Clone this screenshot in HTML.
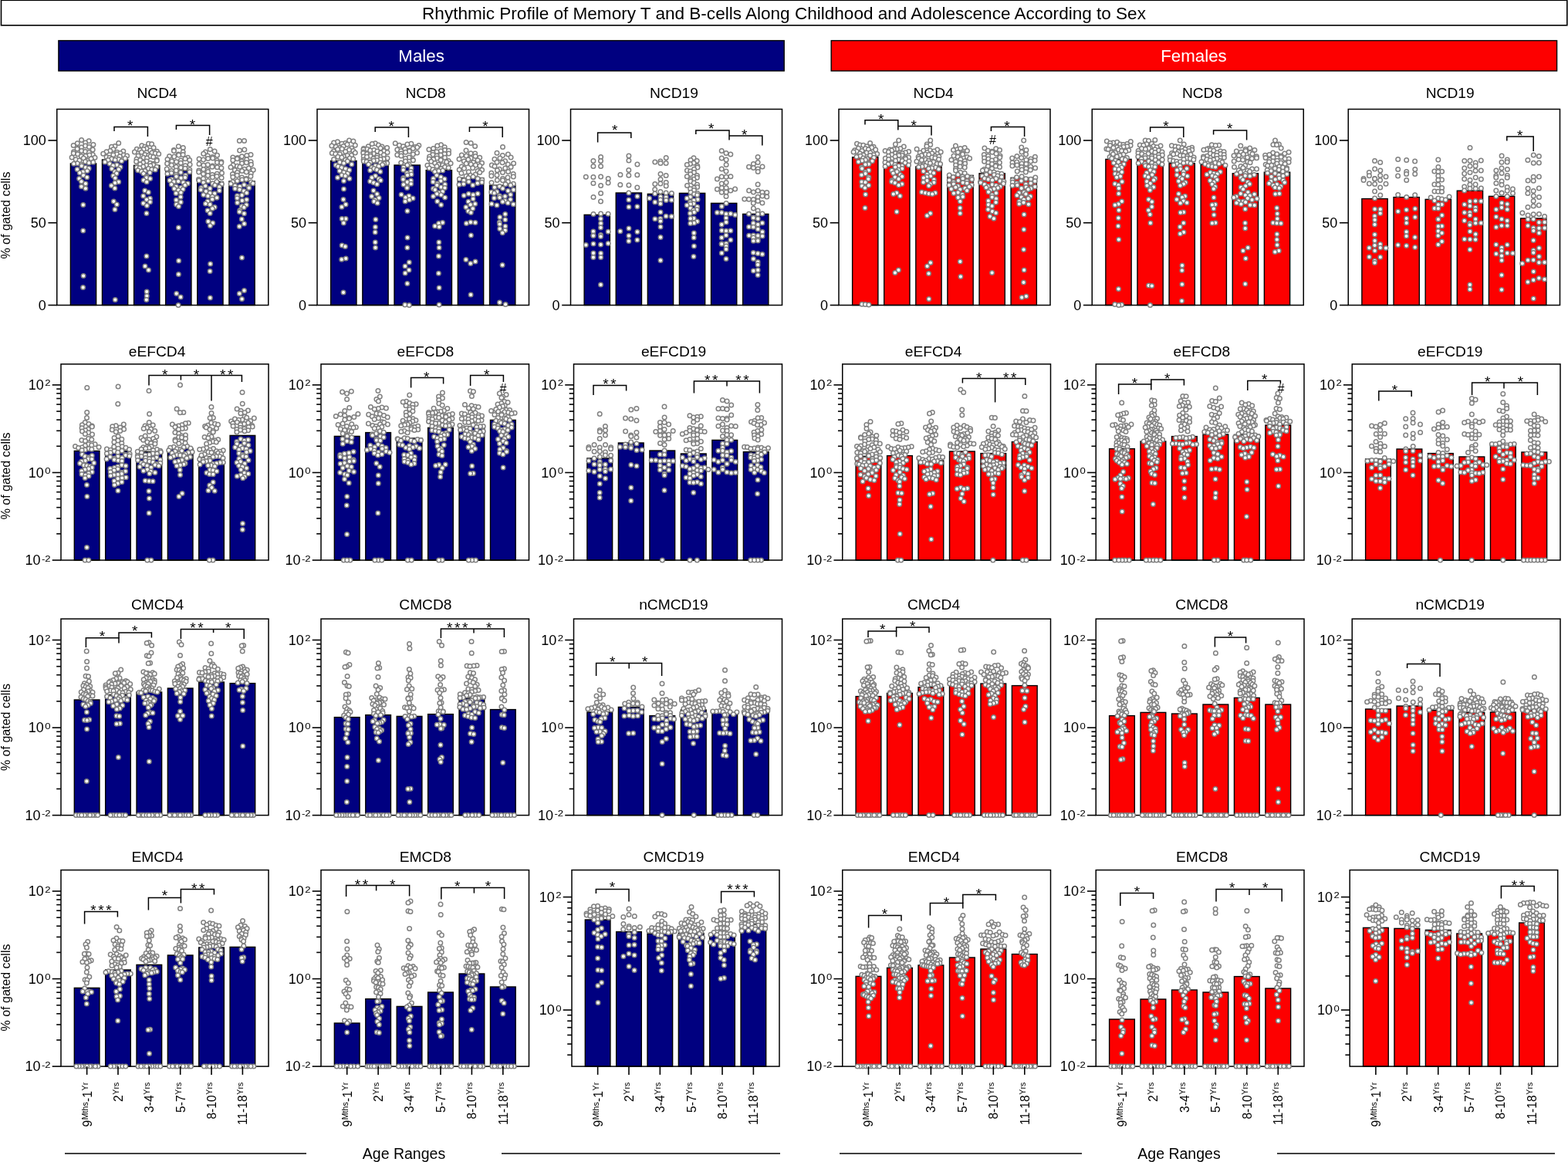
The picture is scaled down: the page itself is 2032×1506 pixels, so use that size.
<!DOCTYPE html>
<html lang="en"><head><meta charset="utf-8"><title>Rhythmic Profile of Memory T and B-cells Along Childhood and Adolescence According to Sex</title>
<style>
html,body{margin:0;padding:0;background:#fff}
body{width:2032px;height:1506px;overflow:hidden}
svg{display:block;font-family:"Liberation Sans",Arial,sans-serif;fill:#000}
.d circle{fill:#fff;stroke:#808080;stroke-width:1.5px}
</style></head><body>
<svg width="2032" height="1506" viewBox="0 0 2032 1506">
<rect x="0" y="0" width="2032" height="1506" fill="#fff"/>
<rect x="1.5" y="0.3" width="2029.3" height="32.5" fill="#fff" stroke="#000" stroke-width="1.6"/>
<text x="1016" y="25.2" font-size="22.55" text-anchor="middle">Rhythmic Profile of Memory T and B-cells Along Childhood and Adolescence According to Sex</text>
<rect x="75.9" y="52.6" width="940.3" height="39.3" fill="#000080" stroke="#000" stroke-width="1.4"/>
<text x="546.1" y="80" font-size="22.3" text-anchor="middle" fill="#fff">Males</text>
<rect x="1077.2" y="52.6" width="940.4" height="39.3" fill="#fd0000" stroke="#000" stroke-width="1.4"/>
<text x="1547" y="80" font-size="22.3" text-anchor="middle" fill="#fff">Females</text>
<g class="p">
<text x="203.6" y="127" font-size="19.2" text-anchor="middle">NCD4</text>
<rect x="91.38" y="212" width="33.25" height="183.5" fill="#000080" stroke="#000" stroke-width="1.4"/>
<rect x="132.47" y="207" width="33.25" height="188.5" fill="#000080" stroke="#000" stroke-width="1.4"/>
<rect x="173.57" y="214.4" width="33.25" height="181.1" fill="#000080" stroke="#000" stroke-width="1.4"/>
<rect x="214.68" y="221.2" width="33.25" height="174.3" fill="#000080" stroke="#000" stroke-width="1.4"/>
<rect x="255.77" y="235.6" width="33.25" height="159.9" fill="#000080" stroke="#000" stroke-width="1.4"/>
<rect x="296.88" y="235" width="33.25" height="160.5" fill="#000080" stroke="#000" stroke-width="1.4"/>
<rect x="73.75" y="141.5" width="274" height="254" fill="none" stroke="#000" stroke-width="1.5"/>
<line x1="62.45" y1="182" x2="73.75" y2="182" stroke="#000" stroke-width="1.6"/>
<text x="59.75" y="188.4" font-size="18" text-anchor="end">100</text>
<line x1="62.45" y1="288.75" x2="73.75" y2="288.75" stroke="#000" stroke-width="1.6"/>
<text x="59.75" y="295.15" font-size="18" text-anchor="end">50</text>
<line x1="62.45" y1="395.5" x2="73.75" y2="395.5" stroke="#000" stroke-width="1.6"/>
<text x="59.75" y="401.9" font-size="18" text-anchor="end">0</text>
<text transform="translate(13.2 279.1) rotate(-90)" font-size="16" text-anchor="middle">% of gated cells</text>
<polyline points="148,170 148,164.4 191.4,164.4 191.4,177" fill="none" stroke="#000" stroke-width="1.5"/>
<polyline points="228.4,168 228.4,162.4 271.6,162.4 271.6,175" fill="none" stroke="#000" stroke-width="1.5"/>
<text x="168.6" y="169.4" font-size="19" text-anchor="middle">*</text>
<text x="249.4" y="168.2" font-size="19" text-anchor="middle">*</text>
<text x="271.2" y="188.6" font-size="16" text-anchor="middle">#</text>
<g class="d"><circle cx="105.6" cy="181.5" r="2.75"/><circle cx="115.2" cy="182.8" r="2.75"/><circle cx="110.6" cy="185" r="2.75"/><circle cx="100.3" cy="185.7" r="2.75"/><circle cx="120.9" cy="187.5" r="2.75"/><circle cx="95.2" cy="188.4" r="2.75"/><circle cx="110.6" cy="189.1" r="2.75"/><circle cx="115.5" cy="190.5" r="2.75"/><circle cx="105.5" cy="191.1" r="2.75"/><circle cx="100.6" cy="192.4" r="2.75"/><circle cx="100.1" cy="193.1" r="2.75"/><circle cx="120.2" cy="194.1" r="2.75"/><circle cx="105.7" cy="195.4" r="2.75"/><circle cx="110.6" cy="196.5" r="2.75"/><circle cx="95.5" cy="196.8" r="2.75"/><circle cx="115.4" cy="197.7" r="2.75"/><circle cx="95.3" cy="198.8" r="2.75"/><circle cx="100.7" cy="199.8" r="2.75"/><circle cx="120.3" cy="200.4" r="2.75"/><circle cx="115.9" cy="201.1" r="2.75"/><circle cx="110.9" cy="202.3" r="2.75"/><circle cx="105.4" cy="202.4" r="2.75"/><circle cx="93.1" cy="203.9" r="2.75"/><circle cx="123" cy="204.3" r="2.75"/><circle cx="108.3" cy="205" r="2.75"/><circle cx="118.1" cy="205.8" r="2.75"/><circle cx="98.2" cy="206.7" r="2.75"/><circle cx="102.9" cy="207.9" r="2.75"/><circle cx="113.1" cy="208.3" r="2.75"/><circle cx="110.6" cy="209.4" r="2.75"/><circle cx="120.7" cy="210.2" r="2.75"/><circle cx="115.2" cy="210.9" r="2.75"/><circle cx="100.3" cy="211.8" r="2.75"/><circle cx="95.6" cy="212.3" r="2.75"/><circle cx="105.5" cy="213.2" r="2.75"/><circle cx="105.8" cy="214.9" r="2.75"/><circle cx="110.9" cy="217" r="2.75"/><circle cx="115.2" cy="218.2" r="2.75"/><circle cx="100.1" cy="219.5" r="2.75"/><circle cx="113" cy="221.4" r="2.75"/><circle cx="107.6" cy="222.7" r="2.75"/><circle cx="103.3" cy="224" r="2.75"/><circle cx="108.1" cy="227.2" r="2.75"/><circle cx="112.7" cy="229.8" r="2.75"/><circle cx="102.6" cy="231.5" r="2.75"/><circle cx="105.5" cy="235.2" r="2.75"/><circle cx="110.9" cy="237.9" r="2.75"/><circle cx="105.5" cy="241.7" r="2.75"/><circle cx="110.9" cy="244.2" r="2.75"/><circle cx="107.8" cy="265.6" r="2.75"/><circle cx="107.7" cy="299" r="2.75"/><circle cx="108.1" cy="357.4" r="2.75"/><circle cx="107.6" cy="372.6" r="2.75"/><circle cx="153.7" cy="185.4" r="2.75"/><circle cx="148.9" cy="189.6" r="2.75"/><circle cx="144.5" cy="190.2" r="2.75"/><circle cx="146.8" cy="193.5" r="2.75"/><circle cx="142.8" cy="195.5" r="2.75"/><circle cx="159.8" cy="195.9" r="2.75"/><circle cx="138" cy="196.8" r="2.75"/><circle cx="151.6" cy="197.3" r="2.75"/><circle cx="155.9" cy="198.4" r="2.75"/><circle cx="133.7" cy="199.2" r="2.75"/><circle cx="151.4" cy="199.8" r="2.75"/><circle cx="146.8" cy="200.8" r="2.75"/><circle cx="160.2" cy="201.1" r="2.75"/><circle cx="164.6" cy="202.1" r="2.75"/><circle cx="155.3" cy="202.8" r="2.75"/><circle cx="138.1" cy="203.5" r="2.75"/><circle cx="142.1" cy="204.2" r="2.75"/><circle cx="162.2" cy="205.2" r="2.75"/><circle cx="144.7" cy="206" r="2.75"/><circle cx="153.9" cy="206.4" r="2.75"/><circle cx="149.2" cy="207.3" r="2.75"/><circle cx="140.1" cy="207.6" r="2.75"/><circle cx="157.5" cy="208.8" r="2.75"/><circle cx="136" cy="210.1" r="2.75"/><circle cx="142.2" cy="212.3" r="2.75"/><circle cx="151.5" cy="213.8" r="2.75"/><circle cx="146.6" cy="214.7" r="2.75"/><circle cx="156" cy="216.5" r="2.75"/><circle cx="144.9" cy="218.7" r="2.75"/><circle cx="153.8" cy="219.4" r="2.75"/><circle cx="148.8" cy="222.5" r="2.75"/><circle cx="151.1" cy="224.8" r="2.75"/><circle cx="146.7" cy="227.7" r="2.75"/><circle cx="149.3" cy="230.7" r="2.75"/><circle cx="153.7" cy="235.8" r="2.75"/><circle cx="149" cy="237.1" r="2.75"/><circle cx="144.4" cy="240.6" r="2.75"/><circle cx="148.8" cy="244.1" r="2.75"/><circle cx="147.3" cy="261" r="2.75"/><circle cx="151.4" cy="265" r="2.75"/><circle cx="148.9" cy="271.6" r="2.75"/><circle cx="149.3" cy="388.6" r="2.75"/><circle cx="192.5" cy="186.3" r="2.75"/><circle cx="196.6" cy="186.7" r="2.75"/><circle cx="183.8" cy="188.7" r="2.75"/><circle cx="187.8" cy="190.3" r="2.75"/><circle cx="199.1" cy="191.6" r="2.75"/><circle cx="189.9" cy="192.4" r="2.75"/><circle cx="177.3" cy="193.2" r="2.75"/><circle cx="186.1" cy="193.5" r="2.75"/><circle cx="181.3" cy="194.4" r="2.75"/><circle cx="194.7" cy="195.1" r="2.75"/><circle cx="203.4" cy="196.2" r="2.75"/><circle cx="174.4" cy="197" r="2.75"/><circle cx="183.4" cy="197.2" r="2.75"/><circle cx="196.9" cy="198" r="2.75"/><circle cx="201.2" cy="198.8" r="2.75"/><circle cx="205.7" cy="199.6" r="2.75"/><circle cx="188" cy="200.5" r="2.75"/><circle cx="192.7" cy="201.3" r="2.75"/><circle cx="179.1" cy="201.9" r="2.75"/><circle cx="195" cy="202.5" r="2.75"/><circle cx="198.7" cy="203.5" r="2.75"/><circle cx="186.1" cy="204.2" r="2.75"/><circle cx="190.5" cy="205.1" r="2.75"/><circle cx="177" cy="206.2" r="2.75"/><circle cx="203.2" cy="206.7" r="2.75"/><circle cx="181.7" cy="207.4" r="2.75"/><circle cx="203.3" cy="208.2" r="2.75"/><circle cx="190" cy="209" r="2.75"/><circle cx="176.6" cy="209.4" r="2.75"/><circle cx="185.5" cy="210.7" r="2.75"/><circle cx="194.7" cy="211.4" r="2.75"/><circle cx="199" cy="212.2" r="2.75"/><circle cx="181.6" cy="212.9" r="2.75"/><circle cx="198.7" cy="213.4" r="2.75"/><circle cx="189.9" cy="214.2" r="2.75"/><circle cx="194.9" cy="214.7" r="2.75"/><circle cx="185.6" cy="215.9" r="2.75"/><circle cx="203.2" cy="216.2" r="2.75"/><circle cx="177.2" cy="217" r="2.75"/><circle cx="181" cy="217.8" r="2.75"/><circle cx="192.4" cy="218.6" r="2.75"/><circle cx="196.7" cy="219.5" r="2.75"/><circle cx="201.2" cy="220" r="2.75"/><circle cx="178.8" cy="220.8" r="2.75"/><circle cx="187.8" cy="221.6" r="2.75"/><circle cx="183.4" cy="222.3" r="2.75"/><circle cx="194.2" cy="223.8" r="2.75"/><circle cx="186" cy="225.1" r="2.75"/><circle cx="189.8" cy="228.7" r="2.75"/><circle cx="189.9" cy="230.2" r="2.75"/><circle cx="194.6" cy="231.4" r="2.75"/><circle cx="186.1" cy="233.6" r="2.75"/><circle cx="190.1" cy="235.7" r="2.75"/><circle cx="187.7" cy="247.1" r="2.75"/><circle cx="192.3" cy="249.3" r="2.75"/><circle cx="185.7" cy="254.1" r="2.75"/><circle cx="194.5" cy="257.3" r="2.75"/><circle cx="190" cy="258.8" r="2.75"/><circle cx="194.5" cy="261.8" r="2.75"/><circle cx="185.8" cy="263.6" r="2.75"/><circle cx="190.4" cy="266.5" r="2.75"/><circle cx="189.9" cy="276.6" r="2.75"/><circle cx="189.9" cy="332" r="2.75"/><circle cx="188" cy="345" r="2.75"/><circle cx="192.5" cy="350" r="2.75"/><circle cx="190.2" cy="378" r="2.75"/><circle cx="190.3" cy="383.4" r="2.75"/><circle cx="189.8" cy="388.6" r="2.75"/><circle cx="231.3" cy="189.7" r="2.75"/><circle cx="237.3" cy="191.6" r="2.75"/><circle cx="225.3" cy="194.6" r="2.75"/><circle cx="225.4" cy="195.4" r="2.75"/><circle cx="237.2" cy="197.1" r="2.75"/><circle cx="231.1" cy="199.9" r="2.75"/><circle cx="237.1" cy="200.5" r="2.75"/><circle cx="231.6" cy="201.1" r="2.75"/><circle cx="219.5" cy="202.4" r="2.75"/><circle cx="225.7" cy="202.9" r="2.75"/><circle cx="243.4" cy="204.3" r="2.75"/><circle cx="240" cy="205.7" r="2.75"/><circle cx="217" cy="206.6" r="2.75"/><circle cx="245.7" cy="207.4" r="2.75"/><circle cx="234.3" cy="208" r="2.75"/><circle cx="222.7" cy="209" r="2.75"/><circle cx="228.6" cy="209.8" r="2.75"/><circle cx="234.3" cy="211.3" r="2.75"/><circle cx="216.6" cy="212.1" r="2.75"/><circle cx="246.1" cy="213.3" r="2.75"/><circle cx="222.3" cy="213.9" r="2.75"/><circle cx="240.2" cy="214.7" r="2.75"/><circle cx="228.3" cy="216.2" r="2.75"/><circle cx="234.4" cy="217.3" r="2.75"/><circle cx="239.9" cy="218.2" r="2.75"/><circle cx="216.2" cy="219.1" r="2.75"/><circle cx="245.8" cy="220.1" r="2.75"/><circle cx="228.3" cy="221" r="2.75"/><circle cx="222.2" cy="221.5" r="2.75"/><circle cx="245.8" cy="222.7" r="2.75"/><circle cx="234.3" cy="223.6" r="2.75"/><circle cx="222.1" cy="224.2" r="2.75"/><circle cx="217" cy="225.2" r="2.75"/><circle cx="228.2" cy="226.4" r="2.75"/><circle cx="240.4" cy="227.3" r="2.75"/><circle cx="228.5" cy="228.7" r="2.75"/><circle cx="239.9" cy="230.1" r="2.75"/><circle cx="234.6" cy="230.7" r="2.75"/><circle cx="222.5" cy="232.5" r="2.75"/><circle cx="219.9" cy="233.7" r="2.75"/><circle cx="231.1" cy="234.9" r="2.75"/><circle cx="225.3" cy="235.5" r="2.75"/><circle cx="237.5" cy="236.5" r="2.75"/><circle cx="243.3" cy="237.7" r="2.75"/><circle cx="222.2" cy="238.9" r="2.75"/><circle cx="239.8" cy="240.1" r="2.75"/><circle cx="228.3" cy="241.7" r="2.75"/><circle cx="234.5" cy="243.2" r="2.75"/><circle cx="225.8" cy="244.4" r="2.75"/><circle cx="237.1" cy="245.2" r="2.75"/><circle cx="231.3" cy="246.6" r="2.75"/><circle cx="234.4" cy="249.4" r="2.75"/><circle cx="228.1" cy="250.5" r="2.75"/><circle cx="234.1" cy="255.3" r="2.75"/><circle cx="228.4" cy="259.2" r="2.75"/><circle cx="234.3" cy="261.9" r="2.75"/><circle cx="228.6" cy="265" r="2.75"/><circle cx="231.5" cy="267.4" r="2.75"/><circle cx="231.4" cy="295" r="2.75"/><circle cx="231.6" cy="338" r="2.75"/><circle cx="231.4" cy="355.6" r="2.75"/><circle cx="228.7" cy="380.4" r="2.75"/><circle cx="234.1" cy="385" r="2.75"/><circle cx="231.1" cy="395.4" r="2.75"/><circle cx="272.3" cy="193.4" r="2.75"/><circle cx="278.1" cy="195.9" r="2.75"/><circle cx="266.3" cy="196.9" r="2.75"/><circle cx="263.7" cy="199.3" r="2.75"/><circle cx="281.5" cy="201.2" r="2.75"/><circle cx="269.2" cy="202" r="2.75"/><circle cx="275.4" cy="203.4" r="2.75"/><circle cx="275.7" cy="204.9" r="2.75"/><circle cx="269.6" cy="205.6" r="2.75"/><circle cx="258" cy="206.1" r="2.75"/><circle cx="263.5" cy="207.1" r="2.75"/><circle cx="281.2" cy="208" r="2.75"/><circle cx="286.9" cy="209.7" r="2.75"/><circle cx="281.4" cy="210.6" r="2.75"/><circle cx="286.7" cy="211" r="2.75"/><circle cx="258" cy="212.5" r="2.75"/><circle cx="269.2" cy="213.6" r="2.75"/><circle cx="263.8" cy="214.3" r="2.75"/><circle cx="275.4" cy="215" r="2.75"/><circle cx="275" cy="216.2" r="2.75"/><circle cx="281.5" cy="216.8" r="2.75"/><circle cx="286.9" cy="217.7" r="2.75"/><circle cx="263.8" cy="219.5" r="2.75"/><circle cx="269.1" cy="220.2" r="2.75"/><circle cx="257.7" cy="221" r="2.75"/><circle cx="269.5" cy="222.4" r="2.75"/><circle cx="257.6" cy="222.9" r="2.75"/><circle cx="287.5" cy="224.2" r="2.75"/><circle cx="281.3" cy="225.2" r="2.75"/><circle cx="263.5" cy="225.6" r="2.75"/><circle cx="275.1" cy="226.6" r="2.75"/><circle cx="269.4" cy="227.6" r="2.75"/><circle cx="281" cy="228.6" r="2.75"/><circle cx="275.4" cy="229.8" r="2.75"/><circle cx="287.1" cy="230.5" r="2.75"/><circle cx="263.5" cy="231.6" r="2.75"/><circle cx="257.4" cy="232.4" r="2.75"/><circle cx="257.8" cy="234" r="2.75"/><circle cx="269.8" cy="234.5" r="2.75"/><circle cx="280.9" cy="235.6" r="2.75"/><circle cx="263.7" cy="236.6" r="2.75"/><circle cx="275.6" cy="237.9" r="2.75"/><circle cx="287.4" cy="238.4" r="2.75"/><circle cx="278.5" cy="240.1" r="2.75"/><circle cx="266.2" cy="240.9" r="2.75"/><circle cx="284.3" cy="242.3" r="2.75"/><circle cx="260.7" cy="243.5" r="2.75"/><circle cx="272.2" cy="244.2" r="2.75"/><circle cx="260.3" cy="246" r="2.75"/><circle cx="284.3" cy="247" r="2.75"/><circle cx="266.9" cy="248.1" r="2.75"/><circle cx="272.1" cy="250.3" r="2.75"/><circle cx="278.1" cy="250.8" r="2.75"/><circle cx="263.7" cy="252.5" r="2.75"/><circle cx="269.4" cy="254" r="2.75"/><circle cx="275.2" cy="255.1" r="2.75"/><circle cx="281" cy="256.2" r="2.75"/><circle cx="275.1" cy="258.3" r="2.75"/><circle cx="269.1" cy="260.9" r="2.75"/><circle cx="266.4" cy="263.9" r="2.75"/><circle cx="272.2" cy="264.9" r="2.75"/><circle cx="278.2" cy="268.4" r="2.75"/><circle cx="275.3" cy="270.2" r="2.75"/><circle cx="269.1" cy="272.7" r="2.75"/><circle cx="272.2" cy="276.4" r="2.75"/><circle cx="269.8" cy="287" r="2.75"/><circle cx="275.7" cy="289" r="2.75"/><circle cx="272.4" cy="292.4" r="2.75"/><circle cx="272.6" cy="342" r="2.75"/><circle cx="272.1" cy="351.6" r="2.75"/><circle cx="272.4" cy="386" r="2.75"/><circle cx="316.5" cy="182.4" r="2.75"/><circle cx="310.3" cy="182.6" r="2.75"/><circle cx="316.8" cy="194" r="2.75"/><circle cx="310.6" cy="195" r="2.75"/><circle cx="325" cy="200.5" r="2.75"/><circle cx="319.8" cy="201.6" r="2.75"/><circle cx="313.4" cy="202.8" r="2.75"/><circle cx="301.8" cy="204" r="2.75"/><circle cx="307.8" cy="204.6" r="2.75"/><circle cx="307.4" cy="205.7" r="2.75"/><circle cx="319.7" cy="206.7" r="2.75"/><circle cx="301.8" cy="207.7" r="2.75"/><circle cx="313.2" cy="208.9" r="2.75"/><circle cx="325.1" cy="209.7" r="2.75"/><circle cx="319.4" cy="210.8" r="2.75"/><circle cx="313.5" cy="211.7" r="2.75"/><circle cx="325.4" cy="213.2" r="2.75"/><circle cx="302.1" cy="214" r="2.75"/><circle cx="307.5" cy="215.2" r="2.75"/><circle cx="310.8" cy="216.3" r="2.75"/><circle cx="299" cy="216.7" r="2.75"/><circle cx="322.3" cy="218" r="2.75"/><circle cx="316.6" cy="219.3" r="2.75"/><circle cx="328.2" cy="220.3" r="2.75"/><circle cx="304.3" cy="220.6" r="2.75"/><circle cx="313.6" cy="221.6" r="2.75"/><circle cx="319.3" cy="223" r="2.75"/><circle cx="307.6" cy="223.6" r="2.75"/><circle cx="325.3" cy="224.8" r="2.75"/><circle cx="301.4" cy="225.7" r="2.75"/><circle cx="307.3" cy="227.3" r="2.75"/><circle cx="324.9" cy="228.4" r="2.75"/><circle cx="301.8" cy="229.5" r="2.75"/><circle cx="313.4" cy="229.9" r="2.75"/><circle cx="319.2" cy="231.4" r="2.75"/><circle cx="319" cy="232.4" r="2.75"/><circle cx="313.7" cy="232.9" r="2.75"/><circle cx="307.5" cy="234.6" r="2.75"/><circle cx="301.6" cy="235.7" r="2.75"/><circle cx="325.5" cy="236" r="2.75"/><circle cx="327.8" cy="237.7" r="2.75"/><circle cx="299.1" cy="238.3" r="2.75"/><circle cx="316.4" cy="239.4" r="2.75"/><circle cx="304.6" cy="240.8" r="2.75"/><circle cx="310.8" cy="241.7" r="2.75"/><circle cx="322" cy="242.1" r="2.75"/><circle cx="322.6" cy="243.4" r="2.75"/><circle cx="304.6" cy="244.5" r="2.75"/><circle cx="310.5" cy="245.8" r="2.75"/><circle cx="316.1" cy="247.6" r="2.75"/><circle cx="319.6" cy="250" r="2.75"/><circle cx="313.5" cy="252.9" r="2.75"/><circle cx="307.5" cy="253.7" r="2.75"/><circle cx="307.4" cy="256.8" r="2.75"/><circle cx="319.6" cy="258.8" r="2.75"/><circle cx="313.8" cy="260.1" r="2.75"/><circle cx="307.6" cy="262.8" r="2.75"/><circle cx="319.3" cy="265.5" r="2.75"/><circle cx="313.4" cy="267.4" r="2.75"/><circle cx="316.2" cy="268.7" r="2.75"/><circle cx="310.8" cy="272.6" r="2.75"/><circle cx="310.3" cy="274.4" r="2.75"/><circle cx="316.4" cy="276.8" r="2.75"/><circle cx="313.3" cy="284" r="2.75"/><circle cx="316.5" cy="290" r="2.75"/><circle cx="310.2" cy="293.4" r="2.75"/><circle cx="313.5" cy="334" r="2.75"/><circle cx="316.5" cy="376.6" r="2.75"/><circle cx="310.3" cy="380.4" r="2.75"/><circle cx="313.5" cy="387.4" r="2.75"/></g>
</g>
<g class="p">
<text x="551.6" y="127" font-size="19.2" text-anchor="middle">NCD8</text>
<rect x="428.66" y="208.4" width="33.31" height="187.1" fill="#000080" stroke="#000" stroke-width="1.4"/>
<rect x="469.83" y="207.6" width="33.31" height="187.9" fill="#000080" stroke="#000" stroke-width="1.4"/>
<rect x="511.01" y="214" width="33.31" height="181.5" fill="#000080" stroke="#000" stroke-width="1.4"/>
<rect x="552.18" y="220.6" width="33.31" height="174.9" fill="#000080" stroke="#000" stroke-width="1.4"/>
<rect x="593.36" y="230.6" width="33.31" height="164.9" fill="#000080" stroke="#000" stroke-width="1.4"/>
<rect x="634.53" y="240.2" width="33.31" height="155.3" fill="#000080" stroke="#000" stroke-width="1.4"/>
<rect x="411" y="141.5" width="274.5" height="254" fill="none" stroke="#000" stroke-width="1.5"/>
<line x1="399.7" y1="182" x2="411" y2="182" stroke="#000" stroke-width="1.6"/>
<text x="397" y="188.4" font-size="18" text-anchor="end">100</text>
<line x1="399.7" y1="288.75" x2="411" y2="288.75" stroke="#000" stroke-width="1.6"/>
<text x="397" y="295.15" font-size="18" text-anchor="end">50</text>
<line x1="399.7" y1="395.5" x2="411" y2="395.5" stroke="#000" stroke-width="1.6"/>
<text x="397" y="401.9" font-size="18" text-anchor="end">0</text>
<polyline points="486.2,171 486.2,165 529.4,165 529.4,178" fill="none" stroke="#000" stroke-width="1.5"/>
<polyline points="608.4,171 608.4,165 651.2,165 651.2,178" fill="none" stroke="#000" stroke-width="1.5"/>
<text x="507.2" y="169.8" font-size="19" text-anchor="middle">*</text>
<text x="629" y="170.4" font-size="19" text-anchor="middle">*</text>
<g class="d"><circle cx="452.5" cy="182.1" r="2.75"/><circle cx="457.9" cy="183" r="2.75"/><circle cx="437.4" cy="183.7" r="2.75"/><circle cx="432.6" cy="185" r="2.75"/><circle cx="447.6" cy="185.5" r="2.75"/><circle cx="443" cy="186.2" r="2.75"/><circle cx="450" cy="187.2" r="2.75"/><circle cx="460.3" cy="188.3" r="2.75"/><circle cx="429.9" cy="189.1" r="2.75"/><circle cx="445" cy="189.5" r="2.75"/><circle cx="435.3" cy="190.2" r="2.75"/><circle cx="440.1" cy="191.6" r="2.75"/><circle cx="455.6" cy="192.1" r="2.75"/><circle cx="443.2" cy="193" r="2.75"/><circle cx="437.6" cy="193.4" r="2.75"/><circle cx="452.5" cy="194.2" r="2.75"/><circle cx="457.9" cy="195.4" r="2.75"/><circle cx="432.3" cy="196.1" r="2.75"/><circle cx="447.7" cy="196.6" r="2.75"/><circle cx="460.3" cy="198" r="2.75"/><circle cx="430.3" cy="198.6" r="2.75"/><circle cx="434.8" cy="199.6" r="2.75"/><circle cx="440.3" cy="199.8" r="2.75"/><circle cx="455.4" cy="201.2" r="2.75"/><circle cx="450.1" cy="201.4" r="2.75"/><circle cx="445.3" cy="202.8" r="2.75"/><circle cx="437.9" cy="203.3" r="2.75"/><circle cx="442.9" cy="204.1" r="2.75"/><circle cx="453.2" cy="205" r="2.75"/><circle cx="457.7" cy="206.1" r="2.75"/><circle cx="432.6" cy="206.4" r="2.75"/><circle cx="447.8" cy="207.2" r="2.75"/><circle cx="450.3" cy="209.1" r="2.75"/><circle cx="440.3" cy="210.2" r="2.75"/><circle cx="445.5" cy="211.4" r="2.75"/><circle cx="455.7" cy="212.9" r="2.75"/><circle cx="435.3" cy="214.1" r="2.75"/><circle cx="438.1" cy="215.7" r="2.75"/><circle cx="442.7" cy="217.3" r="2.75"/><circle cx="447.8" cy="218.7" r="2.75"/><circle cx="452.7" cy="220.6" r="2.75"/><circle cx="440.1" cy="221.5" r="2.75"/><circle cx="445.6" cy="223.6" r="2.75"/><circle cx="450.4" cy="224.9" r="2.75"/><circle cx="443" cy="226.9" r="2.75"/><circle cx="447.5" cy="228.1" r="2.75"/><circle cx="437.5" cy="230.2" r="2.75"/><circle cx="452.9" cy="231.6" r="2.75"/><circle cx="445.5" cy="234.5" r="2.75"/><circle cx="445.5" cy="245" r="2.75"/><circle cx="445" cy="258.4" r="2.75"/><circle cx="448.1" cy="265" r="2.75"/><circle cx="442.9" cy="268.2" r="2.75"/><circle cx="448.1" cy="283.4" r="2.75"/><circle cx="443.1" cy="283.6" r="2.75"/><circle cx="445.3" cy="289" r="2.75"/><circle cx="443.2" cy="318" r="2.75"/><circle cx="447.4" cy="319.6" r="2.75"/><circle cx="448.2" cy="335" r="2.75"/><circle cx="442.7" cy="336.2" r="2.75"/><circle cx="445" cy="379" r="2.75"/><circle cx="486.3" cy="185.7" r="2.75"/><circle cx="482.2" cy="186.5" r="2.75"/><circle cx="490.5" cy="188" r="2.75"/><circle cx="477.3" cy="189.7" r="2.75"/><circle cx="495" cy="190" r="2.75"/><circle cx="501.6" cy="191.5" r="2.75"/><circle cx="493.1" cy="191.9" r="2.75"/><circle cx="471.3" cy="192.5" r="2.75"/><circle cx="475.8" cy="193.3" r="2.75"/><circle cx="471" cy="193.7" r="2.75"/><circle cx="484.6" cy="194.4" r="2.75"/><circle cx="479.7" cy="195.1" r="2.75"/><circle cx="497.6" cy="195.8" r="2.75"/><circle cx="488.9" cy="196.1" r="2.75"/><circle cx="471" cy="197" r="2.75"/><circle cx="502" cy="197.5" r="2.75"/><circle cx="493.4" cy="198.1" r="2.75"/><circle cx="470.8" cy="198.6" r="2.75"/><circle cx="484.4" cy="199.2" r="2.75"/><circle cx="475.7" cy="199.6" r="2.75"/><circle cx="480" cy="200.3" r="2.75"/><circle cx="497.4" cy="200.8" r="2.75"/><circle cx="488.9" cy="201.8" r="2.75"/><circle cx="480" cy="202.2" r="2.75"/><circle cx="471.2" cy="202.7" r="2.75"/><circle cx="475.4" cy="203.3" r="2.75"/><circle cx="488.6" cy="204.3" r="2.75"/><circle cx="502" cy="205" r="2.75"/><circle cx="483.9" cy="205.5" r="2.75"/><circle cx="497.2" cy="205.9" r="2.75"/><circle cx="493.1" cy="206.4" r="2.75"/><circle cx="471.1" cy="207.1" r="2.75"/><circle cx="488.5" cy="207.8" r="2.75"/><circle cx="484.2" cy="208.2" r="2.75"/><circle cx="471.3" cy="209" r="2.75"/><circle cx="475.1" cy="209.5" r="2.75"/><circle cx="479.7" cy="210.5" r="2.75"/><circle cx="493" cy="211.1" r="2.75"/><circle cx="501.7" cy="211.5" r="2.75"/><circle cx="497.7" cy="211.9" r="2.75"/><circle cx="477.6" cy="213" r="2.75"/><circle cx="495.6" cy="213.4" r="2.75"/><circle cx="486.6" cy="214.7" r="2.75"/><circle cx="490.8" cy="215.6" r="2.75"/><circle cx="481.8" cy="217.2" r="2.75"/><circle cx="484.6" cy="218.6" r="2.75"/><circle cx="488.4" cy="219.9" r="2.75"/><circle cx="479.7" cy="220.8" r="2.75"/><circle cx="492.8" cy="222.4" r="2.75"/><circle cx="486.5" cy="228.1" r="2.75"/><circle cx="481.9" cy="230.2" r="2.75"/><circle cx="491" cy="231.7" r="2.75"/><circle cx="493.3" cy="233.8" r="2.75"/><circle cx="479.7" cy="235" r="2.75"/><circle cx="484.2" cy="236.7" r="2.75"/><circle cx="488.6" cy="238.8" r="2.75"/><circle cx="484" cy="247" r="2.75"/><circle cx="488.6" cy="251.6" r="2.75"/><circle cx="481.7" cy="254.4" r="2.75"/><circle cx="491.1" cy="256.5" r="2.75"/><circle cx="486.2" cy="259.1" r="2.75"/><circle cx="484.7" cy="261.1" r="2.75"/><circle cx="489.1" cy="263.3" r="2.75"/><circle cx="486.8" cy="284.4" r="2.75"/><circle cx="486.4" cy="294.2" r="2.75"/><circle cx="486.2" cy="301" r="2.75"/><circle cx="486.3" cy="314" r="2.75"/><circle cx="486.5" cy="321" r="2.75"/><circle cx="512.2" cy="185.7" r="2.75"/><circle cx="532.9" cy="186.2" r="2.75"/><circle cx="527.9" cy="187" r="2.75"/><circle cx="517.5" cy="188.3" r="2.75"/><circle cx="542.8" cy="188.5" r="2.75"/><circle cx="522.5" cy="189.8" r="2.75"/><circle cx="538.1" cy="190.6" r="2.75"/><circle cx="540.7" cy="191" r="2.75"/><circle cx="535.2" cy="192.4" r="2.75"/><circle cx="524.9" cy="193.3" r="2.75"/><circle cx="514.8" cy="193.9" r="2.75"/><circle cx="530.4" cy="194.9" r="2.75"/><circle cx="519.7" cy="195.8" r="2.75"/><circle cx="530.5" cy="196.1" r="2.75"/><circle cx="525.5" cy="197.2" r="2.75"/><circle cx="540.5" cy="198.1" r="2.75"/><circle cx="519.9" cy="199.1" r="2.75"/><circle cx="535.3" cy="200" r="2.75"/><circle cx="514.8" cy="200.8" r="2.75"/><circle cx="519.9" cy="201.9" r="2.75"/><circle cx="530.1" cy="204" r="2.75"/><circle cx="525.4" cy="205.3" r="2.75"/><circle cx="535" cy="206.9" r="2.75"/><circle cx="535.4" cy="207.8" r="2.75"/><circle cx="525.5" cy="209.1" r="2.75"/><circle cx="519.7" cy="210.9" r="2.75"/><circle cx="529.9" cy="212.8" r="2.75"/><circle cx="527.9" cy="214" r="2.75"/><circle cx="523" cy="216.7" r="2.75"/><circle cx="533" cy="218.1" r="2.75"/><circle cx="522.7" cy="220.2" r="2.75"/><circle cx="532.4" cy="222.2" r="2.75"/><circle cx="527.5" cy="224.3" r="2.75"/><circle cx="533" cy="226" r="2.75"/><circle cx="528" cy="227.1" r="2.75"/><circle cx="522.7" cy="230.5" r="2.75"/><circle cx="522.5" cy="232.4" r="2.75"/><circle cx="532.5" cy="234" r="2.75"/><circle cx="527.8" cy="236.1" r="2.75"/><circle cx="532.6" cy="238.3" r="2.75"/><circle cx="523" cy="239.2" r="2.75"/><circle cx="527.7" cy="242.4" r="2.75"/><circle cx="527.5" cy="243.6" r="2.75"/><circle cx="520.1" cy="252.2" r="2.75"/><circle cx="529.9" cy="253.9" r="2.75"/><circle cx="525.5" cy="256.1" r="2.75"/><circle cx="535.1" cy="256.9" r="2.75"/><circle cx="530.5" cy="259.1" r="2.75"/><circle cx="525.1" cy="260.9" r="2.75"/><circle cx="527.9" cy="273.6" r="2.75"/><circle cx="528" cy="308" r="2.75"/><circle cx="527.8" cy="321" r="2.75"/><circle cx="530.3" cy="340" r="2.75"/><circle cx="525" cy="345" r="2.75"/><circle cx="530" cy="350" r="2.75"/><circle cx="525.1" cy="354" r="2.75"/><circle cx="527.8" cy="367.4" r="2.75"/><circle cx="524.8" cy="395" r="2.75"/><circle cx="530.3" cy="395.4" r="2.75"/><circle cx="571.5" cy="187.7" r="2.75"/><circle cx="566.7" cy="189.1" r="2.75"/><circle cx="576.2" cy="190.7" r="2.75"/><circle cx="561.6" cy="192.5" r="2.75"/><circle cx="555.9" cy="193.7" r="2.75"/><circle cx="576.5" cy="194.4" r="2.75"/><circle cx="581.5" cy="195.3" r="2.75"/><circle cx="571.2" cy="195.8" r="2.75"/><circle cx="565.9" cy="196.7" r="2.75"/><circle cx="561" cy="197.7" r="2.75"/><circle cx="581.5" cy="198.9" r="2.75"/><circle cx="576.1" cy="199.5" r="2.75"/><circle cx="560.9" cy="200.6" r="2.75"/><circle cx="571.1" cy="201" r="2.75"/><circle cx="566.1" cy="201.9" r="2.75"/><circle cx="556.6" cy="203" r="2.75"/><circle cx="576.5" cy="204.2" r="2.75"/><circle cx="566.3" cy="205.1" r="2.75"/><circle cx="556.2" cy="205.9" r="2.75"/><circle cx="561.7" cy="206.5" r="2.75"/><circle cx="571.2" cy="207.6" r="2.75"/><circle cx="581.2" cy="208.4" r="2.75"/><circle cx="558.7" cy="209.3" r="2.75"/><circle cx="578.7" cy="209.9" r="2.75"/><circle cx="563.7" cy="211.4" r="2.75"/><circle cx="584.1" cy="211.7" r="2.75"/><circle cx="568.4" cy="213.2" r="2.75"/><circle cx="573.8" cy="214.1" r="2.75"/><circle cx="553.9" cy="214.2" r="2.75"/><circle cx="566.1" cy="215.5" r="2.75"/><circle cx="576.4" cy="216.6" r="2.75"/><circle cx="581.2" cy="217.6" r="2.75"/><circle cx="556.2" cy="218.1" r="2.75"/><circle cx="571.6" cy="218.8" r="2.75"/><circle cx="561" cy="219.7" r="2.75"/><circle cx="573.7" cy="221.1" r="2.75"/><circle cx="568.5" cy="221.4" r="2.75"/><circle cx="563.5" cy="222.6" r="2.75"/><circle cx="565.9" cy="227.3" r="2.75"/><circle cx="571.3" cy="229.4" r="2.75"/><circle cx="561.6" cy="231.6" r="2.75"/><circle cx="576.1" cy="232" r="2.75"/><circle cx="571.3" cy="234.6" r="2.75"/><circle cx="561.2" cy="235.7" r="2.75"/><circle cx="566.7" cy="237.8" r="2.75"/><circle cx="576.6" cy="239.1" r="2.75"/><circle cx="566.3" cy="240" r="2.75"/><circle cx="571.6" cy="242.6" r="2.75"/><circle cx="576.4" cy="243.6" r="2.75"/><circle cx="561.5" cy="244.5" r="2.75"/><circle cx="563.8" cy="246" r="2.75"/><circle cx="573.6" cy="248.3" r="2.75"/><circle cx="568.7" cy="249.8" r="2.75"/><circle cx="566.2" cy="251.2" r="2.75"/><circle cx="571.6" cy="252.5" r="2.75"/><circle cx="561.5" cy="254.4" r="2.75"/><circle cx="576.6" cy="255.9" r="2.75"/><circle cx="566.7" cy="261" r="2.75"/><circle cx="571.6" cy="265.6" r="2.75"/><circle cx="573.5" cy="288.6" r="2.75"/><circle cx="568.6" cy="289.4" r="2.75"/><circle cx="563.6" cy="293" r="2.75"/><circle cx="569.2" cy="294" r="2.75"/><circle cx="568.8" cy="314" r="2.75"/><circle cx="569.1" cy="321" r="2.75"/><circle cx="568.5" cy="332" r="2.75"/><circle cx="568.4" cy="354.2" r="2.75"/><circle cx="569.1" cy="373" r="2.75"/><circle cx="569.1" cy="395" r="2.75"/><circle cx="604.1" cy="184.6" r="2.75"/><circle cx="610.2" cy="185.4" r="2.75"/><circle cx="615.6" cy="189.4" r="2.75"/><circle cx="604" cy="195" r="2.75"/><circle cx="610.1" cy="198.8" r="2.75"/><circle cx="615.7" cy="199.1" r="2.75"/><circle cx="598.3" cy="200.9" r="2.75"/><circle cx="604.3" cy="202" r="2.75"/><circle cx="616.1" cy="202.4" r="2.75"/><circle cx="621.7" cy="204.2" r="2.75"/><circle cx="610.2" cy="205" r="2.75"/><circle cx="595" cy="206.2" r="2.75"/><circle cx="606.8" cy="206.7" r="2.75"/><circle cx="619" cy="207.8" r="2.75"/><circle cx="601.3" cy="208.9" r="2.75"/><circle cx="613.4" cy="210.5" r="2.75"/><circle cx="624.5" cy="211.2" r="2.75"/><circle cx="604.2" cy="212" r="2.75"/><circle cx="610.3" cy="213.1" r="2.75"/><circle cx="616.3" cy="214" r="2.75"/><circle cx="621.8" cy="214.9" r="2.75"/><circle cx="598.2" cy="216" r="2.75"/><circle cx="612.6" cy="217.7" r="2.75"/><circle cx="601.5" cy="218.2" r="2.75"/><circle cx="595.2" cy="219.9" r="2.75"/><circle cx="624.6" cy="220.3" r="2.75"/><circle cx="619.1" cy="221.4" r="2.75"/><circle cx="607.3" cy="222.7" r="2.75"/><circle cx="621.7" cy="223.4" r="2.75"/><circle cx="597.9" cy="224.6" r="2.75"/><circle cx="616.1" cy="226.2" r="2.75"/><circle cx="609.7" cy="227.2" r="2.75"/><circle cx="604.1" cy="228.2" r="2.75"/><circle cx="613.1" cy="229.1" r="2.75"/><circle cx="607" cy="230.4" r="2.75"/><circle cx="619.1" cy="231.5" r="2.75"/><circle cx="595.3" cy="232.1" r="2.75"/><circle cx="624.8" cy="233.3" r="2.75"/><circle cx="601.1" cy="233.8" r="2.75"/><circle cx="607.4" cy="235.5" r="2.75"/><circle cx="624.5" cy="236.2" r="2.75"/><circle cx="618.8" cy="237.6" r="2.75"/><circle cx="600.8" cy="238.5" r="2.75"/><circle cx="595" cy="239.2" r="2.75"/><circle cx="612.7" cy="240" r="2.75"/><circle cx="619.1" cy="250.9" r="2.75"/><circle cx="607.3" cy="251.2" r="2.75"/><circle cx="613.2" cy="252.5" r="2.75"/><circle cx="601.2" cy="253.4" r="2.75"/><circle cx="613.1" cy="257.8" r="2.75"/><circle cx="607" cy="261.3" r="2.75"/><circle cx="615.7" cy="264.3" r="2.75"/><circle cx="609.7" cy="265.2" r="2.75"/><circle cx="603.9" cy="268.6" r="2.75"/><circle cx="612.7" cy="270.3" r="2.75"/><circle cx="606.8" cy="273.4" r="2.75"/><circle cx="610.3" cy="275.5" r="2.75"/><circle cx="609.9" cy="288" r="2.75"/><circle cx="615.9" cy="288.6" r="2.75"/><circle cx="604.4" cy="289.4" r="2.75"/><circle cx="610.4" cy="305" r="2.75"/><circle cx="603.8" cy="336.6" r="2.75"/><circle cx="616" cy="339" r="2.75"/><circle cx="609.8" cy="341.6" r="2.75"/><circle cx="610.1" cy="382" r="2.75"/><circle cx="651.5" cy="190.4" r="2.75"/><circle cx="644" cy="198.3" r="2.75"/><circle cx="658.4" cy="199.9" r="2.75"/><circle cx="651.3" cy="201.5" r="2.75"/><circle cx="662.1" cy="204.1" r="2.75"/><circle cx="647.9" cy="205.1" r="2.75"/><circle cx="640.9" cy="206.2" r="2.75"/><circle cx="654.6" cy="208.8" r="2.75"/><circle cx="644" cy="210.2" r="2.75"/><circle cx="651.1" cy="210.8" r="2.75"/><circle cx="665.6" cy="211.7" r="2.75"/><circle cx="658.3" cy="213" r="2.75"/><circle cx="637.3" cy="214.1" r="2.75"/><circle cx="641" cy="215.6" r="2.75"/><circle cx="662.1" cy="216.5" r="2.75"/><circle cx="654.7" cy="217.9" r="2.75"/><circle cx="647.3" cy="219.2" r="2.75"/><circle cx="644.4" cy="220.8" r="2.75"/><circle cx="658.6" cy="222.4" r="2.75"/><circle cx="651.4" cy="223.4" r="2.75"/><circle cx="636.8" cy="224.3" r="2.75"/><circle cx="665.2" cy="225.5" r="2.75"/><circle cx="644" cy="226.9" r="2.75"/><circle cx="636.8" cy="227.9" r="2.75"/><circle cx="665.3" cy="229.1" r="2.75"/><circle cx="658" cy="230.1" r="2.75"/><circle cx="651.5" cy="231.5" r="2.75"/><circle cx="644.3" cy="233.5" r="2.75"/><circle cx="651.5" cy="233.8" r="2.75"/><circle cx="658.4" cy="235.5" r="2.75"/><circle cx="637" cy="236.8" r="2.75"/><circle cx="665.3" cy="238.3" r="2.75"/><circle cx="655" cy="238.8" r="2.75"/><circle cx="661.7" cy="240.1" r="2.75"/><circle cx="647.4" cy="241.4" r="2.75"/><circle cx="640.9" cy="242.8" r="2.75"/><circle cx="651.5" cy="244.2" r="2.75"/><circle cx="665.5" cy="246.1" r="2.75"/><circle cx="658.4" cy="247.3" r="2.75"/><circle cx="643.9" cy="248.6" r="2.75"/><circle cx="636.9" cy="248.9" r="2.75"/><circle cx="640.5" cy="250.2" r="2.75"/><circle cx="661.6" cy="252.3" r="2.75"/><circle cx="647.4" cy="253.8" r="2.75"/><circle cx="654.5" cy="254.6" r="2.75"/><circle cx="647.5" cy="256.1" r="2.75"/><circle cx="640.4" cy="256.7" r="2.75"/><circle cx="661.5" cy="258.4" r="2.75"/><circle cx="654.5" cy="260.3" r="2.75"/><circle cx="651.4" cy="261.5" r="2.75"/><circle cx="658.2" cy="262.9" r="2.75"/><circle cx="637.1" cy="264.3" r="2.75"/><circle cx="665.3" cy="264.8" r="2.75"/><circle cx="643.9" cy="265.9" r="2.75"/><circle cx="654.7" cy="277.5" r="2.75"/><circle cx="647.8" cy="281.4" r="2.75"/><circle cx="654.7" cy="284.7" r="2.75"/><circle cx="647.3" cy="288.3" r="2.75"/><circle cx="647.6" cy="290.6" r="2.75"/><circle cx="654.8" cy="293.3" r="2.75"/><circle cx="647.7" cy="296.5" r="2.75"/><circle cx="654.7" cy="298.6" r="2.75"/><circle cx="651.2" cy="301.7" r="2.75"/><circle cx="651.1" cy="343.4" r="2.75"/><circle cx="647.5" cy="392" r="2.75"/><circle cx="655.1" cy="394.6" r="2.75"/></g>
</g>
<g class="p">
<text x="873.4" y="127" font-size="19.2" text-anchor="middle">NCD19</text>
<rect x="757.12" y="278.4" width="33.25" height="117.1" fill="#000080" stroke="#000" stroke-width="1.4"/>
<rect x="798.23" y="250" width="33.25" height="145.5" fill="#000080" stroke="#000" stroke-width="1.4"/>
<rect x="839.33" y="251.4" width="33.25" height="144.1" fill="#000080" stroke="#000" stroke-width="1.4"/>
<rect x="880.42" y="250.4" width="33.25" height="145.1" fill="#000080" stroke="#000" stroke-width="1.4"/>
<rect x="921.52" y="263.4" width="33.25" height="132.1" fill="#000080" stroke="#000" stroke-width="1.4"/>
<rect x="962.62" y="277.4" width="33.25" height="118.1" fill="#000080" stroke="#000" stroke-width="1.4"/>
<rect x="739.5" y="141.5" width="274" height="254" fill="none" stroke="#000" stroke-width="1.5"/>
<line x1="728.2" y1="182" x2="739.5" y2="182" stroke="#000" stroke-width="1.6"/>
<text x="725.5" y="188.4" font-size="18" text-anchor="end">100</text>
<line x1="728.2" y1="288.75" x2="739.5" y2="288.75" stroke="#000" stroke-width="1.6"/>
<text x="725.5" y="295.15" font-size="18" text-anchor="end">50</text>
<line x1="728.2" y1="395.5" x2="739.5" y2="395.5" stroke="#000" stroke-width="1.6"/>
<text x="725.5" y="401.9" font-size="18" text-anchor="end">0</text>
<polyline points="774.6,184.6 774.6,172 817.8,172 817.8,179" fill="none" stroke="#000" stroke-width="1.5"/>
<polyline points="901.8,174 901.8,169 945,169 945,181.6" fill="none" stroke="#000" stroke-width="1.5"/>
<polyline points="945,176 987.8,176 987.8,188.4" fill="none" stroke="#000" stroke-width="1.5"/>
<text x="796.6" y="175.2" font-size="19" text-anchor="middle">*</text>
<text x="921.8" y="173.2" font-size="19" text-anchor="middle">*</text>
<text x="964.6" y="181" font-size="19" text-anchor="middle">*</text>
<g class="d"><circle cx="778.6" cy="203.4" r="2.75"/><circle cx="768.9" cy="208.4" r="2.75"/><circle cx="778.5" cy="208.6" r="2.75"/><circle cx="768.9" cy="215.4" r="2.75"/><circle cx="778.6" cy="215.6" r="2.75"/><circle cx="778.6" cy="229" r="2.75"/><circle cx="759.3" cy="229.2" r="2.75"/><circle cx="768.9" cy="229.4" r="2.75"/><circle cx="788.2" cy="231.4" r="2.75"/><circle cx="788.1" cy="237" r="2.75"/><circle cx="768.9" cy="237.4" r="2.75"/><circle cx="778.6" cy="240.4" r="2.75"/><circle cx="778.6" cy="250.6" r="2.75"/><circle cx="769" cy="255.4" r="2.75"/><circle cx="778.5" cy="261" r="2.75"/><circle cx="778.6" cy="277" r="2.75"/><circle cx="788.1" cy="277.2" r="2.75"/><circle cx="769" cy="277.4" r="2.75"/><circle cx="778.5" cy="283.4" r="2.75"/><circle cx="778.6" cy="289.6" r="2.75"/><circle cx="778.5" cy="295" r="2.75"/><circle cx="768.9" cy="300" r="2.75"/><circle cx="788.2" cy="300.2" r="2.75"/><circle cx="778.5" cy="304.6" r="2.75"/><circle cx="768.9" cy="305" r="2.75"/><circle cx="768.9" cy="305.4" r="2.75"/><circle cx="778.5" cy="306.6" r="2.75"/><circle cx="788.2" cy="315.6" r="2.75"/><circle cx="769" cy="316" r="2.75"/><circle cx="778.5" cy="317" r="2.75"/><circle cx="759.3" cy="317.4" r="2.75"/><circle cx="769" cy="328" r="2.75"/><circle cx="778.6" cy="328.2" r="2.75"/><circle cx="768.9" cy="333.4" r="2.75"/><circle cx="778.6" cy="333.6" r="2.75"/><circle cx="778.5" cy="369" r="2.75"/><circle cx="814.9" cy="202" r="2.75"/><circle cx="814.9" cy="208" r="2.75"/><circle cx="825.9" cy="213" r="2.75"/><circle cx="814.8" cy="220.6" r="2.75"/><circle cx="803.9" cy="226.4" r="2.75"/><circle cx="825.8" cy="226.8" r="2.75"/><circle cx="814.8" cy="227.2" r="2.75"/><circle cx="803.8" cy="239.4" r="2.75"/><circle cx="814.9" cy="240" r="2.75"/><circle cx="825.8" cy="243" r="2.75"/><circle cx="814.8" cy="250" r="2.75"/><circle cx="825.9" cy="254.6" r="2.75"/><circle cx="814.8" cy="259" r="2.75"/><circle cx="825.8" cy="267.8" r="2.75"/><circle cx="814.9" cy="268.2" r="2.75"/><circle cx="814.9" cy="296" r="2.75"/><circle cx="803.8" cy="299.8" r="2.75"/><circle cx="825.9" cy="300.4" r="2.75"/><circle cx="814.9" cy="305.4" r="2.75"/><circle cx="825.8" cy="311" r="2.75"/><circle cx="814.8" cy="312.6" r="2.75"/><circle cx="863.2" cy="204.6" r="2.75"/><circle cx="855.9" cy="209" r="2.75"/><circle cx="848.8" cy="210" r="2.75"/><circle cx="856" cy="211.4" r="2.75"/><circle cx="863.1" cy="211.6" r="2.75"/><circle cx="856" cy="225.4" r="2.75"/><circle cx="863.1" cy="227.6" r="2.75"/><circle cx="856" cy="232.4" r="2.75"/><circle cx="863.2" cy="236.4" r="2.75"/><circle cx="855.9" cy="238" r="2.75"/><circle cx="848.8" cy="238.6" r="2.75"/><circle cx="863.2" cy="241" r="2.75"/><circle cx="848.7" cy="245.4" r="2.75"/><circle cx="855.9" cy="248.6" r="2.75"/><circle cx="863.1" cy="250" r="2.75"/><circle cx="870.4" cy="250.4" r="2.75"/><circle cx="848.7" cy="251" r="2.75"/><circle cx="856" cy="255" r="2.75"/><circle cx="863.2" cy="255.4" r="2.75"/><circle cx="841.6" cy="257" r="2.75"/><circle cx="855.9" cy="259" r="2.75"/><circle cx="870.3" cy="259.2" r="2.75"/><circle cx="863.2" cy="259.4" r="2.75"/><circle cx="848.8" cy="262" r="2.75"/><circle cx="855.9" cy="264" r="2.75"/><circle cx="856" cy="275" r="2.75"/><circle cx="863.1" cy="280.2" r="2.75"/><circle cx="870.3" cy="280.6" r="2.75"/><circle cx="855.9" cy="283.4" r="2.75"/><circle cx="848.8" cy="283.8" r="2.75"/><circle cx="856" cy="286.6" r="2.75"/><circle cx="856" cy="294" r="2.75"/><circle cx="856" cy="307.4" r="2.75"/><circle cx="856" cy="337.4" r="2.75"/><circle cx="899" cy="204.7" r="2.75"/><circle cx="895" cy="207.6" r="2.75"/><circle cx="903.2" cy="208.4" r="2.75"/><circle cx="899" cy="211.2" r="2.75"/><circle cx="894.4" cy="212.5" r="2.75"/><circle cx="890.3" cy="213.6" r="2.75"/><circle cx="903.7" cy="215.1" r="2.75"/><circle cx="903.9" cy="217" r="2.75"/><circle cx="899.5" cy="219.3" r="2.75"/><circle cx="890.4" cy="221.1" r="2.75"/><circle cx="894.7" cy="221.9" r="2.75"/><circle cx="899.4" cy="223.5" r="2.75"/><circle cx="894.8" cy="225.8" r="2.75"/><circle cx="903.4" cy="227.5" r="2.75"/><circle cx="890.3" cy="228.8" r="2.75"/><circle cx="903.3" cy="230.2" r="2.75"/><circle cx="899" cy="232.3" r="2.75"/><circle cx="894.8" cy="233.1" r="2.75"/><circle cx="894.9" cy="235.1" r="2.75"/><circle cx="899.3" cy="236.9" r="2.75"/><circle cx="903.5" cy="239.3" r="2.75"/><circle cx="890.5" cy="240.4" r="2.75"/><circle cx="903.6" cy="242.4" r="2.75"/><circle cx="899.3" cy="243.5" r="2.75"/><circle cx="894.6" cy="244.8" r="2.75"/><circle cx="899.4" cy="246.5" r="2.75"/><circle cx="895.1" cy="249.2" r="2.75"/><circle cx="903.7" cy="250.5" r="2.75"/><circle cx="899.5" cy="251.5" r="2.75"/><circle cx="903.6" cy="252.8" r="2.75"/><circle cx="894.6" cy="255.2" r="2.75"/><circle cx="890.2" cy="257.1" r="2.75"/><circle cx="904.1" cy="258.4" r="2.75"/><circle cx="899.2" cy="259.8" r="2.75"/><circle cx="894.5" cy="262" r="2.75"/><circle cx="898.9" cy="264" r="2.75"/><circle cx="894.8" cy="264.6" r="2.75"/><circle cx="890.2" cy="265.9" r="2.75"/><circle cx="903.6" cy="268" r="2.75"/><circle cx="894.8" cy="269.7" r="2.75"/><circle cx="903.2" cy="271.7" r="2.75"/><circle cx="898.8" cy="272.6" r="2.75"/><circle cx="899.6" cy="275" r="2.75"/><circle cx="894.4" cy="276.5" r="2.75"/><circle cx="899.1" cy="283" r="2.75"/><circle cx="894.8" cy="283.2" r="2.75"/><circle cx="903.5" cy="287" r="2.75"/><circle cx="899.5" cy="289" r="2.75"/><circle cx="894.7" cy="289.4" r="2.75"/><circle cx="899.3" cy="302" r="2.75"/><circle cx="899.2" cy="308" r="2.75"/><circle cx="899.4" cy="319" r="2.75"/><circle cx="898.9" cy="332.4" r="2.75"/><circle cx="935.2" cy="195.4" r="2.75"/><circle cx="941" cy="198.4" r="2.75"/><circle cx="946.8" cy="200" r="2.75"/><circle cx="935.2" cy="205" r="2.75"/><circle cx="941.1" cy="207" r="2.75"/><circle cx="941.1" cy="213.4" r="2.75"/><circle cx="935.2" cy="219" r="2.75"/><circle cx="941" cy="222" r="2.75"/><circle cx="946.9" cy="228.8" r="2.75"/><circle cx="935.2" cy="229" r="2.75"/><circle cx="941.1" cy="229.2" r="2.75"/><circle cx="929.4" cy="232" r="2.75"/><circle cx="941.1" cy="236.4" r="2.75"/><circle cx="935.2" cy="238" r="2.75"/><circle cx="941.1" cy="243.4" r="2.75"/><circle cx="935.3" cy="243.6" r="2.75"/><circle cx="952.6" cy="245" r="2.75"/><circle cx="929.4" cy="245.2" r="2.75"/><circle cx="946.8" cy="247" r="2.75"/><circle cx="941.1" cy="249" r="2.75"/><circle cx="935.2" cy="249.2" r="2.75"/><circle cx="941" cy="254.4" r="2.75"/><circle cx="941.1" cy="263.4" r="2.75"/><circle cx="935.3" cy="267.6" r="2.75"/><circle cx="929.4" cy="275.4" r="2.75"/><circle cx="935.2" cy="275.6" r="2.75"/><circle cx="946.8" cy="277" r="2.75"/><circle cx="941" cy="277.2" r="2.75"/><circle cx="952.7" cy="278.6" r="2.75"/><circle cx="941" cy="282.6" r="2.75"/><circle cx="941.1" cy="288" r="2.75"/><circle cx="935.2" cy="291" r="2.75"/><circle cx="935.3" cy="298.8" r="2.75"/><circle cx="946.8" cy="299" r="2.75"/><circle cx="941" cy="299.2" r="2.75"/><circle cx="941" cy="305" r="2.75"/><circle cx="935.2" cy="308" r="2.75"/><circle cx="946.8" cy="311" r="2.75"/><circle cx="941.1" cy="315.8" r="2.75"/><circle cx="935.2" cy="316" r="2.75"/><circle cx="935.2" cy="316.2" r="2.75"/><circle cx="941.1" cy="319" r="2.75"/><circle cx="941" cy="323" r="2.75"/><circle cx="935.3" cy="328" r="2.75"/><circle cx="941" cy="335.6" r="2.75"/><circle cx="982.1" cy="203.4" r="2.75"/><circle cx="982.1" cy="210.4" r="2.75"/><circle cx="976.4" cy="212.6" r="2.75"/><circle cx="988" cy="216" r="2.75"/><circle cx="970.5" cy="216.2" r="2.75"/><circle cx="976.4" cy="217.6" r="2.75"/><circle cx="982.2" cy="219" r="2.75"/><circle cx="982.2" cy="222.4" r="2.75"/><circle cx="982.1" cy="239" r="2.75"/><circle cx="970.6" cy="247" r="2.75"/><circle cx="982.2" cy="247.2" r="2.75"/><circle cx="976.4" cy="249" r="2.75"/><circle cx="987.9" cy="249.2" r="2.75"/><circle cx="993.8" cy="249.4" r="2.75"/><circle cx="988" cy="254" r="2.75"/><circle cx="993.8" cy="255" r="2.75"/><circle cx="982.1" cy="255.2" r="2.75"/><circle cx="964.8" cy="258" r="2.75"/><circle cx="970.5" cy="258.2" r="2.75"/><circle cx="976.4" cy="258.4" r="2.75"/><circle cx="982.2" cy="260.6" r="2.75"/><circle cx="987.9" cy="263" r="2.75"/><circle cx="976.3" cy="263.2" r="2.75"/><circle cx="976.4" cy="270" r="2.75"/><circle cx="982.1" cy="273" r="2.75"/><circle cx="987.9" cy="277" r="2.75"/><circle cx="970.5" cy="277.2" r="2.75"/><circle cx="982.1" cy="277.4" r="2.75"/><circle cx="976.4" cy="282" r="2.75"/><circle cx="976.3" cy="282.2" r="2.75"/><circle cx="982.2" cy="283.4" r="2.75"/><circle cx="987.9" cy="289" r="2.75"/><circle cx="976.3" cy="289.2" r="2.75"/><circle cx="982.2" cy="291" r="2.75"/><circle cx="970.5" cy="294" r="2.75"/><circle cx="976.3" cy="294.2" r="2.75"/><circle cx="982.2" cy="297" r="2.75"/><circle cx="988" cy="300.6" r="2.75"/><circle cx="976.4" cy="305" r="2.75"/><circle cx="970.6" cy="305.2" r="2.75"/><circle cx="982.2" cy="305.4" r="2.75"/><circle cx="988" cy="306" r="2.75"/><circle cx="976.3" cy="308" r="2.75"/><circle cx="982.1" cy="310.6" r="2.75"/><circle cx="982.2" cy="312" r="2.75"/><circle cx="976.4" cy="312.2" r="2.75"/><circle cx="976.3" cy="327.6" r="2.75"/><circle cx="982.1" cy="328.4" r="2.75"/><circle cx="987.9" cy="329.6" r="2.75"/><circle cx="976.4" cy="335.4" r="2.75"/><circle cx="982.1" cy="339.4" r="2.75"/><circle cx="982.1" cy="343" r="2.75"/><circle cx="982.2" cy="350" r="2.75"/><circle cx="976.4" cy="351" r="2.75"/><circle cx="982.1" cy="356.6" r="2.75"/></g>
</g>
<g class="p">
<text x="1209.6" y="127" font-size="19.2" text-anchor="middle">NCD4</text>
<rect x="1104.62" y="203.8" width="33.25" height="191.7" fill="#fd0000" stroke="#000" stroke-width="1.4"/>
<rect x="1145.72" y="210.6" width="33.25" height="184.9" fill="#fd0000" stroke="#000" stroke-width="1.4"/>
<rect x="1186.83" y="216" width="33.25" height="179.5" fill="#fd0000" stroke="#000" stroke-width="1.4"/>
<rect x="1227.92" y="227.4" width="33.25" height="168.1" fill="#fd0000" stroke="#000" stroke-width="1.4"/>
<rect x="1269.03" y="224.8" width="33.25" height="170.7" fill="#fd0000" stroke="#000" stroke-width="1.4"/>
<rect x="1310.12" y="230.4" width="33.25" height="165.1" fill="#fd0000" stroke="#000" stroke-width="1.4"/>
<rect x="1087" y="141.5" width="274" height="254" fill="none" stroke="#000" stroke-width="1.5"/>
<line x1="1075.7" y1="182" x2="1087" y2="182" stroke="#000" stroke-width="1.6"/>
<text x="1073" y="188.4" font-size="18" text-anchor="end">100</text>
<line x1="1075.7" y1="288.75" x2="1087" y2="288.75" stroke="#000" stroke-width="1.6"/>
<text x="1073" y="295.15" font-size="18" text-anchor="end">50</text>
<line x1="1075.7" y1="395.5" x2="1087" y2="395.5" stroke="#000" stroke-width="1.6"/>
<text x="1073" y="401.9" font-size="18" text-anchor="end">0</text>
<polyline points="1121,161.4 1121,155.8 1163.8,155.8 1163.8,168.6" fill="none" stroke="#000" stroke-width="1.5"/>
<polyline points="1163.8,163.4 1207,163.4 1207,175.4" fill="none" stroke="#000" stroke-width="1.5"/>
<polyline points="1284.4,170 1284.4,164.6 1327.6,164.6 1327.6,177" fill="none" stroke="#000" stroke-width="1.5"/>
<text x="1141.6" y="161.2" font-size="19" text-anchor="middle">*</text>
<text x="1184.2" y="168.6" font-size="19" text-anchor="middle">*</text>
<text x="1305" y="170.2" font-size="19" text-anchor="middle">*</text>
<text x="1286.4" y="186.6" font-size="16" text-anchor="middle">#</text>
<g class="d"><circle cx="1127.6" cy="185.5" r="2.75"/><circle cx="1110.5" cy="186.2" r="2.75"/><circle cx="1114.5" cy="187.9" r="2.75"/><circle cx="1118.8" cy="188.3" r="2.75"/><circle cx="1123.3" cy="189.8" r="2.75"/><circle cx="1132.1" cy="190.3" r="2.75"/><circle cx="1129.7" cy="191.2" r="2.75"/><circle cx="1112.4" cy="192.2" r="2.75"/><circle cx="1121.6" cy="192.6" r="2.75"/><circle cx="1125.4" cy="193.7" r="2.75"/><circle cx="1134.7" cy="194.1" r="2.75"/><circle cx="1107.6" cy="194.7" r="2.75"/><circle cx="1117" cy="195.4" r="2.75"/><circle cx="1110.1" cy="196.2" r="2.75"/><circle cx="1106.1" cy="197.1" r="2.75"/><circle cx="1123.1" cy="197.9" r="2.75"/><circle cx="1127.9" cy="198.1" r="2.75"/><circle cx="1114.5" cy="199" r="2.75"/><circle cx="1136.7" cy="199.6" r="2.75"/><circle cx="1132.2" cy="200.7" r="2.75"/><circle cx="1118.9" cy="200.9" r="2.75"/><circle cx="1127.6" cy="201.6" r="2.75"/><circle cx="1115" cy="202.3" r="2.75"/><circle cx="1110" cy="203.2" r="2.75"/><circle cx="1132.5" cy="204.2" r="2.75"/><circle cx="1118.7" cy="204.9" r="2.75"/><circle cx="1123.7" cy="205.8" r="2.75"/><circle cx="1121.5" cy="207.2" r="2.75"/><circle cx="1117.1" cy="208.3" r="2.75"/><circle cx="1130.4" cy="208.8" r="2.75"/><circle cx="1112.5" cy="209.8" r="2.75"/><circle cx="1126" cy="211.7" r="2.75"/><circle cx="1125.7" cy="212.7" r="2.75"/><circle cx="1121.4" cy="213.2" r="2.75"/><circle cx="1116.6" cy="216.8" r="2.75"/><circle cx="1117.1" cy="218.5" r="2.75"/><circle cx="1125.8" cy="220.7" r="2.75"/><circle cx="1121.6" cy="222.9" r="2.75"/><circle cx="1121.5" cy="224.9" r="2.75"/><circle cx="1116.5" cy="226.8" r="2.75"/><circle cx="1125.8" cy="229.7" r="2.75"/><circle cx="1125.3" cy="232.1" r="2.75"/><circle cx="1116.7" cy="235.7" r="2.75"/><circle cx="1121.4" cy="236.2" r="2.75"/><circle cx="1125.7" cy="240.2" r="2.75"/><circle cx="1117" cy="241" r="2.75"/><circle cx="1120.9" cy="243.6" r="2.75"/><circle cx="1121.6" cy="252" r="2.75"/><circle cx="1121" cy="269.6" r="2.75"/><circle cx="1117" cy="394.2" r="2.75"/><circle cx="1121.3" cy="394.6" r="2.75"/><circle cx="1125.9" cy="395" r="2.75"/><circle cx="1164.7" cy="182" r="2.75"/><circle cx="1160.4" cy="187" r="2.75"/><circle cx="1171.3" cy="190" r="2.75"/><circle cx="1166.8" cy="192.5" r="2.75"/><circle cx="1162.3" cy="193.2" r="2.75"/><circle cx="1158.2" cy="193.6" r="2.75"/><circle cx="1153.2" cy="194.1" r="2.75"/><circle cx="1155.6" cy="195" r="2.75"/><circle cx="1147.1" cy="195.6" r="2.75"/><circle cx="1177.6" cy="196.6" r="2.75"/><circle cx="1151.4" cy="196.9" r="2.75"/><circle cx="1173.4" cy="197.7" r="2.75"/><circle cx="1169.3" cy="198.7" r="2.75"/><circle cx="1160.4" cy="198.8" r="2.75"/><circle cx="1164.3" cy="199.7" r="2.75"/><circle cx="1155.8" cy="200.6" r="2.75"/><circle cx="1168.9" cy="201.3" r="2.75"/><circle cx="1164.9" cy="201.5" r="2.75"/><circle cx="1151.5" cy="202.2" r="2.75"/><circle cx="1160.1" cy="202.9" r="2.75"/><circle cx="1177.5" cy="204.1" r="2.75"/><circle cx="1173.1" cy="204.4" r="2.75"/><circle cx="1147.3" cy="205.3" r="2.75"/><circle cx="1173.6" cy="206.1" r="2.75"/><circle cx="1151.6" cy="206.4" r="2.75"/><circle cx="1164.6" cy="207.1" r="2.75"/><circle cx="1160.5" cy="208.2" r="2.75"/><circle cx="1169.2" cy="208.6" r="2.75"/><circle cx="1178" cy="209.1" r="2.75"/><circle cx="1155.5" cy="210" r="2.75"/><circle cx="1147" cy="210.5" r="2.75"/><circle cx="1173" cy="211.1" r="2.75"/><circle cx="1155.6" cy="211.6" r="2.75"/><circle cx="1151.1" cy="212.8" r="2.75"/><circle cx="1159.9" cy="213.5" r="2.75"/><circle cx="1177.5" cy="214" r="2.75"/><circle cx="1169" cy="214.9" r="2.75"/><circle cx="1164.6" cy="215" r="2.75"/><circle cx="1147.1" cy="215.8" r="2.75"/><circle cx="1160.2" cy="216.6" r="2.75"/><circle cx="1169.1" cy="218.6" r="2.75"/><circle cx="1164.4" cy="220.3" r="2.75"/><circle cx="1155.7" cy="221.1" r="2.75"/><circle cx="1162.3" cy="222.6" r="2.75"/><circle cx="1157.5" cy="224.6" r="2.75"/><circle cx="1166.7" cy="226.4" r="2.75"/><circle cx="1169" cy="228.8" r="2.75"/><circle cx="1159.9" cy="229.4" r="2.75"/><circle cx="1164.5" cy="232" r="2.75"/><circle cx="1156" cy="233.7" r="2.75"/><circle cx="1155.6" cy="235.5" r="2.75"/><circle cx="1159.8" cy="237.1" r="2.75"/><circle cx="1168.9" cy="238.6" r="2.75"/><circle cx="1164.6" cy="239.9" r="2.75"/><circle cx="1162" cy="250" r="2.75"/><circle cx="1157.8" cy="251.4" r="2.75"/><circle cx="1166.4" cy="254" r="2.75"/><circle cx="1162.1" cy="274.6" r="2.75"/><circle cx="1164.4" cy="350" r="2.75"/><circle cx="1159.9" cy="353.4" r="2.75"/><circle cx="1205.7" cy="182" r="2.75"/><circle cx="1201.2" cy="187" r="2.75"/><circle cx="1205.7" cy="187.4" r="2.75"/><circle cx="1200.9" cy="189.4" r="2.75"/><circle cx="1188.1" cy="193.2" r="2.75"/><circle cx="1214.7" cy="194" r="2.75"/><circle cx="1205.3" cy="195" r="2.75"/><circle cx="1196.8" cy="195.3" r="2.75"/><circle cx="1210.4" cy="196.1" r="2.75"/><circle cx="1219.2" cy="197.1" r="2.75"/><circle cx="1201.4" cy="197.5" r="2.75"/><circle cx="1192.2" cy="198.1" r="2.75"/><circle cx="1207.8" cy="198.8" r="2.75"/><circle cx="1199.4" cy="199.9" r="2.75"/><circle cx="1203.7" cy="200.5" r="2.75"/><circle cx="1194.2" cy="201.6" r="2.75"/><circle cx="1211.9" cy="202.3" r="2.75"/><circle cx="1216.8" cy="203.1" r="2.75"/><circle cx="1190.1" cy="203.3" r="2.75"/><circle cx="1207.8" cy="203.9" r="2.75"/><circle cx="1211.9" cy="204.7" r="2.75"/><circle cx="1190.6" cy="205.6" r="2.75"/><circle cx="1216.5" cy="206.5" r="2.75"/><circle cx="1199.4" cy="207" r="2.75"/><circle cx="1194.4" cy="207.6" r="2.75"/><circle cx="1203.3" cy="208.5" r="2.75"/><circle cx="1187.9" cy="209.3" r="2.75"/><circle cx="1209.8" cy="210.1" r="2.75"/><circle cx="1201.4" cy="210.9" r="2.75"/><circle cx="1205.4" cy="211.6" r="2.75"/><circle cx="1214.3" cy="212.2" r="2.75"/><circle cx="1218.6" cy="212.6" r="2.75"/><circle cx="1196.7" cy="213.8" r="2.75"/><circle cx="1192.2" cy="214.2" r="2.75"/><circle cx="1199.3" cy="215.1" r="2.75"/><circle cx="1195" cy="215.7" r="2.75"/><circle cx="1190.5" cy="216.6" r="2.75"/><circle cx="1212.4" cy="217" r="2.75"/><circle cx="1207.6" cy="217.8" r="2.75"/><circle cx="1203.4" cy="218.5" r="2.75"/><circle cx="1216.4" cy="219.3" r="2.75"/><circle cx="1196.7" cy="221.9" r="2.75"/><circle cx="1205.8" cy="223" r="2.75"/><circle cx="1210" cy="224.3" r="2.75"/><circle cx="1201.6" cy="225.9" r="2.75"/><circle cx="1206" cy="228.3" r="2.75"/><circle cx="1201.1" cy="229.2" r="2.75"/><circle cx="1196.9" cy="230.4" r="2.75"/><circle cx="1210.4" cy="232.8" r="2.75"/><circle cx="1201.4" cy="234.1" r="2.75"/><circle cx="1196.6" cy="236.2" r="2.75"/><circle cx="1210.3" cy="236.5" r="2.75"/><circle cx="1205.6" cy="238.6" r="2.75"/><circle cx="1203.6" cy="240.7" r="2.75"/><circle cx="1194.6" cy="249.1" r="2.75"/><circle cx="1212" cy="249.9" r="2.75"/><circle cx="1199.2" cy="250" r="2.75"/><circle cx="1203.7" cy="250.9" r="2.75"/><circle cx="1208.2" cy="251.4" r="2.75"/><circle cx="1205.7" cy="276.6" r="2.75"/><circle cx="1201.4" cy="279.4" r="2.75"/><circle cx="1205.9" cy="340.4" r="2.75"/><circle cx="1201.6" cy="345" r="2.75"/><circle cx="1203.5" cy="354.4" r="2.75"/><circle cx="1203.8" cy="387.6" r="2.75"/><circle cx="1238.4" cy="188.9" r="2.75"/><circle cx="1250.2" cy="191.6" r="2.75"/><circle cx="1244.6" cy="192.6" r="2.75"/><circle cx="1235.5" cy="194.6" r="2.75"/><circle cx="1253.4" cy="195.4" r="2.75"/><circle cx="1241.4" cy="197.6" r="2.75"/><circle cx="1247.6" cy="198.6" r="2.75"/><circle cx="1247.5" cy="199.9" r="2.75"/><circle cx="1236" cy="201.9" r="2.75"/><circle cx="1241.2" cy="203.3" r="2.75"/><circle cx="1253.4" cy="203.6" r="2.75"/><circle cx="1256.6" cy="205.3" r="2.75"/><circle cx="1244.8" cy="206.5" r="2.75"/><circle cx="1232.9" cy="207.3" r="2.75"/><circle cx="1250.3" cy="208.7" r="2.75"/><circle cx="1238.5" cy="209.6" r="2.75"/><circle cx="1244.3" cy="210.9" r="2.75"/><circle cx="1250.6" cy="212.1" r="2.75"/><circle cx="1238.6" cy="214.1" r="2.75"/><circle cx="1244.2" cy="216" r="2.75"/><circle cx="1250.2" cy="217.1" r="2.75"/><circle cx="1238.5" cy="218.7" r="2.75"/><circle cx="1238.5" cy="221.1" r="2.75"/><circle cx="1244.7" cy="223.5" r="2.75"/><circle cx="1250.2" cy="224.5" r="2.75"/><circle cx="1241.4" cy="226.3" r="2.75"/><circle cx="1230.2" cy="227.1" r="2.75"/><circle cx="1253.6" cy="228.4" r="2.75"/><circle cx="1247.3" cy="229.1" r="2.75"/><circle cx="1235.3" cy="229.5" r="2.75"/><circle cx="1259" cy="230.4" r="2.75"/><circle cx="1247.7" cy="231.5" r="2.75"/><circle cx="1259.5" cy="232.5" r="2.75"/><circle cx="1230.2" cy="233.4" r="2.75"/><circle cx="1241.9" cy="233.9" r="2.75"/><circle cx="1253.1" cy="234.8" r="2.75"/><circle cx="1235.7" cy="236.1" r="2.75"/><circle cx="1247.8" cy="236.7" r="2.75"/><circle cx="1253.1" cy="237.5" r="2.75"/><circle cx="1235.8" cy="238.4" r="2.75"/><circle cx="1259.2" cy="239.7" r="2.75"/><circle cx="1230" cy="240.1" r="2.75"/><circle cx="1241.5" cy="241.2" r="2.75"/><circle cx="1256.1" cy="241.9" r="2.75"/><circle cx="1238.4" cy="242.8" r="2.75"/><circle cx="1250.5" cy="244" r="2.75"/><circle cx="1232.8" cy="245" r="2.75"/><circle cx="1244.3" cy="245.6" r="2.75"/><circle cx="1253.1" cy="247.1" r="2.75"/><circle cx="1241.5" cy="249.6" r="2.75"/><circle cx="1236" cy="250.5" r="2.75"/><circle cx="1247.1" cy="252" r="2.75"/><circle cx="1247.7" cy="255" r="2.75"/><circle cx="1241.6" cy="256" r="2.75"/><circle cx="1244.3" cy="261" r="2.75"/><circle cx="1244.2" cy="269.6" r="2.75"/><circle cx="1244.3" cy="276.4" r="2.75"/><circle cx="1244.3" cy="339" r="2.75"/><circle cx="1244.9" cy="358.4" r="2.75"/><circle cx="1275.9" cy="192" r="2.75"/><circle cx="1290.7" cy="192.8" r="2.75"/><circle cx="1295.5" cy="194.6" r="2.75"/><circle cx="1280.4" cy="195.3" r="2.75"/><circle cx="1285.6" cy="196.2" r="2.75"/><circle cx="1285.9" cy="197.3" r="2.75"/><circle cx="1291" cy="199.2" r="2.75"/><circle cx="1275.3" cy="200.5" r="2.75"/><circle cx="1296.1" cy="202" r="2.75"/><circle cx="1280.6" cy="202.2" r="2.75"/><circle cx="1295.7" cy="203.9" r="2.75"/><circle cx="1275.6" cy="204.7" r="2.75"/><circle cx="1280.9" cy="206" r="2.75"/><circle cx="1290.3" cy="206.7" r="2.75"/><circle cx="1285.4" cy="207.9" r="2.75"/><circle cx="1275.6" cy="209.3" r="2.75"/><circle cx="1295.4" cy="210.8" r="2.75"/><circle cx="1280.8" cy="211.1" r="2.75"/><circle cx="1285.5" cy="212.5" r="2.75"/><circle cx="1291" cy="214" r="2.75"/><circle cx="1290.3" cy="215.2" r="2.75"/><circle cx="1280.3" cy="215.6" r="2.75"/><circle cx="1295.5" cy="216.6" r="2.75"/><circle cx="1285.5" cy="218.5" r="2.75"/><circle cx="1275.4" cy="219.6" r="2.75"/><circle cx="1278.4" cy="220.2" r="2.75"/><circle cx="1273.3" cy="220.9" r="2.75"/><circle cx="1283.3" cy="222.9" r="2.75"/><circle cx="1288.1" cy="223.3" r="2.75"/><circle cx="1293" cy="224.6" r="2.75"/><circle cx="1298" cy="225.2" r="2.75"/><circle cx="1278.2" cy="226.2" r="2.75"/><circle cx="1288.3" cy="226.5" r="2.75"/><circle cx="1292.9" cy="227.9" r="2.75"/><circle cx="1272.9" cy="228.3" r="2.75"/><circle cx="1298" cy="229.3" r="2.75"/><circle cx="1283.2" cy="230.5" r="2.75"/><circle cx="1275.9" cy="231.3" r="2.75"/><circle cx="1290.7" cy="231.6" r="2.75"/><circle cx="1280.7" cy="232.5" r="2.75"/><circle cx="1286" cy="233.5" r="2.75"/><circle cx="1295.9" cy="234.4" r="2.75"/><circle cx="1300.9" cy="235.2" r="2.75"/><circle cx="1270.5" cy="235.8" r="2.75"/><circle cx="1270.8" cy="236.8" r="2.75"/><circle cx="1300.4" cy="238" r="2.75"/><circle cx="1275.8" cy="239" r="2.75"/><circle cx="1285.8" cy="239.2" r="2.75"/><circle cx="1290.8" cy="240.4" r="2.75"/><circle cx="1280.3" cy="241.4" r="2.75"/><circle cx="1296.1" cy="241.7" r="2.75"/><circle cx="1278" cy="243.1" r="2.75"/><circle cx="1293.1" cy="243.4" r="2.75"/><circle cx="1288.2" cy="244.7" r="2.75"/><circle cx="1283.3" cy="246.2" r="2.75"/><circle cx="1281" cy="248.7" r="2.75"/><circle cx="1290.9" cy="250.3" r="2.75"/><circle cx="1285.7" cy="252.8" r="2.75"/><circle cx="1285.7" cy="255.5" r="2.75"/><circle cx="1290.9" cy="257.4" r="2.75"/><circle cx="1280.8" cy="260.2" r="2.75"/><circle cx="1290.6" cy="262.3" r="2.75"/><circle cx="1280.9" cy="265.2" r="2.75"/><circle cx="1285.6" cy="267" r="2.75"/><circle cx="1280.5" cy="271.4" r="2.75"/><circle cx="1286" cy="273.9" r="2.75"/><circle cx="1290.6" cy="276.1" r="2.75"/><circle cx="1282.9" cy="280.4" r="2.75"/><circle cx="1287.9" cy="283.3" r="2.75"/><circle cx="1285.6" cy="353.6" r="2.75"/><circle cx="1326.7" cy="182" r="2.75"/><circle cx="1323.7" cy="191" r="2.75"/><circle cx="1329.9" cy="194.6" r="2.75"/><circle cx="1324" cy="197" r="2.75"/><circle cx="1329.5" cy="200" r="2.75"/><circle cx="1317.9" cy="202.4" r="2.75"/><circle cx="1341.4" cy="203.2" r="2.75"/><circle cx="1323.7" cy="204.4" r="2.75"/><circle cx="1311.7" cy="205" r="2.75"/><circle cx="1335.9" cy="206" r="2.75"/><circle cx="1329.9" cy="207.2" r="2.75"/><circle cx="1341.1" cy="207.9" r="2.75"/><circle cx="1335.7" cy="209.1" r="2.75"/><circle cx="1317.7" cy="210.1" r="2.75"/><circle cx="1312" cy="210.7" r="2.75"/><circle cx="1324.1" cy="212.1" r="2.75"/><circle cx="1329.8" cy="212.6" r="2.75"/><circle cx="1318" cy="214.1" r="2.75"/><circle cx="1311.9" cy="215.1" r="2.75"/><circle cx="1335.6" cy="215.9" r="2.75"/><circle cx="1323.9" cy="216.4" r="2.75"/><circle cx="1341.6" cy="217.8" r="2.75"/><circle cx="1329.8" cy="218.6" r="2.75"/><circle cx="1324.2" cy="220" r="2.75"/><circle cx="1335.4" cy="220.3" r="2.75"/><circle cx="1318.2" cy="221.9" r="2.75"/><circle cx="1329.3" cy="222.9" r="2.75"/><circle cx="1324.1" cy="228.7" r="2.75"/><circle cx="1317.5" cy="229.7" r="2.75"/><circle cx="1341.8" cy="230.1" r="2.75"/><circle cx="1329.5" cy="231.7" r="2.75"/><circle cx="1335.9" cy="232.3" r="2.75"/><circle cx="1312.2" cy="233.6" r="2.75"/><circle cx="1323.5" cy="234.5" r="2.75"/><circle cx="1341.2" cy="234.8" r="2.75"/><circle cx="1312.3" cy="236.3" r="2.75"/><circle cx="1335.8" cy="237.4" r="2.75"/><circle cx="1317.6" cy="237.6" r="2.75"/><circle cx="1329.4" cy="238.8" r="2.75"/><circle cx="1318.3" cy="240.1" r="2.75"/><circle cx="1312" cy="240.5" r="2.75"/><circle cx="1341.2" cy="242.1" r="2.75"/><circle cx="1329.7" cy="242.5" r="2.75"/><circle cx="1323.7" cy="243.9" r="2.75"/><circle cx="1335.9" cy="244.3" r="2.75"/><circle cx="1332.5" cy="245.5" r="2.75"/><circle cx="1327.1" cy="249.3" r="2.75"/><circle cx="1320.6" cy="249.9" r="2.75"/><circle cx="1329.4" cy="251.4" r="2.75"/><circle cx="1317.9" cy="253.3" r="2.75"/><circle cx="1335.3" cy="254.5" r="2.75"/><circle cx="1323.7" cy="255.6" r="2.75"/><circle cx="1332.6" cy="257.3" r="2.75"/><circle cx="1326.8" cy="258.8" r="2.75"/><circle cx="1320.9" cy="261.3" r="2.75"/><circle cx="1326.5" cy="262.5" r="2.75"/><circle cx="1320.8" cy="264.3" r="2.75"/><circle cx="1332.9" cy="264.8" r="2.75"/><circle cx="1327.1" cy="278" r="2.75"/><circle cx="1326.8" cy="297.6" r="2.75"/><circle cx="1326.6" cy="323.6" r="2.75"/><circle cx="1327.1" cy="350" r="2.75"/><circle cx="1326.5" cy="366" r="2.75"/><circle cx="1329.9" cy="384" r="2.75"/><circle cx="1324.2" cy="385.6" r="2.75"/></g>
</g>
<g class="p">
<text x="1558" y="127" font-size="19.2" text-anchor="middle">NCD8</text>
<rect x="1432.88" y="206.4" width="33.25" height="189.1" fill="#fd0000" stroke="#000" stroke-width="1.4"/>
<rect x="1473.97" y="206.2" width="33.25" height="189.3" fill="#fd0000" stroke="#000" stroke-width="1.4"/>
<rect x="1515.08" y="211.8" width="33.25" height="183.7" fill="#fd0000" stroke="#000" stroke-width="1.4"/>
<rect x="1556.17" y="213.4" width="33.25" height="182.1" fill="#fd0000" stroke="#000" stroke-width="1.4"/>
<rect x="1597.28" y="224.8" width="33.25" height="170.7" fill="#fd0000" stroke="#000" stroke-width="1.4"/>
<rect x="1638.38" y="223.2" width="33.25" height="172.3" fill="#fd0000" stroke="#000" stroke-width="1.4"/>
<rect x="1415.25" y="141.5" width="274" height="254" fill="none" stroke="#000" stroke-width="1.5"/>
<line x1="1403.95" y1="182" x2="1415.25" y2="182" stroke="#000" stroke-width="1.6"/>
<text x="1401.25" y="188.4" font-size="18" text-anchor="end">100</text>
<line x1="1403.95" y1="288.75" x2="1415.25" y2="288.75" stroke="#000" stroke-width="1.6"/>
<text x="1401.25" y="295.15" font-size="18" text-anchor="end">50</text>
<line x1="1403.95" y1="395.5" x2="1415.25" y2="395.5" stroke="#000" stroke-width="1.6"/>
<text x="1401.25" y="401.9" font-size="18" text-anchor="end">0</text>
<polyline points="1490.6,171 1490.6,165 1533.8,165 1533.8,178" fill="none" stroke="#000" stroke-width="1.5"/>
<polyline points="1572.6,174.6 1572.6,169 1615.6,169 1615.6,181.4" fill="none" stroke="#000" stroke-width="1.5"/>
<text x="1511" y="169.8" font-size="19" text-anchor="middle">*</text>
<text x="1593.8" y="172.6" font-size="19" text-anchor="middle">*</text>
<g class="d"><circle cx="1434.3" cy="183.1" r="2.75"/><circle cx="1465.3" cy="183.4" r="2.75"/><circle cx="1447.6" cy="184.2" r="2.75"/><circle cx="1442.6" cy="185" r="2.75"/><circle cx="1438.7" cy="185.5" r="2.75"/><circle cx="1460.7" cy="186.4" r="2.75"/><circle cx="1451.6" cy="186.9" r="2.75"/><circle cx="1455.7" cy="187.5" r="2.75"/><circle cx="1465.1" cy="188.4" r="2.75"/><circle cx="1438.5" cy="188.6" r="2.75"/><circle cx="1460.7" cy="189.7" r="2.75"/><circle cx="1456" cy="190.2" r="2.75"/><circle cx="1447.6" cy="190.7" r="2.75"/><circle cx="1442.9" cy="191.6" r="2.75"/><circle cx="1451.4" cy="191.9" r="2.75"/><circle cx="1433.9" cy="193" r="2.75"/><circle cx="1436.1" cy="193.4" r="2.75"/><circle cx="1449.4" cy="193.9" r="2.75"/><circle cx="1462.7" cy="194.8" r="2.75"/><circle cx="1453.6" cy="195.4" r="2.75"/><circle cx="1458.7" cy="196.2" r="2.75"/><circle cx="1440.4" cy="197.7" r="2.75"/><circle cx="1445.4" cy="198.1" r="2.75"/><circle cx="1442.5" cy="199.8" r="2.75"/><circle cx="1455.9" cy="200.3" r="2.75"/><circle cx="1451.3" cy="201.6" r="2.75"/><circle cx="1447.4" cy="202.9" r="2.75"/><circle cx="1438.1" cy="203.6" r="2.75"/><circle cx="1460.4" cy="204.6" r="2.75"/><circle cx="1440.8" cy="205.3" r="2.75"/><circle cx="1454.3" cy="206.1" r="2.75"/><circle cx="1458.4" cy="207.1" r="2.75"/><circle cx="1445.5" cy="208.2" r="2.75"/><circle cx="1449.4" cy="209.9" r="2.75"/><circle cx="1443.2" cy="211.2" r="2.75"/><circle cx="1456.3" cy="212.8" r="2.75"/><circle cx="1451.9" cy="214.8" r="2.75"/><circle cx="1447.2" cy="215.3" r="2.75"/><circle cx="1453.6" cy="216.9" r="2.75"/><circle cx="1444.9" cy="219" r="2.75"/><circle cx="1449.9" cy="219.6" r="2.75"/><circle cx="1453.8" cy="223.1" r="2.75"/><circle cx="1445.1" cy="225.2" r="2.75"/><circle cx="1449.3" cy="226.4" r="2.75"/><circle cx="1451.9" cy="228.4" r="2.75"/><circle cx="1447.1" cy="229.8" r="2.75"/><circle cx="1454.1" cy="235.6" r="2.75"/><circle cx="1444.8" cy="238.3" r="2.75"/><circle cx="1449.4" cy="240.1" r="2.75"/><circle cx="1449.9" cy="243.9" r="2.75"/><circle cx="1449.7" cy="251" r="2.75"/><circle cx="1453.8" cy="261" r="2.75"/><circle cx="1449.4" cy="264.6" r="2.75"/><circle cx="1444.9" cy="265.8" r="2.75"/><circle cx="1449.9" cy="272.4" r="2.75"/><circle cx="1449.4" cy="282.6" r="2.75"/><circle cx="1449.1" cy="293" r="2.75"/><circle cx="1449.8" cy="310.4" r="2.75"/><circle cx="1449.5" cy="374.6" r="2.75"/><circle cx="1444.8" cy="394.6" r="2.75"/><circle cx="1453.5" cy="395" r="2.75"/><circle cx="1449.8" cy="395.4" r="2.75"/><circle cx="1496.8" cy="181.6" r="2.75"/><circle cx="1484.2" cy="182" r="2.75"/><circle cx="1488.5" cy="182.4" r="2.75"/><circle cx="1492.5" cy="186.3" r="2.75"/><circle cx="1486" cy="186.8" r="2.75"/><circle cx="1477.2" cy="188" r="2.75"/><circle cx="1481.8" cy="188.3" r="2.75"/><circle cx="1504" cy="188.9" r="2.75"/><circle cx="1494.8" cy="189.6" r="2.75"/><circle cx="1499.2" cy="190.7" r="2.75"/><circle cx="1490.5" cy="191.5" r="2.75"/><circle cx="1488.6" cy="192.2" r="2.75"/><circle cx="1479.5" cy="192.6" r="2.75"/><circle cx="1484.4" cy="193.2" r="2.75"/><circle cx="1496.8" cy="193.8" r="2.75"/><circle cx="1501.6" cy="194.9" r="2.75"/><circle cx="1475.1" cy="195.6" r="2.75"/><circle cx="1492.7" cy="196.1" r="2.75"/><circle cx="1506" cy="197" r="2.75"/><circle cx="1496.9" cy="197.6" r="2.75"/><circle cx="1475" cy="198.6" r="2.75"/><circle cx="1488.1" cy="199.2" r="2.75"/><circle cx="1479.8" cy="199.6" r="2.75"/><circle cx="1501.6" cy="200.7" r="2.75"/><circle cx="1506.3" cy="200.9" r="2.75"/><circle cx="1483.9" cy="201.9" r="2.75"/><circle cx="1492.6" cy="202.5" r="2.75"/><circle cx="1474.8" cy="203.1" r="2.75"/><circle cx="1501.8" cy="203.7" r="2.75"/><circle cx="1484" cy="204.8" r="2.75"/><circle cx="1492.6" cy="205.1" r="2.75"/><circle cx="1479.2" cy="206.1" r="2.75"/><circle cx="1506.2" cy="207.1" r="2.75"/><circle cx="1497.3" cy="207.3" r="2.75"/><circle cx="1488.5" cy="208" r="2.75"/><circle cx="1488.7" cy="209" r="2.75"/><circle cx="1479.3" cy="209.6" r="2.75"/><circle cx="1501.4" cy="210.4" r="2.75"/><circle cx="1492.7" cy="211.2" r="2.75"/><circle cx="1475.2" cy="211.5" r="2.75"/><circle cx="1483.8" cy="212.3" r="2.75"/><circle cx="1506" cy="213" r="2.75"/><circle cx="1497" cy="213.5" r="2.75"/><circle cx="1484.4" cy="214.8" r="2.75"/><circle cx="1492.4" cy="215.4" r="2.75"/><circle cx="1488.6" cy="216.1" r="2.75"/><circle cx="1496.8" cy="216.3" r="2.75"/><circle cx="1490.7" cy="220.6" r="2.75"/><circle cx="1495.3" cy="222.4" r="2.75"/><circle cx="1486" cy="223.9" r="2.75"/><circle cx="1493.1" cy="226.4" r="2.75"/><circle cx="1484.1" cy="227.9" r="2.75"/><circle cx="1488.1" cy="229.5" r="2.75"/><circle cx="1496.9" cy="231.3" r="2.75"/><circle cx="1495.1" cy="233.5" r="2.75"/><circle cx="1486.2" cy="235.2" r="2.75"/><circle cx="1490.7" cy="237.7" r="2.75"/><circle cx="1486.5" cy="240.4" r="2.75"/><circle cx="1494.9" cy="242.4" r="2.75"/><circle cx="1490.7" cy="244.6" r="2.75"/><circle cx="1490.4" cy="246.4" r="2.75"/><circle cx="1488.5" cy="258.6" r="2.75"/><circle cx="1492.8" cy="261.4" r="2.75"/><circle cx="1492.7" cy="268" r="2.75"/><circle cx="1488.3" cy="272.4" r="2.75"/><circle cx="1490.4" cy="278" r="2.75"/><circle cx="1490.9" cy="289" r="2.75"/><circle cx="1488.6" cy="370" r="2.75"/><circle cx="1492.7" cy="370.4" r="2.75"/><circle cx="1490.5" cy="395.4" r="2.75"/><circle cx="1529.2" cy="182" r="2.75"/><circle cx="1534.2" cy="187" r="2.75"/><circle cx="1518.4" cy="188.8" r="2.75"/><circle cx="1523.2" cy="189.7" r="2.75"/><circle cx="1527.2" cy="190.4" r="2.75"/><circle cx="1544.6" cy="191.3" r="2.75"/><circle cx="1531.9" cy="191.8" r="2.75"/><circle cx="1540.8" cy="192.4" r="2.75"/><circle cx="1535.8" cy="193.4" r="2.75"/><circle cx="1544.8" cy="194.3" r="2.75"/><circle cx="1523.1" cy="194.5" r="2.75"/><circle cx="1540.8" cy="195.7" r="2.75"/><circle cx="1531.9" cy="195.8" r="2.75"/><circle cx="1527.1" cy="196.7" r="2.75"/><circle cx="1535.7" cy="197.4" r="2.75"/><circle cx="1518.6" cy="198.4" r="2.75"/><circle cx="1525.3" cy="199.3" r="2.75"/><circle cx="1520.6" cy="199.9" r="2.75"/><circle cx="1543" cy="200.3" r="2.75"/><circle cx="1529.6" cy="201.4" r="2.75"/><circle cx="1533.9" cy="201.8" r="2.75"/><circle cx="1538.5" cy="202.4" r="2.75"/><circle cx="1516.2" cy="203.6" r="2.75"/><circle cx="1547.1" cy="204.1" r="2.75"/><circle cx="1538.1" cy="204.9" r="2.75"/><circle cx="1542.4" cy="205.6" r="2.75"/><circle cx="1534.1" cy="206.5" r="2.75"/><circle cx="1546.8" cy="206.9" r="2.75"/><circle cx="1516.3" cy="207.8" r="2.75"/><circle cx="1520.7" cy="208.5" r="2.75"/><circle cx="1524.8" cy="209.3" r="2.75"/><circle cx="1529.6" cy="209.7" r="2.75"/><circle cx="1538.7" cy="210.6" r="2.75"/><circle cx="1533.8" cy="211.3" r="2.75"/><circle cx="1543" cy="211.8" r="2.75"/><circle cx="1525.3" cy="212.5" r="2.75"/><circle cx="1521" cy="214.1" r="2.75"/><circle cx="1529.2" cy="215.1" r="2.75"/><circle cx="1537.9" cy="218.4" r="2.75"/><circle cx="1529.8" cy="218.9" r="2.75"/><circle cx="1525.3" cy="220.6" r="2.75"/><circle cx="1533.8" cy="222.6" r="2.75"/><circle cx="1533.8" cy="225.9" r="2.75"/><circle cx="1525.2" cy="226.7" r="2.75"/><circle cx="1538.7" cy="228.3" r="2.75"/><circle cx="1529.6" cy="229.9" r="2.75"/><circle cx="1532" cy="231.8" r="2.75"/><circle cx="1527.3" cy="234.8" r="2.75"/><circle cx="1536.3" cy="236.6" r="2.75"/><circle cx="1533.9" cy="238.5" r="2.75"/><circle cx="1529.5" cy="240.5" r="2.75"/><circle cx="1527.4" cy="251.2" r="2.75"/><circle cx="1535.7" cy="254.2" r="2.75"/><circle cx="1532" cy="255.8" r="2.75"/><circle cx="1525" cy="258.6" r="2.75"/><circle cx="1533.7" cy="260.6" r="2.75"/><circle cx="1538.1" cy="262.7" r="2.75"/><circle cx="1529.7" cy="263.2" r="2.75"/><circle cx="1533.9" cy="275" r="2.75"/><circle cx="1529.8" cy="275.4" r="2.75"/><circle cx="1533.8" cy="289" r="2.75"/><circle cx="1529.2" cy="294" r="2.75"/><circle cx="1534" cy="301" r="2.75"/><circle cx="1529.4" cy="303" r="2.75"/><circle cx="1532" cy="344" r="2.75"/><circle cx="1531.8" cy="350.4" r="2.75"/><circle cx="1531.9" cy="368.6" r="2.75"/><circle cx="1531.5" cy="390" r="2.75"/><circle cx="1570.3" cy="187.8" r="2.75"/><circle cx="1579.7" cy="188.2" r="2.75"/><circle cx="1575.2" cy="188.6" r="2.75"/><circle cx="1565.8" cy="192.6" r="2.75"/><circle cx="1563.6" cy="193.5" r="2.75"/><circle cx="1559.9" cy="194.3" r="2.75"/><circle cx="1568.5" cy="194.5" r="2.75"/><circle cx="1572.8" cy="195.3" r="2.75"/><circle cx="1581.5" cy="196" r="2.75"/><circle cx="1586.1" cy="196.8" r="2.75"/><circle cx="1577.2" cy="198.1" r="2.75"/><circle cx="1568.3" cy="198.9" r="2.75"/><circle cx="1581.8" cy="199.5" r="2.75"/><circle cx="1586.2" cy="200.4" r="2.75"/><circle cx="1572.6" cy="201.1" r="2.75"/><circle cx="1576.8" cy="201.6" r="2.75"/><circle cx="1564.2" cy="202.3" r="2.75"/><circle cx="1559.5" cy="203" r="2.75"/><circle cx="1586.4" cy="204.3" r="2.75"/><circle cx="1559.6" cy="204.7" r="2.75"/><circle cx="1577.1" cy="205.5" r="2.75"/><circle cx="1564" cy="206.4" r="2.75"/><circle cx="1572.7" cy="206.9" r="2.75"/><circle cx="1568.2" cy="207.8" r="2.75"/><circle cx="1581.6" cy="208.6" r="2.75"/><circle cx="1557" cy="209.7" r="2.75"/><circle cx="1583.8" cy="210.3" r="2.75"/><circle cx="1574.7" cy="211" r="2.75"/><circle cx="1579.7" cy="212.2" r="2.75"/><circle cx="1561.7" cy="212.7" r="2.75"/><circle cx="1570.3" cy="213.7" r="2.75"/><circle cx="1588" cy="214.3" r="2.75"/><circle cx="1566.2" cy="214.7" r="2.75"/><circle cx="1570.8" cy="215.8" r="2.75"/><circle cx="1575.1" cy="216.6" r="2.75"/><circle cx="1581.4" cy="222.7" r="2.75"/><circle cx="1568.6" cy="223.4" r="2.75"/><circle cx="1573.1" cy="224.7" r="2.75"/><circle cx="1577.5" cy="225.5" r="2.75"/><circle cx="1564" cy="226.2" r="2.75"/><circle cx="1571" cy="227.8" r="2.75"/><circle cx="1575.1" cy="229.3" r="2.75"/><circle cx="1577.1" cy="233.1" r="2.75"/><circle cx="1568.2" cy="234" r="2.75"/><circle cx="1573.2" cy="236" r="2.75"/><circle cx="1570.8" cy="238.7" r="2.75"/><circle cx="1574.7" cy="242.1" r="2.75"/><circle cx="1572.8" cy="244.8" r="2.75"/><circle cx="1573" cy="256" r="2.75"/><circle cx="1574.8" cy="265" r="2.75"/><circle cx="1570.9" cy="265.4" r="2.75"/><circle cx="1572.8" cy="270.6" r="2.75"/><circle cx="1573.2" cy="278.4" r="2.75"/><circle cx="1575.1" cy="288.8" r="2.75"/><circle cx="1570.9" cy="289.2" r="2.75"/><circle cx="1607.8" cy="189" r="2.75"/><circle cx="1619.7" cy="192.1" r="2.75"/><circle cx="1614.1" cy="193.4" r="2.75"/><circle cx="1625.9" cy="194.4" r="2.75"/><circle cx="1614.2" cy="195.6" r="2.75"/><circle cx="1602.3" cy="196" r="2.75"/><circle cx="1608.3" cy="197.2" r="2.75"/><circle cx="1619.9" cy="198" r="2.75"/><circle cx="1623" cy="199.4" r="2.75"/><circle cx="1611.3" cy="199.9" r="2.75"/><circle cx="1605.5" cy="201.4" r="2.75"/><circle cx="1599" cy="201.8" r="2.75"/><circle cx="1628.4" cy="202.7" r="2.75"/><circle cx="1616.5" cy="204" r="2.75"/><circle cx="1628.5" cy="204.8" r="2.75"/><circle cx="1622.4" cy="205.4" r="2.75"/><circle cx="1605.1" cy="206.8" r="2.75"/><circle cx="1610.6" cy="207.3" r="2.75"/><circle cx="1599.2" cy="208.9" r="2.75"/><circle cx="1616.9" cy="209.7" r="2.75"/><circle cx="1620.1" cy="210.8" r="2.75"/><circle cx="1613.6" cy="214.6" r="2.75"/><circle cx="1608" cy="215.4" r="2.75"/><circle cx="1599.5" cy="216.4" r="2.75"/><circle cx="1610.9" cy="217.4" r="2.75"/><circle cx="1628.5" cy="218.9" r="2.75"/><circle cx="1622.6" cy="219.1" r="2.75"/><circle cx="1605.4" cy="220.8" r="2.75"/><circle cx="1616.8" cy="221.1" r="2.75"/><circle cx="1619.5" cy="222.2" r="2.75"/><circle cx="1607.6" cy="223.3" r="2.75"/><circle cx="1614.2" cy="224.9" r="2.75"/><circle cx="1602.5" cy="225.5" r="2.75"/><circle cx="1625.3" cy="226.4" r="2.75"/><circle cx="1613.7" cy="227.8" r="2.75"/><circle cx="1619.8" cy="228.3" r="2.75"/><circle cx="1608.2" cy="230.2" r="2.75"/><circle cx="1610.7" cy="232.9" r="2.75"/><circle cx="1617" cy="236" r="2.75"/><circle cx="1619.4" cy="238.6" r="2.75"/><circle cx="1614.2" cy="240.9" r="2.75"/><circle cx="1608.1" cy="242.8" r="2.75"/><circle cx="1611" cy="245.3" r="2.75"/><circle cx="1617.2" cy="249.2" r="2.75"/><circle cx="1607.8" cy="250.9" r="2.75"/><circle cx="1625.6" cy="251.8" r="2.75"/><circle cx="1613.9" cy="252.9" r="2.75"/><circle cx="1619.7" cy="253.4" r="2.75"/><circle cx="1602.1" cy="254.8" r="2.75"/><circle cx="1598.9" cy="256.1" r="2.75"/><circle cx="1616.8" cy="257" r="2.75"/><circle cx="1628.9" cy="257.6" r="2.75"/><circle cx="1622.5" cy="259" r="2.75"/><circle cx="1604.9" cy="260.5" r="2.75"/><circle cx="1611.1" cy="260.9" r="2.75"/><circle cx="1614.1" cy="261.9" r="2.75"/><circle cx="1602.5" cy="263.1" r="2.75"/><circle cx="1608.4" cy="264.5" r="2.75"/><circle cx="1620.1" cy="265.7" r="2.75"/><circle cx="1625.7" cy="266.1" r="2.75"/><circle cx="1613.7" cy="271" r="2.75"/><circle cx="1613.6" cy="289" r="2.75"/><circle cx="1613.7" cy="296" r="2.75"/><circle cx="1617.2" cy="321" r="2.75"/><circle cx="1610.9" cy="325" r="2.75"/><circle cx="1614.3" cy="335" r="2.75"/><circle cx="1613.7" cy="368" r="2.75"/><circle cx="1652.5" cy="182" r="2.75"/><circle cx="1657.4" cy="187" r="2.75"/><circle cx="1649.9" cy="187.4" r="2.75"/><circle cx="1654.6" cy="187.8" r="2.75"/><circle cx="1660.2" cy="192" r="2.75"/><circle cx="1670.1" cy="197.2" r="2.75"/><circle cx="1649.7" cy="198" r="2.75"/><circle cx="1664.8" cy="198.9" r="2.75"/><circle cx="1654.8" cy="199.8" r="2.75"/><circle cx="1645" cy="200.4" r="2.75"/><circle cx="1639.6" cy="201.3" r="2.75"/><circle cx="1660.1" cy="202" r="2.75"/><circle cx="1660.1" cy="203.4" r="2.75"/><circle cx="1650" cy="204" r="2.75"/><circle cx="1640.1" cy="204.4" r="2.75"/><circle cx="1665.3" cy="205.8" r="2.75"/><circle cx="1670.3" cy="206" r="2.75"/><circle cx="1645.1" cy="207" r="2.75"/><circle cx="1655.1" cy="208.2" r="2.75"/><circle cx="1649.7" cy="208.9" r="2.75"/><circle cx="1644.7" cy="209.7" r="2.75"/><circle cx="1670.1" cy="210.2" r="2.75"/><circle cx="1660" cy="210.9" r="2.75"/><circle cx="1654.9" cy="212" r="2.75"/><circle cx="1665.2" cy="212.4" r="2.75"/><circle cx="1640.2" cy="213.3" r="2.75"/><circle cx="1647.8" cy="214.2" r="2.75"/><circle cx="1642.7" cy="214.8" r="2.75"/><circle cx="1657.8" cy="215.9" r="2.75"/><circle cx="1662.5" cy="216.9" r="2.75"/><circle cx="1667.6" cy="217.7" r="2.75"/><circle cx="1652.3" cy="218.3" r="2.75"/><circle cx="1667.6" cy="219.2" r="2.75"/><circle cx="1657.3" cy="219.9" r="2.75"/><circle cx="1642.2" cy="220.5" r="2.75"/><circle cx="1647.3" cy="221.6" r="2.75"/><circle cx="1662.4" cy="222.3" r="2.75"/><circle cx="1652.3" cy="223.4" r="2.75"/><circle cx="1642.6" cy="224.3" r="2.75"/><circle cx="1652.4" cy="224.7" r="2.75"/><circle cx="1667.7" cy="225.7" r="2.75"/><circle cx="1657.3" cy="227" r="2.75"/><circle cx="1662.8" cy="227.9" r="2.75"/><circle cx="1647.6" cy="229.1" r="2.75"/><circle cx="1657.8" cy="231" r="2.75"/><circle cx="1652.7" cy="232.6" r="2.75"/><circle cx="1662.9" cy="233.8" r="2.75"/><circle cx="1647.1" cy="235.1" r="2.75"/><circle cx="1664.7" cy="236.6" r="2.75"/><circle cx="1644.6" cy="237.8" r="2.75"/><circle cx="1654.8" cy="239.1" r="2.75"/><circle cx="1650.1" cy="240.2" r="2.75"/><circle cx="1659.8" cy="241.4" r="2.75"/><circle cx="1652.3" cy="243.1" r="2.75"/><circle cx="1657.8" cy="243.8" r="2.75"/><circle cx="1657.9" cy="251" r="2.75"/><circle cx="1652.7" cy="251.4" r="2.75"/><circle cx="1654.7" cy="269.6" r="2.75"/><circle cx="1655.3" cy="277" r="2.75"/><circle cx="1655.3" cy="283.4" r="2.75"/><circle cx="1649.8" cy="288.8" r="2.75"/><circle cx="1654.7" cy="289.2" r="2.75"/><circle cx="1660" cy="289.6" r="2.75"/><circle cx="1654.9" cy="303.6" r="2.75"/><circle cx="1654.8" cy="310.4" r="2.75"/><circle cx="1655.1" cy="317.6" r="2.75"/><circle cx="1657.3" cy="325" r="2.75"/><circle cx="1652.3" cy="326.6" r="2.75"/></g>
</g>
<g class="p">
<text x="1879.2" y="127" font-size="19.2" text-anchor="middle">NCD19</text>
<rect x="1764.89" y="257.6" width="33.28" height="137.9" fill="#fd0000" stroke="#000" stroke-width="1.4"/>
<rect x="1806.03" y="255.6" width="33.28" height="139.9" fill="#fd0000" stroke="#000" stroke-width="1.4"/>
<rect x="1847.17" y="258.4" width="33.28" height="137.1" fill="#fd0000" stroke="#000" stroke-width="1.4"/>
<rect x="1888.3" y="247.2" width="33.28" height="148.3" fill="#fd0000" stroke="#000" stroke-width="1.4"/>
<rect x="1929.44" y="254.4" width="33.28" height="141.1" fill="#fd0000" stroke="#000" stroke-width="1.4"/>
<rect x="1970.58" y="283" width="33.28" height="112.5" fill="#fd0000" stroke="#000" stroke-width="1.4"/>
<rect x="1747.25" y="141.5" width="274.25" height="254" fill="none" stroke="#000" stroke-width="1.5"/>
<line x1="1735.95" y1="182" x2="1747.25" y2="182" stroke="#000" stroke-width="1.6"/>
<text x="1733.25" y="188.4" font-size="18" text-anchor="end">100</text>
<line x1="1735.95" y1="288.75" x2="1747.25" y2="288.75" stroke="#000" stroke-width="1.6"/>
<text x="1733.25" y="295.15" font-size="18" text-anchor="end">50</text>
<line x1="1735.95" y1="395.5" x2="1747.25" y2="395.5" stroke="#000" stroke-width="1.6"/>
<text x="1733.25" y="401.9" font-size="18" text-anchor="end">0</text>
<polyline points="1952.8,182.6 1952.8,177 1987.2,177 1987.2,196" fill="none" stroke="#000" stroke-width="1.5"/>
<text x="1969.8" y="182" font-size="19" text-anchor="middle">*</text>
<g class="d"><circle cx="1781.5" cy="208.6" r="2.75"/><circle cx="1788.7" cy="210.6" r="2.75"/><circle cx="1781.6" cy="219" r="2.75"/><circle cx="1788.8" cy="221" r="2.75"/><circle cx="1774.3" cy="223.4" r="2.75"/><circle cx="1788.7" cy="227.6" r="2.75"/><circle cx="1774.4" cy="227.8" r="2.75"/><circle cx="1796" cy="229" r="2.75"/><circle cx="1767.1" cy="231.4" r="2.75"/><circle cx="1781.4" cy="231.6" r="2.75"/><circle cx="1781.6" cy="231.8" r="2.75"/><circle cx="1788.6" cy="233.4" r="2.75"/><circle cx="1767.1" cy="233.6" r="2.75"/><circle cx="1774.4" cy="238" r="2.75"/><circle cx="1796" cy="238.2" r="2.75"/><circle cx="1781.6" cy="238.4" r="2.75"/><circle cx="1788.7" cy="243" r="2.75"/><circle cx="1781.5" cy="248" r="2.75"/><circle cx="1788.8" cy="253" r="2.75"/><circle cx="1781.6" cy="257" r="2.75"/><circle cx="1781.6" cy="271" r="2.75"/><circle cx="1788.8" cy="271.2" r="2.75"/><circle cx="1788.7" cy="276.6" r="2.75"/><circle cx="1781.5" cy="280" r="2.75"/><circle cx="1781.6" cy="285" r="2.75"/><circle cx="1781.5" cy="291" r="2.75"/><circle cx="1781.5" cy="304" r="2.75"/><circle cx="1781.6" cy="312" r="2.75"/><circle cx="1788.7" cy="316.6" r="2.75"/><circle cx="1781.5" cy="318" r="2.75"/><circle cx="1788.8" cy="321" r="2.75"/><circle cx="1774.4" cy="321.2" r="2.75"/><circle cx="1796" cy="321.4" r="2.75"/><circle cx="1781.6" cy="325" r="2.75"/><circle cx="1774.4" cy="333" r="2.75"/><circle cx="1788.8" cy="333.2" r="2.75"/><circle cx="1781.6" cy="338" r="2.75"/><circle cx="1781.5" cy="340.4" r="2.75"/><circle cx="1811.7" cy="206.4" r="2.75"/><circle cx="1822.7" cy="207.6" r="2.75"/><circle cx="1833.6" cy="209" r="2.75"/><circle cx="1811.7" cy="219.4" r="2.75"/><circle cx="1833.8" cy="219.6" r="2.75"/><circle cx="1822.7" cy="222.6" r="2.75"/><circle cx="1833.7" cy="225.4" r="2.75"/><circle cx="1822.6" cy="225.6" r="2.75"/><circle cx="1811.6" cy="228" r="2.75"/><circle cx="1822.7" cy="233.4" r="2.75"/><circle cx="1811.7" cy="252.6" r="2.75"/><circle cx="1833.7" cy="252.8" r="2.75"/><circle cx="1822.7" cy="255.4" r="2.75"/><circle cx="1833.8" cy="270.6" r="2.75"/><circle cx="1822.6" cy="272" r="2.75"/><circle cx="1811.7" cy="274" r="2.75"/><circle cx="1833.8" cy="281.6" r="2.75"/><circle cx="1822.7" cy="283" r="2.75"/><circle cx="1822.7" cy="289" r="2.75"/><circle cx="1822.6" cy="300.6" r="2.75"/><circle cx="1822.6" cy="306" r="2.75"/><circle cx="1833.6" cy="307.4" r="2.75"/><circle cx="1811.7" cy="317.6" r="2.75"/><circle cx="1822.6" cy="318.6" r="2.75"/><circle cx="1833.7" cy="320.6" r="2.75"/><circle cx="1863.8" cy="207" r="2.75"/><circle cx="1863.9" cy="216.6" r="2.75"/><circle cx="1858.9" cy="222" r="2.75"/><circle cx="1868.6" cy="222.2" r="2.75"/><circle cx="1863.8" cy="222.4" r="2.75"/><circle cx="1863.8" cy="228" r="2.75"/><circle cx="1868.5" cy="233" r="2.75"/><circle cx="1863.8" cy="233.2" r="2.75"/><circle cx="1858.9" cy="239" r="2.75"/><circle cx="1863.8" cy="239.2" r="2.75"/><circle cx="1868.6" cy="243.4" r="2.75"/><circle cx="1859" cy="248" r="2.75"/><circle cx="1863.7" cy="248.2" r="2.75"/><circle cx="1868.5" cy="248.4" r="2.75"/><circle cx="1878.1" cy="255" r="2.75"/><circle cx="1854.2" cy="256" r="2.75"/><circle cx="1863.9" cy="257" r="2.75"/><circle cx="1868.6" cy="258" r="2.75"/><circle cx="1873.3" cy="259" r="2.75"/><circle cx="1859" cy="260" r="2.75"/><circle cx="1868.5" cy="265" r="2.75"/><circle cx="1863.9" cy="265.2" r="2.75"/><circle cx="1859" cy="270" r="2.75"/><circle cx="1863.8" cy="270.2" r="2.75"/><circle cx="1868.7" cy="279" r="2.75"/><circle cx="1863.8" cy="284" r="2.75"/><circle cx="1863.9" cy="284.2" r="2.75"/><circle cx="1868.6" cy="293" r="2.75"/><circle cx="1863.9" cy="293.2" r="2.75"/><circle cx="1863.8" cy="299.6" r="2.75"/><circle cx="1868.5" cy="302" r="2.75"/><circle cx="1863.7" cy="305.4" r="2.75"/><circle cx="1868.6" cy="313" r="2.75"/><circle cx="1863.8" cy="317" r="2.75"/><circle cx="1905" cy="191.4" r="2.75"/><circle cx="1919.3" cy="208" r="2.75"/><circle cx="1905" cy="208.2" r="2.75"/><circle cx="1897.8" cy="208.4" r="2.75"/><circle cx="1912.2" cy="211" r="2.75"/><circle cx="1912.1" cy="215" r="2.75"/><circle cx="1905" cy="215.2" r="2.75"/><circle cx="1897.8" cy="218" r="2.75"/><circle cx="1919.3" cy="221" r="2.75"/><circle cx="1912.1" cy="221.2" r="2.75"/><circle cx="1905" cy="223.4" r="2.75"/><circle cx="1897.7" cy="225" r="2.75"/><circle cx="1912.2" cy="230" r="2.75"/><circle cx="1897.7" cy="232" r="2.75"/><circle cx="1919.4" cy="232.2" r="2.75"/><circle cx="1905" cy="233.4" r="2.75"/><circle cx="1912.1" cy="239" r="2.75"/><circle cx="1904.9" cy="239.2" r="2.75"/><circle cx="1897.7" cy="242" r="2.75"/><circle cx="1919.4" cy="244" r="2.75"/><circle cx="1904.9" cy="244.2" r="2.75"/><circle cx="1912.2" cy="244.4" r="2.75"/><circle cx="1897.7" cy="247" r="2.75"/><circle cx="1912.1" cy="260.6" r="2.75"/><circle cx="1919.3" cy="260.8" r="2.75"/><circle cx="1904.9" cy="261" r="2.75"/><circle cx="1897.8" cy="265" r="2.75"/><circle cx="1904.9" cy="267" r="2.75"/><circle cx="1912.1" cy="269" r="2.75"/><circle cx="1912.1" cy="272.4" r="2.75"/><circle cx="1897.8" cy="275.4" r="2.75"/><circle cx="1904.8" cy="275.6" r="2.75"/><circle cx="1904.9" cy="279" r="2.75"/><circle cx="1912.2" cy="284" r="2.75"/><circle cx="1897.7" cy="286" r="2.75"/><circle cx="1919.3" cy="289" r="2.75"/><circle cx="1912.2" cy="289.2" r="2.75"/><circle cx="1904.9" cy="289.4" r="2.75"/><circle cx="1904.8" cy="291.4" r="2.75"/><circle cx="1905" cy="300" r="2.75"/><circle cx="1912.2" cy="303.4" r="2.75"/><circle cx="1897.8" cy="310" r="2.75"/><circle cx="1905" cy="310.2" r="2.75"/><circle cx="1912.1" cy="310.4" r="2.75"/><circle cx="1904.9" cy="323.6" r="2.75"/><circle cx="1904.9" cy="369" r="2.75"/><circle cx="1904.9" cy="375" r="2.75"/><circle cx="1946.1" cy="202" r="2.75"/><circle cx="1953.3" cy="207" r="2.75"/><circle cx="1953.2" cy="210" r="2.75"/><circle cx="1946" cy="210.2" r="2.75"/><circle cx="1946" cy="218" r="2.75"/><circle cx="1953.4" cy="219.4" r="2.75"/><circle cx="1938.9" cy="221" r="2.75"/><circle cx="1946.1" cy="224.6" r="2.75"/><circle cx="1953.3" cy="227.6" r="2.75"/><circle cx="1938.8" cy="227.8" r="2.75"/><circle cx="1938.8" cy="230" r="2.75"/><circle cx="1953.2" cy="230.2" r="2.75"/><circle cx="1946.1" cy="235" r="2.75"/><circle cx="1938.9" cy="237.6" r="2.75"/><circle cx="1946.1" cy="239.4" r="2.75"/><circle cx="1953.2" cy="242.6" r="2.75"/><circle cx="1960.4" cy="245" r="2.75"/><circle cx="1938.8" cy="247" r="2.75"/><circle cx="1953.2" cy="247.2" r="2.75"/><circle cx="1946" cy="250" r="2.75"/><circle cx="1946.1" cy="250.2" r="2.75"/><circle cx="1960.5" cy="250.4" r="2.75"/><circle cx="1953.2" cy="254.4" r="2.75"/><circle cx="1938.9" cy="254.6" r="2.75"/><circle cx="1946.1" cy="263" r="2.75"/><circle cx="1953.3" cy="264.4" r="2.75"/><circle cx="1946" cy="269" r="2.75"/><circle cx="1953.3" cy="271.4" r="2.75"/><circle cx="1938.9" cy="271.6" r="2.75"/><circle cx="1938.9" cy="281" r="2.75"/><circle cx="1946" cy="284" r="2.75"/><circle cx="1953.2" cy="286" r="2.75"/><circle cx="1946" cy="292.4" r="2.75"/><circle cx="1953.3" cy="292.6" r="2.75"/><circle cx="1938.9" cy="294.4" r="2.75"/><circle cx="1938.8" cy="317" r="2.75"/><circle cx="1953.3" cy="317.2" r="2.75"/><circle cx="1946.1" cy="321" r="2.75"/><circle cx="1946" cy="325" r="2.75"/><circle cx="1953.2" cy="328" r="2.75"/><circle cx="1960.4" cy="328.2" r="2.75"/><circle cx="1938.9" cy="329" r="2.75"/><circle cx="1946" cy="331.4" r="2.75"/><circle cx="1946.1" cy="337.6" r="2.75"/><circle cx="1946" cy="356.4" r="2.75"/><circle cx="1946" cy="375.4" r="2.75"/><circle cx="1987.3" cy="201" r="2.75"/><circle cx="1994.4" cy="202.4" r="2.75"/><circle cx="1979.9" cy="207.6" r="2.75"/><circle cx="1994.4" cy="211" r="2.75"/><circle cx="1987.3" cy="211.2" r="2.75"/><circle cx="1994.4" cy="229" r="2.75"/><circle cx="1987.2" cy="229.2" r="2.75"/><circle cx="1980.1" cy="234" r="2.75"/><circle cx="1987.2" cy="234.2" r="2.75"/><circle cx="1994.4" cy="244" r="2.75"/><circle cx="1980.1" cy="244.2" r="2.75"/><circle cx="1987.2" cy="247.4" r="2.75"/><circle cx="1979.9" cy="250.4" r="2.75"/><circle cx="1987.3" cy="254" r="2.75"/><circle cx="1994.5" cy="255.4" r="2.75"/><circle cx="1987.2" cy="260.4" r="2.75"/><circle cx="1994.3" cy="266" r="2.75"/><circle cx="1987.2" cy="267" r="2.75"/><circle cx="1980" cy="268.6" r="2.75"/><circle cx="1972.9" cy="276" r="2.75"/><circle cx="1994.5" cy="277.6" r="2.75"/><circle cx="1987.2" cy="277.8" r="2.75"/><circle cx="1980.1" cy="279" r="2.75"/><circle cx="2001.6" cy="280.6" r="2.75"/><circle cx="1987.2" cy="284" r="2.75"/><circle cx="1980.1" cy="284.2" r="2.75"/><circle cx="2001.7" cy="288" r="2.75"/><circle cx="1994.4" cy="288.2" r="2.75"/><circle cx="1980" cy="292.6" r="2.75"/><circle cx="2001.7" cy="295.4" r="2.75"/><circle cx="1987.2" cy="295.6" r="2.75"/><circle cx="1994.4" cy="295.8" r="2.75"/><circle cx="1987.3" cy="299" r="2.75"/><circle cx="1994.5" cy="302" r="2.75"/><circle cx="1987.2" cy="311.4" r="2.75"/><circle cx="1994.5" cy="321.6" r="2.75"/><circle cx="1987.3" cy="324.6" r="2.75"/><circle cx="1987.2" cy="327.6" r="2.75"/><circle cx="1994.5" cy="332.6" r="2.75"/><circle cx="1987.2" cy="337" r="2.75"/><circle cx="1980" cy="337.2" r="2.75"/><circle cx="2001.6" cy="340" r="2.75"/><circle cx="1994.4" cy="340.2" r="2.75"/><circle cx="1972.8" cy="341.6" r="2.75"/><circle cx="1987.3" cy="352" r="2.75"/><circle cx="1994.3" cy="360.4" r="2.75"/><circle cx="2001.6" cy="362" r="2.75"/><circle cx="1987.2" cy="363" r="2.75"/><circle cx="1979.9" cy="365.4" r="2.75"/><circle cx="1987.3" cy="387" r="2.75"/></g>
</g>
<g class="p">
<text x="203.6" y="461.7" font-size="19.2" text-anchor="middle">eEFCD4</text>
<rect x="96.31" y="584.4" width="32.62" height="141.6" fill="#000080" stroke="#000" stroke-width="1.4"/>
<rect x="136.66" y="584.6" width="32.62" height="141.4" fill="#000080" stroke="#000" stroke-width="1.4"/>
<rect x="177.01" y="585.6" width="32.62" height="140.4" fill="#000080" stroke="#000" stroke-width="1.4"/>
<rect x="217.36" y="581.4" width="32.62" height="144.6" fill="#000080" stroke="#000" stroke-width="1.4"/>
<rect x="257.71" y="592" width="32.62" height="134" fill="#000080" stroke="#000" stroke-width="1.4"/>
<rect x="298.06" y="564.4" width="32.62" height="161.6" fill="#000080" stroke="#000" stroke-width="1.4"/>
<rect x="79" y="471.9" width="269" height="254.1" fill="none" stroke="#000" stroke-width="1.5"/>
<line x1="67.7" y1="498.9" x2="79" y2="498.9" stroke="#000" stroke-width="1.6"/>
<text x="56.9" y="504.9" font-size="18" text-anchor="end">10</text>
<text transform="translate(65.6 500.4) scale(1.14 1)" font-size="11.5" text-anchor="end">2</text>
<line x1="67.7" y1="612.5" x2="79" y2="612.5" stroke="#000" stroke-width="1.6"/>
<text x="56.9" y="618.5" font-size="18" text-anchor="end">10</text>
<text transform="translate(65.6 614) scale(1.14 1)" font-size="11.5" text-anchor="end">0</text>
<line x1="67.7" y1="726" x2="79" y2="726" stroke="#000" stroke-width="1.6"/>
<text x="52.5" y="732" font-size="18" text-anchor="end">10</text>
<text transform="translate(65.6 727.5) scale(1.14 1)" font-size="11.5" text-anchor="end">-2</text>
<line x1="73.2" y1="578.3" x2="79" y2="578.3" stroke="#000" stroke-width="1.6"/>
<line x1="73.2" y1="558.3" x2="79" y2="558.3" stroke="#000" stroke-width="1.6"/>
<line x1="73.2" y1="544.11" x2="79" y2="544.11" stroke="#000" stroke-width="1.6"/>
<line x1="73.2" y1="533.1" x2="79" y2="533.1" stroke="#000" stroke-width="1.6"/>
<line x1="73.2" y1="524.1" x2="79" y2="524.1" stroke="#000" stroke-width="1.6"/>
<line x1="73.2" y1="516.5" x2="79" y2="516.5" stroke="#000" stroke-width="1.6"/>
<line x1="73.2" y1="509.91" x2="79" y2="509.91" stroke="#000" stroke-width="1.6"/>
<line x1="73.2" y1="504.1" x2="79" y2="504.1" stroke="#000" stroke-width="1.6"/>
<line x1="73.2" y1="691.83" x2="79" y2="691.83" stroke="#000" stroke-width="1.6"/>
<line x1="73.2" y1="671.85" x2="79" y2="671.85" stroke="#000" stroke-width="1.6"/>
<line x1="73.2" y1="657.67" x2="79" y2="657.67" stroke="#000" stroke-width="1.6"/>
<line x1="73.2" y1="646.67" x2="79" y2="646.67" stroke="#000" stroke-width="1.6"/>
<line x1="73.2" y1="637.68" x2="79" y2="637.68" stroke="#000" stroke-width="1.6"/>
<line x1="73.2" y1="630.08" x2="79" y2="630.08" stroke="#000" stroke-width="1.6"/>
<line x1="73.2" y1="623.5" x2="79" y2="623.5" stroke="#000" stroke-width="1.6"/>
<line x1="73.2" y1="617.69" x2="79" y2="617.69" stroke="#000" stroke-width="1.6"/>
<text transform="translate(13.2 616.9) rotate(-90)" font-size="16" text-anchor="middle">% of gated cells</text>
<polyline points="193,499.6 193,486.6 313.4,486.6 313.4,495" fill="none" stroke="#000" stroke-width="1.5"/>
<polyline points="234.4,486.6 234.4,492.6" fill="none" stroke="#000" stroke-width="1.5"/>
<polyline points="274,486.6 274,519.4" fill="none" stroke="#000" stroke-width="1.5"/>
<text x="213.6" y="491.8" font-size="19" text-anchor="middle">*</text>
<text x="254.4" y="491.8" font-size="19" text-anchor="middle">*</text>
<text x="294.9" y="491.8" font-size="19" text-anchor="middle" letter-spacing="2.6">**</text>
<g class="d"><circle cx="112.8" cy="502.4" r="2.75"/><circle cx="112.7" cy="534.6" r="2.75"/><circle cx="112.5" cy="541.4" r="2.75"/><circle cx="110.2" cy="547.6" r="2.75"/><circle cx="115" cy="549.5" r="2.75"/><circle cx="106.4" cy="550.8" r="2.75"/><circle cx="119.2" cy="552.1" r="2.75"/><circle cx="119.3" cy="553.1" r="2.75"/><circle cx="106.1" cy="554.7" r="2.75"/><circle cx="114.4" cy="556.2" r="2.75"/><circle cx="110.6" cy="557.8" r="2.75"/><circle cx="106.5" cy="558.9" r="2.75"/><circle cx="114.7" cy="560.7" r="2.75"/><circle cx="110.4" cy="562.4" r="2.75"/><circle cx="119.5" cy="562.9" r="2.75"/><circle cx="114.7" cy="568.6" r="2.75"/><circle cx="118.8" cy="569.8" r="2.75"/><circle cx="105.9" cy="570.4" r="2.75"/><circle cx="110.5" cy="571.5" r="2.75"/><circle cx="123.1" cy="575.7" r="2.75"/><circle cx="114.7" cy="575.8" r="2.75"/><circle cx="118.7" cy="576.9" r="2.75"/><circle cx="110.3" cy="577.4" r="2.75"/><circle cx="97.5" cy="578.6" r="2.75"/><circle cx="128.1" cy="579.4" r="2.75"/><circle cx="106.2" cy="579.9" r="2.75"/><circle cx="101.6" cy="580.4" r="2.75"/><circle cx="115.1" cy="581.4" r="2.75"/><circle cx="118.8" cy="582.2" r="2.75"/><circle cx="110.2" cy="583" r="2.75"/><circle cx="106.1" cy="583.6" r="2.75"/><circle cx="106.5" cy="588.9" r="2.75"/><circle cx="119.3" cy="590.4" r="2.75"/><circle cx="110.1" cy="591.4" r="2.75"/><circle cx="114.6" cy="592.7" r="2.75"/><circle cx="114.5" cy="594.7" r="2.75"/><circle cx="119" cy="595.1" r="2.75"/><circle cx="110.5" cy="597.1" r="2.75"/><circle cx="105.8" cy="598.1" r="2.75"/><circle cx="121.7" cy="599.9" r="2.75"/><circle cx="103.6" cy="600.5" r="2.75"/><circle cx="108.7" cy="602.9" r="2.75"/><circle cx="112.7" cy="603.5" r="2.75"/><circle cx="116.7" cy="604.5" r="2.75"/><circle cx="119.2" cy="606.1" r="2.75"/><circle cx="114.8" cy="607.6" r="2.75"/><circle cx="110.1" cy="608.5" r="2.75"/><circle cx="105.8" cy="610.4" r="2.75"/><circle cx="119.3" cy="611.8" r="2.75"/><circle cx="114.9" cy="613.5" r="2.75"/><circle cx="106" cy="614.4" r="2.75"/><circle cx="110.8" cy="615.7" r="2.75"/><circle cx="115" cy="617" r="2.75"/><circle cx="110.2" cy="619.4" r="2.75"/><circle cx="112.5" cy="628.4" r="2.75"/><circle cx="112.8" cy="643.4" r="2.75"/><circle cx="112.5" cy="709.4" r="2.75"/><circle cx="110.2" cy="726" r="2.75"/><circle cx="114.8" cy="726" r="2.75"/><circle cx="153.1" cy="501" r="2.75"/><circle cx="152.8" cy="523.6" r="2.75"/><circle cx="160.3" cy="550.1" r="2.75"/><circle cx="150.2" cy="551.8" r="2.75"/><circle cx="145.7" cy="552.8" r="2.75"/><circle cx="155.8" cy="553.9" r="2.75"/><circle cx="160.6" cy="556.2" r="2.75"/><circle cx="145.3" cy="557.1" r="2.75"/><circle cx="155.7" cy="558.4" r="2.75"/><circle cx="150.3" cy="559.7" r="2.75"/><circle cx="153.1" cy="565.5" r="2.75"/><circle cx="148.1" cy="567.6" r="2.75"/><circle cx="157.8" cy="569.2" r="2.75"/><circle cx="152.9" cy="570.9" r="2.75"/><circle cx="147.9" cy="573.1" r="2.75"/><circle cx="157.8" cy="574.5" r="2.75"/><circle cx="158.3" cy="578.8" r="2.75"/><circle cx="147.7" cy="579.1" r="2.75"/><circle cx="163" cy="580.2" r="2.75"/><circle cx="153.2" cy="581.2" r="2.75"/><circle cx="138.4" cy="582" r="2.75"/><circle cx="167.5" cy="582.6" r="2.75"/><circle cx="143.3" cy="583.3" r="2.75"/><circle cx="158" cy="584.3" r="2.75"/><circle cx="148.2" cy="584.8" r="2.75"/><circle cx="152.7" cy="586.2" r="2.75"/><circle cx="143.1" cy="586.6" r="2.75"/><circle cx="138.4" cy="587.8" r="2.75"/><circle cx="168.1" cy="588.2" r="2.75"/><circle cx="162.5" cy="589.2" r="2.75"/><circle cx="162.8" cy="589.9" r="2.75"/><circle cx="167.8" cy="590.9" r="2.75"/><circle cx="152.8" cy="591.5" r="2.75"/><circle cx="142.7" cy="592.2" r="2.75"/><circle cx="158.2" cy="593.6" r="2.75"/><circle cx="148.4" cy="594.1" r="2.75"/><circle cx="138.1" cy="594.9" r="2.75"/><circle cx="148.1" cy="595.8" r="2.75"/><circle cx="153.2" cy="596.7" r="2.75"/><circle cx="158" cy="597.5" r="2.75"/><circle cx="157.8" cy="602.7" r="2.75"/><circle cx="162.9" cy="603.8" r="2.75"/><circle cx="152.7" cy="604.7" r="2.75"/><circle cx="148.3" cy="606.3" r="2.75"/><circle cx="142.8" cy="607.4" r="2.75"/><circle cx="152.7" cy="607.7" r="2.75"/><circle cx="147.9" cy="609.6" r="2.75"/><circle cx="162.6" cy="610.8" r="2.75"/><circle cx="143.1" cy="611.8" r="2.75"/><circle cx="157.9" cy="612.3" r="2.75"/><circle cx="157.7" cy="614.1" r="2.75"/><circle cx="152.8" cy="615" r="2.75"/><circle cx="147.8" cy="615.5" r="2.75"/><circle cx="143.3" cy="616.6" r="2.75"/><circle cx="163.2" cy="618.7" r="2.75"/><circle cx="158.1" cy="619.5" r="2.75"/><circle cx="152.7" cy="620.2" r="2.75"/><circle cx="148" cy="623.2" r="2.75"/><circle cx="157.8" cy="624.8" r="2.75"/><circle cx="152.6" cy="626.4" r="2.75"/><circle cx="148.4" cy="628.6" r="2.75"/><circle cx="152.9" cy="636" r="2.75"/><circle cx="193" cy="506.4" r="2.75"/><circle cx="193.6" cy="536.6" r="2.75"/><circle cx="193.2" cy="547.4" r="2.75"/><circle cx="198.2" cy="550.9" r="2.75"/><circle cx="188" cy="552" r="2.75"/><circle cx="190.5" cy="554.3" r="2.75"/><circle cx="186.2" cy="555.6" r="2.75"/><circle cx="195.6" cy="556.2" r="2.75"/><circle cx="200.7" cy="558.4" r="2.75"/><circle cx="193.4" cy="559.4" r="2.75"/><circle cx="188.2" cy="564.9" r="2.75"/><circle cx="202.8" cy="566" r="2.75"/><circle cx="183.1" cy="567.4" r="2.75"/><circle cx="198.6" cy="568.5" r="2.75"/><circle cx="193" cy="569.8" r="2.75"/><circle cx="185.7" cy="570.3" r="2.75"/><circle cx="201.1" cy="572" r="2.75"/><circle cx="190.9" cy="573" r="2.75"/><circle cx="195.7" cy="574.5" r="2.75"/><circle cx="200.9" cy="575.3" r="2.75"/><circle cx="196" cy="578.6" r="2.75"/><circle cx="190.8" cy="579.2" r="2.75"/><circle cx="185.6" cy="579.7" r="2.75"/><circle cx="193" cy="580.5" r="2.75"/><circle cx="188.7" cy="581.2" r="2.75"/><circle cx="183.1" cy="582.2" r="2.75"/><circle cx="203.4" cy="582.6" r="2.75"/><circle cx="198.5" cy="583.7" r="2.75"/><circle cx="207.8" cy="584.2" r="2.75"/><circle cx="178.3" cy="585.2" r="2.75"/><circle cx="208.4" cy="585.9" r="2.75"/><circle cx="183.4" cy="586.7" r="2.75"/><circle cx="198.1" cy="587.7" r="2.75"/><circle cx="203.5" cy="587.9" r="2.75"/><circle cx="193.4" cy="589.2" r="2.75"/><circle cx="188.4" cy="589.7" r="2.75"/><circle cx="178.3" cy="590.5" r="2.75"/><circle cx="183.1" cy="591.4" r="2.75"/><circle cx="178.3" cy="592.2" r="2.75"/><circle cx="202.9" cy="592.7" r="2.75"/><circle cx="188.7" cy="593.5" r="2.75"/><circle cx="198.3" cy="594.6" r="2.75"/><circle cx="193.6" cy="594.7" r="2.75"/><circle cx="207.8" cy="595.9" r="2.75"/><circle cx="178.6" cy="596.6" r="2.75"/><circle cx="188.5" cy="597" r="2.75"/><circle cx="193.6" cy="598.1" r="2.75"/><circle cx="198.2" cy="598.9" r="2.75"/><circle cx="183.4" cy="599.9" r="2.75"/><circle cx="207.8" cy="600.2" r="2.75"/><circle cx="203.1" cy="601.4" r="2.75"/><circle cx="185.9" cy="601.8" r="2.75"/><circle cx="201" cy="602.6" r="2.75"/><circle cx="190.6" cy="603.6" r="2.75"/><circle cx="205.7" cy="603.8" r="2.75"/><circle cx="181.2" cy="605" r="2.75"/><circle cx="195.8" cy="605.7" r="2.75"/><circle cx="191" cy="608.5" r="2.75"/><circle cx="185.9" cy="610.3" r="2.75"/><circle cx="195.6" cy="611" r="2.75"/><circle cx="200.9" cy="612.5" r="2.75"/><circle cx="193.7" cy="613.8" r="2.75"/><circle cx="188.2" cy="623" r="2.75"/><circle cx="193.2" cy="623.4" r="2.75"/><circle cx="198.1" cy="623.8" r="2.75"/><circle cx="192.9" cy="636.6" r="2.75"/><circle cx="193.4" cy="646" r="2.75"/><circle cx="193.1" cy="665" r="2.75"/><circle cx="195.9" cy="726" r="2.75"/><circle cx="190.9" cy="726" r="2.75"/><circle cx="233.5" cy="499" r="2.75"/><circle cx="229.1" cy="530" r="2.75"/><circle cx="237.8" cy="534.4" r="2.75"/><circle cx="233.4" cy="534.8" r="2.75"/><circle cx="244.2" cy="548.3" r="2.75"/><circle cx="240.3" cy="548.8" r="2.75"/><circle cx="223.3" cy="549.9" r="2.75"/><circle cx="235.8" cy="550.8" r="2.75"/><circle cx="231.4" cy="551.9" r="2.75"/><circle cx="227.4" cy="553" r="2.75"/><circle cx="227" cy="553.5" r="2.75"/><circle cx="240.3" cy="554.9" r="2.75"/><circle cx="236.1" cy="555.5" r="2.75"/><circle cx="231.4" cy="556.5" r="2.75"/><circle cx="226.9" cy="560.4" r="2.75"/><circle cx="231.8" cy="562" r="2.75"/><circle cx="240.4" cy="563.9" r="2.75"/><circle cx="235.4" cy="564.9" r="2.75"/><circle cx="231.7" cy="566.4" r="2.75"/><circle cx="235.5" cy="567.1" r="2.75"/><circle cx="240.5" cy="568.4" r="2.75"/><circle cx="227" cy="569.8" r="2.75"/><circle cx="227.1" cy="571.4" r="2.75"/><circle cx="235.5" cy="572.8" r="2.75"/><circle cx="240.1" cy="574.3" r="2.75"/><circle cx="231.8" cy="574.8" r="2.75"/><circle cx="242.6" cy="578.5" r="2.75"/><circle cx="225.2" cy="579.3" r="2.75"/><circle cx="238.1" cy="579.8" r="2.75"/><circle cx="220.6" cy="580.3" r="2.75"/><circle cx="247" cy="581.1" r="2.75"/><circle cx="229.4" cy="581.7" r="2.75"/><circle cx="233.9" cy="582.5" r="2.75"/><circle cx="218.7" cy="583.7" r="2.75"/><circle cx="235.6" cy="584.3" r="2.75"/><circle cx="227" cy="585" r="2.75"/><circle cx="249.1" cy="585.8" r="2.75"/><circle cx="244.1" cy="586.6" r="2.75"/><circle cx="223" cy="587.2" r="2.75"/><circle cx="231.7" cy="587.9" r="2.75"/><circle cx="240.2" cy="588.6" r="2.75"/><circle cx="229.3" cy="589.4" r="2.75"/><circle cx="233.5" cy="590.1" r="2.75"/><circle cx="238.4" cy="590.8" r="2.75"/><circle cx="224.9" cy="591.3" r="2.75"/><circle cx="246.4" cy="592.3" r="2.75"/><circle cx="221" cy="592.9" r="2.75"/><circle cx="242" cy="593.8" r="2.75"/><circle cx="235.8" cy="596.2" r="2.75"/><circle cx="231.4" cy="597.5" r="2.75"/><circle cx="226.8" cy="598.5" r="2.75"/><circle cx="240.1" cy="600.5" r="2.75"/><circle cx="238.1" cy="601.8" r="2.75"/><circle cx="233.7" cy="602.8" r="2.75"/><circle cx="229" cy="603.7" r="2.75"/><circle cx="233.3" cy="609" r="2.75"/><circle cx="233.5" cy="615.6" r="2.75"/><circle cx="236.1" cy="639.4" r="2.75"/><circle cx="231.9" cy="643.4" r="2.75"/><circle cx="273.9" cy="527.6" r="2.75"/><circle cx="274" cy="535.6" r="2.75"/><circle cx="276.3" cy="541.4" r="2.75"/><circle cx="272.1" cy="541.8" r="2.75"/><circle cx="273.7" cy="548" r="2.75"/><circle cx="278.6" cy="549.3" r="2.75"/><circle cx="282.5" cy="550.3" r="2.75"/><circle cx="269.3" cy="551.3" r="2.75"/><circle cx="265.6" cy="552.6" r="2.75"/><circle cx="267.2" cy="554.1" r="2.75"/><circle cx="280.4" cy="555.2" r="2.75"/><circle cx="272" cy="556.7" r="2.75"/><circle cx="276.2" cy="558.2" r="2.75"/><circle cx="276.2" cy="559.9" r="2.75"/><circle cx="271.6" cy="564.1" r="2.75"/><circle cx="274" cy="565.9" r="2.75"/><circle cx="265.1" cy="566.5" r="2.75"/><circle cx="269.8" cy="567.8" r="2.75"/><circle cx="282.7" cy="569.7" r="2.75"/><circle cx="278.3" cy="570.7" r="2.75"/><circle cx="276" cy="572.3" r="2.75"/><circle cx="280.2" cy="572.9" r="2.75"/><circle cx="271.6" cy="573.7" r="2.75"/><circle cx="267.6" cy="575.3" r="2.75"/><circle cx="267.8" cy="580.4" r="2.75"/><circle cx="276.5" cy="581.4" r="2.75"/><circle cx="263.3" cy="582.1" r="2.75"/><circle cx="258.7" cy="582.5" r="2.75"/><circle cx="272.1" cy="583.2" r="2.75"/><circle cx="289.2" cy="583.7" r="2.75"/><circle cx="280.6" cy="584.8" r="2.75"/><circle cx="284.8" cy="585.2" r="2.75"/><circle cx="270" cy="585.9" r="2.75"/><circle cx="274" cy="586.5" r="2.75"/><circle cx="282.6" cy="587.2" r="2.75"/><circle cx="286.7" cy="588.4" r="2.75"/><circle cx="265.1" cy="588.7" r="2.75"/><circle cx="278.6" cy="590" r="2.75"/><circle cx="261" cy="590.1" r="2.75"/><circle cx="284.7" cy="591.4" r="2.75"/><circle cx="280.2" cy="591.6" r="2.75"/><circle cx="276.1" cy="592.2" r="2.75"/><circle cx="267.7" cy="593.4" r="2.75"/><circle cx="289" cy="593.8" r="2.75"/><circle cx="271.6" cy="594.9" r="2.75"/><circle cx="258.7" cy="595.2" r="2.75"/><circle cx="263.2" cy="595.9" r="2.75"/><circle cx="272.1" cy="597" r="2.75"/><circle cx="267.3" cy="597.7" r="2.75"/><circle cx="263.4" cy="598.5" r="2.75"/><circle cx="289.3" cy="599.2" r="2.75"/><circle cx="285.2" cy="599.5" r="2.75"/><circle cx="280.7" cy="600.5" r="2.75"/><circle cx="275.8" cy="601.3" r="2.75"/><circle cx="259.1" cy="601.9" r="2.75"/><circle cx="273.7" cy="602.9" r="2.75"/><circle cx="269.6" cy="603.2" r="2.75"/><circle cx="278.3" cy="604.3" r="2.75"/><circle cx="272.2" cy="608.9" r="2.75"/><circle cx="276.1" cy="609.4" r="2.75"/><circle cx="280.8" cy="610.8" r="2.75"/><circle cx="267.8" cy="612.8" r="2.75"/><circle cx="271.5" cy="614.4" r="2.75"/><circle cx="276.2" cy="614.8" r="2.75"/><circle cx="276.2" cy="625" r="2.75"/><circle cx="271.7" cy="629" r="2.75"/><circle cx="274.4" cy="632" r="2.75"/><circle cx="270" cy="635.8" r="2.75"/><circle cx="278.2" cy="636.2" r="2.75"/><circle cx="275.9" cy="726" r="2.75"/><circle cx="271.4" cy="726" r="2.75"/><circle cx="314" cy="508.4" r="2.75"/><circle cx="314.2" cy="523.2" r="2.75"/><circle cx="307.1" cy="530" r="2.75"/><circle cx="321.4" cy="531.9" r="2.75"/><circle cx="312.2" cy="532.6" r="2.75"/><circle cx="317.1" cy="534.8" r="2.75"/><circle cx="311.9" cy="535.7" r="2.75"/><circle cx="317.1" cy="540.1" r="2.75"/><circle cx="319.7" cy="541.2" r="2.75"/><circle cx="329.3" cy="542.1" r="2.75"/><circle cx="304.4" cy="542.9" r="2.75"/><circle cx="314" cy="543.9" r="2.75"/><circle cx="309.4" cy="544.3" r="2.75"/><circle cx="324.6" cy="545.6" r="2.75"/><circle cx="299.6" cy="546.1" r="2.75"/><circle cx="307.3" cy="547.2" r="2.75"/><circle cx="321.6" cy="548" r="2.75"/><circle cx="301.7" cy="548.7" r="2.75"/><circle cx="316.5" cy="549.5" r="2.75"/><circle cx="311.6" cy="550.6" r="2.75"/><circle cx="326.6" cy="551.6" r="2.75"/><circle cx="302.1" cy="552.3" r="2.75"/><circle cx="327.1" cy="553" r="2.75"/><circle cx="322.2" cy="553.6" r="2.75"/><circle cx="311.6" cy="554.3" r="2.75"/><circle cx="316.7" cy="555.8" r="2.75"/><circle cx="306.9" cy="556.4" r="2.75"/><circle cx="311.6" cy="557.3" r="2.75"/><circle cx="321.6" cy="557.8" r="2.75"/><circle cx="317" cy="558.8" r="2.75"/><circle cx="306.9" cy="559.9" r="2.75"/><circle cx="311.9" cy="569.1" r="2.75"/><circle cx="321.6" cy="570.1" r="2.75"/><circle cx="316.5" cy="571.1" r="2.75"/><circle cx="306.8" cy="572.6" r="2.75"/><circle cx="316.6" cy="574.5" r="2.75"/><circle cx="307" cy="575.2" r="2.75"/><circle cx="321.9" cy="576.9" r="2.75"/><circle cx="311.8" cy="578.1" r="2.75"/><circle cx="304.7" cy="579.8" r="2.75"/><circle cx="314.1" cy="581" r="2.75"/><circle cx="319.1" cy="581.7" r="2.75"/><circle cx="309.6" cy="582.7" r="2.75"/><circle cx="324.1" cy="584.4" r="2.75"/><circle cx="319.5" cy="585.9" r="2.75"/><circle cx="309.7" cy="587.4" r="2.75"/><circle cx="314.1" cy="589.4" r="2.75"/><circle cx="314.8" cy="591.2" r="2.75"/><circle cx="319.1" cy="591.7" r="2.75"/><circle cx="309.8" cy="594.6" r="2.75"/><circle cx="322" cy="596.4" r="2.75"/><circle cx="311.7" cy="598.2" r="2.75"/><circle cx="306.9" cy="599.5" r="2.75"/><circle cx="317.1" cy="600.8" r="2.75"/><circle cx="309.5" cy="603.4" r="2.75"/><circle cx="314.2" cy="605.1" r="2.75"/><circle cx="319.5" cy="606.7" r="2.75"/><circle cx="312.2" cy="608.8" r="2.75"/><circle cx="316.7" cy="613" r="2.75"/><circle cx="321.7" cy="614" r="2.75"/><circle cx="312.1" cy="615.7" r="2.75"/><circle cx="307.2" cy="617.2" r="2.75"/><circle cx="317.1" cy="617.8" r="2.75"/><circle cx="314.7" cy="619.7" r="2.75"/><circle cx="314.5" cy="678.4" r="2.75"/><circle cx="314.3" cy="686.6" r="2.75"/></g>
</g>
<g class="p">
<text x="551.4" y="461.7" font-size="19.2" text-anchor="middle">eEFCD8</text>
<rect x="433.34" y="565.4" width="32.69" height="160.6" fill="#000080" stroke="#000" stroke-width="1.4"/>
<rect x="473.77" y="560.6" width="32.69" height="165.4" fill="#000080" stroke="#000" stroke-width="1.4"/>
<rect x="514.19" y="568" width="32.69" height="158" fill="#000080" stroke="#000" stroke-width="1.4"/>
<rect x="554.62" y="554.4" width="32.69" height="171.6" fill="#000080" stroke="#000" stroke-width="1.4"/>
<rect x="595.04" y="552.6" width="32.69" height="173.4" fill="#000080" stroke="#000" stroke-width="1.4"/>
<rect x="635.47" y="544.4" width="32.69" height="181.6" fill="#000080" stroke="#000" stroke-width="1.4"/>
<rect x="416" y="471.9" width="269.5" height="254.1" fill="none" stroke="#000" stroke-width="1.5"/>
<line x1="404.7" y1="498.9" x2="416" y2="498.9" stroke="#000" stroke-width="1.6"/>
<text x="393.9" y="504.9" font-size="18" text-anchor="end">10</text>
<text transform="translate(402.6 500.4) scale(1.14 1)" font-size="11.5" text-anchor="end">2</text>
<line x1="404.7" y1="612.5" x2="416" y2="612.5" stroke="#000" stroke-width="1.6"/>
<text x="393.9" y="618.5" font-size="18" text-anchor="end">10</text>
<text transform="translate(402.6 614) scale(1.14 1)" font-size="11.5" text-anchor="end">0</text>
<line x1="404.7" y1="726" x2="416" y2="726" stroke="#000" stroke-width="1.6"/>
<text x="389.5" y="732" font-size="18" text-anchor="end">10</text>
<text transform="translate(402.6 727.5) scale(1.14 1)" font-size="11.5" text-anchor="end">-2</text>
<line x1="410.2" y1="578.3" x2="416" y2="578.3" stroke="#000" stroke-width="1.6"/>
<line x1="410.2" y1="558.3" x2="416" y2="558.3" stroke="#000" stroke-width="1.6"/>
<line x1="410.2" y1="544.11" x2="416" y2="544.11" stroke="#000" stroke-width="1.6"/>
<line x1="410.2" y1="533.1" x2="416" y2="533.1" stroke="#000" stroke-width="1.6"/>
<line x1="410.2" y1="524.1" x2="416" y2="524.1" stroke="#000" stroke-width="1.6"/>
<line x1="410.2" y1="516.5" x2="416" y2="516.5" stroke="#000" stroke-width="1.6"/>
<line x1="410.2" y1="509.91" x2="416" y2="509.91" stroke="#000" stroke-width="1.6"/>
<line x1="410.2" y1="504.1" x2="416" y2="504.1" stroke="#000" stroke-width="1.6"/>
<line x1="410.2" y1="691.83" x2="416" y2="691.83" stroke="#000" stroke-width="1.6"/>
<line x1="410.2" y1="671.85" x2="416" y2="671.85" stroke="#000" stroke-width="1.6"/>
<line x1="410.2" y1="657.67" x2="416" y2="657.67" stroke="#000" stroke-width="1.6"/>
<line x1="410.2" y1="646.67" x2="416" y2="646.67" stroke="#000" stroke-width="1.6"/>
<line x1="410.2" y1="637.68" x2="416" y2="637.68" stroke="#000" stroke-width="1.6"/>
<line x1="410.2" y1="630.08" x2="416" y2="630.08" stroke="#000" stroke-width="1.6"/>
<line x1="410.2" y1="623.5" x2="416" y2="623.5" stroke="#000" stroke-width="1.6"/>
<line x1="410.2" y1="617.69" x2="416" y2="617.69" stroke="#000" stroke-width="1.6"/>
<polyline points="532.6,502.4 532.6,489.6 574.6,489.6 574.6,497.6" fill="none" stroke="#000" stroke-width="1.5"/>
<polyline points="609.6,500 609.6,486.6 652.4,486.6 652.4,495" fill="none" stroke="#000" stroke-width="1.5"/>
<text x="552.6" y="495" font-size="19" text-anchor="middle">*</text>
<text x="630.6" y="491.8" font-size="19" text-anchor="middle">*</text>
<text x="652" y="508.6" font-size="16" text-anchor="middle">#</text>
<g class="d"><circle cx="455.3" cy="507.2" r="2.75"/><circle cx="443.6" cy="508" r="2.75"/><circle cx="449.5" cy="510" r="2.75"/><circle cx="449.6" cy="517.4" r="2.75"/><circle cx="452.7" cy="528.6" r="2.75"/><circle cx="446.8" cy="532.4" r="2.75"/><circle cx="463.9" cy="536.6" r="2.75"/><circle cx="441.2" cy="537" r="2.75"/><circle cx="446.7" cy="538.5" r="2.75"/><circle cx="435.3" cy="539.6" r="2.75"/><circle cx="458.8" cy="540.5" r="2.75"/><circle cx="452.3" cy="541.4" r="2.75"/><circle cx="452.6" cy="542.5" r="2.75"/><circle cx="446.8" cy="544.1" r="2.75"/><circle cx="444.1" cy="548.9" r="2.75"/><circle cx="455.8" cy="549.8" r="2.75"/><circle cx="438.1" cy="550.6" r="2.75"/><circle cx="449.4" cy="552.5" r="2.75"/><circle cx="461.3" cy="553.7" r="2.75"/><circle cx="458" cy="554.3" r="2.75"/><circle cx="441.3" cy="555.9" r="2.75"/><circle cx="446.7" cy="557.4" r="2.75"/><circle cx="452.7" cy="558.6" r="2.75"/><circle cx="455.5" cy="559.4" r="2.75"/><circle cx="444.2" cy="561.9" r="2.75"/><circle cx="449.4" cy="564" r="2.75"/><circle cx="449.9" cy="565.2" r="2.75"/><circle cx="455.8" cy="567" r="2.75"/><circle cx="443.9" cy="568.9" r="2.75"/><circle cx="449.6" cy="571.7" r="2.75"/><circle cx="455.3" cy="573" r="2.75"/><circle cx="444.2" cy="575.2" r="2.75"/><circle cx="458.1" cy="585.6" r="2.75"/><circle cx="452.2" cy="587.1" r="2.75"/><circle cx="446.4" cy="588.1" r="2.75"/><circle cx="440.8" cy="589.4" r="2.75"/><circle cx="440.8" cy="592" r="2.75"/><circle cx="452.8" cy="592.6" r="2.75"/><circle cx="446.6" cy="593.7" r="2.75"/><circle cx="458" cy="595.8" r="2.75"/><circle cx="458.4" cy="597.4" r="2.75"/><circle cx="452.9" cy="598" r="2.75"/><circle cx="446.5" cy="600" r="2.75"/><circle cx="441.1" cy="601.1" r="2.75"/><circle cx="450" cy="603.9" r="2.75"/><circle cx="455.4" cy="604.9" r="2.75"/><circle cx="444.2" cy="606.6" r="2.75"/><circle cx="452.3" cy="609.9" r="2.75"/><circle cx="458.5" cy="611.5" r="2.75"/><circle cx="440.7" cy="612.6" r="2.75"/><circle cx="446.7" cy="614.5" r="2.75"/><circle cx="450.1" cy="615.7" r="2.75"/><circle cx="446.5" cy="621" r="2.75"/><circle cx="452.2" cy="626" r="2.75"/><circle cx="449.7" cy="643.4" r="2.75"/><circle cx="449.3" cy="655" r="2.75"/><circle cx="449.6" cy="692.4" r="2.75"/><circle cx="453.8" cy="726" r="2.75"/><circle cx="445.4" cy="726" r="2.75"/><circle cx="449.7" cy="726" r="2.75"/><circle cx="489.9" cy="506.6" r="2.75"/><circle cx="492.3" cy="514" r="2.75"/><circle cx="487.9" cy="517.6" r="2.75"/><circle cx="490.4" cy="520" r="2.75"/><circle cx="480.4" cy="527.5" r="2.75"/><circle cx="494.9" cy="528" r="2.75"/><circle cx="500.4" cy="529" r="2.75"/><circle cx="490.3" cy="529.5" r="2.75"/><circle cx="485.3" cy="530.3" r="2.75"/><circle cx="487.9" cy="536" r="2.75"/><circle cx="492.4" cy="536.4" r="2.75"/><circle cx="477.7" cy="537.3" r="2.75"/><circle cx="497.5" cy="538.6" r="2.75"/><circle cx="482.3" cy="539.7" r="2.75"/><circle cx="502.2" cy="540.8" r="2.75"/><circle cx="490.4" cy="541.9" r="2.75"/><circle cx="485.2" cy="543.5" r="2.75"/><circle cx="495.4" cy="546.8" r="2.75"/><circle cx="497.7" cy="547.5" r="2.75"/><circle cx="477.4" cy="548.9" r="2.75"/><circle cx="502.4" cy="549.9" r="2.75"/><circle cx="492.5" cy="550.1" r="2.75"/><circle cx="483" cy="551.6" r="2.75"/><circle cx="487.3" cy="552.4" r="2.75"/><circle cx="494.8" cy="553.2" r="2.75"/><circle cx="490.2" cy="554.9" r="2.75"/><circle cx="485.3" cy="555.3" r="2.75"/><circle cx="492.4" cy="558.8" r="2.75"/><circle cx="497.2" cy="560.3" r="2.75"/><circle cx="487.4" cy="562.1" r="2.75"/><circle cx="482.3" cy="563.1" r="2.75"/><circle cx="482.7" cy="564.2" r="2.75"/><circle cx="493" cy="565.6" r="2.75"/><circle cx="497.2" cy="566.7" r="2.75"/><circle cx="488" cy="569.1" r="2.75"/><circle cx="487.9" cy="570.5" r="2.75"/><circle cx="492.9" cy="570.9" r="2.75"/><circle cx="490" cy="576.1" r="2.75"/><circle cx="479.8" cy="577.2" r="2.75"/><circle cx="495" cy="578.2" r="2.75"/><circle cx="485.5" cy="579.6" r="2.75"/><circle cx="500.1" cy="580.5" r="2.75"/><circle cx="495.2" cy="581.4" r="2.75"/><circle cx="480.2" cy="581.7" r="2.75"/><circle cx="475.5" cy="583.2" r="2.75"/><circle cx="485.1" cy="584.1" r="2.75"/><circle cx="500.4" cy="585" r="2.75"/><circle cx="490.4" cy="586.2" r="2.75"/><circle cx="505" cy="586.4" r="2.75"/><circle cx="485.1" cy="587.4" r="2.75"/><circle cx="494.8" cy="588.8" r="2.75"/><circle cx="489.7" cy="589.9" r="2.75"/><circle cx="487.8" cy="600.6" r="2.75"/><circle cx="492.2" cy="605" r="2.75"/><circle cx="490.3" cy="616" r="2.75"/><circle cx="490.3" cy="626.6" r="2.75"/><circle cx="489.8" cy="665" r="2.75"/><circle cx="490.5" cy="726" r="2.75"/><circle cx="494.7" cy="726" r="2.75"/><circle cx="485.8" cy="726" r="2.75"/><circle cx="530.7" cy="512" r="2.75"/><circle cx="526.6" cy="520.3" r="2.75"/><circle cx="522.2" cy="521.1" r="2.75"/><circle cx="530.8" cy="522.5" r="2.75"/><circle cx="539.1" cy="523.8" r="2.75"/><circle cx="534.9" cy="524.3" r="2.75"/><circle cx="526" cy="525.7" r="2.75"/><circle cx="534.8" cy="528.6" r="2.75"/><circle cx="530.8" cy="530.3" r="2.75"/><circle cx="534.9" cy="533" r="2.75"/><circle cx="526.2" cy="534.4" r="2.75"/><circle cx="530.9" cy="536.5" r="2.75"/><circle cx="526.4" cy="538.4" r="2.75"/><circle cx="535.2" cy="542.7" r="2.75"/><circle cx="530.4" cy="543.1" r="2.75"/><circle cx="538.9" cy="544.7" r="2.75"/><circle cx="522.1" cy="545.2" r="2.75"/><circle cx="534.7" cy="546.1" r="2.75"/><circle cx="530.9" cy="547.9" r="2.75"/><circle cx="526.5" cy="548.2" r="2.75"/><circle cx="528.2" cy="549.9" r="2.75"/><circle cx="524.4" cy="550.8" r="2.75"/><circle cx="519.7" cy="551.8" r="2.75"/><circle cx="541.6" cy="552.2" r="2.75"/><circle cx="536.9" cy="553.5" r="2.75"/><circle cx="533" cy="554.1" r="2.75"/><circle cx="533.1" cy="555.9" r="2.75"/><circle cx="541.7" cy="556.8" r="2.75"/><circle cx="537" cy="557.6" r="2.75"/><circle cx="524.1" cy="558.5" r="2.75"/><circle cx="519.8" cy="559.4" r="2.75"/><circle cx="528.1" cy="560.8" r="2.75"/><circle cx="524.2" cy="567.8" r="2.75"/><circle cx="528.2" cy="568.4" r="2.75"/><circle cx="515.1" cy="568.7" r="2.75"/><circle cx="515.7" cy="569.2" r="2.75"/><circle cx="541.1" cy="569.6" r="2.75"/><circle cx="545.5" cy="570.4" r="2.75"/><circle cx="532.7" cy="570.8" r="2.75"/><circle cx="519.5" cy="571.1" r="2.75"/><circle cx="536.9" cy="571.9" r="2.75"/><circle cx="517.9" cy="576.2" r="2.75"/><circle cx="521.6" cy="577.1" r="2.75"/><circle cx="530.5" cy="577.8" r="2.75"/><circle cx="539.2" cy="578.6" r="2.75"/><circle cx="535.1" cy="579.8" r="2.75"/><circle cx="525.9" cy="580.3" r="2.75"/><circle cx="543.5" cy="581" r="2.75"/><circle cx="530.5" cy="582" r="2.75"/><circle cx="532.5" cy="587.4" r="2.75"/><circle cx="523.7" cy="589.5" r="2.75"/><circle cx="528.6" cy="589.9" r="2.75"/><circle cx="537.3" cy="592.2" r="2.75"/><circle cx="532.7" cy="592.5" r="2.75"/><circle cx="524" cy="594.8" r="2.75"/><circle cx="537.1" cy="595.9" r="2.75"/><circle cx="528.7" cy="596.7" r="2.75"/><circle cx="524.1" cy="598.3" r="2.75"/><circle cx="528.7" cy="599.4" r="2.75"/><circle cx="536.9" cy="600.7" r="2.75"/><circle cx="532.8" cy="602" r="2.75"/><circle cx="528.4" cy="726" r="2.75"/><circle cx="533.2" cy="726" r="2.75"/><circle cx="573.4" cy="509" r="2.75"/><circle cx="568.5" cy="514" r="2.75"/><circle cx="573.4" cy="516" r="2.75"/><circle cx="568.7" cy="518.4" r="2.75"/><circle cx="568.9" cy="523" r="2.75"/><circle cx="573.2" cy="525.2" r="2.75"/><circle cx="562.1" cy="529.2" r="2.75"/><circle cx="579.8" cy="529.6" r="2.75"/><circle cx="575.4" cy="532.2" r="2.75"/><circle cx="571.1" cy="533.2" r="2.75"/><circle cx="566.6" cy="533.8" r="2.75"/><circle cx="564.1" cy="534.4" r="2.75"/><circle cx="555.6" cy="534.6" r="2.75"/><circle cx="560.4" cy="535.3" r="2.75"/><circle cx="555.4" cy="536.2" r="2.75"/><circle cx="586.3" cy="536.4" r="2.75"/><circle cx="569" cy="537.4" r="2.75"/><circle cx="581.6" cy="537.8" r="2.75"/><circle cx="573.2" cy="538.8" r="2.75"/><circle cx="577.6" cy="538.8" r="2.75"/><circle cx="556.1" cy="539.9" r="2.75"/><circle cx="577.8" cy="540.2" r="2.75"/><circle cx="564.6" cy="540.8" r="2.75"/><circle cx="568.7" cy="541.3" r="2.75"/><circle cx="585.9" cy="542.4" r="2.75"/><circle cx="556" cy="542.8" r="2.75"/><circle cx="560.2" cy="543.3" r="2.75"/><circle cx="582" cy="544" r="2.75"/><circle cx="573.4" cy="544.9" r="2.75"/><circle cx="573.2" cy="545.1" r="2.75"/><circle cx="556" cy="545.9" r="2.75"/><circle cx="555.6" cy="546.3" r="2.75"/><circle cx="577.5" cy="547" r="2.75"/><circle cx="560" cy="547.9" r="2.75"/><circle cx="568.6" cy="548.5" r="2.75"/><circle cx="564.5" cy="548.8" r="2.75"/><circle cx="581.4" cy="549.4" r="2.75"/><circle cx="586" cy="550" r="2.75"/><circle cx="573.5" cy="550.9" r="2.75"/><circle cx="581.9" cy="551.5" r="2.75"/><circle cx="577.5" cy="551.9" r="2.75"/><circle cx="560" cy="552.5" r="2.75"/><circle cx="564.8" cy="554.6" r="2.75"/><circle cx="568.7" cy="555.8" r="2.75"/><circle cx="582.2" cy="557" r="2.75"/><circle cx="559.9" cy="557.8" r="2.75"/><circle cx="564.2" cy="558.5" r="2.75"/><circle cx="568.8" cy="559.4" r="2.75"/><circle cx="577.9" cy="561.2" r="2.75"/><circle cx="573.1" cy="561.9" r="2.75"/><circle cx="579.6" cy="563.3" r="2.75"/><circle cx="575.6" cy="563.7" r="2.75"/><circle cx="571.3" cy="565.5" r="2.75"/><circle cx="562.6" cy="566.1" r="2.75"/><circle cx="566.8" cy="567.7" r="2.75"/><circle cx="575.6" cy="568.7" r="2.75"/><circle cx="571.1" cy="569.5" r="2.75"/><circle cx="566.6" cy="572.2" r="2.75"/><circle cx="575.3" cy="576.7" r="2.75"/><circle cx="567" cy="578.2" r="2.75"/><circle cx="571.4" cy="581.6" r="2.75"/><circle cx="569.2" cy="582.7" r="2.75"/><circle cx="572.8" cy="585" r="2.75"/><circle cx="569" cy="589" r="2.75"/><circle cx="572.9" cy="590.5" r="2.75"/><circle cx="577.2" cy="602" r="2.75"/><circle cx="568.8" cy="602.6" r="2.75"/><circle cx="564.6" cy="603.4" r="2.75"/><circle cx="573.3" cy="606.4" r="2.75"/><circle cx="571.1" cy="612" r="2.75"/><circle cx="570.6" cy="618" r="2.75"/><circle cx="573" cy="726" r="2.75"/><circle cx="568.7" cy="726" r="2.75"/><circle cx="609.4" cy="506.8" r="2.75"/><circle cx="613.4" cy="507.4" r="2.75"/><circle cx="611.4" cy="513.4" r="2.75"/><circle cx="602.4" cy="524.6" r="2.75"/><circle cx="611.1" cy="525.8" r="2.75"/><circle cx="616" cy="527" r="2.75"/><circle cx="620" cy="527.5" r="2.75"/><circle cx="607.4" cy="528.9" r="2.75"/><circle cx="613.4" cy="529.9" r="2.75"/><circle cx="609.6" cy="534.4" r="2.75"/><circle cx="616" cy="534.9" r="2.75"/><circle cx="598.3" cy="536" r="2.75"/><circle cx="602.3" cy="536.8" r="2.75"/><circle cx="611.7" cy="537.6" r="2.75"/><circle cx="620.4" cy="537.9" r="2.75"/><circle cx="624.5" cy="538.9" r="2.75"/><circle cx="607" cy="539.4" r="2.75"/><circle cx="620" cy="540.4" r="2.75"/><circle cx="611.7" cy="540.7" r="2.75"/><circle cx="603" cy="542" r="2.75"/><circle cx="598.3" cy="542.8" r="2.75"/><circle cx="607" cy="543.2" r="2.75"/><circle cx="615.6" cy="544" r="2.75"/><circle cx="624" cy="544.7" r="2.75"/><circle cx="619.9" cy="545.4" r="2.75"/><circle cx="611.4" cy="545.8" r="2.75"/><circle cx="602.7" cy="547.2" r="2.75"/><circle cx="607.2" cy="547.4" r="2.75"/><circle cx="615.4" cy="550.1" r="2.75"/><circle cx="613.2" cy="550.8" r="2.75"/><circle cx="595.9" cy="551.6" r="2.75"/><circle cx="626.2" cy="552.6" r="2.75"/><circle cx="622.4" cy="552.8" r="2.75"/><circle cx="617.6" cy="553.5" r="2.75"/><circle cx="600.2" cy="554.6" r="2.75"/><circle cx="605" cy="555" r="2.75"/><circle cx="609.1" cy="555.6" r="2.75"/><circle cx="600.3" cy="556.6" r="2.75"/><circle cx="596.6" cy="557.3" r="2.75"/><circle cx="617.9" cy="557.9" r="2.75"/><circle cx="604.8" cy="558.7" r="2.75"/><circle cx="626.2" cy="559.1" r="2.75"/><circle cx="622.1" cy="560.2" r="2.75"/><circle cx="613.6" cy="560.8" r="2.75"/><circle cx="609.3" cy="561.1" r="2.75"/><circle cx="615.7" cy="561.8" r="2.75"/><circle cx="602.8" cy="562.8" r="2.75"/><circle cx="607.3" cy="563.4" r="2.75"/><circle cx="624.6" cy="564" r="2.75"/><circle cx="619.7" cy="564.6" r="2.75"/><circle cx="611.1" cy="565.5" r="2.75"/><circle cx="598.5" cy="566" r="2.75"/><circle cx="611.6" cy="567" r="2.75"/><circle cx="615.6" cy="567.8" r="2.75"/><circle cx="602.5" cy="568.1" r="2.75"/><circle cx="606.9" cy="569" r="2.75"/><circle cx="620" cy="569.8" r="2.75"/><circle cx="609.5" cy="572.4" r="2.75"/><circle cx="613.3" cy="575.9" r="2.75"/><circle cx="611.7" cy="578.3" r="2.75"/><circle cx="607" cy="579.4" r="2.75"/><circle cx="615.6" cy="581.6" r="2.75"/><circle cx="611.3" cy="584.6" r="2.75"/><circle cx="611.7" cy="604" r="2.75"/><circle cx="613.3" cy="613.4" r="2.75"/><circle cx="609.6" cy="613.8" r="2.75"/><circle cx="616.4" cy="726" r="2.75"/><circle cx="611.7" cy="726" r="2.75"/><circle cx="607.3" cy="726" r="2.75"/><circle cx="647.3" cy="509.9" r="2.75"/><circle cx="656" cy="511.5" r="2.75"/><circle cx="651.6" cy="514.1" r="2.75"/><circle cx="649.9" cy="515.6" r="2.75"/><circle cx="653.7" cy="520.4" r="2.75"/><circle cx="658.1" cy="521.4" r="2.75"/><circle cx="649.8" cy="522.7" r="2.75"/><circle cx="645" cy="523.9" r="2.75"/><circle cx="654.2" cy="525.6" r="2.75"/><circle cx="651.5" cy="526.6" r="2.75"/><circle cx="647.3" cy="527.9" r="2.75"/><circle cx="642.8" cy="530.5" r="2.75"/><circle cx="656.1" cy="531.3" r="2.75"/><circle cx="660.6" cy="531.5" r="2.75"/><circle cx="636.6" cy="532.5" r="2.75"/><circle cx="645.7" cy="533.4" r="2.75"/><circle cx="653.9" cy="534.1" r="2.75"/><circle cx="658.7" cy="534.4" r="2.75"/><circle cx="667.1" cy="535.2" r="2.75"/><circle cx="663" cy="536" r="2.75"/><circle cx="649.8" cy="536.6" r="2.75"/><circle cx="640.9" cy="537.4" r="2.75"/><circle cx="650" cy="537.8" r="2.75"/><circle cx="658.2" cy="540.4" r="2.75"/><circle cx="645.4" cy="541.4" r="2.75"/><circle cx="653.8" cy="541.9" r="2.75"/><circle cx="655.8" cy="542.9" r="2.75"/><circle cx="660.5" cy="544.5" r="2.75"/><circle cx="642.8" cy="545.2" r="2.75"/><circle cx="647.7" cy="546.3" r="2.75"/><circle cx="651.8" cy="546.9" r="2.75"/><circle cx="649.5" cy="548" r="2.75"/><circle cx="653.9" cy="549" r="2.75"/><circle cx="640.8" cy="549.9" r="2.75"/><circle cx="662.9" cy="550.1" r="2.75"/><circle cx="658.6" cy="551.5" r="2.75"/><circle cx="645.1" cy="552.1" r="2.75"/><circle cx="640.8" cy="553.3" r="2.75"/><circle cx="662.9" cy="553.9" r="2.75"/><circle cx="645.2" cy="555" r="2.75"/><circle cx="654" cy="556.3" r="2.75"/><circle cx="649.3" cy="556.9" r="2.75"/><circle cx="658.1" cy="557.5" r="2.75"/><circle cx="647.7" cy="558.7" r="2.75"/><circle cx="651.8" cy="559.5" r="2.75"/><circle cx="656.3" cy="563.6" r="2.75"/><circle cx="649.7" cy="564.3" r="2.75"/><circle cx="658.6" cy="566.1" r="2.75"/><circle cx="653.9" cy="568.4" r="2.75"/><circle cx="645.5" cy="569.3" r="2.75"/><circle cx="652.2" cy="571.8" r="2.75"/><circle cx="656" cy="574.1" r="2.75"/><circle cx="647.5" cy="575.1" r="2.75"/><circle cx="652.1" cy="580.5" r="2.75"/><circle cx="647.8" cy="582.5" r="2.75"/><circle cx="656.5" cy="584.4" r="2.75"/><circle cx="656.5" cy="585.5" r="2.75"/><circle cx="647.5" cy="587.2" r="2.75"/><circle cx="651.9" cy="589" r="2.75"/><circle cx="652.1" cy="606" r="2.75"/></g>
</g>
<g class="p">
<text x="873" y="461.7" font-size="19.2" text-anchor="middle">eEFCD19</text>
<rect x="760.88" y="594" width="32.75" height="132" fill="#000080" stroke="#000" stroke-width="1.4"/>
<rect x="801.38" y="574" width="32.75" height="152" fill="#000080" stroke="#000" stroke-width="1.4"/>
<rect x="841.88" y="584" width="32.75" height="142" fill="#000080" stroke="#000" stroke-width="1.4"/>
<rect x="882.38" y="588" width="32.75" height="138" fill="#000080" stroke="#000" stroke-width="1.4"/>
<rect x="922.88" y="570.4" width="32.75" height="155.6" fill="#000080" stroke="#000" stroke-width="1.4"/>
<rect x="963.38" y="585.6" width="32.75" height="140.4" fill="#000080" stroke="#000" stroke-width="1.4"/>
<rect x="743.5" y="471.9" width="270" height="254.1" fill="none" stroke="#000" stroke-width="1.5"/>
<line x1="732.2" y1="498.9" x2="743.5" y2="498.9" stroke="#000" stroke-width="1.6"/>
<text x="721.4" y="504.9" font-size="18" text-anchor="end">10</text>
<text transform="translate(730.1 500.4) scale(1.14 1)" font-size="11.5" text-anchor="end">2</text>
<line x1="732.2" y1="612.5" x2="743.5" y2="612.5" stroke="#000" stroke-width="1.6"/>
<text x="721.4" y="618.5" font-size="18" text-anchor="end">10</text>
<text transform="translate(730.1 614) scale(1.14 1)" font-size="11.5" text-anchor="end">0</text>
<line x1="732.2" y1="726" x2="743.5" y2="726" stroke="#000" stroke-width="1.6"/>
<text x="717" y="732" font-size="18" text-anchor="end">10</text>
<text transform="translate(730.1 727.5) scale(1.14 1)" font-size="11.5" text-anchor="end">-2</text>
<line x1="737.7" y1="578.3" x2="743.5" y2="578.3" stroke="#000" stroke-width="1.6"/>
<line x1="737.7" y1="558.3" x2="743.5" y2="558.3" stroke="#000" stroke-width="1.6"/>
<line x1="737.7" y1="544.11" x2="743.5" y2="544.11" stroke="#000" stroke-width="1.6"/>
<line x1="737.7" y1="533.1" x2="743.5" y2="533.1" stroke="#000" stroke-width="1.6"/>
<line x1="737.7" y1="524.1" x2="743.5" y2="524.1" stroke="#000" stroke-width="1.6"/>
<line x1="737.7" y1="516.5" x2="743.5" y2="516.5" stroke="#000" stroke-width="1.6"/>
<line x1="737.7" y1="509.91" x2="743.5" y2="509.91" stroke="#000" stroke-width="1.6"/>
<line x1="737.7" y1="504.1" x2="743.5" y2="504.1" stroke="#000" stroke-width="1.6"/>
<line x1="737.7" y1="691.83" x2="743.5" y2="691.83" stroke="#000" stroke-width="1.6"/>
<line x1="737.7" y1="671.85" x2="743.5" y2="671.85" stroke="#000" stroke-width="1.6"/>
<line x1="737.7" y1="657.67" x2="743.5" y2="657.67" stroke="#000" stroke-width="1.6"/>
<line x1="737.7" y1="646.67" x2="743.5" y2="646.67" stroke="#000" stroke-width="1.6"/>
<line x1="737.7" y1="637.68" x2="743.5" y2="637.68" stroke="#000" stroke-width="1.6"/>
<line x1="737.7" y1="630.08" x2="743.5" y2="630.08" stroke="#000" stroke-width="1.6"/>
<line x1="737.7" y1="623.5" x2="743.5" y2="623.5" stroke="#000" stroke-width="1.6"/>
<line x1="737.7" y1="617.69" x2="743.5" y2="617.69" stroke="#000" stroke-width="1.6"/>
<polyline points="769,512 769,499.6 811.6,499.6 811.6,506.4" fill="none" stroke="#000" stroke-width="1.5"/>
<polyline points="899.4,509.6 899.4,494 984.4,494 984.4,509.6" fill="none" stroke="#000" stroke-width="1.5"/>
<polyline points="942,494 942,500.6" fill="none" stroke="#000" stroke-width="1.5"/>
<text x="791.3" y="503.8" font-size="19" text-anchor="middle" letter-spacing="2.6">**</text>
<text x="922.9" y="499" font-size="19" text-anchor="middle" letter-spacing="2.6">**</text>
<text x="963.3" y="499" font-size="19" text-anchor="middle" letter-spacing="2.6">**</text>
<g class="d"><circle cx="777.2" cy="536.6" r="2.75"/><circle cx="784.4" cy="552.6" r="2.75"/><circle cx="777.3" cy="557.6" r="2.75"/><circle cx="784.5" cy="557.8" r="2.75"/><circle cx="777.3" cy="559.6" r="2.75"/><circle cx="784.4" cy="564" r="2.75"/><circle cx="777.2" cy="568.6" r="2.75"/><circle cx="784.5" cy="576.4" r="2.75"/><circle cx="770.1" cy="576.6" r="2.75"/><circle cx="762.9" cy="579.6" r="2.75"/><circle cx="791.7" cy="579.8" r="2.75"/><circle cx="777.2" cy="580" r="2.75"/><circle cx="762.9" cy="581.6" r="2.75"/><circle cx="791.6" cy="581.8" r="2.75"/><circle cx="777.3" cy="585" r="2.75"/><circle cx="770.1" cy="585.2" r="2.75"/><circle cx="784.4" cy="586" r="2.75"/><circle cx="784.4" cy="590" r="2.75"/><circle cx="791.6" cy="590.2" r="2.75"/><circle cx="777.3" cy="592" r="2.75"/><circle cx="770" cy="594" r="2.75"/><circle cx="791.6" cy="597" r="2.75"/><circle cx="762.9" cy="597.2" r="2.75"/><circle cx="777.3" cy="598.4" r="2.75"/><circle cx="777.2" cy="601.6" r="2.75"/><circle cx="770.1" cy="601.8" r="2.75"/><circle cx="784.4" cy="602" r="2.75"/><circle cx="777.2" cy="603" r="2.75"/><circle cx="784.4" cy="608" r="2.75"/><circle cx="791.6" cy="608.2" r="2.75"/><circle cx="777.2" cy="608.4" r="2.75"/><circle cx="762.8" cy="610" r="2.75"/><circle cx="784.4" cy="611" r="2.75"/><circle cx="770.1" cy="611.6" r="2.75"/><circle cx="777.3" cy="617" r="2.75"/><circle cx="784.5" cy="620" r="2.75"/><circle cx="777.3" cy="627" r="2.75"/><circle cx="777.2" cy="638.6" r="2.75"/><circle cx="777.2" cy="645" r="2.75"/><circle cx="824.9" cy="529.4" r="2.75"/><circle cx="817.8" cy="531" r="2.75"/><circle cx="810.5" cy="542" r="2.75"/><circle cx="817.7" cy="543" r="2.75"/><circle cx="824.9" cy="545" r="2.75"/><circle cx="810.6" cy="559" r="2.75"/><circle cx="824.9" cy="560.4" r="2.75"/><circle cx="817.7" cy="564" r="2.75"/><circle cx="817.8" cy="565.6" r="2.75"/><circle cx="824.9" cy="567" r="2.75"/><circle cx="817.7" cy="573" r="2.75"/><circle cx="825" cy="575" r="2.75"/><circle cx="810.5" cy="576" r="2.75"/><circle cx="817.8" cy="579" r="2.75"/><circle cx="803.4" cy="579.2" r="2.75"/><circle cx="810.5" cy="579.4" r="2.75"/><circle cx="817.7" cy="580.4" r="2.75"/><circle cx="832.1" cy="583" r="2.75"/><circle cx="825" cy="583.4" r="2.75"/><circle cx="817.8" cy="602.6" r="2.75"/><circle cx="825" cy="604" r="2.75"/><circle cx="817.8" cy="632" r="2.75"/><circle cx="817.7" cy="649" r="2.75"/><circle cx="861" cy="527" r="2.75"/><circle cx="861.1" cy="541" r="2.75"/><circle cx="855.4" cy="547.4" r="2.75"/><circle cx="861" cy="547.6" r="2.75"/><circle cx="866.6" cy="550" r="2.75"/><circle cx="855.4" cy="553" r="2.75"/><circle cx="861" cy="556.4" r="2.75"/><circle cx="872.2" cy="558.4" r="2.75"/><circle cx="855.4" cy="558.6" r="2.75"/><circle cx="849.8" cy="559.6" r="2.75"/><circle cx="861" cy="563" r="2.75"/><circle cx="866.6" cy="563.2" r="2.75"/><circle cx="861.1" cy="564" r="2.75"/><circle cx="855.5" cy="564.2" r="2.75"/><circle cx="866.7" cy="568.6" r="2.75"/><circle cx="861.1" cy="569.6" r="2.75"/><circle cx="855.5" cy="574.4" r="2.75"/><circle cx="861.1" cy="576.4" r="2.75"/><circle cx="861.1" cy="584" r="2.75"/><circle cx="855.4" cy="589" r="2.75"/><circle cx="861" cy="589.2" r="2.75"/><circle cx="849.8" cy="596.4" r="2.75"/><circle cx="844.2" cy="596.6" r="2.75"/><circle cx="861" cy="597.2" r="2.75"/><circle cx="872.3" cy="597.4" r="2.75"/><circle cx="866.7" cy="597.6" r="2.75"/><circle cx="855.5" cy="597.8" r="2.75"/><circle cx="866.7" cy="602" r="2.75"/><circle cx="855.4" cy="603.6" r="2.75"/><circle cx="861" cy="606" r="2.75"/><circle cx="855.4" cy="609" r="2.75"/><circle cx="866.7" cy="609.2" r="2.75"/><circle cx="861.1" cy="614" r="2.75"/><circle cx="861.1" cy="616" r="2.75"/><circle cx="861" cy="635.6" r="2.75"/><circle cx="858.3" cy="726" r="2.75"/><circle cx="893.9" cy="538.8" r="2.75"/><circle cx="908.3" cy="539.7" r="2.75"/><circle cx="903.6" cy="540.3" r="2.75"/><circle cx="898.7" cy="541.1" r="2.75"/><circle cx="903.6" cy="544" r="2.75"/><circle cx="898.7" cy="547" r="2.75"/><circle cx="908.3" cy="552" r="2.75"/><circle cx="893.9" cy="554.5" r="2.75"/><circle cx="898.8" cy="555.7" r="2.75"/><circle cx="903.5" cy="556.7" r="2.75"/><circle cx="903.5" cy="557.4" r="2.75"/><circle cx="893.9" cy="558.2" r="2.75"/><circle cx="908.4" cy="559.1" r="2.75"/><circle cx="913.1" cy="559.6" r="2.75"/><circle cx="889.1" cy="560.8" r="2.75"/><circle cx="898.8" cy="561.5" r="2.75"/><circle cx="884.3" cy="562.4" r="2.75"/><circle cx="903.6" cy="563.2" r="2.75"/><circle cx="898.7" cy="564" r="2.75"/><circle cx="903.6" cy="568.4" r="2.75"/><circle cx="893.9" cy="569.5" r="2.75"/><circle cx="889.1" cy="570.7" r="2.75"/><circle cx="908.4" cy="572.2" r="2.75"/><circle cx="898.7" cy="573.3" r="2.75"/><circle cx="903.5" cy="574.7" r="2.75"/><circle cx="898.8" cy="575.3" r="2.75"/><circle cx="908.3" cy="581.4" r="2.75"/><circle cx="889.2" cy="583.1" r="2.75"/><circle cx="893.9" cy="583.5" r="2.75"/><circle cx="903.6" cy="585" r="2.75"/><circle cx="898.8" cy="586.1" r="2.75"/><circle cx="898.8" cy="587" r="2.75"/><circle cx="893.9" cy="588.8" r="2.75"/><circle cx="903.5" cy="589.2" r="2.75"/><circle cx="903.5" cy="592.6" r="2.75"/><circle cx="884.4" cy="593" r="2.75"/><circle cx="913.1" cy="593.7" r="2.75"/><circle cx="893.9" cy="595.1" r="2.75"/><circle cx="908.4" cy="595.6" r="2.75"/><circle cx="898.7" cy="596.1" r="2.75"/><circle cx="889.2" cy="597.1" r="2.75"/><circle cx="898.8" cy="598" r="2.75"/><circle cx="903.5" cy="603.5" r="2.75"/><circle cx="884.4" cy="603.8" r="2.75"/><circle cx="889.1" cy="604.7" r="2.75"/><circle cx="913.1" cy="605.9" r="2.75"/><circle cx="908.3" cy="606.5" r="2.75"/><circle cx="898.7" cy="606.8" r="2.75"/><circle cx="893.9" cy="607.7" r="2.75"/><circle cx="917.9" cy="608.5" r="2.75"/><circle cx="903.6" cy="609.4" r="2.75"/><circle cx="908.4" cy="610.1" r="2.75"/><circle cx="898.7" cy="613" r="2.75"/><circle cx="894" cy="614.1" r="2.75"/><circle cx="903.6" cy="615" r="2.75"/><circle cx="898.8" cy="616.5" r="2.75"/><circle cx="908.3" cy="617.7" r="2.75"/><circle cx="889.1" cy="618.9" r="2.75"/><circle cx="894" cy="619.8" r="2.75"/><circle cx="903.5" cy="624.8" r="2.75"/><circle cx="894" cy="625.2" r="2.75"/><circle cx="898.7" cy="625.6" r="2.75"/><circle cx="908.4" cy="627" r="2.75"/><circle cx="898.7" cy="638.6" r="2.75"/><circle cx="894.1" cy="726" r="2.75"/><circle cx="903.4" cy="726" r="2.75"/><circle cx="936.4" cy="518.4" r="2.75"/><circle cx="942.1" cy="520" r="2.75"/><circle cx="947.7" cy="525" r="2.75"/><circle cx="936.4" cy="529.6" r="2.75"/><circle cx="930.9" cy="529.8" r="2.75"/><circle cx="942.1" cy="530" r="2.75"/><circle cx="942" cy="530.6" r="2.75"/><circle cx="947.7" cy="538" r="2.75"/><circle cx="930.9" cy="542" r="2.75"/><circle cx="942.1" cy="542.2" r="2.75"/><circle cx="936.4" cy="542.4" r="2.75"/><circle cx="942.1" cy="544" r="2.75"/><circle cx="936.4" cy="550" r="2.75"/><circle cx="947.6" cy="552" r="2.75"/><circle cx="930.9" cy="552.2" r="2.75"/><circle cx="953.3" cy="552.4" r="2.75"/><circle cx="942" cy="554.4" r="2.75"/><circle cx="936.5" cy="558" r="2.75"/><circle cx="942.1" cy="558.2" r="2.75"/><circle cx="942" cy="563.6" r="2.75"/><circle cx="947.6" cy="563.8" r="2.75"/><circle cx="936.4" cy="565.6" r="2.75"/><circle cx="942" cy="570" r="2.75"/><circle cx="947.6" cy="570.2" r="2.75"/><circle cx="936.5" cy="575" r="2.75"/><circle cx="942" cy="575.2" r="2.75"/><circle cx="936.5" cy="580" r="2.75"/><circle cx="936.4" cy="584" r="2.75"/><circle cx="930.9" cy="584.2" r="2.75"/><circle cx="947.6" cy="584.4" r="2.75"/><circle cx="942" cy="586" r="2.75"/><circle cx="936.5" cy="590" r="2.75"/><circle cx="942" cy="590.2" r="2.75"/><circle cx="947.7" cy="593" r="2.75"/><circle cx="925.2" cy="596" r="2.75"/><circle cx="947.7" cy="596.2" r="2.75"/><circle cx="936.4" cy="596.4" r="2.75"/><circle cx="953.3" cy="598.4" r="2.75"/><circle cx="930.8" cy="598.6" r="2.75"/><circle cx="942" cy="601" r="2.75"/><circle cx="942.1" cy="601.2" r="2.75"/><circle cx="936.4" cy="606" r="2.75"/><circle cx="925.2" cy="608.4" r="2.75"/><circle cx="936.5" cy="608.6" r="2.75"/><circle cx="942" cy="612" r="2.75"/><circle cx="930.9" cy="612.2" r="2.75"/><circle cx="953.3" cy="612.4" r="2.75"/><circle cx="947.7" cy="613" r="2.75"/><circle cx="981.9" cy="524.4" r="2.75"/><circle cx="981.8" cy="531.4" r="2.75"/><circle cx="986.7" cy="541.4" r="2.75"/><circle cx="982.1" cy="541.8" r="2.75"/><circle cx="977.8" cy="545.5" r="2.75"/><circle cx="973.5" cy="546.7" r="2.75"/><circle cx="990.5" cy="548.1" r="2.75"/><circle cx="977.1" cy="548.5" r="2.75"/><circle cx="986.1" cy="550.6" r="2.75"/><circle cx="981.5" cy="550.8" r="2.75"/><circle cx="986.8" cy="557" r="2.75"/><circle cx="981.7" cy="558.5" r="2.75"/><circle cx="977.1" cy="560.2" r="2.75"/><circle cx="986.7" cy="562.8" r="2.75"/><circle cx="977.5" cy="564" r="2.75"/><circle cx="982.1" cy="565.6" r="2.75"/><circle cx="977.9" cy="568.1" r="2.75"/><circle cx="982.2" cy="570.1" r="2.75"/><circle cx="964.6" cy="579.2" r="2.75"/><circle cx="968.4" cy="579.5" r="2.75"/><circle cx="982.1" cy="579.9" r="2.75"/><circle cx="986.7" cy="580.3" r="2.75"/><circle cx="995.5" cy="580.8" r="2.75"/><circle cx="977.5" cy="581" r="2.75"/><circle cx="972.8" cy="581.4" r="2.75"/><circle cx="981.9" cy="581.9" r="2.75"/><circle cx="990.5" cy="582.2" r="2.75"/><circle cx="991" cy="586" r="2.75"/><circle cx="982.3" cy="587.6" r="2.75"/><circle cx="986.5" cy="588.9" r="2.75"/><circle cx="973.1" cy="589.7" r="2.75"/><circle cx="977.9" cy="590.8" r="2.75"/><circle cx="981.5" cy="591.7" r="2.75"/><circle cx="972.9" cy="593" r="2.75"/><circle cx="977.3" cy="594" r="2.75"/><circle cx="986.5" cy="595.6" r="2.75"/><circle cx="981.8" cy="596.7" r="2.75"/><circle cx="977.4" cy="597.4" r="2.75"/><circle cx="981.6" cy="602.8" r="2.75"/><circle cx="973.4" cy="603.4" r="2.75"/><circle cx="985.9" cy="605.5" r="2.75"/><circle cx="977.2" cy="606.8" r="2.75"/><circle cx="973.1" cy="608.4" r="2.75"/><circle cx="981.7" cy="608.8" r="2.75"/><circle cx="986.6" cy="610.5" r="2.75"/><circle cx="977.7" cy="612.4" r="2.75"/><circle cx="990.3" cy="612.7" r="2.75"/><circle cx="982" cy="622" r="2.75"/><circle cx="981.6" cy="640" r="2.75"/><circle cx="986.5" cy="726" r="2.75"/><circle cx="982" cy="726" r="2.75"/><circle cx="972.8" cy="726" r="2.75"/><circle cx="977.5" cy="726" r="2.75"/></g>
</g>
<g class="p">
<text x="1209.6" y="461.7" font-size="19.2" text-anchor="middle">eEFCD4</text>
<rect x="1109.11" y="591.4" width="32.72" height="134.6" fill="#fd0000" stroke="#000" stroke-width="1.4"/>
<rect x="1149.57" y="590.6" width="32.72" height="135.4" fill="#fd0000" stroke="#000" stroke-width="1.4"/>
<rect x="1190.03" y="597" width="32.72" height="129" fill="#fd0000" stroke="#000" stroke-width="1.4"/>
<rect x="1230.5" y="585" width="32.72" height="141" fill="#fd0000" stroke="#000" stroke-width="1.4"/>
<rect x="1270.96" y="587.6" width="32.72" height="138.4" fill="#fd0000" stroke="#000" stroke-width="1.4"/>
<rect x="1311.42" y="572.6" width="32.72" height="153.4" fill="#fd0000" stroke="#000" stroke-width="1.4"/>
<rect x="1091.75" y="471.9" width="269.75" height="254.1" fill="none" stroke="#000" stroke-width="1.5"/>
<line x1="1080.45" y1="498.9" x2="1091.75" y2="498.9" stroke="#000" stroke-width="1.6"/>
<text x="1069.65" y="504.9" font-size="18" text-anchor="end">10</text>
<text transform="translate(1078.35 500.4) scale(1.14 1)" font-size="11.5" text-anchor="end">2</text>
<line x1="1080.45" y1="612.5" x2="1091.75" y2="612.5" stroke="#000" stroke-width="1.6"/>
<text x="1069.65" y="618.5" font-size="18" text-anchor="end">10</text>
<text transform="translate(1078.35 614) scale(1.14 1)" font-size="11.5" text-anchor="end">0</text>
<line x1="1080.45" y1="726" x2="1091.75" y2="726" stroke="#000" stroke-width="1.6"/>
<text x="1065.25" y="732" font-size="18" text-anchor="end">10</text>
<text transform="translate(1078.35 727.5) scale(1.14 1)" font-size="11.5" text-anchor="end">-2</text>
<line x1="1085.95" y1="578.3" x2="1091.75" y2="578.3" stroke="#000" stroke-width="1.6"/>
<line x1="1085.95" y1="558.3" x2="1091.75" y2="558.3" stroke="#000" stroke-width="1.6"/>
<line x1="1085.95" y1="544.11" x2="1091.75" y2="544.11" stroke="#000" stroke-width="1.6"/>
<line x1="1085.95" y1="533.1" x2="1091.75" y2="533.1" stroke="#000" stroke-width="1.6"/>
<line x1="1085.95" y1="524.1" x2="1091.75" y2="524.1" stroke="#000" stroke-width="1.6"/>
<line x1="1085.95" y1="516.5" x2="1091.75" y2="516.5" stroke="#000" stroke-width="1.6"/>
<line x1="1085.95" y1="509.91" x2="1091.75" y2="509.91" stroke="#000" stroke-width="1.6"/>
<line x1="1085.95" y1="504.1" x2="1091.75" y2="504.1" stroke="#000" stroke-width="1.6"/>
<line x1="1085.95" y1="691.83" x2="1091.75" y2="691.83" stroke="#000" stroke-width="1.6"/>
<line x1="1085.95" y1="671.85" x2="1091.75" y2="671.85" stroke="#000" stroke-width="1.6"/>
<line x1="1085.95" y1="657.67" x2="1091.75" y2="657.67" stroke="#000" stroke-width="1.6"/>
<line x1="1085.95" y1="646.67" x2="1091.75" y2="646.67" stroke="#000" stroke-width="1.6"/>
<line x1="1085.95" y1="637.68" x2="1091.75" y2="637.68" stroke="#000" stroke-width="1.6"/>
<line x1="1085.95" y1="630.08" x2="1091.75" y2="630.08" stroke="#000" stroke-width="1.6"/>
<line x1="1085.95" y1="623.5" x2="1091.75" y2="623.5" stroke="#000" stroke-width="1.6"/>
<line x1="1085.95" y1="617.69" x2="1091.75" y2="617.69" stroke="#000" stroke-width="1.6"/>
<polyline points="1247.4,496.4 1247.4,490.6 1328.8,490.6 1328.8,499" fill="none" stroke="#000" stroke-width="1.5"/>
<polyline points="1289.6,490.6 1289.6,521.4" fill="none" stroke="#000" stroke-width="1.5"/>
<text x="1268.6" y="495.8" font-size="19" text-anchor="middle">*</text>
<text x="1309.9" y="495.8" font-size="19" text-anchor="middle" letter-spacing="2.6">**</text>
<g class="d"><circle cx="1128" cy="546.4" r="2.75"/><circle cx="1122.9" cy="550.4" r="2.75"/><circle cx="1123" cy="555.4" r="2.75"/><circle cx="1128.1" cy="560" r="2.75"/><circle cx="1125.9" cy="562.1" r="2.75"/><circle cx="1120.6" cy="563.6" r="2.75"/><circle cx="1135.8" cy="564.5" r="2.75"/><circle cx="1130.4" cy="565.9" r="2.75"/><circle cx="1115.4" cy="566.7" r="2.75"/><circle cx="1115.6" cy="567.5" r="2.75"/><circle cx="1130.3" cy="568.9" r="2.75"/><circle cx="1125.7" cy="569.5" r="2.75"/><circle cx="1135.4" cy="570.5" r="2.75"/><circle cx="1120.9" cy="571.7" r="2.75"/><circle cx="1135.2" cy="574.3" r="2.75"/><circle cx="1140.3" cy="575.1" r="2.75"/><circle cx="1120.4" cy="576.1" r="2.75"/><circle cx="1130.2" cy="576.7" r="2.75"/><circle cx="1115.5" cy="578" r="2.75"/><circle cx="1110.5" cy="578.6" r="2.75"/><circle cx="1125.3" cy="579.3" r="2.75"/><circle cx="1132.7" cy="579.8" r="2.75"/><circle cx="1113.3" cy="580.8" r="2.75"/><circle cx="1128" cy="581.6" r="2.75"/><circle cx="1138" cy="582.5" r="2.75"/><circle cx="1122.9" cy="583.4" r="2.75"/><circle cx="1118.3" cy="584.4" r="2.75"/><circle cx="1120.6" cy="585.3" r="2.75"/><circle cx="1140.4" cy="585.7" r="2.75"/><circle cx="1110.8" cy="586.5" r="2.75"/><circle cx="1115.4" cy="587.4" r="2.75"/><circle cx="1135.3" cy="588.5" r="2.75"/><circle cx="1130.1" cy="588.9" r="2.75"/><circle cx="1125.2" cy="589.8" r="2.75"/><circle cx="1125.8" cy="590.8" r="2.75"/><circle cx="1115.2" cy="591.2" r="2.75"/><circle cx="1135.5" cy="592.1" r="2.75"/><circle cx="1140.7" cy="593.4" r="2.75"/><circle cx="1110.4" cy="594.1" r="2.75"/><circle cx="1130.6" cy="594.7" r="2.75"/><circle cx="1120.7" cy="595.2" r="2.75"/><circle cx="1135.6" cy="596.5" r="2.75"/><circle cx="1130.5" cy="597.2" r="2.75"/><circle cx="1115.9" cy="598.1" r="2.75"/><circle cx="1125.7" cy="599" r="2.75"/><circle cx="1120.1" cy="599.8" r="2.75"/><circle cx="1140.3" cy="600.3" r="2.75"/><circle cx="1110.8" cy="600.9" r="2.75"/><circle cx="1113.2" cy="601.8" r="2.75"/><circle cx="1122.7" cy="602.7" r="2.75"/><circle cx="1117.7" cy="603.6" r="2.75"/><circle cx="1127.7" cy="604.1" r="2.75"/><circle cx="1137.7" cy="604.9" r="2.75"/><circle cx="1132.9" cy="606.1" r="2.75"/><circle cx="1115.6" cy="606.9" r="2.75"/><circle cx="1125.4" cy="607.5" r="2.75"/><circle cx="1135.4" cy="609.3" r="2.75"/><circle cx="1120.4" cy="610.2" r="2.75"/><circle cx="1130.5" cy="610.9" r="2.75"/><circle cx="1130.2" cy="612.7" r="2.75"/><circle cx="1125.2" cy="614.5" r="2.75"/><circle cx="1115.2" cy="615.3" r="2.75"/><circle cx="1135.1" cy="617.1" r="2.75"/><circle cx="1120.5" cy="617.6" r="2.75"/><circle cx="1122.8" cy="619.4" r="2.75"/><circle cx="1127.9" cy="621.4" r="2.75"/><circle cx="1132.9" cy="622.5" r="2.75"/><circle cx="1118" cy="623.9" r="2.75"/><circle cx="1125.1" cy="633" r="2.75"/><circle cx="1125.7" cy="642.4" r="2.75"/><circle cx="1167.9" cy="548.8" r="2.75"/><circle cx="1163.9" cy="549.6" r="2.75"/><circle cx="1170" cy="557.2" r="2.75"/><circle cx="1157.1" cy="558.2" r="2.75"/><circle cx="1161.6" cy="559" r="2.75"/><circle cx="1174.8" cy="559.6" r="2.75"/><circle cx="1165.8" cy="560.7" r="2.75"/><circle cx="1156.9" cy="564.2" r="2.75"/><circle cx="1170.5" cy="565.8" r="2.75"/><circle cx="1165.8" cy="566.5" r="2.75"/><circle cx="1174.6" cy="567.5" r="2.75"/><circle cx="1161.2" cy="568.3" r="2.75"/><circle cx="1166" cy="569.5" r="2.75"/><circle cx="1181.2" cy="578.7" r="2.75"/><circle cx="1150.9" cy="578.9" r="2.75"/><circle cx="1163.9" cy="579.4" r="2.75"/><circle cx="1177" cy="579.8" r="2.75"/><circle cx="1172.4" cy="580.4" r="2.75"/><circle cx="1168.3" cy="581" r="2.75"/><circle cx="1155" cy="581.4" r="2.75"/><circle cx="1159.4" cy="581.9" r="2.75"/><circle cx="1166" cy="584.1" r="2.75"/><circle cx="1174.7" cy="585.1" r="2.75"/><circle cx="1161.3" cy="586.7" r="2.75"/><circle cx="1157.4" cy="587.3" r="2.75"/><circle cx="1170.6" cy="588.7" r="2.75"/><circle cx="1172.8" cy="589.4" r="2.75"/><circle cx="1164.1" cy="590.2" r="2.75"/><circle cx="1168.2" cy="591.3" r="2.75"/><circle cx="1159" cy="592.2" r="2.75"/><circle cx="1170" cy="594.5" r="2.75"/><circle cx="1157" cy="595.4" r="2.75"/><circle cx="1174.7" cy="596.5" r="2.75"/><circle cx="1165.6" cy="597.9" r="2.75"/><circle cx="1161.5" cy="599.2" r="2.75"/><circle cx="1170.4" cy="600.1" r="2.75"/><circle cx="1166.1" cy="602.5" r="2.75"/><circle cx="1161.8" cy="603.4" r="2.75"/><circle cx="1161.7" cy="605.2" r="2.75"/><circle cx="1166.2" cy="605.9" r="2.75"/><circle cx="1170.2" cy="607.5" r="2.75"/><circle cx="1175" cy="608.4" r="2.75"/><circle cx="1157.5" cy="609.5" r="2.75"/><circle cx="1166.1" cy="611.9" r="2.75"/><circle cx="1161.3" cy="615.6" r="2.75"/><circle cx="1170.4" cy="616.3" r="2.75"/><circle cx="1168.4" cy="618.5" r="2.75"/><circle cx="1159.7" cy="619.8" r="2.75"/><circle cx="1172.4" cy="620.6" r="2.75"/><circle cx="1163.9" cy="622.4" r="2.75"/><circle cx="1165.8" cy="624.3" r="2.75"/><circle cx="1165.8" cy="630" r="2.75"/><circle cx="1163.9" cy="638.8" r="2.75"/><circle cx="1168.4" cy="639.2" r="2.75"/><circle cx="1166" cy="648" r="2.75"/><circle cx="1165.7" cy="653.6" r="2.75"/><circle cx="1166.3" cy="692" r="2.75"/><circle cx="1163.5" cy="726" r="2.75"/><circle cx="1167.7" cy="726" r="2.75"/><circle cx="1208.3" cy="534.6" r="2.75"/><circle cx="1204.5" cy="536" r="2.75"/><circle cx="1206.7" cy="546" r="2.75"/><circle cx="1204.4" cy="552.2" r="2.75"/><circle cx="1199.5" cy="553.9" r="2.75"/><circle cx="1212.6" cy="554.3" r="2.75"/><circle cx="1208.5" cy="555.7" r="2.75"/><circle cx="1202.4" cy="557.2" r="2.75"/><circle cx="1210.7" cy="557.9" r="2.75"/><circle cx="1206.3" cy="559.2" r="2.75"/><circle cx="1212.6" cy="563.5" r="2.75"/><circle cx="1208.2" cy="564.7" r="2.75"/><circle cx="1204" cy="567" r="2.75"/><circle cx="1200.2" cy="567.9" r="2.75"/><circle cx="1206.7" cy="569.6" r="2.75"/><circle cx="1210.8" cy="571.7" r="2.75"/><circle cx="1202.2" cy="573.2" r="2.75"/><circle cx="1206.5" cy="576.3" r="2.75"/><circle cx="1208.5" cy="581.3" r="2.75"/><circle cx="1204.5" cy="582.4" r="2.75"/><circle cx="1213.1" cy="582.9" r="2.75"/><circle cx="1217" cy="584.1" r="2.75"/><circle cx="1200.1" cy="584.8" r="2.75"/><circle cx="1195.7" cy="585.7" r="2.75"/><circle cx="1208.4" cy="586.3" r="2.75"/><circle cx="1204.1" cy="587.3" r="2.75"/><circle cx="1217" cy="592.1" r="2.75"/><circle cx="1221.6" cy="592.5" r="2.75"/><circle cx="1212.6" cy="593.2" r="2.75"/><circle cx="1190.8" cy="593.8" r="2.75"/><circle cx="1203.9" cy="594.6" r="2.75"/><circle cx="1208.4" cy="595.2" r="2.75"/><circle cx="1195.9" cy="595.8" r="2.75"/><circle cx="1199.7" cy="596.9" r="2.75"/><circle cx="1214.7" cy="597.4" r="2.75"/><circle cx="1210.5" cy="598" r="2.75"/><circle cx="1197.5" cy="599" r="2.75"/><circle cx="1193.1" cy="599.3" r="2.75"/><circle cx="1219.5" cy="600.1" r="2.75"/><circle cx="1201.7" cy="601.2" r="2.75"/><circle cx="1206.7" cy="601.4" r="2.75"/><circle cx="1206.1" cy="608.1" r="2.75"/><circle cx="1201.8" cy="609.6" r="2.75"/><circle cx="1214.9" cy="610.7" r="2.75"/><circle cx="1197.7" cy="611.1" r="2.75"/><circle cx="1210.7" cy="612.4" r="2.75"/><circle cx="1206.2" cy="613.9" r="2.75"/><circle cx="1202.1" cy="614.6" r="2.75"/><circle cx="1214.9" cy="616.3" r="2.75"/><circle cx="1210.7" cy="616.7" r="2.75"/><circle cx="1197.8" cy="618.5" r="2.75"/><circle cx="1204.1" cy="619.2" r="2.75"/><circle cx="1208.8" cy="620" r="2.75"/><circle cx="1200.1" cy="621.3" r="2.75"/><circle cx="1213.3" cy="622.1" r="2.75"/><circle cx="1208.7" cy="639.6" r="2.75"/><circle cx="1204.6" cy="640.4" r="2.75"/><circle cx="1206.1" cy="656.6" r="2.75"/><circle cx="1206.8" cy="699" r="2.75"/><circle cx="1244.9" cy="505" r="2.75"/><circle cx="1248.7" cy="508.4" r="2.75"/><circle cx="1246.7" cy="531" r="2.75"/><circle cx="1246.8" cy="538" r="2.75"/><circle cx="1240.1" cy="551.3" r="2.75"/><circle cx="1249.4" cy="551.8" r="2.75"/><circle cx="1253.1" cy="553.4" r="2.75"/><circle cx="1235.8" cy="554.1" r="2.75"/><circle cx="1244.4" cy="554.8" r="2.75"/><circle cx="1257.4" cy="555.7" r="2.75"/><circle cx="1257.6" cy="558.6" r="2.75"/><circle cx="1236" cy="559.2" r="2.75"/><circle cx="1240.4" cy="560.8" r="2.75"/><circle cx="1253.7" cy="561.2" r="2.75"/><circle cx="1248.7" cy="562.5" r="2.75"/><circle cx="1244.6" cy="563.5" r="2.75"/><circle cx="1246.6" cy="564.3" r="2.75"/><circle cx="1238.2" cy="565.7" r="2.75"/><circle cx="1255.4" cy="566.4" r="2.75"/><circle cx="1242.9" cy="567.6" r="2.75"/><circle cx="1251.2" cy="568.6" r="2.75"/><circle cx="1244.7" cy="569.3" r="2.75"/><circle cx="1253.3" cy="570.4" r="2.75"/><circle cx="1249" cy="571.1" r="2.75"/><circle cx="1240.5" cy="573.7" r="2.75"/><circle cx="1257.7" cy="574.8" r="2.75"/><circle cx="1261.9" cy="575.2" r="2.75"/><circle cx="1231.5" cy="576.1" r="2.75"/><circle cx="1244.9" cy="576.4" r="2.75"/><circle cx="1253.2" cy="577.4" r="2.75"/><circle cx="1231.5" cy="577.9" r="2.75"/><circle cx="1248.7" cy="578.7" r="2.75"/><circle cx="1235.7" cy="579.3" r="2.75"/><circle cx="1240.5" cy="579.8" r="2.75"/><circle cx="1251.1" cy="586" r="2.75"/><circle cx="1238.5" cy="586.9" r="2.75"/><circle cx="1242.3" cy="587.9" r="2.75"/><circle cx="1246.5" cy="589.5" r="2.75"/><circle cx="1255.5" cy="590.2" r="2.75"/><circle cx="1247.2" cy="591.4" r="2.75"/><circle cx="1238.5" cy="592.9" r="2.75"/><circle cx="1255.7" cy="593.9" r="2.75"/><circle cx="1251.4" cy="595" r="2.75"/><circle cx="1242.5" cy="596.1" r="2.75"/><circle cx="1244.9" cy="596.4" r="2.75"/><circle cx="1248.8" cy="597.7" r="2.75"/><circle cx="1248.9" cy="601.7" r="2.75"/><circle cx="1244.6" cy="603.6" r="2.75"/><circle cx="1240.6" cy="604.9" r="2.75"/><circle cx="1253.8" cy="605.8" r="2.75"/><circle cx="1253.5" cy="607.1" r="2.75"/><circle cx="1240.4" cy="608.6" r="2.75"/><circle cx="1244.6" cy="609.8" r="2.75"/><circle cx="1248.9" cy="610.6" r="2.75"/><circle cx="1253" cy="612.5" r="2.75"/><circle cx="1249" cy="613.2" r="2.75"/><circle cx="1240.4" cy="614.7" r="2.75"/><circle cx="1244.7" cy="615.4" r="2.75"/><circle cx="1245" cy="632.1" r="2.75"/><circle cx="1253.6" cy="632.9" r="2.75"/><circle cx="1240.2" cy="633.4" r="2.75"/><circle cx="1249" cy="633.8" r="2.75"/><circle cx="1246.9" cy="640" r="2.75"/><circle cx="1245.1" cy="646" r="2.75"/><circle cx="1249.2" cy="650" r="2.75"/><circle cx="1285.2" cy="541.2" r="2.75"/><circle cx="1289.4" cy="541.6" r="2.75"/><circle cx="1287.1" cy="552.6" r="2.75"/><circle cx="1293.8" cy="557.7" r="2.75"/><circle cx="1280.9" cy="559" r="2.75"/><circle cx="1289.6" cy="560.4" r="2.75"/><circle cx="1285.4" cy="561.7" r="2.75"/><circle cx="1289.5" cy="563.1" r="2.75"/><circle cx="1293.4" cy="564.5" r="2.75"/><circle cx="1284.8" cy="565.4" r="2.75"/><circle cx="1280.7" cy="567" r="2.75"/><circle cx="1285.2" cy="568.6" r="2.75"/><circle cx="1289.8" cy="569.4" r="2.75"/><circle cx="1280.8" cy="572.6" r="2.75"/><circle cx="1293.5" cy="573.1" r="2.75"/><circle cx="1278.4" cy="574" r="2.75"/><circle cx="1291.5" cy="574.4" r="2.75"/><circle cx="1274.4" cy="575.2" r="2.75"/><circle cx="1282.8" cy="576.1" r="2.75"/><circle cx="1295.9" cy="576.6" r="2.75"/><circle cx="1287" cy="577.1" r="2.75"/><circle cx="1300.4" cy="578.4" r="2.75"/><circle cx="1298.5" cy="579.1" r="2.75"/><circle cx="1272.3" cy="579.5" r="2.75"/><circle cx="1285.3" cy="580.1" r="2.75"/><circle cx="1281" cy="581.4" r="2.75"/><circle cx="1302.3" cy="581.9" r="2.75"/><circle cx="1276.8" cy="582.3" r="2.75"/><circle cx="1289.6" cy="583.1" r="2.75"/><circle cx="1293.7" cy="583.8" r="2.75"/><circle cx="1289.4" cy="586.8" r="2.75"/><circle cx="1293.7" cy="587.2" r="2.75"/><circle cx="1298.4" cy="588.9" r="2.75"/><circle cx="1280.4" cy="589.7" r="2.75"/><circle cx="1276.6" cy="590.1" r="2.75"/><circle cx="1284.9" cy="591.7" r="2.75"/><circle cx="1278.7" cy="595.9" r="2.75"/><circle cx="1282.8" cy="596.9" r="2.75"/><circle cx="1274.3" cy="597.7" r="2.75"/><circle cx="1291.6" cy="598" r="2.75"/><circle cx="1287.5" cy="598.7" r="2.75"/><circle cx="1300.3" cy="600" r="2.75"/><circle cx="1296" cy="600.4" r="2.75"/><circle cx="1291.4" cy="601.4" r="2.75"/><circle cx="1278.5" cy="602" r="2.75"/><circle cx="1287.5" cy="602.8" r="2.75"/><circle cx="1283" cy="603.6" r="2.75"/><circle cx="1274.5" cy="604.2" r="2.75"/><circle cx="1296" cy="604.8" r="2.75"/><circle cx="1300" cy="605.3" r="2.75"/><circle cx="1289.4" cy="606.5" r="2.75"/><circle cx="1298.3" cy="607" r="2.75"/><circle cx="1281" cy="607.8" r="2.75"/><circle cx="1276.4" cy="608.8" r="2.75"/><circle cx="1293.6" cy="609" r="2.75"/><circle cx="1285.3" cy="610.2" r="2.75"/><circle cx="1289.7" cy="613" r="2.75"/><circle cx="1293.9" cy="613.8" r="2.75"/><circle cx="1285" cy="614.4" r="2.75"/><circle cx="1281.2" cy="614.6" r="2.75"/><circle cx="1289.1" cy="620.8" r="2.75"/><circle cx="1285.4" cy="621.2" r="2.75"/><circle cx="1287.1" cy="626" r="2.75"/><circle cx="1287" cy="632" r="2.75"/><circle cx="1287.2" cy="641" r="2.75"/><circle cx="1286.8" cy="726" r="2.75"/><circle cx="1327.9" cy="513.6" r="2.75"/><circle cx="1325.5" cy="532.4" r="2.75"/><circle cx="1330" cy="532.8" r="2.75"/><circle cx="1325.5" cy="543.1" r="2.75"/><circle cx="1334.5" cy="544.5" r="2.75"/><circle cx="1339" cy="545.1" r="2.75"/><circle cx="1316.7" cy="546" r="2.75"/><circle cx="1321.5" cy="546.7" r="2.75"/><circle cx="1329.9" cy="547.5" r="2.75"/><circle cx="1314.6" cy="551.9" r="2.75"/><circle cx="1319.5" cy="552.7" r="2.75"/><circle cx="1323.5" cy="553.4" r="2.75"/><circle cx="1341.1" cy="554.2" r="2.75"/><circle cx="1327.7" cy="554.9" r="2.75"/><circle cx="1332.3" cy="556.1" r="2.75"/><circle cx="1336.7" cy="556.8" r="2.75"/><circle cx="1323.2" cy="557.3" r="2.75"/><circle cx="1319.2" cy="558.1" r="2.75"/><circle cx="1327.8" cy="559.1" r="2.75"/><circle cx="1332.1" cy="559.8" r="2.75"/><circle cx="1314.8" cy="560.9" r="2.75"/><circle cx="1340.8" cy="561.3" r="2.75"/><circle cx="1336.1" cy="562.1" r="2.75"/><circle cx="1312.4" cy="563.2" r="2.75"/><circle cx="1316.9" cy="563.5" r="2.75"/><circle cx="1329.9" cy="564.6" r="2.75"/><circle cx="1338.7" cy="565.2" r="2.75"/><circle cx="1326" cy="566.3" r="2.75"/><circle cx="1342.6" cy="566.9" r="2.75"/><circle cx="1334.5" cy="567.9" r="2.75"/><circle cx="1321.6" cy="568.2" r="2.75"/><circle cx="1330.2" cy="569.4" r="2.75"/><circle cx="1333.9" cy="570.1" r="2.75"/><circle cx="1321.5" cy="570.8" r="2.75"/><circle cx="1338.8" cy="571.8" r="2.75"/><circle cx="1317" cy="573" r="2.75"/><circle cx="1325.9" cy="573.4" r="2.75"/><circle cx="1328.1" cy="574.9" r="2.75"/><circle cx="1332.2" cy="576.2" r="2.75"/><circle cx="1336.7" cy="577.3" r="2.75"/><circle cx="1319.1" cy="578.3" r="2.75"/><circle cx="1323.7" cy="579.8" r="2.75"/><circle cx="1327.6" cy="581" r="2.75"/><circle cx="1332" cy="582.8" r="2.75"/><circle cx="1323.2" cy="583.7" r="2.75"/><circle cx="1334.2" cy="586.2" r="2.75"/><circle cx="1325.4" cy="587.7" r="2.75"/><circle cx="1330.3" cy="589.2" r="2.75"/><circle cx="1321.6" cy="590.4" r="2.75"/><circle cx="1330.2" cy="591.5" r="2.75"/><circle cx="1325.4" cy="592.6" r="2.75"/><circle cx="1321.2" cy="593.9" r="2.75"/><circle cx="1334.3" cy="596.3" r="2.75"/><circle cx="1319.5" cy="602.4" r="2.75"/><circle cx="1327.5" cy="602.9" r="2.75"/><circle cx="1332" cy="604.7" r="2.75"/><circle cx="1323.3" cy="606.1" r="2.75"/><circle cx="1336.8" cy="606.8" r="2.75"/><circle cx="1327.9" cy="607.4" r="2.75"/><circle cx="1327.4" cy="612.5" r="2.75"/><circle cx="1332.2" cy="614.2" r="2.75"/><circle cx="1323.7" cy="615.6" r="2.75"/><circle cx="1323.8" cy="618" r="2.75"/><circle cx="1332.3" cy="618.9" r="2.75"/><circle cx="1327.7" cy="622.2" r="2.75"/><circle cx="1327.7" cy="636.4" r="2.75"/><circle cx="1325.3" cy="726" r="2.75"/><circle cx="1330" cy="726" r="2.75"/></g>
</g>
<g class="p">
<text x="1557.4" y="461.7" font-size="19.2" text-anchor="middle">eEFCD8</text>
<rect x="1437.61" y="581.6" width="32.72" height="144.4" fill="#fd0000" stroke="#000" stroke-width="1.4"/>
<rect x="1478.07" y="572" width="32.72" height="154" fill="#fd0000" stroke="#000" stroke-width="1.4"/>
<rect x="1518.53" y="565.6" width="32.72" height="160.4" fill="#fd0000" stroke="#000" stroke-width="1.4"/>
<rect x="1559" y="563" width="32.72" height="163" fill="#fd0000" stroke="#000" stroke-width="1.4"/>
<rect x="1599.46" y="563.4" width="32.72" height="162.6" fill="#fd0000" stroke="#000" stroke-width="1.4"/>
<rect x="1639.92" y="551" width="32.72" height="175" fill="#fd0000" stroke="#000" stroke-width="1.4"/>
<rect x="1420.25" y="471.9" width="269.75" height="254.1" fill="none" stroke="#000" stroke-width="1.5"/>
<line x1="1408.95" y1="498.9" x2="1420.25" y2="498.9" stroke="#000" stroke-width="1.6"/>
<text x="1398.15" y="504.9" font-size="18" text-anchor="end">10</text>
<text transform="translate(1406.85 500.4) scale(1.14 1)" font-size="11.5" text-anchor="end">2</text>
<line x1="1408.95" y1="612.5" x2="1420.25" y2="612.5" stroke="#000" stroke-width="1.6"/>
<text x="1398.15" y="618.5" font-size="18" text-anchor="end">10</text>
<text transform="translate(1406.85 614) scale(1.14 1)" font-size="11.5" text-anchor="end">0</text>
<line x1="1408.95" y1="726" x2="1420.25" y2="726" stroke="#000" stroke-width="1.6"/>
<text x="1393.75" y="732" font-size="18" text-anchor="end">10</text>
<text transform="translate(1406.85 727.5) scale(1.14 1)" font-size="11.5" text-anchor="end">-2</text>
<line x1="1414.45" y1="578.3" x2="1420.25" y2="578.3" stroke="#000" stroke-width="1.6"/>
<line x1="1414.45" y1="558.3" x2="1420.25" y2="558.3" stroke="#000" stroke-width="1.6"/>
<line x1="1414.45" y1="544.11" x2="1420.25" y2="544.11" stroke="#000" stroke-width="1.6"/>
<line x1="1414.45" y1="533.1" x2="1420.25" y2="533.1" stroke="#000" stroke-width="1.6"/>
<line x1="1414.45" y1="524.1" x2="1420.25" y2="524.1" stroke="#000" stroke-width="1.6"/>
<line x1="1414.45" y1="516.5" x2="1420.25" y2="516.5" stroke="#000" stroke-width="1.6"/>
<line x1="1414.45" y1="509.91" x2="1420.25" y2="509.91" stroke="#000" stroke-width="1.6"/>
<line x1="1414.45" y1="504.1" x2="1420.25" y2="504.1" stroke="#000" stroke-width="1.6"/>
<line x1="1414.45" y1="691.83" x2="1420.25" y2="691.83" stroke="#000" stroke-width="1.6"/>
<line x1="1414.45" y1="671.85" x2="1420.25" y2="671.85" stroke="#000" stroke-width="1.6"/>
<line x1="1414.45" y1="657.67" x2="1420.25" y2="657.67" stroke="#000" stroke-width="1.6"/>
<line x1="1414.45" y1="646.67" x2="1420.25" y2="646.67" stroke="#000" stroke-width="1.6"/>
<line x1="1414.45" y1="637.68" x2="1420.25" y2="637.68" stroke="#000" stroke-width="1.6"/>
<line x1="1414.45" y1="630.08" x2="1420.25" y2="630.08" stroke="#000" stroke-width="1.6"/>
<line x1="1414.45" y1="623.5" x2="1420.25" y2="623.5" stroke="#000" stroke-width="1.6"/>
<line x1="1414.45" y1="617.69" x2="1420.25" y2="617.69" stroke="#000" stroke-width="1.6"/>
<polyline points="1449.6,511 1449.6,498 1491.8,498 1491.8,505.6" fill="none" stroke="#000" stroke-width="1.5"/>
<polyline points="1491.8,498.4 1491.8,492 1534.4,492 1534.4,499.4" fill="none" stroke="#000" stroke-width="1.5"/>
<polyline points="1616.8,506 1616.8,493.4 1659.4,493.4 1659.4,497" fill="none" stroke="#000" stroke-width="1.5"/>
<text x="1470.4" y="503.4" font-size="19" text-anchor="middle">*</text>
<text x="1512.6" y="496.6" font-size="19" text-anchor="middle">*</text>
<text x="1638.6" y="497.8" font-size="19" text-anchor="middle">*</text>
<text x="1660" y="508.6" font-size="16" text-anchor="middle">#</text>
<g class="d"><circle cx="1453.7" cy="522" r="2.75"/><circle cx="1459.4" cy="535.2" r="2.75"/><circle cx="1455.8" cy="536.1" r="2.75"/><circle cx="1452" cy="537.3" r="2.75"/><circle cx="1448.7" cy="538.1" r="2.75"/><circle cx="1452.4" cy="543.6" r="2.75"/><circle cx="1455.5" cy="544.4" r="2.75"/><circle cx="1466" cy="550.1" r="2.75"/><circle cx="1445.1" cy="550.5" r="2.75"/><circle cx="1441.7" cy="550.9" r="2.75"/><circle cx="1459.3" cy="551.2" r="2.75"/><circle cx="1455.6" cy="551.9" r="2.75"/><circle cx="1452.4" cy="552.3" r="2.75"/><circle cx="1462.3" cy="553.4" r="2.75"/><circle cx="1448.5" cy="554.5" r="2.75"/><circle cx="1452.3" cy="556.2" r="2.75"/><circle cx="1455.8" cy="557.7" r="2.75"/><circle cx="1449.3" cy="559" r="2.75"/><circle cx="1459" cy="559.4" r="2.75"/><circle cx="1450.4" cy="565.4" r="2.75"/><circle cx="1447.2" cy="566.5" r="2.75"/><circle cx="1453.9" cy="567.5" r="2.75"/><circle cx="1457.6" cy="568.1" r="2.75"/><circle cx="1460.4" cy="569.1" r="2.75"/><circle cx="1453.8" cy="570.7" r="2.75"/><circle cx="1460.7" cy="571.3" r="2.75"/><circle cx="1457.3" cy="572.4" r="2.75"/><circle cx="1447.1" cy="573.6" r="2.75"/><circle cx="1450.3" cy="574.5" r="2.75"/><circle cx="1454.1" cy="576.1" r="2.75"/><circle cx="1457" cy="576.5" r="2.75"/><circle cx="1446.8" cy="577.4" r="2.75"/><circle cx="1461" cy="579" r="2.75"/><circle cx="1450.8" cy="580.1" r="2.75"/><circle cx="1447" cy="581.4" r="2.75"/><circle cx="1450.7" cy="582.3" r="2.75"/><circle cx="1461.1" cy="583.6" r="2.75"/><circle cx="1457.7" cy="584.7" r="2.75"/><circle cx="1453.6" cy="585.3" r="2.75"/><circle cx="1454.2" cy="586.4" r="2.75"/><circle cx="1457.2" cy="587.1" r="2.75"/><circle cx="1447.4" cy="588.3" r="2.75"/><circle cx="1460.4" cy="589.5" r="2.75"/><circle cx="1450.5" cy="590" r="2.75"/><circle cx="1452.6" cy="591.5" r="2.75"/><circle cx="1462.1" cy="592" r="2.75"/><circle cx="1459.2" cy="593.2" r="2.75"/><circle cx="1445.5" cy="594.6" r="2.75"/><circle cx="1449.1" cy="594.8" r="2.75"/><circle cx="1455.3" cy="595.8" r="2.75"/><circle cx="1447.3" cy="597.1" r="2.75"/><circle cx="1453.9" cy="597.8" r="2.75"/><circle cx="1457.3" cy="599.2" r="2.75"/><circle cx="1450.6" cy="599.6" r="2.75"/><circle cx="1460.4" cy="601.3" r="2.75"/><circle cx="1454.1" cy="602.2" r="2.75"/><circle cx="1455.6" cy="611.4" r="2.75"/><circle cx="1452.1" cy="616" r="2.75"/><circle cx="1449" cy="619.3" r="2.75"/><circle cx="1462.3" cy="619.6" r="2.75"/><circle cx="1455.6" cy="619.9" r="2.75"/><circle cx="1452" cy="620.5" r="2.75"/><circle cx="1459.3" cy="620.8" r="2.75"/><circle cx="1445.1" cy="621.2" r="2.75"/><circle cx="1452" cy="627" r="2.75"/><circle cx="1455.3" cy="630" r="2.75"/><circle cx="1453.6" cy="633" r="2.75"/><circle cx="1453.9" cy="644" r="2.75"/><circle cx="1454.2" cy="663" r="2.75"/><circle cx="1463.3" cy="726" r="2.75"/><circle cx="1458.3" cy="726" r="2.75"/><circle cx="1454.3" cy="726" r="2.75"/><circle cx="1444.7" cy="726" r="2.75"/><circle cx="1449.8" cy="726" r="2.75"/><circle cx="1492.7" cy="518.8" r="2.75"/><circle cx="1496.1" cy="519.4" r="2.75"/><circle cx="1496.2" cy="524.6" r="2.75"/><circle cx="1492.3" cy="525.6" r="2.75"/><circle cx="1495.9" cy="532" r="2.75"/><circle cx="1492.7" cy="536.1" r="2.75"/><circle cx="1495.7" cy="537.6" r="2.75"/><circle cx="1492.8" cy="539.3" r="2.75"/><circle cx="1489" cy="540.9" r="2.75"/><circle cx="1499.5" cy="542.4" r="2.75"/><circle cx="1491.1" cy="542.9" r="2.75"/><circle cx="1497.4" cy="546.3" r="2.75"/><circle cx="1494.5" cy="547.2" r="2.75"/><circle cx="1486.2" cy="548.1" r="2.75"/><circle cx="1496.3" cy="548.8" r="2.75"/><circle cx="1489.2" cy="549.5" r="2.75"/><circle cx="1499.7" cy="550.2" r="2.75"/><circle cx="1502.7" cy="551.2" r="2.75"/><circle cx="1492.7" cy="552.1" r="2.75"/><circle cx="1487.4" cy="553.3" r="2.75"/><circle cx="1484.2" cy="554.1" r="2.75"/><circle cx="1501.4" cy="554.9" r="2.75"/><circle cx="1504.7" cy="555.8" r="2.75"/><circle cx="1494.2" cy="556.6" r="2.75"/><circle cx="1491.4" cy="557.1" r="2.75"/><circle cx="1498.1" cy="558.1" r="2.75"/><circle cx="1489.3" cy="558.4" r="2.75"/><circle cx="1485.9" cy="559.6" r="2.75"/><circle cx="1499.4" cy="560.4" r="2.75"/><circle cx="1492.7" cy="561" r="2.75"/><circle cx="1495.7" cy="562" r="2.75"/><circle cx="1502.6" cy="563.1" r="2.75"/><circle cx="1496.1" cy="563.6" r="2.75"/><circle cx="1486.2" cy="566" r="2.75"/><circle cx="1499.4" cy="566.5" r="2.75"/><circle cx="1502.8" cy="567.2" r="2.75"/><circle cx="1492.9" cy="568.2" r="2.75"/><circle cx="1489.4" cy="568.3" r="2.75"/><circle cx="1496" cy="569.1" r="2.75"/><circle cx="1506.6" cy="570.1" r="2.75"/><circle cx="1499.2" cy="570.6" r="2.75"/><circle cx="1486.3" cy="571.1" r="2.75"/><circle cx="1482.2" cy="572.1" r="2.75"/><circle cx="1503.1" cy="572.6" r="2.75"/><circle cx="1489" cy="573.4" r="2.75"/><circle cx="1492.7" cy="574" r="2.75"/><circle cx="1489.2" cy="574.7" r="2.75"/><circle cx="1496.1" cy="575.4" r="2.75"/><circle cx="1502.6" cy="576" r="2.75"/><circle cx="1492.6" cy="576.5" r="2.75"/><circle cx="1499.6" cy="577.2" r="2.75"/><circle cx="1486.2" cy="578.3" r="2.75"/><circle cx="1499.3" cy="580.8" r="2.75"/><circle cx="1492.6" cy="581.7" r="2.75"/><circle cx="1496.2" cy="584.2" r="2.75"/><circle cx="1489.4" cy="584.9" r="2.75"/><circle cx="1494.2" cy="586.2" r="2.75"/><circle cx="1497.5" cy="588.3" r="2.75"/><circle cx="1490.9" cy="589.4" r="2.75"/><circle cx="1489.6" cy="591.2" r="2.75"/><circle cx="1496.1" cy="592.8" r="2.75"/><circle cx="1492.9" cy="593.8" r="2.75"/><circle cx="1499.9" cy="595.8" r="2.75"/><circle cx="1496" cy="596.7" r="2.75"/><circle cx="1499.4" cy="598.7" r="2.75"/><circle cx="1489.6" cy="600.3" r="2.75"/><circle cx="1492.4" cy="601.1" r="2.75"/><circle cx="1498.1" cy="606.5" r="2.75"/><circle cx="1494.8" cy="608" r="2.75"/><circle cx="1491.1" cy="610.9" r="2.75"/><circle cx="1492.6" cy="613.9" r="2.75"/><circle cx="1496.5" cy="615.4" r="2.75"/><circle cx="1492.9" cy="625.8" r="2.75"/><circle cx="1496.5" cy="626.2" r="2.75"/><circle cx="1494.4" cy="653.6" r="2.75"/><circle cx="1503.9" cy="726" r="2.75"/><circle cx="1494.7" cy="726" r="2.75"/><circle cx="1489.6" cy="726" r="2.75"/><circle cx="1485.3" cy="726" r="2.75"/><circle cx="1498.7" cy="726" r="2.75"/><circle cx="1532.9" cy="513.4" r="2.75"/><circle cx="1537.1" cy="513.8" r="2.75"/><circle cx="1530.2" cy="519.8" r="2.75"/><circle cx="1539.6" cy="521.5" r="2.75"/><circle cx="1534.8" cy="522.2" r="2.75"/><circle cx="1532.3" cy="525.2" r="2.75"/><circle cx="1528.3" cy="526.5" r="2.75"/><circle cx="1541.3" cy="527.2" r="2.75"/><circle cx="1536.8" cy="530" r="2.75"/><circle cx="1536.9" cy="531" r="2.75"/><circle cx="1532.8" cy="535.3" r="2.75"/><circle cx="1528.6" cy="538.2" r="2.75"/><circle cx="1537.4" cy="539.3" r="2.75"/><circle cx="1532.7" cy="541.2" r="2.75"/><circle cx="1541.5" cy="542" r="2.75"/><circle cx="1528" cy="544.6" r="2.75"/><circle cx="1537.4" cy="545.2" r="2.75"/><circle cx="1541.6" cy="547.1" r="2.75"/><circle cx="1533.1" cy="549" r="2.75"/><circle cx="1535.2" cy="550.1" r="2.75"/><circle cx="1530.7" cy="552.6" r="2.75"/><circle cx="1538.8" cy="553.7" r="2.75"/><circle cx="1534.6" cy="555.5" r="2.75"/><circle cx="1530.5" cy="557.8" r="2.75"/><circle cx="1539.1" cy="559.1" r="2.75"/><circle cx="1545.5" cy="566.3" r="2.75"/><circle cx="1533" cy="566.5" r="2.75"/><circle cx="1528.7" cy="566.9" r="2.75"/><circle cx="1541.5" cy="567.2" r="2.75"/><circle cx="1523.8" cy="567.6" r="2.75"/><circle cx="1537.1" cy="567.9" r="2.75"/><circle cx="1541.4" cy="574.1" r="2.75"/><circle cx="1537.3" cy="574.5" r="2.75"/><circle cx="1524" cy="574.7" r="2.75"/><circle cx="1519.4" cy="575.1" r="2.75"/><circle cx="1528.6" cy="575.4" r="2.75"/><circle cx="1532.5" cy="575.7" r="2.75"/><circle cx="1550.5" cy="575.8" r="2.75"/><circle cx="1545.8" cy="576.2" r="2.75"/><circle cx="1528.7" cy="581.3" r="2.75"/><circle cx="1541.6" cy="583.5" r="2.75"/><circle cx="1536.8" cy="585" r="2.75"/><circle cx="1532.7" cy="585.7" r="2.75"/><circle cx="1534.9" cy="588.5" r="2.75"/><circle cx="1538.9" cy="589.5" r="2.75"/><circle cx="1530.8" cy="592" r="2.75"/><circle cx="1535.2" cy="594.3" r="2.75"/><circle cx="1530.5" cy="595" r="2.75"/><circle cx="1538.9" cy="598.2" r="2.75"/><circle cx="1539.6" cy="602.4" r="2.75"/><circle cx="1530.4" cy="606" r="2.75"/><circle cx="1535" cy="606.4" r="2.75"/><circle cx="1537.1" cy="613" r="2.75"/><circle cx="1532.4" cy="613.4" r="2.75"/><circle cx="1534.8" cy="623.6" r="2.75"/><circle cx="1534.7" cy="633" r="2.75"/><circle cx="1535" cy="645" r="2.75"/><circle cx="1575.3" cy="503" r="2.75"/><circle cx="1580.3" cy="516" r="2.75"/><circle cx="1570.7" cy="519.6" r="2.75"/><circle cx="1575.3" cy="520.4" r="2.75"/><circle cx="1567.8" cy="526.4" r="2.75"/><circle cx="1582.6" cy="527.1" r="2.75"/><circle cx="1572.9" cy="528.3" r="2.75"/><circle cx="1577.8" cy="529.7" r="2.75"/><circle cx="1580.2" cy="535.4" r="2.75"/><circle cx="1570.2" cy="537.2" r="2.75"/><circle cx="1575.1" cy="538.6" r="2.75"/><circle cx="1577.5" cy="540.7" r="2.75"/><circle cx="1573.1" cy="543.1" r="2.75"/><circle cx="1570.5" cy="546.9" r="2.75"/><circle cx="1575.1" cy="547.9" r="2.75"/><circle cx="1580.3" cy="551" r="2.75"/><circle cx="1587.8" cy="552.8" r="2.75"/><circle cx="1563" cy="553.9" r="2.75"/><circle cx="1578.1" cy="554.5" r="2.75"/><circle cx="1582.8" cy="555.1" r="2.75"/><circle cx="1572.9" cy="556.4" r="2.75"/><circle cx="1567.8" cy="557" r="2.75"/><circle cx="1590.4" cy="557.8" r="2.75"/><circle cx="1580" cy="558.7" r="2.75"/><circle cx="1570.4" cy="559.6" r="2.75"/><circle cx="1560.8" cy="559.7" r="2.75"/><circle cx="1565.3" cy="560.7" r="2.75"/><circle cx="1575.2" cy="561.4" r="2.75"/><circle cx="1585.1" cy="562.4" r="2.75"/><circle cx="1570.4" cy="563.5" r="2.75"/><circle cx="1580.4" cy="564.2" r="2.75"/><circle cx="1575.4" cy="568.1" r="2.75"/><circle cx="1567.9" cy="569.5" r="2.75"/><circle cx="1572.9" cy="571.3" r="2.75"/><circle cx="1582.9" cy="572.4" r="2.75"/><circle cx="1577.5" cy="573.3" r="2.75"/><circle cx="1583.1" cy="574.6" r="2.75"/><circle cx="1578.1" cy="575.4" r="2.75"/><circle cx="1567.8" cy="577.4" r="2.75"/><circle cx="1573.1" cy="578.1" r="2.75"/><circle cx="1580.6" cy="579.8" r="2.75"/><circle cx="1570.4" cy="580.7" r="2.75"/><circle cx="1575.6" cy="581.3" r="2.75"/><circle cx="1572.9" cy="586.7" r="2.75"/><circle cx="1578" cy="588.6" r="2.75"/><circle cx="1583" cy="591.9" r="2.75"/><circle cx="1573" cy="593.4" r="2.75"/><circle cx="1578" cy="594.5" r="2.75"/><circle cx="1568.3" cy="596.8" r="2.75"/><circle cx="1575.6" cy="607.6" r="2.75"/><circle cx="1570.1" cy="608" r="2.75"/><circle cx="1580.5" cy="608.4" r="2.75"/><circle cx="1575.1" cy="621" r="2.75"/><circle cx="1575.4" cy="639" r="2.75"/><circle cx="1575" cy="645" r="2.75"/><circle cx="1578.1" cy="726" r="2.75"/><circle cx="1573.4" cy="726" r="2.75"/><circle cx="1609.2" cy="522" r="2.75"/><circle cx="1618.2" cy="523.4" r="2.75"/><circle cx="1613.9" cy="524.7" r="2.75"/><circle cx="1622.7" cy="525.7" r="2.75"/><circle cx="1611.4" cy="529.4" r="2.75"/><circle cx="1607.3" cy="530.1" r="2.75"/><circle cx="1615.8" cy="531.6" r="2.75"/><circle cx="1620.3" cy="532.4" r="2.75"/><circle cx="1624.3" cy="533.1" r="2.75"/><circle cx="1618.3" cy="534.5" r="2.75"/><circle cx="1609.1" cy="535.9" r="2.75"/><circle cx="1622.3" cy="536.1" r="2.75"/><circle cx="1604.7" cy="537.2" r="2.75"/><circle cx="1613.7" cy="538.7" r="2.75"/><circle cx="1626.5" cy="539.3" r="2.75"/><circle cx="1607.2" cy="540.3" r="2.75"/><circle cx="1620.1" cy="541.5" r="2.75"/><circle cx="1615.5" cy="542.3" r="2.75"/><circle cx="1611.4" cy="543.6" r="2.75"/><circle cx="1624.6" cy="544.5" r="2.75"/><circle cx="1609.1" cy="545.9" r="2.75"/><circle cx="1622.5" cy="546.9" r="2.75"/><circle cx="1618.2" cy="547.1" r="2.75"/><circle cx="1605.1" cy="548.6" r="2.75"/><circle cx="1613.3" cy="549.7" r="2.75"/><circle cx="1626.5" cy="550.8" r="2.75"/><circle cx="1624.3" cy="551.7" r="2.75"/><circle cx="1606.9" cy="552.6" r="2.75"/><circle cx="1620" cy="553.6" r="2.75"/><circle cx="1611.9" cy="554.4" r="2.75"/><circle cx="1615.5" cy="555.3" r="2.75"/><circle cx="1613.3" cy="556.8" r="2.75"/><circle cx="1617.8" cy="557.8" r="2.75"/><circle cx="1622.5" cy="558.9" r="2.75"/><circle cx="1609.3" cy="559.7" r="2.75"/><circle cx="1605" cy="562.2" r="2.75"/><circle cx="1618.2" cy="563.2" r="2.75"/><circle cx="1626.7" cy="563.9" r="2.75"/><circle cx="1622.4" cy="564.4" r="2.75"/><circle cx="1613.7" cy="565.2" r="2.75"/><circle cx="1630.8" cy="565.7" r="2.75"/><circle cx="1600.5" cy="566.5" r="2.75"/><circle cx="1609.4" cy="567.1" r="2.75"/><circle cx="1624.6" cy="567.6" r="2.75"/><circle cx="1607.5" cy="568.5" r="2.75"/><circle cx="1615.5" cy="569.2" r="2.75"/><circle cx="1620.5" cy="570.3" r="2.75"/><circle cx="1628.7" cy="570.7" r="2.75"/><circle cx="1602.9" cy="571.3" r="2.75"/><circle cx="1611.9" cy="571.9" r="2.75"/><circle cx="1620.5" cy="579.1" r="2.75"/><circle cx="1607.4" cy="579.5" r="2.75"/><circle cx="1615.6" cy="579.9" r="2.75"/><circle cx="1624.9" cy="580.2" r="2.75"/><circle cx="1611.1" cy="580.9" r="2.75"/><circle cx="1622.1" cy="586.6" r="2.75"/><circle cx="1613.3" cy="588" r="2.75"/><circle cx="1608.9" cy="589.6" r="2.75"/><circle cx="1617.6" cy="590.7" r="2.75"/><circle cx="1618.4" cy="591.9" r="2.75"/><circle cx="1613.7" cy="593.2" r="2.75"/><circle cx="1615.8" cy="624.4" r="2.75"/><circle cx="1616.1" cy="634.6" r="2.75"/><circle cx="1615.5" cy="669.4" r="2.75"/><circle cx="1620.8" cy="726" r="2.75"/><circle cx="1611.8" cy="726" r="2.75"/><circle cx="1615.6" cy="726" r="2.75"/><circle cx="1656" cy="510" r="2.75"/><circle cx="1654.2" cy="515.6" r="2.75"/><circle cx="1658.5" cy="516.4" r="2.75"/><circle cx="1656.4" cy="522" r="2.75"/><circle cx="1654.1" cy="529.6" r="2.75"/><circle cx="1658.4" cy="530.4" r="2.75"/><circle cx="1652.2" cy="536" r="2.75"/><circle cx="1656.3" cy="539.8" r="2.75"/><circle cx="1660.9" cy="540.4" r="2.75"/><circle cx="1666.9" cy="541.3" r="2.75"/><circle cx="1658.7" cy="541.9" r="2.75"/><circle cx="1645.6" cy="542.7" r="2.75"/><circle cx="1662.9" cy="543" r="2.75"/><circle cx="1649.5" cy="544" r="2.75"/><circle cx="1640.9" cy="544.4" r="2.75"/><circle cx="1654.4" cy="544.8" r="2.75"/><circle cx="1641.4" cy="545.5" r="2.75"/><circle cx="1671.8" cy="546.3" r="2.75"/><circle cx="1663.1" cy="547.2" r="2.75"/><circle cx="1653.9" cy="547.5" r="2.75"/><circle cx="1650" cy="548.3" r="2.75"/><circle cx="1645.8" cy="548.8" r="2.75"/><circle cx="1658.4" cy="549.7" r="2.75"/><circle cx="1666.7" cy="549.8" r="2.75"/><circle cx="1645.4" cy="552.4" r="2.75"/><circle cx="1667.2" cy="553.6" r="2.75"/><circle cx="1654.2" cy="554" r="2.75"/><circle cx="1658.6" cy="554.9" r="2.75"/><circle cx="1649.8" cy="555.6" r="2.75"/><circle cx="1662.5" cy="556.6" r="2.75"/><circle cx="1662.8" cy="557.6" r="2.75"/><circle cx="1667.1" cy="558.8" r="2.75"/><circle cx="1650" cy="559.3" r="2.75"/><circle cx="1653.9" cy="560.3" r="2.75"/><circle cx="1645.7" cy="561.1" r="2.75"/><circle cx="1658.6" cy="562.3" r="2.75"/><circle cx="1658.3" cy="563.4" r="2.75"/><circle cx="1654" cy="564.1" r="2.75"/><circle cx="1656.5" cy="570" r="2.75"/><circle cx="1656" cy="578.6" r="2.75"/><circle cx="1649.4" cy="588.8" r="2.75"/><circle cx="1658.4" cy="590.2" r="2.75"/><circle cx="1654.5" cy="591.4" r="2.75"/><circle cx="1663.1" cy="592" r="2.75"/><circle cx="1655.9" cy="597" r="2.75"/><circle cx="1658.6" cy="608.2" r="2.75"/><circle cx="1654.3" cy="608.6" r="2.75"/><circle cx="1656.7" cy="630" r="2.75"/></g>
</g>
<g class="p">
<text x="1879.2" y="461.7" font-size="19.2" text-anchor="middle">eEFCD19</text>
<rect x="1769.61" y="595" width="32.72" height="131" fill="#fd0000" stroke="#000" stroke-width="1.4"/>
<rect x="1810.07" y="582" width="32.72" height="144" fill="#fd0000" stroke="#000" stroke-width="1.4"/>
<rect x="1850.53" y="587.6" width="32.72" height="138.4" fill="#fd0000" stroke="#000" stroke-width="1.4"/>
<rect x="1891" y="592" width="32.72" height="134" fill="#fd0000" stroke="#000" stroke-width="1.4"/>
<rect x="1931.46" y="577.6" width="32.72" height="148.4" fill="#fd0000" stroke="#000" stroke-width="1.4"/>
<rect x="1971.92" y="586" width="32.72" height="140" fill="#fd0000" stroke="#000" stroke-width="1.4"/>
<rect x="1752.25" y="471.9" width="269.75" height="254.1" fill="none" stroke="#000" stroke-width="1.5"/>
<line x1="1740.95" y1="498.9" x2="1752.25" y2="498.9" stroke="#000" stroke-width="1.6"/>
<text x="1730.15" y="504.9" font-size="18" text-anchor="end">10</text>
<text transform="translate(1738.85 500.4) scale(1.14 1)" font-size="11.5" text-anchor="end">2</text>
<line x1="1740.95" y1="612.5" x2="1752.25" y2="612.5" stroke="#000" stroke-width="1.6"/>
<text x="1730.15" y="618.5" font-size="18" text-anchor="end">10</text>
<text transform="translate(1738.85 614) scale(1.14 1)" font-size="11.5" text-anchor="end">0</text>
<line x1="1740.95" y1="726" x2="1752.25" y2="726" stroke="#000" stroke-width="1.6"/>
<text x="1725.75" y="732" font-size="18" text-anchor="end">10</text>
<text transform="translate(1738.85 727.5) scale(1.14 1)" font-size="11.5" text-anchor="end">-2</text>
<line x1="1746.45" y1="578.3" x2="1752.25" y2="578.3" stroke="#000" stroke-width="1.6"/>
<line x1="1746.45" y1="558.3" x2="1752.25" y2="558.3" stroke="#000" stroke-width="1.6"/>
<line x1="1746.45" y1="544.11" x2="1752.25" y2="544.11" stroke="#000" stroke-width="1.6"/>
<line x1="1746.45" y1="533.1" x2="1752.25" y2="533.1" stroke="#000" stroke-width="1.6"/>
<line x1="1746.45" y1="524.1" x2="1752.25" y2="524.1" stroke="#000" stroke-width="1.6"/>
<line x1="1746.45" y1="516.5" x2="1752.25" y2="516.5" stroke="#000" stroke-width="1.6"/>
<line x1="1746.45" y1="509.91" x2="1752.25" y2="509.91" stroke="#000" stroke-width="1.6"/>
<line x1="1746.45" y1="504.1" x2="1752.25" y2="504.1" stroke="#000" stroke-width="1.6"/>
<line x1="1746.45" y1="691.83" x2="1752.25" y2="691.83" stroke="#000" stroke-width="1.6"/>
<line x1="1746.45" y1="671.85" x2="1752.25" y2="671.85" stroke="#000" stroke-width="1.6"/>
<line x1="1746.45" y1="657.67" x2="1752.25" y2="657.67" stroke="#000" stroke-width="1.6"/>
<line x1="1746.45" y1="646.67" x2="1752.25" y2="646.67" stroke="#000" stroke-width="1.6"/>
<line x1="1746.45" y1="637.68" x2="1752.25" y2="637.68" stroke="#000" stroke-width="1.6"/>
<line x1="1746.45" y1="630.08" x2="1752.25" y2="630.08" stroke="#000" stroke-width="1.6"/>
<line x1="1746.45" y1="623.5" x2="1752.25" y2="623.5" stroke="#000" stroke-width="1.6"/>
<line x1="1746.45" y1="617.69" x2="1752.25" y2="617.69" stroke="#000" stroke-width="1.6"/>
<polyline points="1786.8,519.6 1786.8,507 1829.2,507 1829.2,514" fill="none" stroke="#000" stroke-width="1.5"/>
<polyline points="1907.6,512 1907.6,496 1992.4,496 1992.4,512" fill="none" stroke="#000" stroke-width="1.5"/>
<polyline points="1949,496 1949,503.4" fill="none" stroke="#000" stroke-width="1.5"/>
<text x="1807.4" y="511.8" font-size="19" text-anchor="middle">*</text>
<text x="1927.6" y="500.8" font-size="19" text-anchor="middle">*</text>
<text x="1970.4" y="500.8" font-size="19" text-anchor="middle">*</text>
<g class="d"><circle cx="1794.4" cy="548.6" r="2.75"/><circle cx="1788.7" cy="550.4" r="2.75"/><circle cx="1777.6" cy="552" r="2.75"/><circle cx="1783.1" cy="553" r="2.75"/><circle cx="1788.7" cy="557.6" r="2.75"/><circle cx="1794.4" cy="562.2" r="2.75"/><circle cx="1783.3" cy="562.6" r="2.75"/><circle cx="1788.7" cy="566.6" r="2.75"/><circle cx="1783.1" cy="572.6" r="2.75"/><circle cx="1788.9" cy="575" r="2.75"/><circle cx="1777.5" cy="578.2" r="2.75"/><circle cx="1794.4" cy="578.6" r="2.75"/><circle cx="1788.7" cy="579.6" r="2.75"/><circle cx="1783.3" cy="581.6" r="2.75"/><circle cx="1783.2" cy="585" r="2.75"/><circle cx="1788.7" cy="585.6" r="2.75"/><circle cx="1794.3" cy="593.6" r="2.75"/><circle cx="1783.2" cy="596.4" r="2.75"/><circle cx="1777.7" cy="596.6" r="2.75"/><circle cx="1799.9" cy="597.2" r="2.75"/><circle cx="1772.1" cy="597.6" r="2.75"/><circle cx="1805.7" cy="597.8" r="2.75"/><circle cx="1788.7" cy="598" r="2.75"/><circle cx="1800" cy="601.6" r="2.75"/><circle cx="1783.1" cy="601.8" r="2.75"/><circle cx="1788.7" cy="604.4" r="2.75"/><circle cx="1794.3" cy="604.6" r="2.75"/><circle cx="1777.6" cy="606" r="2.75"/><circle cx="1788.7" cy="607" r="2.75"/><circle cx="1788.7" cy="616" r="2.75"/><circle cx="1783.1" cy="616.2" r="2.75"/><circle cx="1800" cy="620.4" r="2.75"/><circle cx="1794.3" cy="620.6" r="2.75"/><circle cx="1777.6" cy="620.8" r="2.75"/><circle cx="1783.2" cy="623.6" r="2.75"/><circle cx="1788.7" cy="623.8" r="2.75"/><circle cx="1794.4" cy="625" r="2.75"/><circle cx="1788.7" cy="632.6" r="2.75"/><circle cx="1831" cy="535" r="2.75"/><circle cx="1831.1" cy="542.4" r="2.75"/><circle cx="1821.7" cy="542.8" r="2.75"/><circle cx="1831.1" cy="548" r="2.75"/><circle cx="1840.5" cy="550" r="2.75"/><circle cx="1821.7" cy="553" r="2.75"/><circle cx="1840.6" cy="560.4" r="2.75"/><circle cx="1831.2" cy="562" r="2.75"/><circle cx="1821.7" cy="564" r="2.75"/><circle cx="1831.1" cy="568" r="2.75"/><circle cx="1831.2" cy="578.4" r="2.75"/><circle cx="1821.8" cy="582" r="2.75"/><circle cx="1831.1" cy="584.4" r="2.75"/><circle cx="1821.8" cy="584.8" r="2.75"/><circle cx="1840.6" cy="590" r="2.75"/><circle cx="1821.6" cy="593" r="2.75"/><circle cx="1831" cy="595" r="2.75"/><circle cx="1840.6" cy="597" r="2.75"/><circle cx="1831.1" cy="598.8" r="2.75"/><circle cx="1821.7" cy="599.2" r="2.75"/><circle cx="1831.1" cy="604" r="2.75"/><circle cx="1821.7" cy="609" r="2.75"/><circle cx="1831" cy="616" r="2.75"/><circle cx="1869.6" cy="532" r="2.75"/><circle cx="1864.1" cy="534" r="2.75"/><circle cx="1869.7" cy="547.6" r="2.75"/><circle cx="1864.1" cy="550" r="2.75"/><circle cx="1875.3" cy="553.2" r="2.75"/><circle cx="1869.7" cy="553.6" r="2.75"/><circle cx="1864.1" cy="554.6" r="2.75"/><circle cx="1858.4" cy="556" r="2.75"/><circle cx="1864" cy="563.6" r="2.75"/><circle cx="1869.8" cy="565" r="2.75"/><circle cx="1875.3" cy="569.8" r="2.75"/><circle cx="1864.1" cy="570.2" r="2.75"/><circle cx="1869.7" cy="574.4" r="2.75"/><circle cx="1864.1" cy="575" r="2.75"/><circle cx="1869.8" cy="578" r="2.75"/><circle cx="1875.3" cy="582.4" r="2.75"/><circle cx="1864" cy="586.4" r="2.75"/><circle cx="1869.8" cy="587.4" r="2.75"/><circle cx="1875.2" cy="590.4" r="2.75"/><circle cx="1852.9" cy="591.4" r="2.75"/><circle cx="1864.2" cy="591.6" r="2.75"/><circle cx="1869.6" cy="591.8" r="2.75"/><circle cx="1880.9" cy="593" r="2.75"/><circle cx="1858.4" cy="593.2" r="2.75"/><circle cx="1869.7" cy="597" r="2.75"/><circle cx="1864" cy="598.4" r="2.75"/><circle cx="1875.2" cy="603.6" r="2.75"/><circle cx="1864.1" cy="604.2" r="2.75"/><circle cx="1858.5" cy="604.4" r="2.75"/><circle cx="1880.8" cy="604.6" r="2.75"/><circle cx="1869.8" cy="607.6" r="2.75"/><circle cx="1869.8" cy="609" r="2.75"/><circle cx="1864.1" cy="622.4" r="2.75"/><circle cx="1869.6" cy="626.4" r="2.75"/><circle cx="1866.5" cy="726" r="2.75"/><circle cx="1907.4" cy="516.4" r="2.75"/><circle cx="1912.1" cy="518" r="2.75"/><circle cx="1907.4" cy="522.4" r="2.75"/><circle cx="1907.4" cy="537" r="2.75"/><circle cx="1912.1" cy="545.8" r="2.75"/><circle cx="1921.7" cy="546" r="2.75"/><circle cx="1902.5" cy="546.2" r="2.75"/><circle cx="1916.9" cy="547.4" r="2.75"/><circle cx="1897.7" cy="547.8" r="2.75"/><circle cx="1907.4" cy="550" r="2.75"/><circle cx="1907.4" cy="553" r="2.75"/><circle cx="1912.1" cy="559" r="2.75"/><circle cx="1897.8" cy="562.6" r="2.75"/><circle cx="1907.3" cy="562.8" r="2.75"/><circle cx="1916.9" cy="563.2" r="2.75"/><circle cx="1902.5" cy="563.4" r="2.75"/><circle cx="1907.3" cy="568" r="2.75"/><circle cx="1912.1" cy="568.2" r="2.75"/><circle cx="1912.2" cy="576.4" r="2.75"/><circle cx="1907.4" cy="579" r="2.75"/><circle cx="1907.3" cy="581.6" r="2.75"/><circle cx="1912.2" cy="584.4" r="2.75"/><circle cx="1902.5" cy="586.4" r="2.75"/><circle cx="1907.3" cy="593" r="2.75"/><circle cx="1912.2" cy="594.4" r="2.75"/><circle cx="1902.5" cy="594.6" r="2.75"/><circle cx="1902.6" cy="599" r="2.75"/><circle cx="1917" cy="599.2" r="2.75"/><circle cx="1897.7" cy="599.4" r="2.75"/><circle cx="1912.1" cy="601" r="2.75"/><circle cx="1921.9" cy="602.6" r="2.75"/><circle cx="1926.7" cy="602.8" r="2.75"/><circle cx="1907.4" cy="603.2" r="2.75"/><circle cx="1893" cy="603.4" r="2.75"/><circle cx="1888.1" cy="604" r="2.75"/><circle cx="1912.1" cy="604.2" r="2.75"/><circle cx="1907.3" cy="609" r="2.75"/><circle cx="1902.6" cy="609.2" r="2.75"/><circle cx="1902.5" cy="609.4" r="2.75"/><circle cx="1892.9" cy="612" r="2.75"/><circle cx="1921.7" cy="612.2" r="2.75"/><circle cx="1897.7" cy="612.4" r="2.75"/><circle cx="1907.3" cy="613" r="2.75"/><circle cx="1912.3" cy="613.2" r="2.75"/><circle cx="1916.9" cy="613.4" r="2.75"/><circle cx="1907.4" cy="616" r="2.75"/><circle cx="1912.2" cy="622" r="2.75"/><circle cx="1907.4" cy="623.6" r="2.75"/><circle cx="1907.2" cy="726" r="2.75"/><circle cx="1947.8" cy="510.6" r="2.75"/><circle cx="1947.8" cy="521.4" r="2.75"/><circle cx="1952.5" cy="526" r="2.75"/><circle cx="1952.7" cy="529.4" r="2.75"/><circle cx="1943.1" cy="532" r="2.75"/><circle cx="1947.8" cy="533" r="2.75"/><circle cx="1952.5" cy="540" r="2.75"/><circle cx="1947.9" cy="542" r="2.75"/><circle cx="1957.4" cy="545.8" r="2.75"/><circle cx="1947.9" cy="546" r="2.75"/><circle cx="1952.7" cy="546.2" r="2.75"/><circle cx="1943.1" cy="547" r="2.75"/><circle cx="1938.2" cy="550.8" r="2.75"/><circle cx="1943.1" cy="551" r="2.75"/><circle cx="1952.6" cy="551.2" r="2.75"/><circle cx="1957.4" cy="552" r="2.75"/><circle cx="1947.9" cy="555" r="2.75"/><circle cx="1943" cy="556.8" r="2.75"/><circle cx="1952.7" cy="557" r="2.75"/><circle cx="1957.4" cy="557.2" r="2.75"/><circle cx="1947.9" cy="559" r="2.75"/><circle cx="1947.7" cy="564" r="2.75"/><circle cx="1947.8" cy="572" r="2.75"/><circle cx="1943.1" cy="574.4" r="2.75"/><circle cx="1933.4" cy="575.4" r="2.75"/><circle cx="1962.2" cy="575.6" r="2.75"/><circle cx="1938.1" cy="575.8" r="2.75"/><circle cx="1957.4" cy="576" r="2.75"/><circle cx="1952.6" cy="577" r="2.75"/><circle cx="1947.9" cy="578.8" r="2.75"/><circle cx="1952.6" cy="579.2" r="2.75"/><circle cx="1942.9" cy="581" r="2.75"/><circle cx="1943.1" cy="585" r="2.75"/><circle cx="1952.7" cy="586.8" r="2.75"/><circle cx="1957.5" cy="587.2" r="2.75"/><circle cx="1947.9" cy="589" r="2.75"/><circle cx="1938.3" cy="591.8" r="2.75"/><circle cx="1957.5" cy="592.2" r="2.75"/><circle cx="1943" cy="595" r="2.75"/><circle cx="1962.3" cy="596.2" r="2.75"/><circle cx="1947.8" cy="596.4" r="2.75"/><circle cx="1952.6" cy="596.6" r="2.75"/><circle cx="1947.8" cy="597.8" r="2.75"/><circle cx="1943" cy="598.2" r="2.75"/><circle cx="1952.6" cy="600.8" r="2.75"/><circle cx="1957.4" cy="601.2" r="2.75"/><circle cx="1947.8" cy="608" r="2.75"/><circle cx="1947.8" cy="621.6" r="2.75"/><circle cx="1947.8" cy="726" r="2.75"/><circle cx="1988.2" cy="537" r="2.75"/><circle cx="1993.1" cy="541.6" r="2.75"/><circle cx="1997.8" cy="543" r="2.75"/><circle cx="1993.1" cy="544.4" r="2.75"/><circle cx="1988.3" cy="545.4" r="2.75"/><circle cx="1983.4" cy="545.6" r="2.75"/><circle cx="1978.8" cy="545.8" r="2.75"/><circle cx="2002.7" cy="546.4" r="2.75"/><circle cx="1983.5" cy="549" r="2.75"/><circle cx="1988.3" cy="551.8" r="2.75"/><circle cx="1993" cy="552.2" r="2.75"/><circle cx="1993.1" cy="557.8" r="2.75"/><circle cx="1988.2" cy="558" r="2.75"/><circle cx="1983.5" cy="558.2" r="2.75"/><circle cx="1988.4" cy="563.8" r="2.75"/><circle cx="1983.6" cy="564" r="2.75"/><circle cx="1993" cy="564.2" r="2.75"/><circle cx="1983.4" cy="570.4" r="2.75"/><circle cx="1988.3" cy="573.8" r="2.75"/><circle cx="1993.1" cy="574.2" r="2.75"/><circle cx="1988.2" cy="579" r="2.75"/><circle cx="1983.5" cy="580.2" r="2.75"/><circle cx="1993.1" cy="580.6" r="2.75"/><circle cx="1988.2" cy="585" r="2.75"/><circle cx="1993.2" cy="586" r="2.75"/><circle cx="1983.4" cy="587.8" r="2.75"/><circle cx="1978.6" cy="588" r="2.75"/><circle cx="1997.9" cy="588.2" r="2.75"/><circle cx="1988.3" cy="591.6" r="2.75"/><circle cx="1993.1" cy="593" r="2.75"/><circle cx="2007.4" cy="598.2" r="2.75"/><circle cx="2002.7" cy="598.4" r="2.75"/><circle cx="1993" cy="598.6" r="2.75"/><circle cx="1997.9" cy="599.8" r="2.75"/><circle cx="1988.3" cy="600.2" r="2.75"/><circle cx="1983.6" cy="602.6" r="2.75"/><circle cx="1973.9" cy="602.8" r="2.75"/><circle cx="1978.6" cy="603.2" r="2.75"/><circle cx="1983.4" cy="603.4" r="2.75"/><circle cx="1997.9" cy="604.4" r="2.75"/><circle cx="1993.2" cy="607.8" r="2.75"/><circle cx="1988.3" cy="608.2" r="2.75"/><circle cx="1993.1" cy="610" r="2.75"/><circle cx="1988.4" cy="615" r="2.75"/><circle cx="1993.1" cy="619.4" r="2.75"/><circle cx="1988.2" cy="619.8" r="2.75"/><circle cx="1988.3" cy="626.4" r="2.75"/><circle cx="1979.6" cy="726" r="2.75"/><circle cx="2002.2" cy="726" r="2.75"/><circle cx="1983.9" cy="726" r="2.75"/><circle cx="1992.8" cy="726" r="2.75"/><circle cx="1974.5" cy="726" r="2.75"/><circle cx="1988" cy="726" r="2.75"/><circle cx="1997.6" cy="726" r="2.75"/></g>
</g>
<g class="p">
<text x="204" y="789.7" font-size="19.2" text-anchor="middle">CMCD4</text>
<rect x="96.31" y="907" width="32.62" height="149.6" fill="#000080" stroke="#000" stroke-width="1.4"/>
<rect x="136.66" y="900.6" width="32.62" height="156" fill="#000080" stroke="#000" stroke-width="1.4"/>
<rect x="177.01" y="897" width="32.62" height="159.6" fill="#000080" stroke="#000" stroke-width="1.4"/>
<rect x="217.36" y="892" width="32.62" height="164.6" fill="#000080" stroke="#000" stroke-width="1.4"/>
<rect x="257.71" y="884" width="32.62" height="172.6" fill="#000080" stroke="#000" stroke-width="1.4"/>
<rect x="298.06" y="885.6" width="32.62" height="171" fill="#000080" stroke="#000" stroke-width="1.4"/>
<rect x="79" y="802.1" width="269" height="254.5" fill="none" stroke="#000" stroke-width="1.5"/>
<line x1="67.7" y1="829.5" x2="79" y2="829.5" stroke="#000" stroke-width="1.6"/>
<text x="56.9" y="835.5" font-size="18" text-anchor="end">10</text>
<text transform="translate(65.6 831) scale(1.14 1)" font-size="11.5" text-anchor="end">2</text>
<line x1="67.7" y1="943.1" x2="79" y2="943.1" stroke="#000" stroke-width="1.6"/>
<text x="56.9" y="949.1" font-size="18" text-anchor="end">10</text>
<text transform="translate(65.6 944.6) scale(1.14 1)" font-size="11.5" text-anchor="end">0</text>
<line x1="67.7" y1="1056.6" x2="79" y2="1056.6" stroke="#000" stroke-width="1.6"/>
<text x="52.5" y="1062.6" font-size="18" text-anchor="end">10</text>
<text transform="translate(65.6 1058.1) scale(1.14 1)" font-size="11.5" text-anchor="end">-2</text>
<line x1="73.2" y1="908.9" x2="79" y2="908.9" stroke="#000" stroke-width="1.6"/>
<line x1="73.2" y1="888.9" x2="79" y2="888.9" stroke="#000" stroke-width="1.6"/>
<line x1="73.2" y1="874.71" x2="79" y2="874.71" stroke="#000" stroke-width="1.6"/>
<line x1="73.2" y1="863.7" x2="79" y2="863.7" stroke="#000" stroke-width="1.6"/>
<line x1="73.2" y1="854.7" x2="79" y2="854.7" stroke="#000" stroke-width="1.6"/>
<line x1="73.2" y1="847.1" x2="79" y2="847.1" stroke="#000" stroke-width="1.6"/>
<line x1="73.2" y1="840.51" x2="79" y2="840.51" stroke="#000" stroke-width="1.6"/>
<line x1="73.2" y1="834.7" x2="79" y2="834.7" stroke="#000" stroke-width="1.6"/>
<line x1="73.2" y1="1022.43" x2="79" y2="1022.43" stroke="#000" stroke-width="1.6"/>
<line x1="73.2" y1="1002.45" x2="79" y2="1002.45" stroke="#000" stroke-width="1.6"/>
<line x1="73.2" y1="988.27" x2="79" y2="988.27" stroke="#000" stroke-width="1.6"/>
<line x1="73.2" y1="977.27" x2="79" y2="977.27" stroke="#000" stroke-width="1.6"/>
<line x1="73.2" y1="968.28" x2="79" y2="968.28" stroke="#000" stroke-width="1.6"/>
<line x1="73.2" y1="960.68" x2="79" y2="960.68" stroke="#000" stroke-width="1.6"/>
<line x1="73.2" y1="954.1" x2="79" y2="954.1" stroke="#000" stroke-width="1.6"/>
<line x1="73.2" y1="948.29" x2="79" y2="948.29" stroke="#000" stroke-width="1.6"/>
<text transform="translate(13.2 942.6) rotate(-90)" font-size="16" text-anchor="middle">% of gated cells</text>
<polyline points="111.4,839 111.4,826.8 154,826.8 154,833.6" fill="none" stroke="#000" stroke-width="1.5"/>
<polyline points="154,827.2 154,820 196.4,820 196.4,826.4" fill="none" stroke="#000" stroke-width="1.5"/>
<polyline points="234.4,828 234.4,815.6 316.2,815.6 316.2,828" fill="none" stroke="#000" stroke-width="1.5"/>
<polyline points="276.6,815.6 276.6,820" fill="none" stroke="#000" stroke-width="1.5"/>
<text x="132.4" y="831.4" font-size="19" text-anchor="middle">*</text>
<text x="174.6" y="824.4" font-size="19" text-anchor="middle">*</text>
<text x="256.3" y="820.4" font-size="19" text-anchor="middle" letter-spacing="2.6">**</text>
<text x="295.6" y="820.4" font-size="19" text-anchor="middle">*</text>
<g class="d"><circle cx="112.2" cy="844" r="2.75"/><circle cx="112.6" cy="857.4" r="2.75"/><circle cx="112.5" cy="866" r="2.75"/><circle cx="111.1" cy="876.2" r="2.75"/><circle cx="114.5" cy="876.8" r="2.75"/><circle cx="115.4" cy="883" r="2.75"/><circle cx="109.4" cy="885.7" r="2.75"/><circle cx="112.4" cy="887.6" r="2.75"/><circle cx="107.9" cy="888.8" r="2.75"/><circle cx="116.7" cy="889.4" r="2.75"/><circle cx="111" cy="890.3" r="2.75"/><circle cx="114.1" cy="891.5" r="2.75"/><circle cx="108.3" cy="894.1" r="2.75"/><circle cx="117" cy="895.2" r="2.75"/><circle cx="114.1" cy="895.9" r="2.75"/><circle cx="105.2" cy="897" r="2.75"/><circle cx="120" cy="897.3" r="2.75"/><circle cx="111.1" cy="898.3" r="2.75"/><circle cx="108.4" cy="899.5" r="2.75"/><circle cx="111.3" cy="900.3" r="2.75"/><circle cx="117.3" cy="901" r="2.75"/><circle cx="120" cy="902.1" r="2.75"/><circle cx="113.8" cy="902.5" r="2.75"/><circle cx="105" cy="903.6" r="2.75"/><circle cx="108.4" cy="905.5" r="2.75"/><circle cx="111.2" cy="906.5" r="2.75"/><circle cx="114.1" cy="908.6" r="2.75"/><circle cx="116.9" cy="909.7" r="2.75"/><circle cx="117.4" cy="911.4" r="2.75"/><circle cx="107.9" cy="912.9" r="2.75"/><circle cx="114" cy="913.9" r="2.75"/><circle cx="110.9" cy="915.6" r="2.75"/><circle cx="112.4" cy="923" r="2.75"/><circle cx="115.7" cy="932.8" r="2.75"/><circle cx="109.5" cy="933.2" r="2.75"/><circle cx="112.8" cy="933.6" r="2.75"/><circle cx="112.6" cy="945" r="2.75"/><circle cx="112.3" cy="1012.4" r="2.75"/><circle cx="98.5" cy="1056.6" r="2.75"/><circle cx="123.2" cy="1056.6" r="2.75"/><circle cx="119.7" cy="1056.6" r="2.75"/><circle cx="102.5" cy="1056.6" r="2.75"/><circle cx="112.6" cy="1056.6" r="2.75"/><circle cx="109.4" cy="1056.6" r="2.75"/><circle cx="126.6" cy="1056.6" r="2.75"/><circle cx="116.6" cy="1056.6" r="2.75"/><circle cx="105.7" cy="1056.6" r="2.75"/><circle cx="156.7" cy="868" r="2.75"/><circle cx="153" cy="872.2" r="2.75"/><circle cx="149.3" cy="872.8" r="2.75"/><circle cx="155" cy="878.8" r="2.75"/><circle cx="150.6" cy="879.4" r="2.75"/><circle cx="146.7" cy="881.6" r="2.75"/><circle cx="163.1" cy="882.6" r="2.75"/><circle cx="142.8" cy="883" r="2.75"/><circle cx="159" cy="883.7" r="2.75"/><circle cx="165.2" cy="883.8" r="2.75"/><circle cx="141.3" cy="884.6" r="2.75"/><circle cx="160.7" cy="885.2" r="2.75"/><circle cx="153.2" cy="885.6" r="2.75"/><circle cx="149" cy="886" r="2.75"/><circle cx="168.7" cy="886.6" r="2.75"/><circle cx="144.6" cy="887.1" r="2.75"/><circle cx="137" cy="888" r="2.75"/><circle cx="156.7" cy="888.2" r="2.75"/><circle cx="156.9" cy="889.1" r="2.75"/><circle cx="141.1" cy="889.4" r="2.75"/><circle cx="164.6" cy="890" r="2.75"/><circle cx="137" cy="890.6" r="2.75"/><circle cx="144.9" cy="891.1" r="2.75"/><circle cx="152.9" cy="891.7" r="2.75"/><circle cx="161.3" cy="892.2" r="2.75"/><circle cx="137.3" cy="892.6" r="2.75"/><circle cx="169.3" cy="893.4" r="2.75"/><circle cx="148.7" cy="893.7" r="2.75"/><circle cx="151" cy="894.4" r="2.75"/><circle cx="143.2" cy="895" r="2.75"/><circle cx="147" cy="895.6" r="2.75"/><circle cx="138.7" cy="895.9" r="2.75"/><circle cx="162.9" cy="896.6" r="2.75"/><circle cx="155" cy="897.3" r="2.75"/><circle cx="166.9" cy="897.6" r="2.75"/><circle cx="159" cy="898" r="2.75"/><circle cx="147.4" cy="900" r="2.75"/><circle cx="167.3" cy="901" r="2.75"/><circle cx="158.6" cy="901.2" r="2.75"/><circle cx="151" cy="901.8" r="2.75"/><circle cx="138.6" cy="902.8" r="2.75"/><circle cx="154.8" cy="903.7" r="2.75"/><circle cx="142.9" cy="904.5" r="2.75"/><circle cx="162.8" cy="904.9" r="2.75"/><circle cx="153.1" cy="906" r="2.75"/><circle cx="160.9" cy="906.3" r="2.75"/><circle cx="164.9" cy="907.3" r="2.75"/><circle cx="149.3" cy="907.6" r="2.75"/><circle cx="156.6" cy="908.3" r="2.75"/><circle cx="144.6" cy="909.1" r="2.75"/><circle cx="140.9" cy="909.8" r="2.75"/><circle cx="151.4" cy="912.7" r="2.75"/><circle cx="158.7" cy="914.2" r="2.75"/><circle cx="146.7" cy="915.1" r="2.75"/><circle cx="155.1" cy="917.5" r="2.75"/><circle cx="155.2" cy="918.1" r="2.75"/><circle cx="151.3" cy="919.3" r="2.75"/><circle cx="151" cy="927.8" r="2.75"/><circle cx="154.6" cy="928.2" r="2.75"/><circle cx="155.4" cy="937.8" r="2.75"/><circle cx="151.1" cy="938.2" r="2.75"/><circle cx="153.4" cy="981.6" r="2.75"/><circle cx="146.9" cy="1056.6" r="2.75"/><circle cx="150.9" cy="1056.6" r="2.75"/><circle cx="158.6" cy="1056.6" r="2.75"/><circle cx="154.8" cy="1056.6" r="2.75"/><circle cx="143.2" cy="1056.6" r="2.75"/><circle cx="162.6" cy="1056.6" r="2.75"/><circle cx="193" cy="832.8" r="2.75"/><circle cx="190.2" cy="833.6" r="2.75"/><circle cx="196.6" cy="836.4" r="2.75"/><circle cx="196" cy="846" r="2.75"/><circle cx="190.3" cy="849.8" r="2.75"/><circle cx="193" cy="850.4" r="2.75"/><circle cx="194.6" cy="859.2" r="2.75"/><circle cx="192.2" cy="859.8" r="2.75"/><circle cx="185.9" cy="870.7" r="2.75"/><circle cx="197.9" cy="871.7" r="2.75"/><circle cx="191.5" cy="872.4" r="2.75"/><circle cx="189.3" cy="872.6" r="2.75"/><circle cx="200.2" cy="873.2" r="2.75"/><circle cx="194.5" cy="874.2" r="2.75"/><circle cx="191.6" cy="877.2" r="2.75"/><circle cx="189.3" cy="878.7" r="2.75"/><circle cx="194.4" cy="879.2" r="2.75"/><circle cx="197.5" cy="880.1" r="2.75"/><circle cx="186.2" cy="880.8" r="2.75"/><circle cx="200.2" cy="882" r="2.75"/><circle cx="197.7" cy="882.6" r="2.75"/><circle cx="195" cy="883.4" r="2.75"/><circle cx="200.2" cy="884.7" r="2.75"/><circle cx="189" cy="884.9" r="2.75"/><circle cx="192.1" cy="886.3" r="2.75"/><circle cx="186.4" cy="886.6" r="2.75"/><circle cx="198.9" cy="887.9" r="2.75"/><circle cx="187.9" cy="888.6" r="2.75"/><circle cx="190.8" cy="889.9" r="2.75"/><circle cx="196.6" cy="891.7" r="2.75"/><circle cx="193.2" cy="892.5" r="2.75"/><circle cx="206.3" cy="893" r="2.75"/><circle cx="191.8" cy="893.8" r="2.75"/><circle cx="195" cy="894.4" r="2.75"/><circle cx="185.8" cy="894.8" r="2.75"/><circle cx="197.6" cy="895.1" r="2.75"/><circle cx="188.8" cy="895.7" r="2.75"/><circle cx="200.8" cy="896.3" r="2.75"/><circle cx="203.8" cy="896.9" r="2.75"/><circle cx="180.3" cy="897.4" r="2.75"/><circle cx="182.8" cy="898" r="2.75"/><circle cx="191.8" cy="902.8" r="2.75"/><circle cx="186.1" cy="903.7" r="2.75"/><circle cx="197.7" cy="904.4" r="2.75"/><circle cx="194.8" cy="906.1" r="2.75"/><circle cx="200.5" cy="906.4" r="2.75"/><circle cx="189.3" cy="907.7" r="2.75"/><circle cx="199.5" cy="908.4" r="2.75"/><circle cx="193" cy="910.1" r="2.75"/><circle cx="190.6" cy="911.1" r="2.75"/><circle cx="187.7" cy="911.6" r="2.75"/><circle cx="196.4" cy="913.1" r="2.75"/><circle cx="195.1" cy="914.2" r="2.75"/><circle cx="192.2" cy="917" r="2.75"/><circle cx="194.5" cy="923.6" r="2.75"/><circle cx="197.9" cy="924" r="2.75"/><circle cx="191.6" cy="924.4" r="2.75"/><circle cx="188.7" cy="927" r="2.75"/><circle cx="194.4" cy="935" r="2.75"/><circle cx="192" cy="938" r="2.75"/><circle cx="193" cy="942.6" r="2.75"/><circle cx="193.3" cy="987" r="2.75"/><circle cx="183" cy="1056.6" r="2.75"/><circle cx="207.8" cy="1056.6" r="2.75"/><circle cx="186" cy="1056.6" r="2.75"/><circle cx="179.4" cy="1056.6" r="2.75"/><circle cx="200.7" cy="1056.6" r="2.75"/><circle cx="197" cy="1056.6" r="2.75"/><circle cx="203.9" cy="1056.6" r="2.75"/><circle cx="189.9" cy="1056.6" r="2.75"/><circle cx="193.1" cy="1056.6" r="2.75"/><circle cx="232.3" cy="832" r="2.75"/><circle cx="235" cy="835.6" r="2.75"/><circle cx="233.5" cy="849.6" r="2.75"/><circle cx="236.6" cy="860.4" r="2.75"/><circle cx="233.7" cy="862.5" r="2.75"/><circle cx="230.7" cy="864.1" r="2.75"/><circle cx="237.6" cy="865.9" r="2.75"/><circle cx="229.1" cy="868" r="2.75"/><circle cx="232.2" cy="868.5" r="2.75"/><circle cx="234.9" cy="870.8" r="2.75"/><circle cx="236.8" cy="872.2" r="2.75"/><circle cx="231" cy="873.6" r="2.75"/><circle cx="234.1" cy="876.6" r="2.75"/><circle cx="232.5" cy="877.8" r="2.75"/><circle cx="229.5" cy="878.2" r="2.75"/><circle cx="241.2" cy="879.8" r="2.75"/><circle cx="235.4" cy="880.4" r="2.75"/><circle cx="238.4" cy="881.8" r="2.75"/><circle cx="226.3" cy="882.8" r="2.75"/><circle cx="241" cy="883.2" r="2.75"/><circle cx="229.6" cy="884.8" r="2.75"/><circle cx="231.9" cy="885.9" r="2.75"/><circle cx="226.8" cy="886.3" r="2.75"/><circle cx="238.3" cy="887.1" r="2.75"/><circle cx="234.9" cy="888.2" r="2.75"/><circle cx="230.6" cy="889.9" r="2.75"/><circle cx="236.5" cy="890.1" r="2.75"/><circle cx="233.4" cy="892.4" r="2.75"/><circle cx="227.7" cy="892.8" r="2.75"/><circle cx="239.7" cy="894.8" r="2.75"/><circle cx="234.8" cy="895.4" r="2.75"/><circle cx="232.5" cy="896.8" r="2.75"/><circle cx="229.2" cy="898.7" r="2.75"/><circle cx="238.1" cy="899.3" r="2.75"/><circle cx="233.9" cy="904" r="2.75"/><circle cx="233.7" cy="909.6" r="2.75"/><circle cx="233.5" cy="922" r="2.75"/><circle cx="236.8" cy="927.4" r="2.75"/><circle cx="230.5" cy="927.8" r="2.75"/><circle cx="233.5" cy="932.4" r="2.75"/><circle cx="247.6" cy="1056.6" r="2.75"/><circle cx="236.9" cy="1056.6" r="2.75"/><circle cx="230.3" cy="1056.6" r="2.75"/><circle cx="222.9" cy="1056.6" r="2.75"/><circle cx="226.3" cy="1056.6" r="2.75"/><circle cx="241.2" cy="1056.6" r="2.75"/><circle cx="233.5" cy="1056.6" r="2.75"/><circle cx="244.5" cy="1056.6" r="2.75"/><circle cx="219.9" cy="1056.6" r="2.75"/><circle cx="273.6" cy="834" r="2.75"/><circle cx="273.8" cy="847" r="2.75"/><circle cx="271.9" cy="856.4" r="2.75"/><circle cx="275.8" cy="861.1" r="2.75"/><circle cx="274.2" cy="863" r="2.75"/><circle cx="278" cy="864.1" r="2.75"/><circle cx="266" cy="865.6" r="2.75"/><circle cx="270.1" cy="867" r="2.75"/><circle cx="282.3" cy="867.2" r="2.75"/><circle cx="270.3" cy="870.2" r="2.75"/><circle cx="265.7" cy="871.1" r="2.75"/><circle cx="258.4" cy="871.6" r="2.75"/><circle cx="262" cy="871.9" r="2.75"/><circle cx="278" cy="872.7" r="2.75"/><circle cx="286.4" cy="873.2" r="2.75"/><circle cx="281.7" cy="873.9" r="2.75"/><circle cx="289.9" cy="874.3" r="2.75"/><circle cx="274" cy="874.8" r="2.75"/><circle cx="266.2" cy="876" r="2.75"/><circle cx="277.7" cy="876.2" r="2.75"/><circle cx="274.3" cy="877.1" r="2.75"/><circle cx="270" cy="877.3" r="2.75"/><circle cx="289.6" cy="878.1" r="2.75"/><circle cx="282.3" cy="878.5" r="2.75"/><circle cx="258.3" cy="879.3" r="2.75"/><circle cx="262.4" cy="879.7" r="2.75"/><circle cx="257.7" cy="880.6" r="2.75"/><circle cx="285.8" cy="880.9" r="2.75"/><circle cx="278.3" cy="881.8" r="2.75"/><circle cx="266.3" cy="882.3" r="2.75"/><circle cx="282" cy="882.7" r="2.75"/><circle cx="270.1" cy="883.4" r="2.75"/><circle cx="274.3" cy="884.1" r="2.75"/><circle cx="280.3" cy="887.2" r="2.75"/><circle cx="268.3" cy="887.9" r="2.75"/><circle cx="272.1" cy="889.1" r="2.75"/><circle cx="275.9" cy="891.4" r="2.75"/><circle cx="273.8" cy="892.6" r="2.75"/><circle cx="265.9" cy="893.8" r="2.75"/><circle cx="282.4" cy="894.6" r="2.75"/><circle cx="277.9" cy="895.9" r="2.75"/><circle cx="269.9" cy="897.3" r="2.75"/><circle cx="267.9" cy="898.5" r="2.75"/><circle cx="276" cy="899.8" r="2.75"/><circle cx="280.2" cy="901.7" r="2.75"/><circle cx="271.7" cy="902.9" r="2.75"/><circle cx="274.3" cy="905.2" r="2.75"/><circle cx="277.7" cy="906.9" r="2.75"/><circle cx="270.2" cy="908.3" r="2.75"/><circle cx="276.3" cy="911.6" r="2.75"/><circle cx="272" cy="913.7" r="2.75"/><circle cx="274.4" cy="918.4" r="2.75"/><circle cx="274.2" cy="928" r="2.75"/><circle cx="281.7" cy="1056.6" r="2.75"/><circle cx="278.2" cy="1056.6" r="2.75"/><circle cx="273.6" cy="1056.6" r="2.75"/><circle cx="270.3" cy="1056.6" r="2.75"/><circle cx="265.9" cy="1056.6" r="2.75"/><circle cx="315.6" cy="836.4" r="2.75"/><circle cx="313.2" cy="837" r="2.75"/><circle cx="314.2" cy="844" r="2.75"/><circle cx="314.5" cy="864.1" r="2.75"/><circle cx="311.6" cy="865.1" r="2.75"/><circle cx="308.7" cy="866.2" r="2.75"/><circle cx="317.3" cy="867.4" r="2.75"/><circle cx="320.2" cy="868.2" r="2.75"/><circle cx="317.6" cy="870.8" r="2.75"/><circle cx="309" cy="871.7" r="2.75"/><circle cx="311.7" cy="872.7" r="2.75"/><circle cx="320.1" cy="874" r="2.75"/><circle cx="314.3" cy="875.8" r="2.75"/><circle cx="309.6" cy="876.3" r="2.75"/><circle cx="312.8" cy="877.5" r="2.75"/><circle cx="318.8" cy="878.7" r="2.75"/><circle cx="316.2" cy="879.6" r="2.75"/><circle cx="311.8" cy="881.7" r="2.75"/><circle cx="317.2" cy="881.8" r="2.75"/><circle cx="314.1" cy="883.6" r="2.75"/><circle cx="308.2" cy="885.1" r="2.75"/><circle cx="320" cy="885.6" r="2.75"/><circle cx="318.9" cy="892.3" r="2.75"/><circle cx="312.7" cy="893.3" r="2.75"/><circle cx="310.1" cy="894.3" r="2.75"/><circle cx="315.7" cy="895.5" r="2.75"/><circle cx="314.3" cy="902.4" r="2.75"/><circle cx="314.4" cy="910.4" r="2.75"/><circle cx="314.6" cy="920.4" r="2.75"/><circle cx="314.7" cy="967" r="2.75"/><circle cx="328.3" cy="1056.6" r="2.75"/><circle cx="318.1" cy="1056.6" r="2.75"/><circle cx="310.7" cy="1056.6" r="2.75"/><circle cx="325.2" cy="1056.6" r="2.75"/><circle cx="304.1" cy="1056.6" r="2.75"/><circle cx="321.2" cy="1056.6" r="2.75"/><circle cx="306.9" cy="1056.6" r="2.75"/><circle cx="314.4" cy="1056.6" r="2.75"/><circle cx="300.2" cy="1056.6" r="2.75"/></g>
</g>
<g class="p">
<text x="551.4" y="789.7" font-size="19.2" text-anchor="middle">CMCD8</text>
<rect x="433.34" y="929.6" width="32.69" height="127" fill="#000080" stroke="#000" stroke-width="1.4"/>
<rect x="473.77" y="926.6" width="32.69" height="130" fill="#000080" stroke="#000" stroke-width="1.4"/>
<rect x="514.19" y="928.4" width="32.69" height="128.2" fill="#000080" stroke="#000" stroke-width="1.4"/>
<rect x="554.62" y="925.6" width="32.69" height="131" fill="#000080" stroke="#000" stroke-width="1.4"/>
<rect x="595.04" y="905" width="32.69" height="151.6" fill="#000080" stroke="#000" stroke-width="1.4"/>
<rect x="635.47" y="919.6" width="32.69" height="137" fill="#000080" stroke="#000" stroke-width="1.4"/>
<rect x="416" y="802.1" width="269.5" height="254.5" fill="none" stroke="#000" stroke-width="1.5"/>
<line x1="404.7" y1="829.5" x2="416" y2="829.5" stroke="#000" stroke-width="1.6"/>
<text x="393.9" y="835.5" font-size="18" text-anchor="end">10</text>
<text transform="translate(402.6 831) scale(1.14 1)" font-size="11.5" text-anchor="end">2</text>
<line x1="404.7" y1="943.1" x2="416" y2="943.1" stroke="#000" stroke-width="1.6"/>
<text x="393.9" y="949.1" font-size="18" text-anchor="end">10</text>
<text transform="translate(402.6 944.6) scale(1.14 1)" font-size="11.5" text-anchor="end">0</text>
<line x1="404.7" y1="1056.6" x2="416" y2="1056.6" stroke="#000" stroke-width="1.6"/>
<text x="389.5" y="1062.6" font-size="18" text-anchor="end">10</text>
<text transform="translate(402.6 1058.1) scale(1.14 1)" font-size="11.5" text-anchor="end">-2</text>
<line x1="410.2" y1="908.9" x2="416" y2="908.9" stroke="#000" stroke-width="1.6"/>
<line x1="410.2" y1="888.9" x2="416" y2="888.9" stroke="#000" stroke-width="1.6"/>
<line x1="410.2" y1="874.71" x2="416" y2="874.71" stroke="#000" stroke-width="1.6"/>
<line x1="410.2" y1="863.7" x2="416" y2="863.7" stroke="#000" stroke-width="1.6"/>
<line x1="410.2" y1="854.7" x2="416" y2="854.7" stroke="#000" stroke-width="1.6"/>
<line x1="410.2" y1="847.1" x2="416" y2="847.1" stroke="#000" stroke-width="1.6"/>
<line x1="410.2" y1="840.51" x2="416" y2="840.51" stroke="#000" stroke-width="1.6"/>
<line x1="410.2" y1="834.7" x2="416" y2="834.7" stroke="#000" stroke-width="1.6"/>
<line x1="410.2" y1="1022.43" x2="416" y2="1022.43" stroke="#000" stroke-width="1.6"/>
<line x1="410.2" y1="1002.45" x2="416" y2="1002.45" stroke="#000" stroke-width="1.6"/>
<line x1="410.2" y1="988.27" x2="416" y2="988.27" stroke="#000" stroke-width="1.6"/>
<line x1="410.2" y1="977.27" x2="416" y2="977.27" stroke="#000" stroke-width="1.6"/>
<line x1="410.2" y1="968.28" x2="416" y2="968.28" stroke="#000" stroke-width="1.6"/>
<line x1="410.2" y1="960.68" x2="416" y2="960.68" stroke="#000" stroke-width="1.6"/>
<line x1="410.2" y1="954.1" x2="416" y2="954.1" stroke="#000" stroke-width="1.6"/>
<line x1="410.2" y1="948.29" x2="416" y2="948.29" stroke="#000" stroke-width="1.6"/>
<polyline points="571.4,827 571.4,815 653.4,815 653.4,826" fill="none" stroke="#000" stroke-width="1.5"/>
<polyline points="614,815 614,820.6" fill="none" stroke="#000" stroke-width="1.5"/>
<text x="593.9" y="820" font-size="19" text-anchor="middle" letter-spacing="2.6">***</text>
<text x="633.6" y="819.6" font-size="19" text-anchor="middle">*</text>
<g class="d"><circle cx="448.4" cy="845.2" r="2.75"/><circle cx="451.1" cy="846.2" r="2.75"/><circle cx="452.9" cy="861.4" r="2.75"/><circle cx="449.5" cy="863.8" r="2.75"/><circle cx="447" cy="864.4" r="2.75"/><circle cx="450.1" cy="876.6" r="2.75"/><circle cx="446.4" cy="884.6" r="2.75"/><circle cx="450" cy="888.8" r="2.75"/><circle cx="452.3" cy="889.4" r="2.75"/><circle cx="451.4" cy="899.8" r="2.75"/><circle cx="448.3" cy="900.2" r="2.75"/><circle cx="448.1" cy="905" r="2.75"/><circle cx="451.5" cy="910" r="2.75"/><circle cx="447" cy="915.9" r="2.75"/><circle cx="449.8" cy="918.9" r="2.75"/><circle cx="452.8" cy="920.7" r="2.75"/><circle cx="454" cy="922.8" r="2.75"/><circle cx="448.5" cy="923.2" r="2.75"/><circle cx="451.5" cy="926.1" r="2.75"/><circle cx="445.7" cy="927.3" r="2.75"/><circle cx="448.1" cy="929.7" r="2.75"/><circle cx="451.3" cy="932" r="2.75"/><circle cx="448.1" cy="937.8" r="2.75"/><circle cx="450.8" cy="938.2" r="2.75"/><circle cx="448.3" cy="944.8" r="2.75"/><circle cx="451.2" cy="945.2" r="2.75"/><circle cx="449.6" cy="951" r="2.75"/><circle cx="447.9" cy="957" r="2.75"/><circle cx="450.8" cy="962" r="2.75"/><circle cx="450" cy="981.6" r="2.75"/><circle cx="449.7" cy="993.6" r="2.75"/><circle cx="449.7" cy="1012.4" r="2.75"/><circle cx="449.4" cy="1039.6" r="2.75"/><circle cx="449.9" cy="1056.6" r="2.75"/><circle cx="460.6" cy="1056.6" r="2.75"/><circle cx="445.8" cy="1056.6" r="2.75"/><circle cx="442.9" cy="1056.6" r="2.75"/><circle cx="439.2" cy="1056.6" r="2.75"/><circle cx="453.7" cy="1056.6" r="2.75"/><circle cx="463.3" cy="1056.6" r="2.75"/><circle cx="435.8" cy="1056.6" r="2.75"/><circle cx="457.2" cy="1056.6" r="2.75"/><circle cx="490.4" cy="859.4" r="2.75"/><circle cx="491.7" cy="865.4" r="2.75"/><circle cx="489" cy="866" r="2.75"/><circle cx="490" cy="877.4" r="2.75"/><circle cx="487.1" cy="889" r="2.75"/><circle cx="492.7" cy="891.6" r="2.75"/><circle cx="490.1" cy="894" r="2.75"/><circle cx="488.3" cy="899.6" r="2.75"/><circle cx="491.9" cy="904" r="2.75"/><circle cx="481.7" cy="904.6" r="2.75"/><circle cx="495.7" cy="905.9" r="2.75"/><circle cx="499" cy="906" r="2.75"/><circle cx="487.5" cy="907.2" r="2.75"/><circle cx="484.2" cy="908.1" r="2.75"/><circle cx="492.7" cy="908.6" r="2.75"/><circle cx="489.7" cy="909.4" r="2.75"/><circle cx="494.5" cy="910.5" r="2.75"/><circle cx="491.6" cy="910.7" r="2.75"/><circle cx="488.5" cy="911.8" r="2.75"/><circle cx="482.9" cy="912.6" r="2.75"/><circle cx="497.5" cy="913.2" r="2.75"/><circle cx="486" cy="914.2" r="2.75"/><circle cx="490.3" cy="916.5" r="2.75"/><circle cx="492.7" cy="917.9" r="2.75"/><circle cx="487.2" cy="919.2" r="2.75"/><circle cx="484.5" cy="920.5" r="2.75"/><circle cx="495.7" cy="921.4" r="2.75"/><circle cx="490" cy="923" r="2.75"/><circle cx="496.1" cy="924.1" r="2.75"/><circle cx="484.4" cy="925" r="2.75"/><circle cx="493.3" cy="926.7" r="2.75"/><circle cx="487.1" cy="927.5" r="2.75"/><circle cx="497.1" cy="932.9" r="2.75"/><circle cx="485.5" cy="933.6" r="2.75"/><circle cx="483.2" cy="934.9" r="2.75"/><circle cx="494.7" cy="935.8" r="2.75"/><circle cx="491.7" cy="936.8" r="2.75"/><circle cx="489" cy="937.6" r="2.75"/><circle cx="485.8" cy="942.2" r="2.75"/><circle cx="491.5" cy="944.3" r="2.75"/><circle cx="488.6" cy="945" r="2.75"/><circle cx="494.7" cy="946.2" r="2.75"/><circle cx="492.7" cy="947.4" r="2.75"/><circle cx="487.3" cy="948.9" r="2.75"/><circle cx="490.2" cy="949.5" r="2.75"/><circle cx="488.3" cy="957" r="2.75"/><circle cx="491.5" cy="961" r="2.75"/><circle cx="490.4" cy="985.4" r="2.75"/><circle cx="483.5" cy="1056.6" r="2.75"/><circle cx="493.9" cy="1056.6" r="2.75"/><circle cx="490.4" cy="1056.6" r="2.75"/><circle cx="486.8" cy="1056.6" r="2.75"/><circle cx="476.3" cy="1056.6" r="2.75"/><circle cx="504.1" cy="1056.6" r="2.75"/><circle cx="497.1" cy="1056.6" r="2.75"/><circle cx="501" cy="1056.6" r="2.75"/><circle cx="479.5" cy="1056.6" r="2.75"/><circle cx="530.5" cy="834.6" r="2.75"/><circle cx="530.9" cy="840.4" r="2.75"/><circle cx="530.3" cy="867.4" r="2.75"/><circle cx="531.9" cy="873" r="2.75"/><circle cx="529" cy="877.8" r="2.75"/><circle cx="532.1" cy="878.4" r="2.75"/><circle cx="529.3" cy="882" r="2.75"/><circle cx="530.2" cy="889" r="2.75"/><circle cx="533.8" cy="892.8" r="2.75"/><circle cx="527.4" cy="893.4" r="2.75"/><circle cx="532.2" cy="900" r="2.75"/><circle cx="529.1" cy="904.8" r="2.75"/><circle cx="531.9" cy="905.2" r="2.75"/><circle cx="528.9" cy="905.6" r="2.75"/><circle cx="530.3" cy="911" r="2.75"/><circle cx="533.8" cy="916.1" r="2.75"/><circle cx="524.6" cy="916.7" r="2.75"/><circle cx="530.9" cy="917" r="2.75"/><circle cx="527.4" cy="917.5" r="2.75"/><circle cx="536.1" cy="917.9" r="2.75"/><circle cx="530.2" cy="922" r="2.75"/><circle cx="530.3" cy="927.9" r="2.75"/><circle cx="536.7" cy="928.3" r="2.75"/><circle cx="525" cy="928.4" r="2.75"/><circle cx="533.2" cy="929" r="2.75"/><circle cx="527.9" cy="932" r="2.75"/><circle cx="532" cy="938" r="2.75"/><circle cx="529.4" cy="940" r="2.75"/><circle cx="532" cy="945" r="2.75"/><circle cx="529.3" cy="949.8" r="2.75"/><circle cx="532.4" cy="950.2" r="2.75"/><circle cx="528.8" cy="950.6" r="2.75"/><circle cx="530.5" cy="955.6" r="2.75"/><circle cx="531.8" cy="962" r="2.75"/><circle cx="529.2" cy="964.4" r="2.75"/><circle cx="532.1" cy="1022.2" r="2.75"/><circle cx="528.7" cy="1022.6" r="2.75"/><circle cx="530.8" cy="1039.6" r="2.75"/><circle cx="519.9" cy="1056.6" r="2.75"/><circle cx="516.1" cy="1056.6" r="2.75"/><circle cx="540.8" cy="1056.6" r="2.75"/><circle cx="537.4" cy="1056.6" r="2.75"/><circle cx="534.2" cy="1056.6" r="2.75"/><circle cx="544.9" cy="1056.6" r="2.75"/><circle cx="526.9" cy="1056.6" r="2.75"/><circle cx="531" cy="1056.6" r="2.75"/><circle cx="523.9" cy="1056.6" r="2.75"/><circle cx="569.2" cy="831.6" r="2.75"/><circle cx="572.5" cy="836.6" r="2.75"/><circle cx="571.2" cy="856.4" r="2.75"/><circle cx="571.4" cy="862.6" r="2.75"/><circle cx="567.7" cy="876.8" r="2.75"/><circle cx="574" cy="877.4" r="2.75"/><circle cx="570.9" cy="880" r="2.75"/><circle cx="570.6" cy="887.6" r="2.75"/><circle cx="575.4" cy="893.8" r="2.75"/><circle cx="567" cy="894.2" r="2.75"/><circle cx="572.2" cy="894.6" r="2.75"/><circle cx="569.7" cy="898" r="2.75"/><circle cx="571" cy="904.4" r="2.75"/><circle cx="572.1" cy="910.8" r="2.75"/><circle cx="569.8" cy="911.2" r="2.75"/><circle cx="571.1" cy="917" r="2.75"/><circle cx="568.2" cy="921.8" r="2.75"/><circle cx="574.2" cy="922" r="2.75"/><circle cx="570.8" cy="922.2" r="2.75"/><circle cx="574.2" cy="922.4" r="2.75"/><circle cx="567.9" cy="926" r="2.75"/><circle cx="571" cy="931.6" r="2.75"/><circle cx="569.7" cy="938.8" r="2.75"/><circle cx="566.3" cy="939.2" r="2.75"/><circle cx="575.3" cy="939.6" r="2.75"/><circle cx="572.7" cy="943.8" r="2.75"/><circle cx="571.3" cy="944.2" r="2.75"/><circle cx="570.9" cy="965.4" r="2.75"/><circle cx="572.5" cy="981.6" r="2.75"/><circle cx="569.9" cy="984" r="2.75"/><circle cx="571.2" cy="987.4" r="2.75"/><circle cx="556.4" cy="1056.6" r="2.75"/><circle cx="559.9" cy="1056.6" r="2.75"/><circle cx="581.9" cy="1056.6" r="2.75"/><circle cx="570.6" cy="1056.6" r="2.75"/><circle cx="567.5" cy="1056.6" r="2.75"/><circle cx="577.9" cy="1056.6" r="2.75"/><circle cx="563.9" cy="1056.6" r="2.75"/><circle cx="584.8" cy="1056.6" r="2.75"/><circle cx="574.6" cy="1056.6" r="2.75"/><circle cx="611" cy="831.4" r="2.75"/><circle cx="611.2" cy="846.6" r="2.75"/><circle cx="618" cy="862.4" r="2.75"/><circle cx="613.9" cy="862.9" r="2.75"/><circle cx="605.1" cy="863.1" r="2.75"/><circle cx="609" cy="863.6" r="2.75"/><circle cx="609.3" cy="871.8" r="2.75"/><circle cx="613.5" cy="872.4" r="2.75"/><circle cx="606.7" cy="877.1" r="2.75"/><circle cx="611.5" cy="878.6" r="2.75"/><circle cx="615.5" cy="880.7" r="2.75"/><circle cx="609.2" cy="883.1" r="2.75"/><circle cx="613.2" cy="884.4" r="2.75"/><circle cx="604.5" cy="886" r="2.75"/><circle cx="618.1" cy="887.2" r="2.75"/><circle cx="615.7" cy="889.4" r="2.75"/><circle cx="606.8" cy="892.9" r="2.75"/><circle cx="611.4" cy="893.7" r="2.75"/><circle cx="620" cy="894.5" r="2.75"/><circle cx="615.7" cy="895.5" r="2.75"/><circle cx="611.3" cy="896.8" r="2.75"/><circle cx="602.5" cy="897.7" r="2.75"/><circle cx="607" cy="898.2" r="2.75"/><circle cx="596.2" cy="899.7" r="2.75"/><circle cx="609" cy="900.4" r="2.75"/><circle cx="604.6" cy="901.5" r="2.75"/><circle cx="617.9" cy="903.3" r="2.75"/><circle cx="626.6" cy="903.5" r="2.75"/><circle cx="622.1" cy="903.8" r="2.75"/><circle cx="600.2" cy="904" r="2.75"/><circle cx="613.2" cy="904.2" r="2.75"/><circle cx="596.1" cy="904.5" r="2.75"/><circle cx="620.1" cy="904.8" r="2.75"/><circle cx="616" cy="905" r="2.75"/><circle cx="611.2" cy="908.1" r="2.75"/><circle cx="607.4" cy="909.1" r="2.75"/><circle cx="602.8" cy="909.5" r="2.75"/><circle cx="609.1" cy="910.1" r="2.75"/><circle cx="617.9" cy="910.7" r="2.75"/><circle cx="622.5" cy="911.7" r="2.75"/><circle cx="600.2" cy="911.9" r="2.75"/><circle cx="596" cy="912.8" r="2.75"/><circle cx="626.6" cy="913.6" r="2.75"/><circle cx="604.4" cy="913.8" r="2.75"/><circle cx="613.5" cy="914.6" r="2.75"/><circle cx="617.7" cy="915.4" r="2.75"/><circle cx="613.9" cy="916" r="2.75"/><circle cx="595.8" cy="916.5" r="2.75"/><circle cx="627.1" cy="916.9" r="2.75"/><circle cx="622.2" cy="917.8" r="2.75"/><circle cx="609.2" cy="918.3" r="2.75"/><circle cx="600.1" cy="919.2" r="2.75"/><circle cx="604.7" cy="919.6" r="2.75"/><circle cx="615.6" cy="922.5" r="2.75"/><circle cx="620.3" cy="923.9" r="2.75"/><circle cx="607.2" cy="925.3" r="2.75"/><circle cx="611.4" cy="926" r="2.75"/><circle cx="602.6" cy="927.2" r="2.75"/><circle cx="606.7" cy="928.5" r="2.75"/><circle cx="611" cy="930.1" r="2.75"/><circle cx="615.6" cy="930.5" r="2.75"/><circle cx="611.6" cy="943" r="2.75"/><circle cx="609.5" cy="950.8" r="2.75"/><circle cx="613.8" cy="951.4" r="2.75"/><circle cx="611.1" cy="961.6" r="2.75"/><circle cx="616.1" cy="1056.6" r="2.75"/><circle cx="611.9" cy="1056.6" r="2.75"/><circle cx="620.7" cy="1056.6" r="2.75"/><circle cx="606.6" cy="1056.6" r="2.75"/><circle cx="602.8" cy="1056.6" r="2.75"/><circle cx="653.4" cy="844.2" r="2.75"/><circle cx="650.2" cy="844.6" r="2.75"/><circle cx="653.4" cy="866.8" r="2.75"/><circle cx="650.2" cy="867.4" r="2.75"/><circle cx="651.5" cy="872" r="2.75"/><circle cx="649.8" cy="878" r="2.75"/><circle cx="653.6" cy="882" r="2.75"/><circle cx="651.8" cy="888" r="2.75"/><circle cx="653.4" cy="894.8" r="2.75"/><circle cx="649.8" cy="895.4" r="2.75"/><circle cx="653.9" cy="900" r="2.75"/><circle cx="650.4" cy="904.8" r="2.75"/><circle cx="650.3" cy="905.4" r="2.75"/><circle cx="653.7" cy="908" r="2.75"/><circle cx="649.9" cy="916" r="2.75"/><circle cx="653.7" cy="920" r="2.75"/><circle cx="650.4" cy="926.2" r="2.75"/><circle cx="653.2" cy="926.8" r="2.75"/><circle cx="650.4" cy="942.8" r="2.75"/><circle cx="653.5" cy="943.4" r="2.75"/><circle cx="651.7" cy="988.6" r="2.75"/><circle cx="645.5" cy="1056.6" r="2.75"/><circle cx="641.8" cy="1056.6" r="2.75"/><circle cx="654.3" cy="1056.6" r="2.75"/><circle cx="649.7" cy="1056.6" r="2.75"/><circle cx="661.7" cy="1056.6" r="2.75"/><circle cx="666.4" cy="1056.6" r="2.75"/><circle cx="637.9" cy="1056.6" r="2.75"/><circle cx="657.7" cy="1056.6" r="2.75"/></g>
</g>
<g class="p">
<text x="873" y="789.7" font-size="19.2" text-anchor="middle">nCMCD19</text>
<rect x="760.88" y="923" width="32.75" height="133.6" fill="#000080" stroke="#000" stroke-width="1.4"/>
<rect x="801.38" y="916.4" width="32.75" height="140.2" fill="#000080" stroke="#000" stroke-width="1.4"/>
<rect x="841.88" y="927.6" width="32.75" height="129" fill="#000080" stroke="#000" stroke-width="1.4"/>
<rect x="882.38" y="920" width="32.75" height="136.6" fill="#000080" stroke="#000" stroke-width="1.4"/>
<rect x="922.88" y="924" width="32.75" height="132.6" fill="#000080" stroke="#000" stroke-width="1.4"/>
<rect x="963.38" y="923.6" width="32.75" height="133" fill="#000080" stroke="#000" stroke-width="1.4"/>
<rect x="743.5" y="802.1" width="270" height="254.5" fill="none" stroke="#000" stroke-width="1.5"/>
<line x1="732.2" y1="829.5" x2="743.5" y2="829.5" stroke="#000" stroke-width="1.6"/>
<text x="721.4" y="835.5" font-size="18" text-anchor="end">10</text>
<text transform="translate(730.1 831) scale(1.14 1)" font-size="11.5" text-anchor="end">2</text>
<line x1="732.2" y1="943.1" x2="743.5" y2="943.1" stroke="#000" stroke-width="1.6"/>
<text x="721.4" y="949.1" font-size="18" text-anchor="end">10</text>
<text transform="translate(730.1 944.6) scale(1.14 1)" font-size="11.5" text-anchor="end">0</text>
<line x1="732.2" y1="1056.6" x2="743.5" y2="1056.6" stroke="#000" stroke-width="1.6"/>
<text x="717" y="1062.6" font-size="18" text-anchor="end">10</text>
<text transform="translate(730.1 1058.1) scale(1.14 1)" font-size="11.5" text-anchor="end">-2</text>
<line x1="737.7" y1="908.9" x2="743.5" y2="908.9" stroke="#000" stroke-width="1.6"/>
<line x1="737.7" y1="888.9" x2="743.5" y2="888.9" stroke="#000" stroke-width="1.6"/>
<line x1="737.7" y1="874.71" x2="743.5" y2="874.71" stroke="#000" stroke-width="1.6"/>
<line x1="737.7" y1="863.7" x2="743.5" y2="863.7" stroke="#000" stroke-width="1.6"/>
<line x1="737.7" y1="854.7" x2="743.5" y2="854.7" stroke="#000" stroke-width="1.6"/>
<line x1="737.7" y1="847.1" x2="743.5" y2="847.1" stroke="#000" stroke-width="1.6"/>
<line x1="737.7" y1="840.51" x2="743.5" y2="840.51" stroke="#000" stroke-width="1.6"/>
<line x1="737.7" y1="834.7" x2="743.5" y2="834.7" stroke="#000" stroke-width="1.6"/>
<line x1="737.7" y1="1022.43" x2="743.5" y2="1022.43" stroke="#000" stroke-width="1.6"/>
<line x1="737.7" y1="1002.45" x2="743.5" y2="1002.45" stroke="#000" stroke-width="1.6"/>
<line x1="737.7" y1="988.27" x2="743.5" y2="988.27" stroke="#000" stroke-width="1.6"/>
<line x1="737.7" y1="977.27" x2="743.5" y2="977.27" stroke="#000" stroke-width="1.6"/>
<line x1="737.7" y1="968.28" x2="743.5" y2="968.28" stroke="#000" stroke-width="1.6"/>
<line x1="737.7" y1="960.68" x2="743.5" y2="960.68" stroke="#000" stroke-width="1.6"/>
<line x1="737.7" y1="954.1" x2="743.5" y2="954.1" stroke="#000" stroke-width="1.6"/>
<line x1="737.7" y1="948.29" x2="743.5" y2="948.29" stroke="#000" stroke-width="1.6"/>
<polyline points="772.6,876 772.6,859.6 857.6,859.6 857.6,876" fill="none" stroke="#000" stroke-width="1.5"/>
<polyline points="815.2,859.6 815.2,866.6" fill="none" stroke="#000" stroke-width="1.5"/>
<text x="793.6" y="864.4" font-size="19" text-anchor="middle">*</text>
<text x="835.6" y="864.4" font-size="19" text-anchor="middle">*</text>
<g class="d"><circle cx="777.2" cy="894.4" r="2.75"/><circle cx="781.7" cy="900" r="2.75"/><circle cx="773" cy="902" r="2.75"/><circle cx="777.5" cy="905" r="2.75"/><circle cx="773.3" cy="910.4" r="2.75"/><circle cx="781.2" cy="913.8" r="2.75"/><circle cx="777.4" cy="914.2" r="2.75"/><circle cx="779.6" cy="916.2" r="2.75"/><circle cx="770.6" cy="916.6" r="2.75"/><circle cx="787.8" cy="917" r="2.75"/><circle cx="766.4" cy="917.8" r="2.75"/><circle cx="783.4" cy="918.2" r="2.75"/><circle cx="761.9" cy="918.7" r="2.75"/><circle cx="775" cy="919.6" r="2.75"/><circle cx="792.2" cy="920" r="2.75"/><circle cx="773.1" cy="922.5" r="2.75"/><circle cx="776.9" cy="923.3" r="2.75"/><circle cx="785.6" cy="924.5" r="2.75"/><circle cx="781.8" cy="925.3" r="2.75"/><circle cx="768.7" cy="925.6" r="2.75"/><circle cx="783.8" cy="930.4" r="2.75"/><circle cx="779.2" cy="931.6" r="2.75"/><circle cx="770.8" cy="933" r="2.75"/><circle cx="774.7" cy="934.8" r="2.75"/><circle cx="777.6" cy="935.6" r="2.75"/><circle cx="775.2" cy="942.8" r="2.75"/><circle cx="779.7" cy="943.2" r="2.75"/><circle cx="770.4" cy="943.6" r="2.75"/><circle cx="784.1" cy="947.8" r="2.75"/><circle cx="777.5" cy="948.2" r="2.75"/><circle cx="773" cy="948.6" r="2.75"/><circle cx="781.9" cy="951" r="2.75"/><circle cx="779.8" cy="953.6" r="2.75"/><circle cx="775" cy="958" r="2.75"/><circle cx="779.5" cy="961.2" r="2.75"/><circle cx="775.2" cy="961.6" r="2.75"/><circle cx="820.7" cy="891" r="2.75"/><circle cx="820.5" cy="898.6" r="2.75"/><circle cx="820.9" cy="905.6" r="2.75"/><circle cx="814.7" cy="910.2" r="2.75"/><circle cx="826.2" cy="910.6" r="2.75"/><circle cx="820.4" cy="911.8" r="2.75"/><circle cx="809.7" cy="912" r="2.75"/><circle cx="826" cy="912.2" r="2.75"/><circle cx="814.6" cy="914" r="2.75"/><circle cx="832" cy="916" r="2.75"/><circle cx="809.1" cy="918" r="2.75"/><circle cx="826" cy="920.8" r="2.75"/><circle cx="820.6" cy="921" r="2.75"/><circle cx="815.2" cy="921.2" r="2.75"/><circle cx="831.5" cy="923" r="2.75"/><circle cx="815.3" cy="927.3" r="2.75"/><circle cx="826.4" cy="927.8" r="2.75"/><circle cx="809" cy="927.9" r="2.75"/><circle cx="820.5" cy="928.2" r="2.75"/><circle cx="820.6" cy="950.2" r="2.75"/><circle cx="814.7" cy="950.6" r="2.75"/><circle cx="858" cy="886" r="2.75"/><circle cx="858" cy="898.4" r="2.75"/><circle cx="863.3" cy="906.7" r="2.75"/><circle cx="847.8" cy="907.1" r="2.75"/><circle cx="858.5" cy="907.3" r="2.75"/><circle cx="868.9" cy="909" r="2.75"/><circle cx="852.7" cy="911" r="2.75"/><circle cx="853.3" cy="911.8" r="2.75"/><circle cx="863.5" cy="912" r="2.75"/><circle cx="874.2" cy="912.2" r="2.75"/><circle cx="847.9" cy="914.2" r="2.75"/><circle cx="857.9" cy="914.6" r="2.75"/><circle cx="868.3" cy="916" r="2.75"/><circle cx="852.9" cy="918.8" r="2.75"/><circle cx="858.4" cy="919.2" r="2.75"/><circle cx="863.1" cy="923.4" r="2.75"/><circle cx="868.5" cy="923.8" r="2.75"/><circle cx="863.5" cy="925.6" r="2.75"/><circle cx="852.7" cy="927.4" r="2.75"/><circle cx="868.7" cy="927.6" r="2.75"/><circle cx="858.1" cy="927.8" r="2.75"/><circle cx="858.4" cy="930.8" r="2.75"/><circle cx="869" cy="931.2" r="2.75"/><circle cx="847.8" cy="931.8" r="2.75"/><circle cx="873.5" cy="932" r="2.75"/><circle cx="853.2" cy="932.2" r="2.75"/><circle cx="863.7" cy="934" r="2.75"/><circle cx="863.8" cy="938.8" r="2.75"/><circle cx="858.3" cy="939.2" r="2.75"/><circle cx="868.8" cy="942.8" r="2.75"/><circle cx="853.4" cy="943" r="2.75"/><circle cx="847.7" cy="943.2" r="2.75"/><circle cx="863.2" cy="945" r="2.75"/><circle cx="853" cy="947.4" r="2.75"/><circle cx="858" cy="947.8" r="2.75"/><circle cx="863.4" cy="957.6" r="2.75"/><circle cx="858.2" cy="961.4" r="2.75"/><circle cx="858.1" cy="990" r="2.75"/><circle cx="858.1" cy="1056.6" r="2.75"/><circle cx="905.5" cy="894.4" r="2.75"/><circle cx="900.6" cy="896.8" r="2.75"/><circle cx="892.3" cy="897.2" r="2.75"/><circle cx="896.9" cy="897.6" r="2.75"/><circle cx="898.8" cy="900" r="2.75"/><circle cx="883.4" cy="905.1" r="2.75"/><circle cx="892" cy="905.5" r="2.75"/><circle cx="896.8" cy="906" r="2.75"/><circle cx="888.1" cy="907" r="2.75"/><circle cx="883.4" cy="907.6" r="2.75"/><circle cx="913.8" cy="908.4" r="2.75"/><circle cx="909.5" cy="909" r="2.75"/><circle cx="905.6" cy="909.3" r="2.75"/><circle cx="900.9" cy="910" r="2.75"/><circle cx="892.6" cy="910.6" r="2.75"/><circle cx="896.9" cy="911.6" r="2.75"/><circle cx="900.9" cy="911.9" r="2.75"/><circle cx="888" cy="912.5" r="2.75"/><circle cx="909.6" cy="913.6" r="2.75"/><circle cx="905.5" cy="914.1" r="2.75"/><circle cx="902.8" cy="916.1" r="2.75"/><circle cx="898.6" cy="917.2" r="2.75"/><circle cx="911.4" cy="917.9" r="2.75"/><circle cx="885.9" cy="918.5" r="2.75"/><circle cx="907.5" cy="918.9" r="2.75"/><circle cx="894.7" cy="920" r="2.75"/><circle cx="890.5" cy="920.5" r="2.75"/><circle cx="905.1" cy="921.4" r="2.75"/><circle cx="888.2" cy="922.3" r="2.75"/><circle cx="900.6" cy="922.9" r="2.75"/><circle cx="909.3" cy="923.7" r="2.75"/><circle cx="883.8" cy="923.9" r="2.75"/><circle cx="896.6" cy="924.7" r="2.75"/><circle cx="891.9" cy="925.6" r="2.75"/><circle cx="913.9" cy="925.9" r="2.75"/><circle cx="883.4" cy="927.3" r="2.75"/><circle cx="901.2" cy="927.5" r="2.75"/><circle cx="914" cy="928.2" r="2.75"/><circle cx="905.2" cy="929" r="2.75"/><circle cx="897" cy="929.6" r="2.75"/><circle cx="892.5" cy="930.7" r="2.75"/><circle cx="910" cy="931.3" r="2.75"/><circle cx="888.1" cy="931.9" r="2.75"/><circle cx="903.3" cy="932.6" r="2.75"/><circle cx="894.6" cy="933.1" r="2.75"/><circle cx="899.1" cy="933.9" r="2.75"/><circle cx="889.8" cy="938.4" r="2.75"/><circle cx="894.3" cy="939.3" r="2.75"/><circle cx="907.6" cy="940.3" r="2.75"/><circle cx="902.9" cy="940.8" r="2.75"/><circle cx="899.1" cy="941.7" r="2.75"/><circle cx="903.1" cy="947.8" r="2.75"/><circle cx="894.1" cy="948.2" r="2.75"/><circle cx="898.6" cy="948.6" r="2.75"/><circle cx="898.9" cy="954.2" r="2.75"/><circle cx="903.1" cy="954.6" r="2.75"/><circle cx="894.5" cy="955" r="2.75"/><circle cx="898.5" cy="963.6" r="2.75"/><circle cx="899.2" cy="1056.6" r="2.75"/><circle cx="939.5" cy="868.4" r="2.75"/><circle cx="939.5" cy="882.4" r="2.75"/><circle cx="939.5" cy="895" r="2.75"/><circle cx="934.8" cy="898" r="2.75"/><circle cx="943.7" cy="899.6" r="2.75"/><circle cx="944" cy="902" r="2.75"/><circle cx="935" cy="905" r="2.75"/><circle cx="939" cy="906.8" r="2.75"/><circle cx="932.8" cy="907.2" r="2.75"/><circle cx="941.7" cy="909" r="2.75"/><circle cx="945.9" cy="911.4" r="2.75"/><circle cx="936.7" cy="911.8" r="2.75"/><circle cx="934.9" cy="914.8" r="2.75"/><circle cx="939.5" cy="915.2" r="2.75"/><circle cx="943.4" cy="917" r="2.75"/><circle cx="932.6" cy="921.4" r="2.75"/><circle cx="928.3" cy="921.9" r="2.75"/><circle cx="923.7" cy="922.1" r="2.75"/><circle cx="937" cy="922.4" r="2.75"/><circle cx="946.2" cy="922.7" r="2.75"/><circle cx="954.9" cy="923.1" r="2.75"/><circle cx="950.4" cy="925.8" r="2.75"/><circle cx="941.6" cy="926.2" r="2.75"/><circle cx="939" cy="926.6" r="2.75"/><circle cx="941.1" cy="932.8" r="2.75"/><circle cx="936.9" cy="933.2" r="2.75"/><circle cx="937.3" cy="938.8" r="2.75"/><circle cx="941.5" cy="939.2" r="2.75"/><circle cx="939.6" cy="944" r="2.75"/><circle cx="941.3" cy="949.7" r="2.75"/><circle cx="932.6" cy="950.1" r="2.75"/><circle cx="937.4" cy="950.3" r="2.75"/><circle cx="946" cy="950.8" r="2.75"/><circle cx="939.6" cy="966.4" r="2.75"/><circle cx="939.3" cy="973" r="2.75"/><circle cx="937.1" cy="978.8" r="2.75"/><circle cx="941.3" cy="979.4" r="2.75"/><circle cx="939.3" cy="1056.6" r="2.75"/><circle cx="948.1" cy="1056.6" r="2.75"/><circle cx="943.4" cy="1056.6" r="2.75"/><circle cx="930.5" cy="1056.6" r="2.75"/><circle cx="934.9" cy="1056.6" r="2.75"/><circle cx="979.7" cy="890.6" r="2.75"/><circle cx="973" cy="899.8" r="2.75"/><circle cx="982.1" cy="900" r="2.75"/><circle cx="977.6" cy="900.5" r="2.75"/><circle cx="990.9" cy="903.4" r="2.75"/><circle cx="986.5" cy="904" r="2.75"/><circle cx="969.3" cy="904.7" r="2.75"/><circle cx="995" cy="905.2" r="2.75"/><circle cx="986" cy="905.9" r="2.75"/><circle cx="982" cy="906.9" r="2.75"/><circle cx="964.6" cy="907.2" r="2.75"/><circle cx="990.4" cy="908.2" r="2.75"/><circle cx="968.8" cy="908.9" r="2.75"/><circle cx="972.9" cy="909.4" r="2.75"/><circle cx="977.5" cy="910" r="2.75"/><circle cx="978" cy="911" r="2.75"/><circle cx="973.2" cy="911.3" r="2.75"/><circle cx="981.6" cy="912.3" r="2.75"/><circle cx="985.9" cy="912.5" r="2.75"/><circle cx="990.9" cy="913.4" r="2.75"/><circle cx="969.1" cy="914.1" r="2.75"/><circle cx="964.9" cy="916.1" r="2.75"/><circle cx="969.3" cy="917.1" r="2.75"/><circle cx="990.3" cy="917.3" r="2.75"/><circle cx="981.9" cy="918.2" r="2.75"/><circle cx="995" cy="918.6" r="2.75"/><circle cx="977.3" cy="919.6" r="2.75"/><circle cx="986.1" cy="920.1" r="2.75"/><circle cx="972.8" cy="920.8" r="2.75"/><circle cx="994.8" cy="921.3" r="2.75"/><circle cx="973.5" cy="922" r="2.75"/><circle cx="964.2" cy="922.6" r="2.75"/><circle cx="990.4" cy="923" r="2.75"/><circle cx="986.5" cy="923.6" r="2.75"/><circle cx="964.8" cy="924.6" r="2.75"/><circle cx="982" cy="924.8" r="2.75"/><circle cx="977.3" cy="925.8" r="2.75"/><circle cx="969.1" cy="926.1" r="2.75"/><circle cx="984" cy="926.6" r="2.75"/><circle cx="975.8" cy="927.2" r="2.75"/><circle cx="979.6" cy="928.2" r="2.75"/><circle cx="971" cy="932.6" r="2.75"/><circle cx="988.6" cy="933.2" r="2.75"/><circle cx="984.1" cy="934.6" r="2.75"/><circle cx="975.3" cy="935.3" r="2.75"/><circle cx="979.8" cy="937.1" r="2.75"/><circle cx="981.9" cy="938" r="2.75"/><circle cx="977.6" cy="942.8" r="2.75"/><circle cx="982.2" cy="943.2" r="2.75"/><circle cx="977.8" cy="943.6" r="2.75"/><circle cx="984.1" cy="948.8" r="2.75"/><circle cx="975.5" cy="949.2" r="2.75"/><circle cx="979.7" cy="949.6" r="2.75"/><circle cx="981.6" cy="957" r="2.75"/><circle cx="977.5" cy="959.4" r="2.75"/><circle cx="972.9" cy="959.8" r="2.75"/><circle cx="985.9" cy="960.2" r="2.75"/><circle cx="979.7" cy="977.4" r="2.75"/><circle cx="977.2" cy="1056.6" r="2.75"/><circle cx="981.7" cy="1056.6" r="2.75"/></g>
</g>
<g class="p">
<text x="1210" y="789.7" font-size="19.2" text-anchor="middle">CMCD4</text>
<rect x="1109.11" y="902.6" width="32.72" height="154" fill="#fd0000" stroke="#000" stroke-width="1.4"/>
<rect x="1149.57" y="898.4" width="32.72" height="158.2" fill="#fd0000" stroke="#000" stroke-width="1.4"/>
<rect x="1190.03" y="890.6" width="32.72" height="166" fill="#fd0000" stroke="#000" stroke-width="1.4"/>
<rect x="1230.5" y="887.6" width="32.72" height="169" fill="#fd0000" stroke="#000" stroke-width="1.4"/>
<rect x="1270.96" y="886" width="32.72" height="170.6" fill="#fd0000" stroke="#000" stroke-width="1.4"/>
<rect x="1311.42" y="888.6" width="32.72" height="168" fill="#fd0000" stroke="#000" stroke-width="1.4"/>
<rect x="1091.75" y="802.1" width="269.75" height="254.5" fill="none" stroke="#000" stroke-width="1.5"/>
<line x1="1080.45" y1="829.5" x2="1091.75" y2="829.5" stroke="#000" stroke-width="1.6"/>
<text x="1069.65" y="835.5" font-size="18" text-anchor="end">10</text>
<text transform="translate(1078.35 831) scale(1.14 1)" font-size="11.5" text-anchor="end">2</text>
<line x1="1080.45" y1="943.1" x2="1091.75" y2="943.1" stroke="#000" stroke-width="1.6"/>
<text x="1069.65" y="949.1" font-size="18" text-anchor="end">10</text>
<text transform="translate(1078.35 944.6) scale(1.14 1)" font-size="11.5" text-anchor="end">0</text>
<line x1="1080.45" y1="1056.6" x2="1091.75" y2="1056.6" stroke="#000" stroke-width="1.6"/>
<text x="1065.25" y="1062.6" font-size="18" text-anchor="end">10</text>
<text transform="translate(1078.35 1058.1) scale(1.14 1)" font-size="11.5" text-anchor="end">-2</text>
<line x1="1085.95" y1="908.9" x2="1091.75" y2="908.9" stroke="#000" stroke-width="1.6"/>
<line x1="1085.95" y1="888.9" x2="1091.75" y2="888.9" stroke="#000" stroke-width="1.6"/>
<line x1="1085.95" y1="874.71" x2="1091.75" y2="874.71" stroke="#000" stroke-width="1.6"/>
<line x1="1085.95" y1="863.7" x2="1091.75" y2="863.7" stroke="#000" stroke-width="1.6"/>
<line x1="1085.95" y1="854.7" x2="1091.75" y2="854.7" stroke="#000" stroke-width="1.6"/>
<line x1="1085.95" y1="847.1" x2="1091.75" y2="847.1" stroke="#000" stroke-width="1.6"/>
<line x1="1085.95" y1="840.51" x2="1091.75" y2="840.51" stroke="#000" stroke-width="1.6"/>
<line x1="1085.95" y1="834.7" x2="1091.75" y2="834.7" stroke="#000" stroke-width="1.6"/>
<line x1="1085.95" y1="1022.43" x2="1091.75" y2="1022.43" stroke="#000" stroke-width="1.6"/>
<line x1="1085.95" y1="1002.45" x2="1091.75" y2="1002.45" stroke="#000" stroke-width="1.6"/>
<line x1="1085.95" y1="988.27" x2="1091.75" y2="988.27" stroke="#000" stroke-width="1.6"/>
<line x1="1085.95" y1="977.27" x2="1091.75" y2="977.27" stroke="#000" stroke-width="1.6"/>
<line x1="1085.95" y1="968.28" x2="1091.75" y2="968.28" stroke="#000" stroke-width="1.6"/>
<line x1="1085.95" y1="960.68" x2="1091.75" y2="960.68" stroke="#000" stroke-width="1.6"/>
<line x1="1085.95" y1="954.1" x2="1091.75" y2="954.1" stroke="#000" stroke-width="1.6"/>
<line x1="1085.95" y1="948.29" x2="1091.75" y2="948.29" stroke="#000" stroke-width="1.6"/>
<polyline points="1125,826 1125,818 1161.6,818 1161.6,825.6" fill="none" stroke="#000" stroke-width="1.5"/>
<polyline points="1161.6,818.4 1161.6,813 1204,813 1204,820" fill="none" stroke="#000" stroke-width="1.5"/>
<text x="1143.6" y="822.4" font-size="19" text-anchor="middle">*</text>
<text x="1182.6" y="818.4" font-size="19" text-anchor="middle">*</text>
<g class="d"><circle cx="1128.2" cy="830.4" r="2.75"/><circle cx="1125.7" cy="830.8" r="2.75"/><circle cx="1122.9" cy="831.2" r="2.75"/><circle cx="1127" cy="864.4" r="2.75"/><circle cx="1124.1" cy="864.8" r="2.75"/><circle cx="1125.6" cy="871" r="2.75"/><circle cx="1131.6" cy="877.4" r="2.75"/><circle cx="1125.7" cy="878" r="2.75"/><circle cx="1119.9" cy="880.2" r="2.75"/><circle cx="1128.3" cy="881" r="2.75"/><circle cx="1122.4" cy="882.3" r="2.75"/><circle cx="1117.9" cy="882.7" r="2.75"/><circle cx="1126.6" cy="884.2" r="2.75"/><circle cx="1130.2" cy="884.6" r="2.75"/><circle cx="1120.9" cy="885.4" r="2.75"/><circle cx="1124" cy="886.6" r="2.75"/><circle cx="1132.7" cy="887.2" r="2.75"/><circle cx="1119.4" cy="888.3" r="2.75"/><circle cx="1131.6" cy="888.8" r="2.75"/><circle cx="1125.7" cy="890.3" r="2.75"/><circle cx="1128.7" cy="892.2" r="2.75"/><circle cx="1122.6" cy="893.1" r="2.75"/><circle cx="1133" cy="893.3" r="2.75"/><circle cx="1121.5" cy="894.3" r="2.75"/><circle cx="1130.1" cy="895" r="2.75"/><circle cx="1127.1" cy="895.3" r="2.75"/><circle cx="1115.3" cy="895.7" r="2.75"/><circle cx="1135.6" cy="896.5" r="2.75"/><circle cx="1124" cy="897.3" r="2.75"/><circle cx="1118.5" cy="897.7" r="2.75"/><circle cx="1133.9" cy="898.4" r="2.75"/><circle cx="1128" cy="898.8" r="2.75"/><circle cx="1120" cy="899.6" r="2.75"/><circle cx="1125.6" cy="900.4" r="2.75"/><circle cx="1117" cy="900.8" r="2.75"/><circle cx="1131.1" cy="901.6" r="2.75"/><circle cx="1122.4" cy="901.9" r="2.75"/><circle cx="1135.4" cy="904.5" r="2.75"/><circle cx="1115.7" cy="904.7" r="2.75"/><circle cx="1126.9" cy="905.8" r="2.75"/><circle cx="1123.7" cy="906.5" r="2.75"/><circle cx="1129.8" cy="907.1" r="2.75"/><circle cx="1121.1" cy="907.5" r="2.75"/><circle cx="1132.6" cy="908" r="2.75"/><circle cx="1118.6" cy="908.7" r="2.75"/><circle cx="1122.9" cy="909.5" r="2.75"/><circle cx="1113.7" cy="910" r="2.75"/><circle cx="1116.8" cy="910.9" r="2.75"/><circle cx="1119.7" cy="911.1" r="2.75"/><circle cx="1134" cy="911.9" r="2.75"/><circle cx="1125.2" cy="912.8" r="2.75"/><circle cx="1131.3" cy="913.3" r="2.75"/><circle cx="1137.1" cy="913.9" r="2.75"/><circle cx="1128" cy="914.2" r="2.75"/><circle cx="1127.1" cy="914.9" r="2.75"/><circle cx="1115.1" cy="915.6" r="2.75"/><circle cx="1120.8" cy="916.6" r="2.75"/><circle cx="1135.3" cy="917.2" r="2.75"/><circle cx="1132.9" cy="917.5" r="2.75"/><circle cx="1123.8" cy="918.5" r="2.75"/><circle cx="1118.3" cy="918.6" r="2.75"/><circle cx="1129.9" cy="919.6" r="2.75"/><circle cx="1130.1" cy="920.4" r="2.75"/><circle cx="1124" cy="920.7" r="2.75"/><circle cx="1126.7" cy="921.7" r="2.75"/><circle cx="1121.3" cy="922.2" r="2.75"/><circle cx="1125.1" cy="934.4" r="2.75"/><circle cx="1111.5" cy="1056.6" r="2.75"/><circle cx="1128.5" cy="1056.6" r="2.75"/><circle cx="1136.4" cy="1056.6" r="2.75"/><circle cx="1122.4" cy="1056.6" r="2.75"/><circle cx="1118.6" cy="1056.6" r="2.75"/><circle cx="1139.8" cy="1056.6" r="2.75"/><circle cx="1132.9" cy="1056.6" r="2.75"/><circle cx="1115.1" cy="1056.6" r="2.75"/><circle cx="1125.6" cy="1056.6" r="2.75"/><circle cx="1163.9" cy="845.2" r="2.75"/><circle cx="1167.7" cy="845.8" r="2.75"/><circle cx="1161.9" cy="865" r="2.75"/><circle cx="1169.8" cy="867.7" r="2.75"/><circle cx="1165.7" cy="869.4" r="2.75"/><circle cx="1169.9" cy="870.9" r="2.75"/><circle cx="1162" cy="872.1" r="2.75"/><circle cx="1166.3" cy="874" r="2.75"/><circle cx="1171.7" cy="877.2" r="2.75"/><circle cx="1163.9" cy="879.1" r="2.75"/><circle cx="1160.2" cy="879.7" r="2.75"/><circle cx="1168.1" cy="880.7" r="2.75"/><circle cx="1159.8" cy="882.4" r="2.75"/><circle cx="1171.9" cy="883" r="2.75"/><circle cx="1163.7" cy="884.7" r="2.75"/><circle cx="1167.5" cy="886.1" r="2.75"/><circle cx="1171.7" cy="888.5" r="2.75"/><circle cx="1155.7" cy="889.3" r="2.75"/><circle cx="1168.2" cy="889.9" r="2.75"/><circle cx="1164.3" cy="891.2" r="2.75"/><circle cx="1175.6" cy="891.8" r="2.75"/><circle cx="1159.9" cy="893.1" r="2.75"/><circle cx="1170.1" cy="893.6" r="2.75"/><circle cx="1161.9" cy="895.9" r="2.75"/><circle cx="1165.9" cy="896.3" r="2.75"/><circle cx="1158" cy="896.7" r="2.75"/><circle cx="1153.6" cy="897.4" r="2.75"/><circle cx="1177.8" cy="897.6" r="2.75"/><circle cx="1173.8" cy="898.1" r="2.75"/><circle cx="1169.6" cy="898.9" r="2.75"/><circle cx="1153.6" cy="899.1" r="2.75"/><circle cx="1177.6" cy="899.8" r="2.75"/><circle cx="1166.2" cy="900.3" r="2.75"/><circle cx="1162.1" cy="902.4" r="2.75"/><circle cx="1158" cy="903" r="2.75"/><circle cx="1174.1" cy="903.9" r="2.75"/><circle cx="1161.8" cy="905.4" r="2.75"/><circle cx="1178.1" cy="905.7" r="2.75"/><circle cx="1158" cy="906.9" r="2.75"/><circle cx="1154.3" cy="907.8" r="2.75"/><circle cx="1165.9" cy="908.3" r="2.75"/><circle cx="1174" cy="909.5" r="2.75"/><circle cx="1170.1" cy="910.1" r="2.75"/><circle cx="1172" cy="911.3" r="2.75"/><circle cx="1164" cy="912.2" r="2.75"/><circle cx="1160.2" cy="913" r="2.75"/><circle cx="1167.8" cy="913.7" r="2.75"/><circle cx="1169.8" cy="916.7" r="2.75"/><circle cx="1165.7" cy="918.1" r="2.75"/><circle cx="1162.2" cy="919.8" r="2.75"/><circle cx="1165.9" cy="939.6" r="2.75"/><circle cx="1166.1" cy="1056.6" r="2.75"/><circle cx="1169.8" cy="1056.6" r="2.75"/><circle cx="1162.3" cy="1056.6" r="2.75"/><circle cx="1173.4" cy="1056.6" r="2.75"/><circle cx="1157.5" cy="1056.6" r="2.75"/><circle cx="1206.5" cy="836.6" r="2.75"/><circle cx="1203.9" cy="843.6" r="2.75"/><circle cx="1208.3" cy="848.2" r="2.75"/><circle cx="1206.2" cy="848.8" r="2.75"/><circle cx="1204.3" cy="860.8" r="2.75"/><circle cx="1208.2" cy="861.4" r="2.75"/><circle cx="1204" cy="868" r="2.75"/><circle cx="1208.9" cy="873" r="2.75"/><circle cx="1204.2" cy="875.2" r="2.75"/><circle cx="1208.7" cy="876.1" r="2.75"/><circle cx="1212.9" cy="878" r="2.75"/><circle cx="1200.2" cy="878.3" r="2.75"/><circle cx="1210.7" cy="880.9" r="2.75"/><circle cx="1206.1" cy="881.7" r="2.75"/><circle cx="1202.3" cy="884.2" r="2.75"/><circle cx="1197.6" cy="884.7" r="2.75"/><circle cx="1215.1" cy="885.6" r="2.75"/><circle cx="1193.6" cy="886" r="2.75"/><circle cx="1206.4" cy="887.1" r="2.75"/><circle cx="1210.5" cy="887.4" r="2.75"/><circle cx="1202.1" cy="888.2" r="2.75"/><circle cx="1219.1" cy="888.8" r="2.75"/><circle cx="1215.5" cy="889.8" r="2.75"/><circle cx="1197.9" cy="890.6" r="2.75"/><circle cx="1212.5" cy="891.2" r="2.75"/><circle cx="1195.8" cy="892.3" r="2.75"/><circle cx="1199.9" cy="893.7" r="2.75"/><circle cx="1204.1" cy="894.5" r="2.75"/><circle cx="1217.1" cy="894.9" r="2.75"/><circle cx="1208.8" cy="895.6" r="2.75"/><circle cx="1213" cy="896.3" r="2.75"/><circle cx="1204.2" cy="896.8" r="2.75"/><circle cx="1200.1" cy="897.1" r="2.75"/><circle cx="1195.2" cy="897.7" r="2.75"/><circle cx="1208.9" cy="898.5" r="2.75"/><circle cx="1191.1" cy="899.2" r="2.75"/><circle cx="1221.2" cy="899.3" r="2.75"/><circle cx="1217" cy="900.2" r="2.75"/><circle cx="1198" cy="905.4" r="2.75"/><circle cx="1206.1" cy="906.6" r="2.75"/><circle cx="1202.4" cy="907.3" r="2.75"/><circle cx="1210.4" cy="908.9" r="2.75"/><circle cx="1215" cy="909.7" r="2.75"/><circle cx="1201.7" cy="911.3" r="2.75"/><circle cx="1210.9" cy="915.8" r="2.75"/><circle cx="1206.3" cy="916.2" r="2.75"/><circle cx="1204.1" cy="916.6" r="2.75"/><circle cx="1208.8" cy="920" r="2.75"/><circle cx="1206.8" cy="930.4" r="2.75"/><circle cx="1203.8" cy="1056.6" r="2.75"/><circle cx="1209" cy="1056.6" r="2.75"/><circle cx="1248.6" cy="842.2" r="2.75"/><circle cx="1245.2" cy="842.8" r="2.75"/><circle cx="1247.2" cy="859.6" r="2.75"/><circle cx="1251.1" cy="860.4" r="2.75"/><circle cx="1242.9" cy="860.6" r="2.75"/><circle cx="1246.6" cy="865" r="2.75"/><circle cx="1258.7" cy="870.9" r="2.75"/><circle cx="1239.1" cy="871.3" r="2.75"/><circle cx="1250.5" cy="872" r="2.75"/><circle cx="1254.6" cy="872.9" r="2.75"/><circle cx="1247.1" cy="873.6" r="2.75"/><circle cx="1235.1" cy="873.9" r="2.75"/><circle cx="1243.2" cy="875.8" r="2.75"/><circle cx="1238.7" cy="876.3" r="2.75"/><circle cx="1246.7" cy="876.9" r="2.75"/><circle cx="1234.6" cy="877.4" r="2.75"/><circle cx="1263" cy="878.1" r="2.75"/><circle cx="1250.8" cy="879" r="2.75"/><circle cx="1243.1" cy="879.6" r="2.75"/><circle cx="1254.9" cy="880" r="2.75"/><circle cx="1230.5" cy="880.4" r="2.75"/><circle cx="1259.2" cy="881" r="2.75"/><circle cx="1235" cy="881.7" r="2.75"/><circle cx="1242.9" cy="882.4" r="2.75"/><circle cx="1251.2" cy="882.8" r="2.75"/><circle cx="1247.1" cy="883.4" r="2.75"/><circle cx="1263.1" cy="883.7" r="2.75"/><circle cx="1238.6" cy="884.5" r="2.75"/><circle cx="1254.9" cy="885.2" r="2.75"/><circle cx="1258.7" cy="885.7" r="2.75"/><circle cx="1230.7" cy="885.9" r="2.75"/><circle cx="1246.6" cy="886.8" r="2.75"/><circle cx="1234.7" cy="887.2" r="2.75"/><circle cx="1254.6" cy="887.7" r="2.75"/><circle cx="1259" cy="888.6" r="2.75"/><circle cx="1239.1" cy="889.1" r="2.75"/><circle cx="1250.6" cy="889.7" r="2.75"/><circle cx="1242.9" cy="889.9" r="2.75"/><circle cx="1254.6" cy="892.8" r="2.75"/><circle cx="1242.8" cy="894" r="2.75"/><circle cx="1238.8" cy="895" r="2.75"/><circle cx="1251.2" cy="895.9" r="2.75"/><circle cx="1246.5" cy="897" r="2.75"/><circle cx="1238.7" cy="898" r="2.75"/><circle cx="1254.9" cy="898.8" r="2.75"/><circle cx="1243.1" cy="899.7" r="2.75"/><circle cx="1247.1" cy="901.1" r="2.75"/><circle cx="1250.9" cy="902.1" r="2.75"/><circle cx="1246.6" cy="909" r="2.75"/><circle cx="1248.9" cy="915.6" r="2.75"/><circle cx="1244.6" cy="919.6" r="2.75"/><circle cx="1247.2" cy="924" r="2.75"/><circle cx="1244.7" cy="934" r="2.75"/><circle cx="1249.2" cy="938.4" r="2.75"/><circle cx="1247" cy="952" r="2.75"/><circle cx="1240.5" cy="1056.6" r="2.75"/><circle cx="1249.2" cy="1056.6" r="2.75"/><circle cx="1256.5" cy="1056.6" r="2.75"/><circle cx="1244.8" cy="1056.6" r="2.75"/><circle cx="1252.8" cy="1056.6" r="2.75"/><circle cx="1236.7" cy="1056.6" r="2.75"/><circle cx="1287.7" cy="845" r="2.75"/><circle cx="1293.4" cy="862.3" r="2.75"/><circle cx="1289.1" cy="862.7" r="2.75"/><circle cx="1277.7" cy="863.9" r="2.75"/><circle cx="1281.6" cy="864.4" r="2.75"/><circle cx="1285.3" cy="865.5" r="2.75"/><circle cx="1297.6" cy="865.7" r="2.75"/><circle cx="1287.6" cy="870.2" r="2.75"/><circle cx="1279.5" cy="870.7" r="2.75"/><circle cx="1271.5" cy="871" r="2.75"/><circle cx="1303.5" cy="872" r="2.75"/><circle cx="1295.2" cy="872.3" r="2.75"/><circle cx="1299.4" cy="872.9" r="2.75"/><circle cx="1283.4" cy="873.7" r="2.75"/><circle cx="1275.1" cy="874.2" r="2.75"/><circle cx="1291.6" cy="874.9" r="2.75"/><circle cx="1289.4" cy="875.8" r="2.75"/><circle cx="1293.4" cy="876.3" r="2.75"/><circle cx="1285.7" cy="876.9" r="2.75"/><circle cx="1281" cy="877.4" r="2.75"/><circle cx="1296.9" cy="878.2" r="2.75"/><circle cx="1277.6" cy="880.7" r="2.75"/><circle cx="1277.2" cy="881.6" r="2.75"/><circle cx="1289.1" cy="882.8" r="2.75"/><circle cx="1281.6" cy="883.6" r="2.75"/><circle cx="1297.2" cy="884.2" r="2.75"/><circle cx="1292.9" cy="884.9" r="2.75"/><circle cx="1285.7" cy="886.4" r="2.75"/><circle cx="1277" cy="887.5" r="2.75"/><circle cx="1297.4" cy="888" r="2.75"/><circle cx="1281.2" cy="889.2" r="2.75"/><circle cx="1289.2" cy="890.4" r="2.75"/><circle cx="1293.6" cy="891.3" r="2.75"/><circle cx="1285" cy="891.6" r="2.75"/><circle cx="1283.4" cy="893" r="2.75"/><circle cx="1291.3" cy="893.5" r="2.75"/><circle cx="1287.1" cy="895.8" r="2.75"/><circle cx="1293.2" cy="898" r="2.75"/><circle cx="1285" cy="898.9" r="2.75"/><circle cx="1281.2" cy="900.5" r="2.75"/><circle cx="1289.3" cy="901.7" r="2.75"/><circle cx="1287.4" cy="905.1" r="2.75"/><circle cx="1291.4" cy="906.4" r="2.75"/><circle cx="1283.6" cy="908.1" r="2.75"/><circle cx="1291.1" cy="910.2" r="2.75"/><circle cx="1287.5" cy="911.4" r="2.75"/><circle cx="1283.2" cy="912.4" r="2.75"/><circle cx="1287.6" cy="929.4" r="2.75"/><circle cx="1295.3" cy="1056.6" r="2.75"/><circle cx="1275.6" cy="1056.6" r="2.75"/><circle cx="1291.2" cy="1056.6" r="2.75"/><circle cx="1299.5" cy="1056.6" r="2.75"/><circle cx="1287" cy="1056.6" r="2.75"/><circle cx="1279.7" cy="1056.6" r="2.75"/><circle cx="1283.6" cy="1056.6" r="2.75"/><circle cx="1327.6" cy="843.4" r="2.75"/><circle cx="1328.9" cy="855" r="2.75"/><circle cx="1326.3" cy="858.8" r="2.75"/><circle cx="1323.4" cy="860.3" r="2.75"/><circle cx="1326.2" cy="862.1" r="2.75"/><circle cx="1329.6" cy="863.1" r="2.75"/><circle cx="1332" cy="864.6" r="2.75"/><circle cx="1332.5" cy="866.1" r="2.75"/><circle cx="1326.3" cy="868.2" r="2.75"/><circle cx="1323.8" cy="870.4" r="2.75"/><circle cx="1329.3" cy="871" r="2.75"/><circle cx="1326.4" cy="873.5" r="2.75"/><circle cx="1332.4" cy="874.1" r="2.75"/><circle cx="1329.6" cy="875.6" r="2.75"/><circle cx="1323.7" cy="878" r="2.75"/><circle cx="1331.1" cy="878.6" r="2.75"/><circle cx="1324.7" cy="879.9" r="2.75"/><circle cx="1328.1" cy="882.2" r="2.75"/><circle cx="1327.9" cy="888" r="2.75"/><circle cx="1327.8" cy="894.8" r="2.75"/><circle cx="1324.9" cy="895.2" r="2.75"/><circle cx="1330.8" cy="895.6" r="2.75"/><circle cx="1328" cy="904.4" r="2.75"/><circle cx="1329" cy="915.6" r="2.75"/><circle cx="1326.6" cy="919.6" r="2.75"/><circle cx="1328" cy="936" r="2.75"/><circle cx="1334.5" cy="1056.6" r="2.75"/><circle cx="1338.4" cy="1056.6" r="2.75"/><circle cx="1328.2" cy="1056.6" r="2.75"/><circle cx="1341.5" cy="1056.6" r="2.75"/><circle cx="1314.1" cy="1056.6" r="2.75"/><circle cx="1320.4" cy="1056.6" r="2.75"/><circle cx="1331" cy="1056.6" r="2.75"/><circle cx="1324.1" cy="1056.6" r="2.75"/><circle cx="1316.8" cy="1056.6" r="2.75"/></g>
</g>
<g class="p">
<text x="1557.4" y="789.7" font-size="19.2" text-anchor="middle">CMCD8</text>
<rect x="1437.61" y="927.6" width="32.72" height="129" fill="#fd0000" stroke="#000" stroke-width="1.4"/>
<rect x="1478.07" y="923.4" width="32.72" height="133.2" fill="#fd0000" stroke="#000" stroke-width="1.4"/>
<rect x="1518.53" y="925" width="32.72" height="131.6" fill="#fd0000" stroke="#000" stroke-width="1.4"/>
<rect x="1559" y="913" width="32.72" height="143.6" fill="#fd0000" stroke="#000" stroke-width="1.4"/>
<rect x="1599.46" y="904.4" width="32.72" height="152.2" fill="#fd0000" stroke="#000" stroke-width="1.4"/>
<rect x="1639.92" y="913" width="32.72" height="143.6" fill="#fd0000" stroke="#000" stroke-width="1.4"/>
<rect x="1420.25" y="802.1" width="269.75" height="254.5" fill="none" stroke="#000" stroke-width="1.5"/>
<line x1="1408.95" y1="829.5" x2="1420.25" y2="829.5" stroke="#000" stroke-width="1.6"/>
<text x="1398.15" y="835.5" font-size="18" text-anchor="end">10</text>
<text transform="translate(1406.85 831) scale(1.14 1)" font-size="11.5" text-anchor="end">2</text>
<line x1="1408.95" y1="943.1" x2="1420.25" y2="943.1" stroke="#000" stroke-width="1.6"/>
<text x="1398.15" y="949.1" font-size="18" text-anchor="end">10</text>
<text transform="translate(1406.85 944.6) scale(1.14 1)" font-size="11.5" text-anchor="end">0</text>
<line x1="1408.95" y1="1056.6" x2="1420.25" y2="1056.6" stroke="#000" stroke-width="1.6"/>
<text x="1393.75" y="1062.6" font-size="18" text-anchor="end">10</text>
<text transform="translate(1406.85 1058.1) scale(1.14 1)" font-size="11.5" text-anchor="end">-2</text>
<line x1="1414.45" y1="908.9" x2="1420.25" y2="908.9" stroke="#000" stroke-width="1.6"/>
<line x1="1414.45" y1="888.9" x2="1420.25" y2="888.9" stroke="#000" stroke-width="1.6"/>
<line x1="1414.45" y1="874.71" x2="1420.25" y2="874.71" stroke="#000" stroke-width="1.6"/>
<line x1="1414.45" y1="863.7" x2="1420.25" y2="863.7" stroke="#000" stroke-width="1.6"/>
<line x1="1414.45" y1="854.7" x2="1420.25" y2="854.7" stroke="#000" stroke-width="1.6"/>
<line x1="1414.45" y1="847.1" x2="1420.25" y2="847.1" stroke="#000" stroke-width="1.6"/>
<line x1="1414.45" y1="840.51" x2="1420.25" y2="840.51" stroke="#000" stroke-width="1.6"/>
<line x1="1414.45" y1="834.7" x2="1420.25" y2="834.7" stroke="#000" stroke-width="1.6"/>
<line x1="1414.45" y1="1022.43" x2="1420.25" y2="1022.43" stroke="#000" stroke-width="1.6"/>
<line x1="1414.45" y1="1002.45" x2="1420.25" y2="1002.45" stroke="#000" stroke-width="1.6"/>
<line x1="1414.45" y1="988.27" x2="1420.25" y2="988.27" stroke="#000" stroke-width="1.6"/>
<line x1="1414.45" y1="977.27" x2="1420.25" y2="977.27" stroke="#000" stroke-width="1.6"/>
<line x1="1414.45" y1="968.28" x2="1420.25" y2="968.28" stroke="#000" stroke-width="1.6"/>
<line x1="1414.45" y1="960.68" x2="1420.25" y2="960.68" stroke="#000" stroke-width="1.6"/>
<line x1="1414.45" y1="954.1" x2="1420.25" y2="954.1" stroke="#000" stroke-width="1.6"/>
<line x1="1414.45" y1="948.29" x2="1420.25" y2="948.29" stroke="#000" stroke-width="1.6"/>
<polyline points="1574.4,838.6 1574.4,826 1614.6,826 1614.6,833.6" fill="none" stroke="#000" stroke-width="1.5"/>
<text x="1594.4" y="831" font-size="19" text-anchor="middle">*</text>
<g class="d"><circle cx="1455.1" cy="830.4" r="2.75"/><circle cx="1452.7" cy="831" r="2.75"/><circle cx="1455.5" cy="851.8" r="2.75"/><circle cx="1452.4" cy="852.4" r="2.75"/><circle cx="1453.9" cy="857.6" r="2.75"/><circle cx="1451" cy="874.8" r="2.75"/><circle cx="1453.9" cy="875.4" r="2.75"/><circle cx="1457.1" cy="877.6" r="2.75"/><circle cx="1453.8" cy="881" r="2.75"/><circle cx="1454" cy="888.8" r="2.75"/><circle cx="1457" cy="889.4" r="2.75"/><circle cx="1450.8" cy="893" r="2.75"/><circle cx="1451" cy="895.2" r="2.75"/><circle cx="1454.2" cy="896.2" r="2.75"/><circle cx="1457.2" cy="898.1" r="2.75"/><circle cx="1452.4" cy="900.5" r="2.75"/><circle cx="1455" cy="901.5" r="2.75"/><circle cx="1452.3" cy="905.7" r="2.75"/><circle cx="1449.8" cy="906.2" r="2.75"/><circle cx="1455.2" cy="909" r="2.75"/><circle cx="1458.3" cy="909.8" r="2.75"/><circle cx="1454.1" cy="912.1" r="2.75"/><circle cx="1451" cy="913.1" r="2.75"/><circle cx="1456.8" cy="915.2" r="2.75"/><circle cx="1455.8" cy="918.2" r="2.75"/><circle cx="1458.5" cy="920.5" r="2.75"/><circle cx="1450" cy="921.9" r="2.75"/><circle cx="1452.5" cy="922.4" r="2.75"/><circle cx="1459.8" cy="923.5" r="2.75"/><circle cx="1450.9" cy="924.3" r="2.75"/><circle cx="1453.9" cy="925.8" r="2.75"/><circle cx="1457.2" cy="927.2" r="2.75"/><circle cx="1448.1" cy="927.9" r="2.75"/><circle cx="1454.2" cy="932.6" r="2.75"/><circle cx="1456.8" cy="935" r="2.75"/><circle cx="1451" cy="936.6" r="2.75"/><circle cx="1452.3" cy="937.8" r="2.75"/><circle cx="1455.4" cy="942.1" r="2.75"/><circle cx="1456.8" cy="943.9" r="2.75"/><circle cx="1453.7" cy="944.9" r="2.75"/><circle cx="1450.9" cy="946.7" r="2.75"/><circle cx="1459.7" cy="947.3" r="2.75"/><circle cx="1448" cy="948.8" r="2.75"/><circle cx="1453.9" cy="949.9" r="2.75"/><circle cx="1454.2" cy="956" r="2.75"/><circle cx="1456.5" cy="963" r="2.75"/><circle cx="1451.3" cy="967.4" r="2.75"/><circle cx="1454.1" cy="968" r="2.75"/><circle cx="1455.2" cy="983.8" r="2.75"/><circle cx="1452.6" cy="984.4" r="2.75"/><circle cx="1439.4" cy="1056.6" r="2.75"/><circle cx="1468.5" cy="1056.6" r="2.75"/><circle cx="1460.8" cy="1056.6" r="2.75"/><circle cx="1447.3" cy="1056.6" r="2.75"/><circle cx="1450.8" cy="1056.6" r="2.75"/><circle cx="1457.8" cy="1056.6" r="2.75"/><circle cx="1443.2" cy="1056.6" r="2.75"/><circle cx="1454" cy="1056.6" r="2.75"/><circle cx="1464.5" cy="1056.6" r="2.75"/><circle cx="1494.4" cy="868.8" r="2.75"/><circle cx="1491.9" cy="869.4" r="2.75"/><circle cx="1497" cy="872" r="2.75"/><circle cx="1494.6" cy="875.6" r="2.75"/><circle cx="1491.4" cy="883.4" r="2.75"/><circle cx="1494.2" cy="886.8" r="2.75"/><circle cx="1497.1" cy="887.4" r="2.75"/><circle cx="1492.9" cy="896" r="2.75"/><circle cx="1495.8" cy="899" r="2.75"/><circle cx="1499.2" cy="904.1" r="2.75"/><circle cx="1493.1" cy="905.7" r="2.75"/><circle cx="1490.4" cy="907.2" r="2.75"/><circle cx="1496" cy="908.8" r="2.75"/><circle cx="1489.9" cy="909.7" r="2.75"/><circle cx="1498.4" cy="910.9" r="2.75"/><circle cx="1492.6" cy="913" r="2.75"/><circle cx="1495.6" cy="913.2" r="2.75"/><circle cx="1500.1" cy="916.9" r="2.75"/><circle cx="1489" cy="917.8" r="2.75"/><circle cx="1497.4" cy="918.7" r="2.75"/><circle cx="1491.6" cy="919.7" r="2.75"/><circle cx="1494.3" cy="921" r="2.75"/><circle cx="1495.5" cy="922.2" r="2.75"/><circle cx="1493" cy="927" r="2.75"/><circle cx="1492.8" cy="928.6" r="2.75"/><circle cx="1489.7" cy="929.1" r="2.75"/><circle cx="1498.7" cy="931" r="2.75"/><circle cx="1495.6" cy="932.2" r="2.75"/><circle cx="1495.8" cy="934.8" r="2.75"/><circle cx="1492.6" cy="936.2" r="2.75"/><circle cx="1491.3" cy="940.3" r="2.75"/><circle cx="1494.4" cy="942.8" r="2.75"/><circle cx="1497.3" cy="944.6" r="2.75"/><circle cx="1491.5" cy="945.6" r="2.75"/><circle cx="1497.7" cy="947.9" r="2.75"/><circle cx="1494.5" cy="950.3" r="2.75"/><circle cx="1492.8" cy="951.9" r="2.75"/><circle cx="1495.8" cy="953.1" r="2.75"/><circle cx="1494.6" cy="960.4" r="2.75"/><circle cx="1494.7" cy="967" r="2.75"/><circle cx="1494.4" cy="973" r="2.75"/><circle cx="1494.6" cy="1056.6" r="2.75"/><circle cx="1504.6" cy="1056.6" r="2.75"/><circle cx="1483.9" cy="1056.6" r="2.75"/><circle cx="1487.5" cy="1056.6" r="2.75"/><circle cx="1501.4" cy="1056.6" r="2.75"/><circle cx="1498.4" cy="1056.6" r="2.75"/><circle cx="1490.5" cy="1056.6" r="2.75"/><circle cx="1480.3" cy="1056.6" r="2.75"/><circle cx="1508.9" cy="1056.6" r="2.75"/><circle cx="1534.9" cy="837.6" r="2.75"/><circle cx="1534.8" cy="858.4" r="2.75"/><circle cx="1535.2" cy="866.4" r="2.75"/><circle cx="1533.7" cy="882" r="2.75"/><circle cx="1536.1" cy="886" r="2.75"/><circle cx="1536.3" cy="890.7" r="2.75"/><circle cx="1539.3" cy="891.5" r="2.75"/><circle cx="1533.2" cy="893.3" r="2.75"/><circle cx="1530.5" cy="894.6" r="2.75"/><circle cx="1536.5" cy="896.8" r="2.75"/><circle cx="1527.8" cy="897.9" r="2.75"/><circle cx="1530.2" cy="899.5" r="2.75"/><circle cx="1533.1" cy="899.9" r="2.75"/><circle cx="1542.1" cy="900.2" r="2.75"/><circle cx="1539.1" cy="900.8" r="2.75"/><circle cx="1534.8" cy="904.4" r="2.75"/><circle cx="1534.7" cy="909.6" r="2.75"/><circle cx="1531.6" cy="918.3" r="2.75"/><circle cx="1529.2" cy="919.4" r="2.75"/><circle cx="1534.9" cy="920.1" r="2.75"/><circle cx="1537.8" cy="921.1" r="2.75"/><circle cx="1540.5" cy="922.5" r="2.75"/><circle cx="1540.3" cy="923.9" r="2.75"/><circle cx="1537.9" cy="924.9" r="2.75"/><circle cx="1531.8" cy="925.6" r="2.75"/><circle cx="1534.5" cy="926.4" r="2.75"/><circle cx="1529.4" cy="927.9" r="2.75"/><circle cx="1534.7" cy="932" r="2.75"/><circle cx="1534.7" cy="939" r="2.75"/><circle cx="1530.6" cy="945.4" r="2.75"/><circle cx="1539.5" cy="945.8" r="2.75"/><circle cx="1536.6" cy="948.8" r="2.75"/><circle cx="1533.6" cy="949.2" r="2.75"/><circle cx="1534.5" cy="953" r="2.75"/><circle cx="1535.2" cy="988.4" r="2.75"/><circle cx="1535.3" cy="993.6" r="2.75"/><circle cx="1549.2" cy="1056.6" r="2.75"/><circle cx="1545.7" cy="1056.6" r="2.75"/><circle cx="1535" cy="1056.6" r="2.75"/><circle cx="1520.5" cy="1056.6" r="2.75"/><circle cx="1538.1" cy="1056.6" r="2.75"/><circle cx="1524.1" cy="1056.6" r="2.75"/><circle cx="1528.1" cy="1056.6" r="2.75"/><circle cx="1531.2" cy="1056.6" r="2.75"/><circle cx="1541.9" cy="1056.6" r="2.75"/><circle cx="1575.4" cy="846.4" r="2.75"/><circle cx="1576.8" cy="865.6" r="2.75"/><circle cx="1574.2" cy="868" r="2.75"/><circle cx="1577.2" cy="879.8" r="2.75"/><circle cx="1574.2" cy="880.4" r="2.75"/><circle cx="1581.4" cy="886.3" r="2.75"/><circle cx="1569.6" cy="886.6" r="2.75"/><circle cx="1583.9" cy="887.9" r="2.75"/><circle cx="1572.5" cy="888.3" r="2.75"/><circle cx="1578.2" cy="889.3" r="2.75"/><circle cx="1575.4" cy="889.9" r="2.75"/><circle cx="1566.6" cy="891" r="2.75"/><circle cx="1573.8" cy="891.9" r="2.75"/><circle cx="1579.6" cy="895" r="2.75"/><circle cx="1576.8" cy="896" r="2.75"/><circle cx="1571.3" cy="896.3" r="2.75"/><circle cx="1574" cy="897.4" r="2.75"/><circle cx="1570.9" cy="899.1" r="2.75"/><circle cx="1579.9" cy="899.4" r="2.75"/><circle cx="1577" cy="900.6" r="2.75"/><circle cx="1582.8" cy="901.7" r="2.75"/><circle cx="1568" cy="902.4" r="2.75"/><circle cx="1575" cy="903.6" r="2.75"/><circle cx="1578.5" cy="904.8" r="2.75"/><circle cx="1572.3" cy="905.8" r="2.75"/><circle cx="1574.2" cy="912" r="2.75"/><circle cx="1577" cy="917" r="2.75"/><circle cx="1582.8" cy="920.3" r="2.75"/><circle cx="1567.8" cy="920.4" r="2.75"/><circle cx="1577" cy="920.7" r="2.75"/><circle cx="1571.4" cy="921.3" r="2.75"/><circle cx="1573.6" cy="921.5" r="2.75"/><circle cx="1579.6" cy="921.9" r="2.75"/><circle cx="1576.5" cy="926.6" r="2.75"/><circle cx="1579.4" cy="927.1" r="2.75"/><circle cx="1573.6" cy="927.3" r="2.75"/><circle cx="1571.3" cy="931.6" r="2.75"/><circle cx="1574" cy="939.8" r="2.75"/><circle cx="1579.9" cy="940.2" r="2.75"/><circle cx="1576.5" cy="943.4" r="2.75"/><circle cx="1571.1" cy="943.8" r="2.75"/><circle cx="1577.2" cy="949" r="2.75"/><circle cx="1573.8" cy="951.6" r="2.75"/><circle cx="1575" cy="1022.4" r="2.75"/><circle cx="1565" cy="1056.6" r="2.75"/><circle cx="1578.5" cy="1056.6" r="2.75"/><circle cx="1585.6" cy="1056.6" r="2.75"/><circle cx="1572" cy="1056.6" r="2.75"/><circle cx="1568" cy="1056.6" r="2.75"/><circle cx="1589.4" cy="1056.6" r="2.75"/><circle cx="1575.1" cy="1056.6" r="2.75"/><circle cx="1561.3" cy="1056.6" r="2.75"/><circle cx="1582.4" cy="1056.6" r="2.75"/><circle cx="1615.7" cy="839.4" r="2.75"/><circle cx="1615.7" cy="859.4" r="2.75"/><circle cx="1610.6" cy="869.7" r="2.75"/><circle cx="1624.1" cy="871" r="2.75"/><circle cx="1607.1" cy="871.6" r="2.75"/><circle cx="1614.2" cy="872.4" r="2.75"/><circle cx="1620.5" cy="873.3" r="2.75"/><circle cx="1617.7" cy="874.2" r="2.75"/><circle cx="1607.3" cy="876.3" r="2.75"/><circle cx="1610.8" cy="877.2" r="2.75"/><circle cx="1620.7" cy="878.4" r="2.75"/><circle cx="1624" cy="879" r="2.75"/><circle cx="1614" cy="879.7" r="2.75"/><circle cx="1617.3" cy="880.8" r="2.75"/><circle cx="1611" cy="881.4" r="2.75"/><circle cx="1623.9" cy="882.6" r="2.75"/><circle cx="1617.7" cy="882.9" r="2.75"/><circle cx="1613.9" cy="884.3" r="2.75"/><circle cx="1620.6" cy="885" r="2.75"/><circle cx="1607.5" cy="885.7" r="2.75"/><circle cx="1623" cy="887" r="2.75"/><circle cx="1605.3" cy="887.3" r="2.75"/><circle cx="1612.3" cy="888.2" r="2.75"/><circle cx="1625.9" cy="888.9" r="2.75"/><circle cx="1609.1" cy="890.1" r="2.75"/><circle cx="1619.1" cy="891.1" r="2.75"/><circle cx="1615.6" cy="891.9" r="2.75"/><circle cx="1620.6" cy="892.5" r="2.75"/><circle cx="1617.8" cy="893.7" r="2.75"/><circle cx="1613.9" cy="894" r="2.75"/><circle cx="1624.2" cy="895" r="2.75"/><circle cx="1607.2" cy="896.1" r="2.75"/><circle cx="1610.5" cy="897.2" r="2.75"/><circle cx="1610.5" cy="897.8" r="2.75"/><circle cx="1607.2" cy="898.7" r="2.75"/><circle cx="1621" cy="899.6" r="2.75"/><circle cx="1617.3" cy="900.2" r="2.75"/><circle cx="1624.6" cy="901.5" r="2.75"/><circle cx="1614.1" cy="902.2" r="2.75"/><circle cx="1611.1" cy="905.3" r="2.75"/><circle cx="1620.5" cy="905.6" r="2.75"/><circle cx="1624.1" cy="905.9" r="2.75"/><circle cx="1613.9" cy="906.1" r="2.75"/><circle cx="1617.9" cy="906.3" r="2.75"/><circle cx="1607.2" cy="906.8" r="2.75"/><circle cx="1616" cy="910.8" r="2.75"/><circle cx="1612.5" cy="912.4" r="2.75"/><circle cx="1619.4" cy="914.1" r="2.75"/><circle cx="1620.8" cy="916" r="2.75"/><circle cx="1617.6" cy="916.5" r="2.75"/><circle cx="1614.2" cy="918.3" r="2.75"/><circle cx="1610.6" cy="919.5" r="2.75"/><circle cx="1615.7" cy="921.5" r="2.75"/><circle cx="1614.3" cy="926.6" r="2.75"/><circle cx="1617.2" cy="926.9" r="2.75"/><circle cx="1607.7" cy="927.2" r="2.75"/><circle cx="1621.3" cy="927.5" r="2.75"/><circle cx="1610.8" cy="930.8" r="2.75"/><circle cx="1624.3" cy="931.2" r="2.75"/><circle cx="1614.2" cy="944.8" r="2.75"/><circle cx="1617.6" cy="945.2" r="2.75"/><circle cx="1614.3" cy="960.2" r="2.75"/><circle cx="1617.7" cy="960.6" r="2.75"/><circle cx="1611.2" cy="1056.6" r="2.75"/><circle cx="1620.6" cy="1056.6" r="2.75"/><circle cx="1615.9" cy="1056.6" r="2.75"/><circle cx="1625.1" cy="1056.6" r="2.75"/><circle cx="1628.9" cy="1056.6" r="2.75"/><circle cx="1607.1" cy="1056.6" r="2.75"/><circle cx="1602.8" cy="1056.6" r="2.75"/><circle cx="1656.3" cy="833" r="2.75"/><circle cx="1657.4" cy="851.4" r="2.75"/><circle cx="1654.8" cy="853.8" r="2.75"/><circle cx="1652.3" cy="854.2" r="2.75"/><circle cx="1661" cy="856.4" r="2.75"/><circle cx="1656.2" cy="856.8" r="2.75"/><circle cx="1655.9" cy="864.4" r="2.75"/><circle cx="1655.9" cy="872.6" r="2.75"/><circle cx="1652" cy="882" r="2.75"/><circle cx="1655.2" cy="883.1" r="2.75"/><circle cx="1661" cy="883.8" r="2.75"/><circle cx="1657.9" cy="885.2" r="2.75"/><circle cx="1652" cy="889" r="2.75"/><circle cx="1657.8" cy="890.3" r="2.75"/><circle cx="1654.9" cy="890.8" r="2.75"/><circle cx="1660.4" cy="892.7" r="2.75"/><circle cx="1654.6" cy="894.1" r="2.75"/><circle cx="1657.7" cy="898.8" r="2.75"/><circle cx="1654.8" cy="899.2" r="2.75"/><circle cx="1658" cy="903" r="2.75"/><circle cx="1660.8" cy="908" r="2.75"/><circle cx="1652.1" cy="910.8" r="2.75"/><circle cx="1658.1" cy="911.2" r="2.75"/><circle cx="1654.7" cy="911.6" r="2.75"/><circle cx="1659.1" cy="915.8" r="2.75"/><circle cx="1655.9" cy="916.2" r="2.75"/><circle cx="1653.6" cy="916.6" r="2.75"/><circle cx="1655.9" cy="922" r="2.75"/><circle cx="1659.5" cy="929.4" r="2.75"/><circle cx="1653.4" cy="929.8" r="2.75"/><circle cx="1655.9" cy="933" r="2.75"/><circle cx="1656" cy="937.6" r="2.75"/><circle cx="1657.9" cy="943" r="2.75"/><circle cx="1654.6" cy="945.6" r="2.75"/><circle cx="1656.6" cy="1022.4" r="2.75"/><circle cx="1656.5" cy="1039.6" r="2.75"/><circle cx="1652.8" cy="1056.6" r="2.75"/><circle cx="1659.4" cy="1056.6" r="2.75"/><circle cx="1666.7" cy="1056.6" r="2.75"/><circle cx="1663.2" cy="1056.6" r="2.75"/><circle cx="1645.9" cy="1056.6" r="2.75"/><circle cx="1656.4" cy="1056.6" r="2.75"/><circle cx="1642.3" cy="1056.6" r="2.75"/><circle cx="1648.8" cy="1056.6" r="2.75"/><circle cx="1669.9" cy="1056.6" r="2.75"/></g>
</g>
<g class="p">
<text x="1879.2" y="789.7" font-size="19.2" text-anchor="middle">nCMCD19</text>
<rect x="1769.61" y="919" width="32.72" height="137.6" fill="#fd0000" stroke="#000" stroke-width="1.4"/>
<rect x="1810.07" y="915" width="32.72" height="141.6" fill="#fd0000" stroke="#000" stroke-width="1.4"/>
<rect x="1850.53" y="920.6" width="32.72" height="136" fill="#fd0000" stroke="#000" stroke-width="1.4"/>
<rect x="1891" y="923.4" width="32.72" height="133.2" fill="#fd0000" stroke="#000" stroke-width="1.4"/>
<rect x="1931.46" y="923" width="32.72" height="133.6" fill="#fd0000" stroke="#000" stroke-width="1.4"/>
<rect x="1971.92" y="920.6" width="32.72" height="136" fill="#fd0000" stroke="#000" stroke-width="1.4"/>
<rect x="1752.25" y="802.1" width="269.75" height="254.5" fill="none" stroke="#000" stroke-width="1.5"/>
<line x1="1740.95" y1="829.5" x2="1752.25" y2="829.5" stroke="#000" stroke-width="1.6"/>
<text x="1730.15" y="835.5" font-size="18" text-anchor="end">10</text>
<text transform="translate(1738.85 831) scale(1.14 1)" font-size="11.5" text-anchor="end">2</text>
<line x1="1740.95" y1="943.1" x2="1752.25" y2="943.1" stroke="#000" stroke-width="1.6"/>
<text x="1730.15" y="949.1" font-size="18" text-anchor="end">10</text>
<text transform="translate(1738.85 944.6) scale(1.14 1)" font-size="11.5" text-anchor="end">0</text>
<line x1="1740.95" y1="1056.6" x2="1752.25" y2="1056.6" stroke="#000" stroke-width="1.6"/>
<text x="1725.75" y="1062.6" font-size="18" text-anchor="end">10</text>
<text transform="translate(1738.85 1058.1) scale(1.14 1)" font-size="11.5" text-anchor="end">-2</text>
<line x1="1746.45" y1="908.9" x2="1752.25" y2="908.9" stroke="#000" stroke-width="1.6"/>
<line x1="1746.45" y1="888.9" x2="1752.25" y2="888.9" stroke="#000" stroke-width="1.6"/>
<line x1="1746.45" y1="874.71" x2="1752.25" y2="874.71" stroke="#000" stroke-width="1.6"/>
<line x1="1746.45" y1="863.7" x2="1752.25" y2="863.7" stroke="#000" stroke-width="1.6"/>
<line x1="1746.45" y1="854.7" x2="1752.25" y2="854.7" stroke="#000" stroke-width="1.6"/>
<line x1="1746.45" y1="847.1" x2="1752.25" y2="847.1" stroke="#000" stroke-width="1.6"/>
<line x1="1746.45" y1="840.51" x2="1752.25" y2="840.51" stroke="#000" stroke-width="1.6"/>
<line x1="1746.45" y1="834.7" x2="1752.25" y2="834.7" stroke="#000" stroke-width="1.6"/>
<line x1="1746.45" y1="1022.43" x2="1752.25" y2="1022.43" stroke="#000" stroke-width="1.6"/>
<line x1="1746.45" y1="1002.45" x2="1752.25" y2="1002.45" stroke="#000" stroke-width="1.6"/>
<line x1="1746.45" y1="988.27" x2="1752.25" y2="988.27" stroke="#000" stroke-width="1.6"/>
<line x1="1746.45" y1="977.27" x2="1752.25" y2="977.27" stroke="#000" stroke-width="1.6"/>
<line x1="1746.45" y1="968.28" x2="1752.25" y2="968.28" stroke="#000" stroke-width="1.6"/>
<line x1="1746.45" y1="960.68" x2="1752.25" y2="960.68" stroke="#000" stroke-width="1.6"/>
<line x1="1746.45" y1="954.1" x2="1752.25" y2="954.1" stroke="#000" stroke-width="1.6"/>
<line x1="1746.45" y1="948.29" x2="1752.25" y2="948.29" stroke="#000" stroke-width="1.6"/>
<polyline points="1823.6,866 1823.6,860.6 1866,860.6 1866,877" fill="none" stroke="#000" stroke-width="1.5"/>
<text x="1844.4" y="866" font-size="19" text-anchor="middle">*</text>
<g class="d"><circle cx="1786" cy="872.6" r="2.75"/><circle cx="1785.9" cy="883.6" r="2.75"/><circle cx="1790.8" cy="890" r="2.75"/><circle cx="1786" cy="893" r="2.75"/><circle cx="1785.9" cy="896" r="2.75"/><circle cx="1790.7" cy="899.8" r="2.75"/><circle cx="1781.2" cy="900.2" r="2.75"/><circle cx="1781.1" cy="902.8" r="2.75"/><circle cx="1786.1" cy="903.2" r="2.75"/><circle cx="1795.5" cy="905" r="2.75"/><circle cx="1790.7" cy="907.8" r="2.75"/><circle cx="1776.3" cy="908.2" r="2.75"/><circle cx="1781.2" cy="909.4" r="2.75"/><circle cx="1800.3" cy="909.6" r="2.75"/><circle cx="1771.6" cy="909.8" r="2.75"/><circle cx="1790.8" cy="911.4" r="2.75"/><circle cx="1795.6" cy="911.8" r="2.75"/><circle cx="1785.9" cy="913" r="2.75"/><circle cx="1781.2" cy="917" r="2.75"/><circle cx="1786" cy="920.8" r="2.75"/><circle cx="1790.7" cy="921" r="2.75"/><circle cx="1795.6" cy="921.2" r="2.75"/><circle cx="1786.1" cy="927" r="2.75"/><circle cx="1795.6" cy="932.8" r="2.75"/><circle cx="1786" cy="933.2" r="2.75"/><circle cx="1776.3" cy="933.8" r="2.75"/><circle cx="1790.8" cy="934" r="2.75"/><circle cx="1781.1" cy="934.2" r="2.75"/><circle cx="1800.4" cy="937.8" r="2.75"/><circle cx="1786" cy="938.2" r="2.75"/><circle cx="1781.2" cy="946" r="2.75"/><circle cx="1776.4" cy="948.8" r="2.75"/><circle cx="1790.8" cy="949" r="2.75"/><circle cx="1785.9" cy="949.2" r="2.75"/><circle cx="1795.6" cy="950" r="2.75"/><circle cx="1790.8" cy="955.4" r="2.75"/><circle cx="1781.2" cy="955.8" r="2.75"/><circle cx="1785.9" cy="959" r="2.75"/><circle cx="1831" cy="883" r="2.75"/><circle cx="1831.1" cy="890.4" r="2.75"/><circle cx="1840.5" cy="892" r="2.75"/><circle cx="1812.2" cy="894.4" r="2.75"/><circle cx="1821.6" cy="895" r="2.75"/><circle cx="1831.1" cy="897.4" r="2.75"/><circle cx="1812.4" cy="905" r="2.75"/><circle cx="1840.6" cy="906.4" r="2.75"/><circle cx="1821.7" cy="907" r="2.75"/><circle cx="1831.2" cy="910" r="2.75"/><circle cx="1840.5" cy="912.4" r="2.75"/><circle cx="1821.8" cy="915.4" r="2.75"/><circle cx="1831.2" cy="916.4" r="2.75"/><circle cx="1821.8" cy="918" r="2.75"/><circle cx="1831.1" cy="921" r="2.75"/><circle cx="1840.5" cy="923" r="2.75"/><circle cx="1821.6" cy="926.8" r="2.75"/><circle cx="1831.2" cy="927.2" r="2.75"/><circle cx="1831.1" cy="933" r="2.75"/><circle cx="1831.1" cy="938.4" r="2.75"/><circle cx="1831.1" cy="950.6" r="2.75"/><circle cx="1831.2" cy="965.6" r="2.75"/><circle cx="1831.1" cy="973.6" r="2.75"/><circle cx="1864.8" cy="894" r="2.75"/><circle cx="1869" cy="896" r="2.75"/><circle cx="1860.5" cy="899.8" r="2.75"/><circle cx="1864.7" cy="900.2" r="2.75"/><circle cx="1869" cy="903" r="2.75"/><circle cx="1873.1" cy="904.8" r="2.75"/><circle cx="1868.9" cy="905.2" r="2.75"/><circle cx="1864.7" cy="908.8" r="2.75"/><circle cx="1873.2" cy="909.2" r="2.75"/><circle cx="1869" cy="910.4" r="2.75"/><circle cx="1864.7" cy="915" r="2.75"/><circle cx="1868.9" cy="915.8" r="2.75"/><circle cx="1860.7" cy="916.2" r="2.75"/><circle cx="1856.4" cy="916.8" r="2.75"/><circle cx="1881.5" cy="917" r="2.75"/><circle cx="1877.4" cy="917.2" r="2.75"/><circle cx="1873.3" cy="919.8" r="2.75"/><circle cx="1864.8" cy="920" r="2.75"/><circle cx="1852.1" cy="920.2" r="2.75"/><circle cx="1873.2" cy="921.8" r="2.75"/><circle cx="1869.1" cy="922.2" r="2.75"/><circle cx="1864.7" cy="925" r="2.75"/><circle cx="1868.9" cy="928" r="2.75"/><circle cx="1860.6" cy="931.6" r="2.75"/><circle cx="1877.4" cy="931.8" r="2.75"/><circle cx="1864.7" cy="932.2" r="2.75"/><circle cx="1873.2" cy="932.4" r="2.75"/><circle cx="1860.6" cy="937.8" r="2.75"/><circle cx="1868.9" cy="938.2" r="2.75"/><circle cx="1873.2" cy="939.8" r="2.75"/><circle cx="1864.7" cy="940.2" r="2.75"/><circle cx="1864.9" cy="945.4" r="2.75"/><circle cx="1869.1" cy="945.8" r="2.75"/><circle cx="1868.9" cy="954.4" r="2.75"/><circle cx="1868.9" cy="961.6" r="2.75"/><circle cx="1869" cy="973.6" r="2.75"/><circle cx="1867.3" cy="1056.6" r="2.75"/><circle cx="1905.5" cy="895.6" r="2.75"/><circle cx="1909.7" cy="900" r="2.75"/><circle cx="1915.7" cy="903.9" r="2.75"/><circle cx="1907.2" cy="904.9" r="2.75"/><circle cx="1894" cy="905.6" r="2.75"/><circle cx="1920.3" cy="906.1" r="2.75"/><circle cx="1911.7" cy="906.9" r="2.75"/><circle cx="1899.1" cy="907.5" r="2.75"/><circle cx="1903.1" cy="908.3" r="2.75"/><circle cx="1904.8" cy="909.1" r="2.75"/><circle cx="1918.6" cy="909.9" r="2.75"/><circle cx="1922.4" cy="910.5" r="2.75"/><circle cx="1913.9" cy="911" r="2.75"/><circle cx="1892.4" cy="911.4" r="2.75"/><circle cx="1892.2" cy="911.9" r="2.75"/><circle cx="1909.5" cy="912.7" r="2.75"/><circle cx="1901.1" cy="913.4" r="2.75"/><circle cx="1896.9" cy="913.6" r="2.75"/><circle cx="1892" cy="914.2" r="2.75"/><circle cx="1914.1" cy="914.7" r="2.75"/><circle cx="1909.6" cy="915.2" r="2.75"/><circle cx="1905.4" cy="916.1" r="2.75"/><circle cx="1917.8" cy="916.8" r="2.75"/><circle cx="1892.4" cy="917.2" r="2.75"/><circle cx="1896.6" cy="917.6" r="2.75"/><circle cx="1922.9" cy="918.3" r="2.75"/><circle cx="1900.6" cy="918.6" r="2.75"/><circle cx="1920.6" cy="919.5" r="2.75"/><circle cx="1903.4" cy="919.8" r="2.75"/><circle cx="1898.4" cy="920.2" r="2.75"/><circle cx="1911.3" cy="921.1" r="2.75"/><circle cx="1907.4" cy="921.4" r="2.75"/><circle cx="1915.6" cy="922" r="2.75"/><circle cx="1894.1" cy="924.1" r="2.75"/><circle cx="1896.4" cy="924.8" r="2.75"/><circle cx="1918.2" cy="925.4" r="2.75"/><circle cx="1892.2" cy="926.1" r="2.75"/><circle cx="1896.9" cy="926.3" r="2.75"/><circle cx="1905" cy="927.2" r="2.75"/><circle cx="1913.8" cy="927.4" r="2.75"/><circle cx="1900.5" cy="928.1" r="2.75"/><circle cx="1892" cy="928.8" r="2.75"/><circle cx="1909.7" cy="929.2" r="2.75"/><circle cx="1922.5" cy="929.8" r="2.75"/><circle cx="1913.8" cy="930.5" r="2.75"/><circle cx="1905.3" cy="930.9" r="2.75"/><circle cx="1901.2" cy="931.7" r="2.75"/><circle cx="1909.6" cy="932" r="2.75"/><circle cx="1907.4" cy="936.2" r="2.75"/><circle cx="1903.4" cy="936.8" r="2.75"/><circle cx="1898.4" cy="937.3" r="2.75"/><circle cx="1920.7" cy="937.7" r="2.75"/><circle cx="1894.1" cy="938.9" r="2.75"/><circle cx="1911.8" cy="939.1" r="2.75"/><circle cx="1916.1" cy="940.1" r="2.75"/><circle cx="1905" cy="943.2" r="2.75"/><circle cx="1914.1" cy="944.2" r="2.75"/><circle cx="1909.1" cy="946.4" r="2.75"/><circle cx="1901.1" cy="948" r="2.75"/><circle cx="1909.3" cy="949.3" r="2.75"/><circle cx="1905.3" cy="950.5" r="2.75"/><circle cx="1907.3" cy="967.4" r="2.75"/><circle cx="1947.9" cy="884" r="2.75"/><circle cx="1951" cy="905.2" r="2.75"/><circle cx="1954.5" cy="905.7" r="2.75"/><circle cx="1944.4" cy="906.1" r="2.75"/><circle cx="1937" cy="909.4" r="2.75"/><circle cx="1941" cy="909.7" r="2.75"/><circle cx="1958.6" cy="909.9" r="2.75"/><circle cx="1948.1" cy="910.2" r="2.75"/><circle cx="1949.6" cy="910.3" r="2.75"/><circle cx="1952.8" cy="910.7" r="2.75"/><circle cx="1938.7" cy="910.7" r="2.75"/><circle cx="1956.9" cy="911.1" r="2.75"/><circle cx="1960.4" cy="913.1" r="2.75"/><circle cx="1935.7" cy="913.8" r="2.75"/><circle cx="1942.5" cy="914.5" r="2.75"/><circle cx="1946.2" cy="915" r="2.75"/><circle cx="1964" cy="915.5" r="2.75"/><circle cx="1953" cy="916" r="2.75"/><circle cx="1946.5" cy="916.4" r="2.75"/><circle cx="1939.2" cy="917.1" r="2.75"/><circle cx="1932.4" cy="917.6" r="2.75"/><circle cx="1956.6" cy="918.1" r="2.75"/><circle cx="1935.3" cy="918.9" r="2.75"/><circle cx="1949.2" cy="919.4" r="2.75"/><circle cx="1959.8" cy="919.9" r="2.75"/><circle cx="1942.9" cy="920.3" r="2.75"/><circle cx="1951.6" cy="921.1" r="2.75"/><circle cx="1947.5" cy="921.4" r="2.75"/><circle cx="1954.8" cy="922" r="2.75"/><circle cx="1940.8" cy="924.6" r="2.75"/><circle cx="1944.5" cy="925.7" r="2.75"/><circle cx="1945.8" cy="927" r="2.75"/><circle cx="1949.3" cy="927.9" r="2.75"/><circle cx="1953.3" cy="929.1" r="2.75"/><circle cx="1956.5" cy="930.1" r="2.75"/><circle cx="1942.9" cy="931" r="2.75"/><circle cx="1938.8" cy="932" r="2.75"/><circle cx="1949.7" cy="932.4" r="2.75"/><circle cx="1945.8" cy="933.6" r="2.75"/><circle cx="1946.2" cy="943" r="2.75"/><circle cx="1956.5" cy="943.9" r="2.75"/><circle cx="1935.6" cy="944.3" r="2.75"/><circle cx="1952.8" cy="946.6" r="2.75"/><circle cx="1942.5" cy="946.8" r="2.75"/><circle cx="1949.8" cy="947.2" r="2.75"/><circle cx="1960.4" cy="947.4" r="2.75"/><circle cx="1938.8" cy="947.9" r="2.75"/><circle cx="1948.1" cy="949.4" r="2.75"/><circle cx="1947.7" cy="976.4" r="2.75"/><circle cx="1947.3" cy="1056.6" r="2.75"/><circle cx="1955.2" cy="1056.6" r="2.75"/><circle cx="1951.1" cy="1056.6" r="2.75"/><circle cx="1944.7" cy="1056.6" r="2.75"/><circle cx="1941.3" cy="1056.6" r="2.75"/><circle cx="1988.4" cy="877.4" r="2.75"/><circle cx="1992.7" cy="899.6" r="2.75"/><circle cx="1988.6" cy="899.8" r="2.75"/><circle cx="1996.7" cy="901" r="2.75"/><circle cx="1979.5" cy="901.1" r="2.75"/><circle cx="1983.7" cy="901.4" r="2.75"/><circle cx="1985.8" cy="904.7" r="2.75"/><circle cx="1981.7" cy="905.6" r="2.75"/><circle cx="1998.9" cy="906.6" r="2.75"/><circle cx="1990.5" cy="907.2" r="2.75"/><circle cx="2003.8" cy="907.7" r="2.75"/><circle cx="1994.8" cy="908.2" r="2.75"/><circle cx="1977.7" cy="908.9" r="2.75"/><circle cx="1973.4" cy="909.6" r="2.75"/><circle cx="1986" cy="910.7" r="2.75"/><circle cx="1982" cy="911.2" r="2.75"/><circle cx="1999.4" cy="912.3" r="2.75"/><circle cx="1990.8" cy="912.9" r="2.75"/><circle cx="1994.7" cy="913.5" r="2.75"/><circle cx="1977.8" cy="914" r="2.75"/><circle cx="1998.8" cy="916" r="2.75"/><circle cx="1990.8" cy="916.2" r="2.75"/><circle cx="1986" cy="916.6" r="2.75"/><circle cx="1981.6" cy="917.3" r="2.75"/><circle cx="1981.6" cy="917.8" r="2.75"/><circle cx="1977.1" cy="918.1" r="2.75"/><circle cx="1973" cy="918.6" r="2.75"/><circle cx="2003.3" cy="919" r="2.75"/><circle cx="1973.1" cy="919.9" r="2.75"/><circle cx="1994.6" cy="920.3" r="2.75"/><circle cx="1977.8" cy="920.9" r="2.75"/><circle cx="1988.1" cy="921.4" r="2.75"/><circle cx="1979.3" cy="921.6" r="2.75"/><circle cx="1996.9" cy="922.3" r="2.75"/><circle cx="1983.9" cy="924.9" r="2.75"/><circle cx="1992.2" cy="926.1" r="2.75"/><circle cx="1988" cy="926.9" r="2.75"/><circle cx="1997.1" cy="927.2" r="2.75"/><circle cx="1984" cy="928" r="2.75"/><circle cx="1979.9" cy="928.9" r="2.75"/><circle cx="1992.4" cy="930" r="2.75"/><circle cx="1985.8" cy="936" r="2.75"/><circle cx="1990.7" cy="940" r="2.75"/><circle cx="1986.2" cy="950.2" r="2.75"/><circle cx="1990.8" cy="950.6" r="2.75"/><circle cx="1992.3" cy="956.8" r="2.75"/><circle cx="1983.7" cy="957.2" r="2.75"/><circle cx="1988.5" cy="961.8" r="2.75"/><circle cx="1988.2" cy="962.2" r="2.75"/><circle cx="1992.6" cy="967.4" r="2.75"/><circle cx="1988.1" cy="967.8" r="2.75"/><circle cx="1984.2" cy="969" r="2.75"/><circle cx="1988.2" cy="1000" r="2.75"/><circle cx="1988.2" cy="1056.6" r="2.75"/></g>
</g>
<g class="p">
<text x="204" y="1117" font-size="19.2" text-anchor="middle">EMCD4</text>
<rect x="96.31" y="1280.4" width="32.62" height="101.7" fill="#000080" stroke="#000" stroke-width="1.4"/>
<rect x="136.66" y="1257" width="32.62" height="125.1" fill="#000080" stroke="#000" stroke-width="1.4"/>
<rect x="177.01" y="1250.4" width="32.62" height="131.7" fill="#000080" stroke="#000" stroke-width="1.4"/>
<rect x="217.36" y="1238" width="32.62" height="144.1" fill="#000080" stroke="#000" stroke-width="1.4"/>
<rect x="257.71" y="1228" width="32.62" height="154.1" fill="#000080" stroke="#000" stroke-width="1.4"/>
<rect x="298.06" y="1227.4" width="32.62" height="154.7" fill="#000080" stroke="#000" stroke-width="1.4"/>
<rect x="79" y="1127.6" width="269" height="254.5" fill="none" stroke="#000" stroke-width="1.5"/>
<line x1="67.7" y1="1155" x2="79" y2="1155" stroke="#000" stroke-width="1.6"/>
<text x="56.9" y="1161" font-size="18" text-anchor="end">10</text>
<text transform="translate(65.6 1156.5) scale(1.14 1)" font-size="11.5" text-anchor="end">2</text>
<line x1="67.7" y1="1268.6" x2="79" y2="1268.6" stroke="#000" stroke-width="1.6"/>
<text x="56.9" y="1274.6" font-size="18" text-anchor="end">10</text>
<text transform="translate(65.6 1270.1) scale(1.14 1)" font-size="11.5" text-anchor="end">0</text>
<line x1="67.7" y1="1382.1" x2="79" y2="1382.1" stroke="#000" stroke-width="1.6"/>
<text x="52.5" y="1388.1" font-size="18" text-anchor="end">10</text>
<text transform="translate(65.6 1383.6) scale(1.14 1)" font-size="11.5" text-anchor="end">-2</text>
<line x1="73.2" y1="1234.4" x2="79" y2="1234.4" stroke="#000" stroke-width="1.6"/>
<line x1="73.2" y1="1214.4" x2="79" y2="1214.4" stroke="#000" stroke-width="1.6"/>
<line x1="73.2" y1="1200.21" x2="79" y2="1200.21" stroke="#000" stroke-width="1.6"/>
<line x1="73.2" y1="1189.2" x2="79" y2="1189.2" stroke="#000" stroke-width="1.6"/>
<line x1="73.2" y1="1180.2" x2="79" y2="1180.2" stroke="#000" stroke-width="1.6"/>
<line x1="73.2" y1="1172.6" x2="79" y2="1172.6" stroke="#000" stroke-width="1.6"/>
<line x1="73.2" y1="1166.01" x2="79" y2="1166.01" stroke="#000" stroke-width="1.6"/>
<line x1="73.2" y1="1160.2" x2="79" y2="1160.2" stroke="#000" stroke-width="1.6"/>
<line x1="73.2" y1="1347.93" x2="79" y2="1347.93" stroke="#000" stroke-width="1.6"/>
<line x1="73.2" y1="1327.95" x2="79" y2="1327.95" stroke="#000" stroke-width="1.6"/>
<line x1="73.2" y1="1313.77" x2="79" y2="1313.77" stroke="#000" stroke-width="1.6"/>
<line x1="73.2" y1="1302.77" x2="79" y2="1302.77" stroke="#000" stroke-width="1.6"/>
<line x1="73.2" y1="1293.78" x2="79" y2="1293.78" stroke="#000" stroke-width="1.6"/>
<line x1="73.2" y1="1286.18" x2="79" y2="1286.18" stroke="#000" stroke-width="1.6"/>
<line x1="73.2" y1="1279.6" x2="79" y2="1279.6" stroke="#000" stroke-width="1.6"/>
<line x1="73.2" y1="1273.79" x2="79" y2="1273.79" stroke="#000" stroke-width="1.6"/>
<text transform="translate(13.2 1280) rotate(-90)" font-size="16" text-anchor="middle">% of gated cells</text>
<polyline points="109.6,1197.6 109.6,1181.6 152.4,1181.6 152.4,1188.6" fill="none" stroke="#000" stroke-width="1.5"/>
<polyline points="192.4,1179.6 192.4,1163.6 234.4,1163.6 234.4,1170.4" fill="none" stroke="#000" stroke-width="1.5"/>
<polyline points="234.4,1164 234.4,1152.4 277.4,1152.4 277.4,1159.6" fill="none" stroke="#000" stroke-width="1.5"/>
<text x="132.3" y="1185.8" font-size="19" text-anchor="middle" letter-spacing="2.6">***</text>
<text x="213.4" y="1167" font-size="19" text-anchor="middle">*</text>
<text x="257.9" y="1157.8" font-size="19" text-anchor="middle" letter-spacing="2.6">**</text>
<g class="d"><circle cx="113.7" cy="1220.4" r="2.75"/><circle cx="111" cy="1224" r="2.75"/><circle cx="112.4" cy="1228" r="2.75"/><circle cx="112.4" cy="1235.8" r="2.75"/><circle cx="109.4" cy="1236.2" r="2.75"/><circle cx="115.1" cy="1236.6" r="2.75"/><circle cx="112.4" cy="1242" r="2.75"/><circle cx="109.9" cy="1242.8" r="2.75"/><circle cx="118.2" cy="1244.8" r="2.75"/><circle cx="115.4" cy="1245.9" r="2.75"/><circle cx="106.9" cy="1246.7" r="2.75"/><circle cx="112.5" cy="1247.4" r="2.75"/><circle cx="113" cy="1254" r="2.75"/><circle cx="112.3" cy="1260" r="2.75"/><circle cx="115.8" cy="1266" r="2.75"/><circle cx="110.1" cy="1269.8" r="2.75"/><circle cx="112.9" cy="1270.2" r="2.75"/><circle cx="112.3" cy="1274" r="2.75"/><circle cx="109.7" cy="1281" r="2.75"/><circle cx="115.5" cy="1284.7" r="2.75"/><circle cx="107.2" cy="1285" r="2.75"/><circle cx="113" cy="1285.2" r="2.75"/><circle cx="118.5" cy="1285.7" r="2.75"/><circle cx="113.7" cy="1288" r="2.75"/><circle cx="111.4" cy="1293" r="2.75"/><circle cx="112.3" cy="1301" r="2.75"/><circle cx="127.1" cy="1382.1" r="2.75"/><circle cx="109.3" cy="1382.1" r="2.75"/><circle cx="105.7" cy="1382.1" r="2.75"/><circle cx="119.2" cy="1382.1" r="2.75"/><circle cx="102.3" cy="1382.1" r="2.75"/><circle cx="123.5" cy="1382.1" r="2.75"/><circle cx="98.9" cy="1382.1" r="2.75"/><circle cx="116.6" cy="1382.1" r="2.75"/><circle cx="112.8" cy="1382.1" r="2.75"/><circle cx="151.1" cy="1201.4" r="2.75"/><circle cx="154.8" cy="1206" r="2.75"/><circle cx="151" cy="1216" r="2.75"/><circle cx="147" cy="1218.7" r="2.75"/><circle cx="155.1" cy="1219.4" r="2.75"/><circle cx="158.9" cy="1219.7" r="2.75"/><circle cx="149.1" cy="1224" r="2.75"/><circle cx="157.4" cy="1224.9" r="2.75"/><circle cx="152.8" cy="1226.6" r="2.75"/><circle cx="152.9" cy="1229.1" r="2.75"/><circle cx="156.9" cy="1229.9" r="2.75"/><circle cx="148.8" cy="1231.1" r="2.75"/><circle cx="151.2" cy="1236.5" r="2.75"/><circle cx="143.2" cy="1237" r="2.75"/><circle cx="163.2" cy="1237.9" r="2.75"/><circle cx="155.3" cy="1238.9" r="2.75"/><circle cx="147.3" cy="1239.8" r="2.75"/><circle cx="158.6" cy="1240.7" r="2.75"/><circle cx="157.3" cy="1241.6" r="2.75"/><circle cx="148.8" cy="1242.3" r="2.75"/><circle cx="153.3" cy="1242.8" r="2.75"/><circle cx="160.7" cy="1244.1" r="2.75"/><circle cx="144.8" cy="1246.1" r="2.75"/><circle cx="161.2" cy="1247.5" r="2.75"/><circle cx="157.1" cy="1248.5" r="2.75"/><circle cx="149.2" cy="1249.8" r="2.75"/><circle cx="153.1" cy="1250.9" r="2.75"/><circle cx="145" cy="1251.5" r="2.75"/><circle cx="155.3" cy="1253" r="2.75"/><circle cx="151.1" cy="1254.1" r="2.75"/><circle cx="157.2" cy="1258.3" r="2.75"/><circle cx="140.7" cy="1258.7" r="2.75"/><circle cx="145.3" cy="1259.6" r="2.75"/><circle cx="153" cy="1260" r="2.75"/><circle cx="137" cy="1260.3" r="2.75"/><circle cx="148.7" cy="1261" r="2.75"/><circle cx="169.3" cy="1261.9" r="2.75"/><circle cx="164.9" cy="1262.1" r="2.75"/><circle cx="161.2" cy="1262.8" r="2.75"/><circle cx="149.1" cy="1263.5" r="2.75"/><circle cx="157" cy="1264.1" r="2.75"/><circle cx="144.8" cy="1264.6" r="2.75"/><circle cx="153.2" cy="1266.9" r="2.75"/><circle cx="161.2" cy="1267.4" r="2.75"/><circle cx="147.2" cy="1268.8" r="2.75"/><circle cx="154.8" cy="1271.1" r="2.75"/><circle cx="159.2" cy="1272.2" r="2.75"/><circle cx="150.6" cy="1272.6" r="2.75"/><circle cx="150.8" cy="1273.9" r="2.75"/><circle cx="154.6" cy="1275.4" r="2.75"/><circle cx="155.4" cy="1282" r="2.75"/><circle cx="150.6" cy="1285" r="2.75"/><circle cx="155.4" cy="1290.8" r="2.75"/><circle cx="151.1" cy="1291.4" r="2.75"/><circle cx="152.6" cy="1296" r="2.75"/><circle cx="152.7" cy="1323" r="2.75"/><circle cx="151.1" cy="1382.1" r="2.75"/><circle cx="154.8" cy="1382.1" r="2.75"/><circle cx="147.5" cy="1382.1" r="2.75"/><circle cx="158.8" cy="1382.1" r="2.75"/><circle cx="162.8" cy="1382.1" r="2.75"/><circle cx="143.3" cy="1382.1" r="2.75"/><circle cx="196.1" cy="1206" r="2.75"/><circle cx="193.6" cy="1208.4" r="2.75"/><circle cx="190.2" cy="1209" r="2.75"/><circle cx="196.5" cy="1212.8" r="2.75"/><circle cx="193.1" cy="1212.9" r="2.75"/><circle cx="190.4" cy="1213.5" r="2.75"/><circle cx="193.3" cy="1219" r="2.75"/><circle cx="191.9" cy="1224.8" r="2.75"/><circle cx="194.6" cy="1225.4" r="2.75"/><circle cx="192.2" cy="1231" r="2.75"/><circle cx="194.9" cy="1234.8" r="2.75"/><circle cx="197.8" cy="1235" r="2.75"/><circle cx="189.2" cy="1235.6" r="2.75"/><circle cx="194.4" cy="1238.2" r="2.75"/><circle cx="192.1" cy="1238.7" r="2.75"/><circle cx="203.1" cy="1239.2" r="2.75"/><circle cx="186.1" cy="1240.2" r="2.75"/><circle cx="198" cy="1240.5" r="2.75"/><circle cx="200.7" cy="1241.6" r="2.75"/><circle cx="188.8" cy="1242" r="2.75"/><circle cx="183.5" cy="1242.3" r="2.75"/><circle cx="197.6" cy="1243.3" r="2.75"/><circle cx="185.8" cy="1243.5" r="2.75"/><circle cx="194.4" cy="1244.3" r="2.75"/><circle cx="191.9" cy="1244.7" r="2.75"/><circle cx="200.7" cy="1245.7" r="2.75"/><circle cx="189" cy="1246.3" r="2.75"/><circle cx="188.8" cy="1254.2" r="2.75"/><circle cx="194.9" cy="1254.4" r="2.75"/><circle cx="183.1" cy="1255.7" r="2.75"/><circle cx="200.9" cy="1256.2" r="2.75"/><circle cx="198" cy="1257.1" r="2.75"/><circle cx="186" cy="1257.6" r="2.75"/><circle cx="191.7" cy="1258.4" r="2.75"/><circle cx="203.3" cy="1259.2" r="2.75"/><circle cx="199" cy="1260" r="2.75"/><circle cx="193.2" cy="1260.3" r="2.75"/><circle cx="196.3" cy="1261" r="2.75"/><circle cx="190.7" cy="1262.1" r="2.75"/><circle cx="187.8" cy="1264" r="2.75"/><circle cx="193.2" cy="1270" r="2.75"/><circle cx="193.3" cy="1275.4" r="2.75"/><circle cx="193.7" cy="1281" r="2.75"/><circle cx="193.3" cy="1288" r="2.75"/><circle cx="193.7" cy="1294.4" r="2.75"/><circle cx="194.6" cy="1334.2" r="2.75"/><circle cx="192" cy="1334.8" r="2.75"/><circle cx="193.5" cy="1365.4" r="2.75"/><circle cx="186.3" cy="1382.1" r="2.75"/><circle cx="200.8" cy="1382.1" r="2.75"/><circle cx="196.7" cy="1382.1" r="2.75"/><circle cx="204.3" cy="1382.1" r="2.75"/><circle cx="193.3" cy="1382.1" r="2.75"/><circle cx="179" cy="1382.1" r="2.75"/><circle cx="207.8" cy="1382.1" r="2.75"/><circle cx="182.8" cy="1382.1" r="2.75"/><circle cx="190.1" cy="1382.1" r="2.75"/><circle cx="233.5" cy="1177.4" r="2.75"/><circle cx="233.3" cy="1200.4" r="2.75"/><circle cx="233.6" cy="1206.4" r="2.75"/><circle cx="230.8" cy="1214" r="2.75"/><circle cx="228.1" cy="1215.2" r="2.75"/><circle cx="236.7" cy="1215.9" r="2.75"/><circle cx="239.4" cy="1217.8" r="2.75"/><circle cx="233.5" cy="1218.2" r="2.75"/><circle cx="234.9" cy="1220.2" r="2.75"/><circle cx="232.3" cy="1224.5" r="2.75"/><circle cx="236.8" cy="1225.2" r="2.75"/><circle cx="239.1" cy="1226" r="2.75"/><circle cx="233.6" cy="1227.6" r="2.75"/><circle cx="231.2" cy="1228.3" r="2.75"/><circle cx="227.8" cy="1229.6" r="2.75"/><circle cx="232.4" cy="1230.4" r="2.75"/><circle cx="235.5" cy="1232.3" r="2.75"/><circle cx="229.2" cy="1236.3" r="2.75"/><circle cx="238.1" cy="1237.3" r="2.75"/><circle cx="232.6" cy="1238.3" r="2.75"/><circle cx="235" cy="1240.3" r="2.75"/><circle cx="233.8" cy="1241.7" r="2.75"/><circle cx="236.6" cy="1242.9" r="2.75"/><circle cx="230.5" cy="1243.3" r="2.75"/><circle cx="233.7" cy="1248" r="2.75"/><circle cx="227.6" cy="1254" r="2.75"/><circle cx="236.6" cy="1254.9" r="2.75"/><circle cx="234.1" cy="1256.3" r="2.75"/><circle cx="239.4" cy="1256.7" r="2.75"/><circle cx="230.4" cy="1258.1" r="2.75"/><circle cx="233.9" cy="1259.4" r="2.75"/><circle cx="236.2" cy="1260.1" r="2.75"/><circle cx="230.5" cy="1264" r="2.75"/><circle cx="233.7" cy="1270" r="2.75"/><circle cx="227.1" cy="1382.1" r="2.75"/><circle cx="244.6" cy="1382.1" r="2.75"/><circle cx="247.5" cy="1382.1" r="2.75"/><circle cx="229.9" cy="1382.1" r="2.75"/><circle cx="219.6" cy="1382.1" r="2.75"/><circle cx="234.2" cy="1382.1" r="2.75"/><circle cx="240.9" cy="1382.1" r="2.75"/><circle cx="223.6" cy="1382.1" r="2.75"/><circle cx="237.2" cy="1382.1" r="2.75"/><circle cx="273.6" cy="1180" r="2.75"/><circle cx="263.6" cy="1195.6" r="2.75"/><circle cx="271.9" cy="1196.5" r="2.75"/><circle cx="275.8" cy="1197.3" r="2.75"/><circle cx="267.9" cy="1198.5" r="2.75"/><circle cx="279.9" cy="1199.3" r="2.75"/><circle cx="283.9" cy="1200" r="2.75"/><circle cx="267.7" cy="1203.4" r="2.75"/><circle cx="279.9" cy="1204.3" r="2.75"/><circle cx="263.7" cy="1205.4" r="2.75"/><circle cx="275.9" cy="1206.4" r="2.75"/><circle cx="272.1" cy="1207.6" r="2.75"/><circle cx="283.8" cy="1208.4" r="2.75"/><circle cx="274" cy="1209.4" r="2.75"/><circle cx="270.2" cy="1210.4" r="2.75"/><circle cx="278.3" cy="1211.3" r="2.75"/><circle cx="282.3" cy="1212.1" r="2.75"/><circle cx="266.1" cy="1214" r="2.75"/><circle cx="274.4" cy="1215" r="2.75"/><circle cx="270.2" cy="1215.7" r="2.75"/><circle cx="266.1" cy="1216.1" r="2.75"/><circle cx="257.7" cy="1216.9" r="2.75"/><circle cx="286.3" cy="1217.1" r="2.75"/><circle cx="290.1" cy="1218.1" r="2.75"/><circle cx="282.3" cy="1218.5" r="2.75"/><circle cx="278.4" cy="1219.2" r="2.75"/><circle cx="261.7" cy="1219.6" r="2.75"/><circle cx="275.8" cy="1220.2" r="2.75"/><circle cx="280.2" cy="1220.8" r="2.75"/><circle cx="260.2" cy="1221.4" r="2.75"/><circle cx="283.9" cy="1221.9" r="2.75"/><circle cx="288.1" cy="1222.7" r="2.75"/><circle cx="268.2" cy="1223.6" r="2.75"/><circle cx="272.3" cy="1224" r="2.75"/><circle cx="264.1" cy="1224.7" r="2.75"/><circle cx="283.9" cy="1225.2" r="2.75"/><circle cx="275.9" cy="1225.9" r="2.75"/><circle cx="271.6" cy="1226.6" r="2.75"/><circle cx="280.2" cy="1227" r="2.75"/><circle cx="267.9" cy="1227.4" r="2.75"/><circle cx="264.2" cy="1228" r="2.75"/><circle cx="282.4" cy="1230.3" r="2.75"/><circle cx="261.9" cy="1230.8" r="2.75"/><circle cx="286.2" cy="1231.7" r="2.75"/><circle cx="273.7" cy="1232.9" r="2.75"/><circle cx="266" cy="1233.7" r="2.75"/><circle cx="270.3" cy="1234.1" r="2.75"/><circle cx="278.1" cy="1235.1" r="2.75"/><circle cx="286.4" cy="1235.9" r="2.75"/><circle cx="270.3" cy="1236.7" r="2.75"/><circle cx="273.8" cy="1237.4" r="2.75"/><circle cx="266.1" cy="1238" r="2.75"/><circle cx="282.4" cy="1238.4" r="2.75"/><circle cx="262.1" cy="1239.7" r="2.75"/><circle cx="277.8" cy="1240.1" r="2.75"/><circle cx="265.7" cy="1241.1" r="2.75"/><circle cx="274.1" cy="1241.7" r="2.75"/><circle cx="278" cy="1242.5" r="2.75"/><circle cx="281.8" cy="1243.6" r="2.75"/><circle cx="269.6" cy="1243.8" r="2.75"/><circle cx="273.7" cy="1247" r="2.75"/><circle cx="273.7" cy="1253" r="2.75"/><circle cx="274.1" cy="1265" r="2.75"/><circle cx="274.1" cy="1270.4" r="2.75"/><circle cx="279.6" cy="1382.1" r="2.75"/><circle cx="267.5" cy="1382.1" r="2.75"/><circle cx="284.5" cy="1382.1" r="2.75"/><circle cx="264.4" cy="1382.1" r="2.75"/><circle cx="276" cy="1382.1" r="2.75"/><circle cx="271.6" cy="1382.1" r="2.75"/><circle cx="314.5" cy="1193.4" r="2.75"/><circle cx="311.9" cy="1199.2" r="2.75"/><circle cx="317.4" cy="1200.6" r="2.75"/><circle cx="308.4" cy="1201.7" r="2.75"/><circle cx="320.1" cy="1203.4" r="2.75"/><circle cx="314.4" cy="1204" r="2.75"/><circle cx="315.5" cy="1205.8" r="2.75"/><circle cx="310.2" cy="1206.8" r="2.75"/><circle cx="318.7" cy="1208.3" r="2.75"/><circle cx="313.3" cy="1210.2" r="2.75"/><circle cx="318.3" cy="1211.8" r="2.75"/><circle cx="310.2" cy="1213.4" r="2.75"/><circle cx="313.3" cy="1215.7" r="2.75"/><circle cx="316.1" cy="1216" r="2.75"/><circle cx="313" cy="1217.9" r="2.75"/><circle cx="315.6" cy="1219.9" r="2.75"/><circle cx="315.8" cy="1226" r="2.75"/><circle cx="313" cy="1230.4" r="2.75"/><circle cx="315.7" cy="1240.8" r="2.75"/><circle cx="313.2" cy="1241.4" r="2.75"/><circle cx="314.1" cy="1246" r="2.75"/><circle cx="321" cy="1382.1" r="2.75"/><circle cx="317.9" cy="1382.1" r="2.75"/><circle cx="314.1" cy="1382.1" r="2.75"/><circle cx="328.8" cy="1382.1" r="2.75"/><circle cx="300.6" cy="1382.1" r="2.75"/><circle cx="307.2" cy="1382.1" r="2.75"/><circle cx="325" cy="1382.1" r="2.75"/><circle cx="311.1" cy="1382.1" r="2.75"/><circle cx="303.9" cy="1382.1" r="2.75"/></g>
<line x1="112.62" y1="1382.1" x2="112.62" y2="1392.9" stroke="#000" stroke-width="1.6"/>
<text transform="translate(118.53 1402.8) rotate(-90)" font-size="15.6" text-anchor="end"><tspan>9</tspan><tspan font-size="10.6" dy="-5" dx="0.7">Mths</tspan><tspan font-size="15.6" dy="5" dx="0.3">-1</tspan><tspan font-size="10.6" dy="-5" dx="0.7">Yr</tspan></text>
<line x1="152.97" y1="1382.1" x2="152.97" y2="1392.9" stroke="#000" stroke-width="1.6"/>
<text transform="translate(158.88 1402.8) rotate(-90)" font-size="15.6" text-anchor="end"><tspan>2</tspan><tspan font-size="10.6" dy="-5" dx="0.7">Yrs</tspan></text>
<line x1="193.32" y1="1382.1" x2="193.32" y2="1392.9" stroke="#000" stroke-width="1.6"/>
<text transform="translate(199.22 1402.8) rotate(-90)" font-size="15.6" text-anchor="end"><tspan>3-4</tspan><tspan font-size="10.6" dy="-5" dx="0.7">Yrs</tspan></text>
<line x1="233.68" y1="1382.1" x2="233.68" y2="1392.9" stroke="#000" stroke-width="1.6"/>
<text transform="translate(239.58 1402.8) rotate(-90)" font-size="15.6" text-anchor="end"><tspan>5-7</tspan><tspan font-size="10.6" dy="-5" dx="0.7">Yrs</tspan></text>
<line x1="274.02" y1="1382.1" x2="274.02" y2="1392.9" stroke="#000" stroke-width="1.6"/>
<text transform="translate(279.92 1402.8) rotate(-90)" font-size="15.6" text-anchor="end"><tspan>8-10</tspan><tspan font-size="10.6" dy="-5" dx="0.7">Yrs</tspan></text>
<line x1="314.38" y1="1382.1" x2="314.38" y2="1392.9" stroke="#000" stroke-width="1.6"/>
<text transform="translate(320.27 1402.8) rotate(-90)" font-size="15.6" text-anchor="end"><tspan>11-18</tspan><tspan font-size="10.6" dy="-5" dx="0.7">Yrs</tspan></text>
</g>
<g class="p">
<text x="551.4" y="1117" font-size="19.2" text-anchor="middle">EMCD8</text>
<rect x="433.34" y="1326" width="32.69" height="56.1" fill="#000080" stroke="#000" stroke-width="1.4"/>
<rect x="473.77" y="1294.6" width="32.69" height="87.5" fill="#000080" stroke="#000" stroke-width="1.4"/>
<rect x="514.19" y="1304.4" width="32.69" height="77.7" fill="#000080" stroke="#000" stroke-width="1.4"/>
<rect x="554.62" y="1286" width="32.69" height="96.1" fill="#000080" stroke="#000" stroke-width="1.4"/>
<rect x="595.04" y="1262" width="32.69" height="120.1" fill="#000080" stroke="#000" stroke-width="1.4"/>
<rect x="635.47" y="1279" width="32.69" height="103.1" fill="#000080" stroke="#000" stroke-width="1.4"/>
<rect x="416" y="1127.6" width="269.5" height="254.5" fill="none" stroke="#000" stroke-width="1.5"/>
<line x1="404.7" y1="1155" x2="416" y2="1155" stroke="#000" stroke-width="1.6"/>
<text x="393.9" y="1161" font-size="18" text-anchor="end">10</text>
<text transform="translate(402.6 1156.5) scale(1.14 1)" font-size="11.5" text-anchor="end">2</text>
<line x1="404.7" y1="1268.6" x2="416" y2="1268.6" stroke="#000" stroke-width="1.6"/>
<text x="393.9" y="1274.6" font-size="18" text-anchor="end">10</text>
<text transform="translate(402.6 1270.1) scale(1.14 1)" font-size="11.5" text-anchor="end">0</text>
<line x1="404.7" y1="1382.1" x2="416" y2="1382.1" stroke="#000" stroke-width="1.6"/>
<text x="389.5" y="1388.1" font-size="18" text-anchor="end">10</text>
<text transform="translate(402.6 1383.6) scale(1.14 1)" font-size="11.5" text-anchor="end">-2</text>
<line x1="410.2" y1="1234.4" x2="416" y2="1234.4" stroke="#000" stroke-width="1.6"/>
<line x1="410.2" y1="1214.4" x2="416" y2="1214.4" stroke="#000" stroke-width="1.6"/>
<line x1="410.2" y1="1200.21" x2="416" y2="1200.21" stroke="#000" stroke-width="1.6"/>
<line x1="410.2" y1="1189.2" x2="416" y2="1189.2" stroke="#000" stroke-width="1.6"/>
<line x1="410.2" y1="1180.2" x2="416" y2="1180.2" stroke="#000" stroke-width="1.6"/>
<line x1="410.2" y1="1172.6" x2="416" y2="1172.6" stroke="#000" stroke-width="1.6"/>
<line x1="410.2" y1="1166.01" x2="416" y2="1166.01" stroke="#000" stroke-width="1.6"/>
<line x1="410.2" y1="1160.2" x2="416" y2="1160.2" stroke="#000" stroke-width="1.6"/>
<line x1="410.2" y1="1347.93" x2="416" y2="1347.93" stroke="#000" stroke-width="1.6"/>
<line x1="410.2" y1="1327.95" x2="416" y2="1327.95" stroke="#000" stroke-width="1.6"/>
<line x1="410.2" y1="1313.77" x2="416" y2="1313.77" stroke="#000" stroke-width="1.6"/>
<line x1="410.2" y1="1302.77" x2="416" y2="1302.77" stroke="#000" stroke-width="1.6"/>
<line x1="410.2" y1="1293.78" x2="416" y2="1293.78" stroke="#000" stroke-width="1.6"/>
<line x1="410.2" y1="1286.18" x2="416" y2="1286.18" stroke="#000" stroke-width="1.6"/>
<line x1="410.2" y1="1279.6" x2="416" y2="1279.6" stroke="#000" stroke-width="1.6"/>
<line x1="410.2" y1="1273.79" x2="416" y2="1273.79" stroke="#000" stroke-width="1.6"/>
<polyline points="448.6,1162 448.6,1147.6 530.6,1147.6 530.6,1161.6" fill="none" stroke="#000" stroke-width="1.5"/>
<polyline points="487.6,1147.6 487.6,1154.4" fill="none" stroke="#000" stroke-width="1.5"/>
<polyline points="571.8,1165.6 571.8,1150.6 653.6,1150.6 653.6,1165" fill="none" stroke="#000" stroke-width="1.5"/>
<polyline points="614.4,1150.6 614.4,1157.6" fill="none" stroke="#000" stroke-width="1.5"/>
<text x="469.7" y="1152.8" font-size="19" text-anchor="middle" letter-spacing="2.6">**</text>
<text x="508.6" y="1152.8" font-size="19" text-anchor="middle">*</text>
<text x="592.6" y="1155.4" font-size="19" text-anchor="middle">*</text>
<text x="632.4" y="1155.4" font-size="19" text-anchor="middle">*</text>
<g class="d"><circle cx="449.9" cy="1181.4" r="2.75"/><circle cx="449.6" cy="1220" r="2.75"/><circle cx="449.9" cy="1230" r="2.75"/><circle cx="449.7" cy="1238" r="2.75"/><circle cx="446.3" cy="1241.8" r="2.75"/><circle cx="453.2" cy="1242.4" r="2.75"/><circle cx="449.5" cy="1245" r="2.75"/><circle cx="449.6" cy="1250.4" r="2.75"/><circle cx="448.3" cy="1270.4" r="2.75"/><circle cx="451.3" cy="1274" r="2.75"/><circle cx="449.8" cy="1281.8" r="2.75"/><circle cx="452.9" cy="1282.4" r="2.75"/><circle cx="446" cy="1285" r="2.75"/><circle cx="448.1" cy="1288" r="2.75"/><circle cx="451.1" cy="1292" r="2.75"/><circle cx="447.8" cy="1300" r="2.75"/><circle cx="444.3" cy="1304.2" r="2.75"/><circle cx="451.3" cy="1304.6" r="2.75"/><circle cx="455" cy="1305" r="2.75"/><circle cx="449.3" cy="1309" r="2.75"/><circle cx="446.5" cy="1322.8" r="2.75"/><circle cx="452.7" cy="1323.4" r="2.75"/><circle cx="450" cy="1326" r="2.75"/><circle cx="449.7" cy="1338" r="2.75"/><circle cx="444.8" cy="1382.1" r="2.75"/><circle cx="440.7" cy="1382.1" r="2.75"/><circle cx="458.5" cy="1382.1" r="2.75"/><circle cx="463.6" cy="1382.1" r="2.75"/><circle cx="454.5" cy="1382.1" r="2.75"/><circle cx="449.5" cy="1382.1" r="2.75"/><circle cx="436.3" cy="1382.1" r="2.75"/><circle cx="489" cy="1225" r="2.75"/><circle cx="491.2" cy="1230" r="2.75"/><circle cx="489.8" cy="1233.6" r="2.75"/><circle cx="491.4" cy="1241.6" r="2.75"/><circle cx="488.8" cy="1246" r="2.75"/><circle cx="490.2" cy="1247.6" r="2.75"/><circle cx="493.3" cy="1257.8" r="2.75"/><circle cx="487.1" cy="1258.4" r="2.75"/><circle cx="489.8" cy="1261" r="2.75"/><circle cx="493.4" cy="1265.7" r="2.75"/><circle cx="487.3" cy="1266" r="2.75"/><circle cx="490" cy="1267.5" r="2.75"/><circle cx="484.6" cy="1268.9" r="2.75"/><circle cx="495.6" cy="1270.1" r="2.75"/><circle cx="484.5" cy="1271.4" r="2.75"/><circle cx="489.9" cy="1272.5" r="2.75"/><circle cx="487.1" cy="1273.2" r="2.75"/><circle cx="492.7" cy="1274.4" r="2.75"/><circle cx="496" cy="1275.3" r="2.75"/><circle cx="487.6" cy="1279.2" r="2.75"/><circle cx="490.3" cy="1280.1" r="2.75"/><circle cx="493.2" cy="1282" r="2.75"/><circle cx="490" cy="1284.8" r="2.75"/><circle cx="487.5" cy="1286" r="2.75"/><circle cx="493" cy="1287.7" r="2.75"/><circle cx="490.5" cy="1292" r="2.75"/><circle cx="491.2" cy="1297.4" r="2.75"/><circle cx="488.9" cy="1298" r="2.75"/><circle cx="494.8" cy="1304.6" r="2.75"/><circle cx="489" cy="1306.1" r="2.75"/><circle cx="491.9" cy="1307.9" r="2.75"/><circle cx="486.1" cy="1308.9" r="2.75"/><circle cx="493.1" cy="1310.2" r="2.75"/><circle cx="489.9" cy="1311.8" r="2.75"/><circle cx="487.3" cy="1313.3" r="2.75"/><circle cx="488.6" cy="1315.4" r="2.75"/><circle cx="491.5" cy="1320" r="2.75"/><circle cx="488.9" cy="1324" r="2.75"/><circle cx="491.3" cy="1328" r="2.75"/><circle cx="488.3" cy="1337.8" r="2.75"/><circle cx="491.3" cy="1338.4" r="2.75"/><circle cx="475.9" cy="1382.1" r="2.75"/><circle cx="504.2" cy="1382.1" r="2.75"/><circle cx="501.3" cy="1382.1" r="2.75"/><circle cx="490" cy="1382.1" r="2.75"/><circle cx="478.4" cy="1382.1" r="2.75"/><circle cx="487.5" cy="1382.1" r="2.75"/><circle cx="493.1" cy="1382.1" r="2.75"/><circle cx="481.6" cy="1382.1" r="2.75"/><circle cx="498.9" cy="1382.1" r="2.75"/><circle cx="496" cy="1382.1" r="2.75"/><circle cx="484.9" cy="1382.1" r="2.75"/><circle cx="532" cy="1168" r="2.75"/><circle cx="528.9" cy="1170" r="2.75"/><circle cx="529" cy="1180.8" r="2.75"/><circle cx="531.9" cy="1181.4" r="2.75"/><circle cx="530.6" cy="1203.4" r="2.75"/><circle cx="528.8" cy="1219" r="2.75"/><circle cx="531.6" cy="1223.8" r="2.75"/><circle cx="532.3" cy="1224.4" r="2.75"/><circle cx="529.5" cy="1227.6" r="2.75"/><circle cx="529" cy="1235" r="2.75"/><circle cx="532.3" cy="1239" r="2.75"/><circle cx="530.8" cy="1242" r="2.75"/><circle cx="528.9" cy="1251.7" r="2.75"/><circle cx="535.3" cy="1252.5" r="2.75"/><circle cx="531.8" cy="1253.6" r="2.75"/><circle cx="523.2" cy="1254.7" r="2.75"/><circle cx="538" cy="1255.3" r="2.75"/><circle cx="526.5" cy="1255.8" r="2.75"/><circle cx="530.1" cy="1260.6" r="2.75"/><circle cx="527.4" cy="1261.2" r="2.75"/><circle cx="525" cy="1262.5" r="2.75"/><circle cx="536.6" cy="1264.1" r="2.75"/><circle cx="533.3" cy="1265.6" r="2.75"/><circle cx="529.4" cy="1270" r="2.75"/><circle cx="532.3" cy="1273" r="2.75"/><circle cx="530.3" cy="1278" r="2.75"/><circle cx="528.8" cy="1287" r="2.75"/><circle cx="531.7" cy="1291" r="2.75"/><circle cx="530.7" cy="1293" r="2.75"/><circle cx="533.4" cy="1300" r="2.75"/><circle cx="530.2" cy="1303" r="2.75"/><circle cx="527.3" cy="1305" r="2.75"/><circle cx="530.5" cy="1308" r="2.75"/><circle cx="532.3" cy="1317" r="2.75"/><circle cx="529.3" cy="1320" r="2.75"/><circle cx="530.4" cy="1323" r="2.75"/><circle cx="531.6" cy="1331" r="2.75"/><circle cx="529.4" cy="1334" r="2.75"/><circle cx="530.8" cy="1338" r="2.75"/><circle cx="530.5" cy="1348.4" r="2.75"/><circle cx="530.8" cy="1355.4" r="2.75"/><circle cx="537.7" cy="1382.1" r="2.75"/><circle cx="527.2" cy="1382.1" r="2.75"/><circle cx="530.5" cy="1382.1" r="2.75"/><circle cx="523.7" cy="1382.1" r="2.75"/><circle cx="541.3" cy="1382.1" r="2.75"/><circle cx="534" cy="1382.1" r="2.75"/><circle cx="545" cy="1382.1" r="2.75"/><circle cx="520.3" cy="1382.1" r="2.75"/><circle cx="516.4" cy="1382.1" r="2.75"/><circle cx="571" cy="1172" r="2.75"/><circle cx="571.2" cy="1185.6" r="2.75"/><circle cx="569.2" cy="1209" r="2.75"/><circle cx="572.4" cy="1212" r="2.75"/><circle cx="570.8" cy="1222" r="2.75"/><circle cx="572.2" cy="1228.8" r="2.75"/><circle cx="569.3" cy="1229.4" r="2.75"/><circle cx="572.3" cy="1234" r="2.75"/><circle cx="569.9" cy="1238" r="2.75"/><circle cx="570.9" cy="1242.4" r="2.75"/><circle cx="576.5" cy="1243.2" r="2.75"/><circle cx="568.4" cy="1244.7" r="2.75"/><circle cx="573.5" cy="1245.2" r="2.75"/><circle cx="565.5" cy="1247.1" r="2.75"/><circle cx="571.2" cy="1247.7" r="2.75"/><circle cx="569.7" cy="1253.9" r="2.75"/><circle cx="575.3" cy="1254" r="2.75"/><circle cx="572.5" cy="1254.7" r="2.75"/><circle cx="566.5" cy="1258.8" r="2.75"/><circle cx="568.1" cy="1259.4" r="2.75"/><circle cx="571" cy="1263.8" r="2.75"/><circle cx="574" cy="1264.4" r="2.75"/><circle cx="571.1" cy="1271.6" r="2.75"/><circle cx="569.5" cy="1276.8" r="2.75"/><circle cx="572.7" cy="1277.4" r="2.75"/><circle cx="569.5" cy="1283.6" r="2.75"/><circle cx="572.2" cy="1287" r="2.75"/><circle cx="569.3" cy="1292" r="2.75"/><circle cx="572.4" cy="1296.7" r="2.75"/><circle cx="573.5" cy="1297.3" r="2.75"/><circle cx="570.9" cy="1297.7" r="2.75"/><circle cx="567.8" cy="1302" r="2.75"/><circle cx="572.6" cy="1308.8" r="2.75"/><circle cx="569.1" cy="1309.4" r="2.75"/><circle cx="572.5" cy="1321" r="2.75"/><circle cx="569.2" cy="1325.8" r="2.75"/><circle cx="572.3" cy="1326.4" r="2.75"/><circle cx="569.5" cy="1328" r="2.75"/><circle cx="569.1" cy="1337.6" r="2.75"/><circle cx="572.6" cy="1342.4" r="2.75"/><circle cx="571.2" cy="1343" r="2.75"/><circle cx="581.5" cy="1382.1" r="2.75"/><circle cx="584.9" cy="1382.1" r="2.75"/><circle cx="556.7" cy="1382.1" r="2.75"/><circle cx="571.3" cy="1382.1" r="2.75"/><circle cx="578.1" cy="1382.1" r="2.75"/><circle cx="574.6" cy="1382.1" r="2.75"/><circle cx="567.9" cy="1382.1" r="2.75"/><circle cx="560.8" cy="1382.1" r="2.75"/><circle cx="563.6" cy="1382.1" r="2.75"/><circle cx="614.5" cy="1204.6" r="2.75"/><circle cx="611.3" cy="1206.8" r="2.75"/><circle cx="608.7" cy="1207.4" r="2.75"/><circle cx="609.7" cy="1212" r="2.75"/><circle cx="612.9" cy="1216.6" r="2.75"/><circle cx="612.8" cy="1221" r="2.75"/><circle cx="615.5" cy="1224.9" r="2.75"/><circle cx="606.7" cy="1225.1" r="2.75"/><circle cx="610.3" cy="1225.4" r="2.75"/><circle cx="614.4" cy="1230.7" r="2.75"/><circle cx="617.4" cy="1231.3" r="2.75"/><circle cx="608.7" cy="1231.5" r="2.75"/><circle cx="605.2" cy="1233.8" r="2.75"/><circle cx="611.2" cy="1234.4" r="2.75"/><circle cx="611.5" cy="1237" r="2.75"/><circle cx="606" cy="1244.4" r="2.75"/><circle cx="616.8" cy="1247.6" r="2.75"/><circle cx="613.9" cy="1248" r="2.75"/><circle cx="611.8" cy="1248.3" r="2.75"/><circle cx="608.7" cy="1248.5" r="2.75"/><circle cx="604" cy="1252.3" r="2.75"/><circle cx="606.8" cy="1252.5" r="2.75"/><circle cx="615.6" cy="1253.1" r="2.75"/><circle cx="610.1" cy="1253.2" r="2.75"/><circle cx="618.9" cy="1253.6" r="2.75"/><circle cx="612.8" cy="1253.9" r="2.75"/><circle cx="614.3" cy="1258.2" r="2.75"/><circle cx="605.6" cy="1259" r="2.75"/><circle cx="608.2" cy="1259.9" r="2.75"/><circle cx="617.3" cy="1261.5" r="2.75"/><circle cx="611.4" cy="1261.8" r="2.75"/><circle cx="614" cy="1263.4" r="2.75"/><circle cx="611.2" cy="1263.8" r="2.75"/><circle cx="608.3" cy="1265.8" r="2.75"/><circle cx="617.1" cy="1266.3" r="2.75"/><circle cx="605.4" cy="1268.1" r="2.75"/><circle cx="608.3" cy="1268.7" r="2.75"/><circle cx="611.5" cy="1270" r="2.75"/><circle cx="617.5" cy="1271.3" r="2.75"/><circle cx="614.2" cy="1272" r="2.75"/><circle cx="605.4" cy="1273.3" r="2.75"/><circle cx="610.2" cy="1275" r="2.75"/><circle cx="612.8" cy="1275.6" r="2.75"/><circle cx="616" cy="1282" r="2.75"/><circle cx="610.1" cy="1283.3" r="2.75"/><circle cx="612.6" cy="1283.7" r="2.75"/><circle cx="606.8" cy="1284.7" r="2.75"/><circle cx="608.7" cy="1289" r="2.75"/><circle cx="611" cy="1291.8" r="2.75"/><circle cx="614.4" cy="1292.4" r="2.75"/><circle cx="608.5" cy="1294.7" r="2.75"/><circle cx="614.1" cy="1295.2" r="2.75"/><circle cx="611.1" cy="1295.6" r="2.75"/><circle cx="612.7" cy="1306.4" r="2.75"/><circle cx="609.8" cy="1309.6" r="2.75"/><circle cx="611.2" cy="1334.4" r="2.75"/><circle cx="606.3" cy="1382.1" r="2.75"/><circle cx="597.3" cy="1382.1" r="2.75"/><circle cx="603.7" cy="1382.1" r="2.75"/><circle cx="618.9" cy="1382.1" r="2.75"/><circle cx="612.7" cy="1382.1" r="2.75"/><circle cx="600.9" cy="1382.1" r="2.75"/><circle cx="609.4" cy="1382.1" r="2.75"/><circle cx="615.7" cy="1382.1" r="2.75"/><circle cx="625.7" cy="1382.1" r="2.75"/><circle cx="622.4" cy="1382.1" r="2.75"/><circle cx="650.3" cy="1178.2" r="2.75"/><circle cx="652.9" cy="1178.8" r="2.75"/><circle cx="651.9" cy="1202" r="2.75"/><circle cx="653.4" cy="1209.4" r="2.75"/><circle cx="650.1" cy="1214" r="2.75"/><circle cx="650.5" cy="1220" r="2.75"/><circle cx="652.9" cy="1224" r="2.75"/><circle cx="652" cy="1230" r="2.75"/><circle cx="651.8" cy="1236.4" r="2.75"/><circle cx="654.9" cy="1242" r="2.75"/><circle cx="648.9" cy="1245.8" r="2.75"/><circle cx="651.5" cy="1246.4" r="2.75"/><circle cx="653.3" cy="1250" r="2.75"/><circle cx="650.1" cy="1254" r="2.75"/><circle cx="652" cy="1260" r="2.75"/><circle cx="654.8" cy="1263.8" r="2.75"/><circle cx="649.2" cy="1264.4" r="2.75"/><circle cx="653.7" cy="1268" r="2.75"/><circle cx="650.1" cy="1273" r="2.75"/><circle cx="653.2" cy="1278.8" r="2.75"/><circle cx="650.6" cy="1279.4" r="2.75"/><circle cx="650.2" cy="1297" r="2.75"/><circle cx="653.1" cy="1300" r="2.75"/><circle cx="651.7" cy="1314" r="2.75"/><circle cx="652.2" cy="1382.1" r="2.75"/><circle cx="655" cy="1382.1" r="2.75"/><circle cx="666.3" cy="1382.1" r="2.75"/><circle cx="645" cy="1382.1" r="2.75"/><circle cx="658.7" cy="1382.1" r="2.75"/><circle cx="648.2" cy="1382.1" r="2.75"/><circle cx="638" cy="1382.1" r="2.75"/><circle cx="662.5" cy="1382.1" r="2.75"/><circle cx="640.9" cy="1382.1" r="2.75"/></g>
<line x1="449.69" y1="1382.1" x2="449.69" y2="1392.9" stroke="#000" stroke-width="1.6"/>
<text transform="translate(455.59 1402.8) rotate(-90)" font-size="15.6" text-anchor="end"><tspan>9</tspan><tspan font-size="10.6" dy="-5" dx="0.7">Mths</tspan><tspan font-size="15.6" dy="5" dx="0.3">-1</tspan><tspan font-size="10.6" dy="-5" dx="0.7">Yr</tspan></text>
<line x1="490.11" y1="1382.1" x2="490.11" y2="1392.9" stroke="#000" stroke-width="1.6"/>
<text transform="translate(496.01 1402.8) rotate(-90)" font-size="15.6" text-anchor="end"><tspan>2</tspan><tspan font-size="10.6" dy="-5" dx="0.7">Yrs</tspan></text>
<line x1="530.54" y1="1382.1" x2="530.54" y2="1392.9" stroke="#000" stroke-width="1.6"/>
<text transform="translate(536.44 1402.8) rotate(-90)" font-size="15.6" text-anchor="end"><tspan>3-4</tspan><tspan font-size="10.6" dy="-5" dx="0.7">Yrs</tspan></text>
<line x1="570.96" y1="1382.1" x2="570.96" y2="1392.9" stroke="#000" stroke-width="1.6"/>
<text transform="translate(576.86 1402.8) rotate(-90)" font-size="15.6" text-anchor="end"><tspan>5-7</tspan><tspan font-size="10.6" dy="-5" dx="0.7">Yrs</tspan></text>
<line x1="611.39" y1="1382.1" x2="611.39" y2="1392.9" stroke="#000" stroke-width="1.6"/>
<text transform="translate(617.29 1402.8) rotate(-90)" font-size="15.6" text-anchor="end"><tspan>8-10</tspan><tspan font-size="10.6" dy="-5" dx="0.7">Yrs</tspan></text>
<line x1="651.81" y1="1382.1" x2="651.81" y2="1392.9" stroke="#000" stroke-width="1.6"/>
<text transform="translate(657.71 1402.8) rotate(-90)" font-size="15.6" text-anchor="end"><tspan>11-18</tspan><tspan font-size="10.6" dy="-5" dx="0.7">Yrs</tspan></text>
</g>
<g class="p">
<text x="873" y="1117" font-size="19.2" text-anchor="middle">CMCD19</text>
<rect x="758.31" y="1192" width="32.62" height="190.1" fill="#000080" stroke="#000" stroke-width="1.4"/>
<rect x="798.66" y="1207.6" width="32.62" height="174.5" fill="#000080" stroke="#000" stroke-width="1.4"/>
<rect x="839.01" y="1210" width="32.62" height="172.1" fill="#000080" stroke="#000" stroke-width="1.4"/>
<rect x="879.36" y="1209.4" width="32.62" height="172.7" fill="#000080" stroke="#000" stroke-width="1.4"/>
<rect x="919.71" y="1210" width="32.62" height="172.1" fill="#000080" stroke="#000" stroke-width="1.4"/>
<rect x="960.06" y="1197.6" width="32.62" height="184.5" fill="#000080" stroke="#000" stroke-width="1.4"/>
<rect x="741" y="1127.6" width="269" height="254.5" fill="none" stroke="#000" stroke-width="1.5"/>
<line x1="729.7" y1="1162.6" x2="741" y2="1162.6" stroke="#000" stroke-width="1.6"/>
<text x="718.9" y="1168.6" font-size="18" text-anchor="end">10</text>
<text transform="translate(727.6 1164.1) scale(1.14 1)" font-size="11.5" text-anchor="end">2</text>
<line x1="729.7" y1="1309" x2="741" y2="1309" stroke="#000" stroke-width="1.6"/>
<text x="718.9" y="1315" font-size="18" text-anchor="end">10</text>
<text transform="translate(727.6 1310.5) scale(1.14 1)" font-size="11.5" text-anchor="end">0</text>
<line x1="735.2" y1="1264.93" x2="741" y2="1264.93" stroke="#000" stroke-width="1.6"/>
<line x1="735.2" y1="1239.15" x2="741" y2="1239.15" stroke="#000" stroke-width="1.6"/>
<line x1="735.2" y1="1220.86" x2="741" y2="1220.86" stroke="#000" stroke-width="1.6"/>
<line x1="735.2" y1="1206.67" x2="741" y2="1206.67" stroke="#000" stroke-width="1.6"/>
<line x1="735.2" y1="1195.08" x2="741" y2="1195.08" stroke="#000" stroke-width="1.6"/>
<line x1="735.2" y1="1185.28" x2="741" y2="1185.28" stroke="#000" stroke-width="1.6"/>
<line x1="735.2" y1="1176.79" x2="741" y2="1176.79" stroke="#000" stroke-width="1.6"/>
<line x1="735.2" y1="1169.3" x2="741" y2="1169.3" stroke="#000" stroke-width="1.6"/>
<line x1="735.2" y1="1367.26" x2="741" y2="1367.26" stroke="#000" stroke-width="1.6"/>
<line x1="735.2" y1="1353.07" x2="741" y2="1353.07" stroke="#000" stroke-width="1.6"/>
<line x1="735.2" y1="1341.48" x2="741" y2="1341.48" stroke="#000" stroke-width="1.6"/>
<line x1="735.2" y1="1331.68" x2="741" y2="1331.68" stroke="#000" stroke-width="1.6"/>
<line x1="735.2" y1="1323.19" x2="741" y2="1323.19" stroke="#000" stroke-width="1.6"/>
<line x1="735.2" y1="1315.7" x2="741" y2="1315.7" stroke="#000" stroke-width="1.6"/>
<polyline points="772.4,1158 772.4,1152.6 815,1152.6 815,1168.6" fill="none" stroke="#000" stroke-width="1.5"/>
<polyline points="934.6,1170.6 934.6,1155.4 977.4,1155.4 977.4,1162.4" fill="none" stroke="#000" stroke-width="1.5"/>
<text x="793.4" y="1156" font-size="19" text-anchor="middle">*</text>
<text x="957.3" y="1159" font-size="19" text-anchor="middle" letter-spacing="2.6">***</text>
<g class="d"><circle cx="774.6" cy="1174.2" r="2.75"/><circle cx="769.5" cy="1174.8" r="2.75"/><circle cx="784.1" cy="1177.1" r="2.75"/><circle cx="779.5" cy="1177.7" r="2.75"/><circle cx="789.3" cy="1178.6" r="2.75"/><circle cx="764.9" cy="1178.8" r="2.75"/><circle cx="774.4" cy="1179.9" r="2.75"/><circle cx="784.3" cy="1180.8" r="2.75"/><circle cx="788.9" cy="1181.1" r="2.75"/><circle cx="765.1" cy="1181.7" r="2.75"/><circle cx="779.3" cy="1182.7" r="2.75"/><circle cx="769.7" cy="1183.2" r="2.75"/><circle cx="760" cy="1184.1" r="2.75"/><circle cx="784.5" cy="1185" r="2.75"/><circle cx="770.1" cy="1185.3" r="2.75"/><circle cx="760.2" cy="1186" r="2.75"/><circle cx="764.8" cy="1187" r="2.75"/><circle cx="793.8" cy="1187.5" r="2.75"/><circle cx="775" cy="1188.3" r="2.75"/><circle cx="779.7" cy="1189.1" r="2.75"/><circle cx="788.8" cy="1189.6" r="2.75"/><circle cx="779.2" cy="1190.3" r="2.75"/><circle cx="774.3" cy="1191.2" r="2.75"/><circle cx="769.8" cy="1192" r="2.75"/><circle cx="774.7" cy="1196" r="2.75"/><circle cx="779.5" cy="1203" r="2.75"/><circle cx="774.7" cy="1205" r="2.75"/><circle cx="770" cy="1209" r="2.75"/><circle cx="784.2" cy="1210.8" r="2.75"/><circle cx="774.6" cy="1211.4" r="2.75"/><circle cx="779.1" cy="1213.6" r="2.75"/><circle cx="774.9" cy="1217" r="2.75"/><circle cx="774.6" cy="1227.2" r="2.75"/><circle cx="779.6" cy="1227.8" r="2.75"/><circle cx="774.6" cy="1242" r="2.75"/><circle cx="774.9" cy="1257.2" r="2.75"/><circle cx="779.6" cy="1257.8" r="2.75"/><circle cx="779.6" cy="1273.4" r="2.75"/><circle cx="774.8" cy="1277.6" r="2.75"/><circle cx="775" cy="1299.6" r="2.75"/><circle cx="815" cy="1178" r="2.75"/><circle cx="815" cy="1185.4" r="2.75"/><circle cx="822.3" cy="1187.4" r="2.75"/><circle cx="807.8" cy="1188.4" r="2.75"/><circle cx="807.9" cy="1197.6" r="2.75"/><circle cx="815.1" cy="1200.4" r="2.75"/><circle cx="829.3" cy="1201.6" r="2.75"/><circle cx="822.2" cy="1202.4" r="2.75"/><circle cx="815" cy="1202.8" r="2.75"/><circle cx="807.7" cy="1204.6" r="2.75"/><circle cx="822.1" cy="1207.8" r="2.75"/><circle cx="822.2" cy="1208.2" r="2.75"/><circle cx="814.9" cy="1211" r="2.75"/><circle cx="814.9" cy="1213.6" r="2.75"/><circle cx="822.2" cy="1215.6" r="2.75"/><circle cx="822.1" cy="1224.6" r="2.75"/><circle cx="815" cy="1225" r="2.75"/><circle cx="814.9" cy="1236" r="2.75"/><circle cx="822.1" cy="1238" r="2.75"/><circle cx="807.9" cy="1239.4" r="2.75"/><circle cx="815" cy="1252.6" r="2.75"/><circle cx="822.1" cy="1257.4" r="2.75"/><circle cx="852.9" cy="1184.2" r="2.75"/><circle cx="857.5" cy="1184.6" r="2.75"/><circle cx="861.4" cy="1186" r="2.75"/><circle cx="848.8" cy="1188" r="2.75"/><circle cx="857.8" cy="1194" r="2.75"/><circle cx="861.5" cy="1197" r="2.75"/><circle cx="853" cy="1198.8" r="2.75"/><circle cx="857.6" cy="1199.2" r="2.75"/><circle cx="866.1" cy="1202" r="2.75"/><circle cx="861.5" cy="1202.2" r="2.75"/><circle cx="844.6" cy="1202.4" r="2.75"/><circle cx="849.3" cy="1202.9" r="2.75"/><circle cx="852.9" cy="1203.5" r="2.75"/><circle cx="870.2" cy="1203.8" r="2.75"/><circle cx="840.8" cy="1206.6" r="2.75"/><circle cx="844.8" cy="1206.8" r="2.75"/><circle cx="857.8" cy="1207" r="2.75"/><circle cx="874.3" cy="1207" r="2.75"/><circle cx="861.4" cy="1207.4" r="2.75"/><circle cx="869.8" cy="1207.5" r="2.75"/><circle cx="866.2" cy="1208.7" r="2.75"/><circle cx="852.8" cy="1209" r="2.75"/><circle cx="848.8" cy="1209.5" r="2.75"/><circle cx="852.9" cy="1211.8" r="2.75"/><circle cx="857.2" cy="1212.2" r="2.75"/><circle cx="861.8" cy="1216" r="2.75"/><circle cx="852.9" cy="1219.4" r="2.75"/><circle cx="857.2" cy="1219.8" r="2.75"/><circle cx="861.4" cy="1224.8" r="2.75"/><circle cx="857" cy="1225.2" r="2.75"/><circle cx="853.3" cy="1226.4" r="2.75"/><circle cx="857.4" cy="1230.2" r="2.75"/><circle cx="852.9" cy="1230.6" r="2.75"/><circle cx="857.7" cy="1238" r="2.75"/><circle cx="853.6" cy="1241.4" r="2.75"/><circle cx="857.4" cy="1248" r="2.75"/><circle cx="857.3" cy="1258" r="2.75"/><circle cx="896" cy="1175.4" r="2.75"/><circle cx="893.6" cy="1182" r="2.75"/><circle cx="897.7" cy="1184.4" r="2.75"/><circle cx="901.9" cy="1188" r="2.75"/><circle cx="893.3" cy="1191.7" r="2.75"/><circle cx="888.9" cy="1192" r="2.75"/><circle cx="897.5" cy="1192.4" r="2.75"/><circle cx="891.6" cy="1194.7" r="2.75"/><circle cx="908.9" cy="1195.2" r="2.75"/><circle cx="895.5" cy="1196.2" r="2.75"/><circle cx="883" cy="1196.5" r="2.75"/><circle cx="887" cy="1197.6" r="2.75"/><circle cx="904.6" cy="1198.3" r="2.75"/><circle cx="900" cy="1199" r="2.75"/><circle cx="893.6" cy="1200.1" r="2.75"/><circle cx="898.2" cy="1201.8" r="2.75"/><circle cx="889.1" cy="1202.2" r="2.75"/><circle cx="901.8" cy="1203" r="2.75"/><circle cx="880.3" cy="1203.3" r="2.75"/><circle cx="911.1" cy="1203.6" r="2.75"/><circle cx="884.9" cy="1204.1" r="2.75"/><circle cx="906.7" cy="1204.8" r="2.75"/><circle cx="891.6" cy="1205.2" r="2.75"/><circle cx="903.9" cy="1205.5" r="2.75"/><circle cx="886.7" cy="1206.2" r="2.75"/><circle cx="882.3" cy="1206.8" r="2.75"/><circle cx="895.3" cy="1207.2" r="2.75"/><circle cx="900.1" cy="1207.6" r="2.75"/><circle cx="908.5" cy="1208.2" r="2.75"/><circle cx="906.5" cy="1210.3" r="2.75"/><circle cx="885.2" cy="1210.9" r="2.75"/><circle cx="889" cy="1211.2" r="2.75"/><circle cx="897.8" cy="1212" r="2.75"/><circle cx="884.9" cy="1212.6" r="2.75"/><circle cx="893.5" cy="1213" r="2.75"/><circle cx="880.2" cy="1213.6" r="2.75"/><circle cx="902.4" cy="1213.9" r="2.75"/><circle cx="880.2" cy="1214.7" r="2.75"/><circle cx="910.5" cy="1214.9" r="2.75"/><circle cx="887.1" cy="1215.5" r="2.75"/><circle cx="891.6" cy="1216.2" r="2.75"/><circle cx="895.9" cy="1218.7" r="2.75"/><circle cx="904.1" cy="1218.9" r="2.75"/><circle cx="899.8" cy="1219.9" r="2.75"/><circle cx="885.1" cy="1220.6" r="2.75"/><circle cx="902.2" cy="1221.7" r="2.75"/><circle cx="906.1" cy="1222.3" r="2.75"/><circle cx="898.1" cy="1223.2" r="2.75"/><circle cx="893.7" cy="1224.5" r="2.75"/><circle cx="889.5" cy="1225.2" r="2.75"/><circle cx="891" cy="1226.3" r="2.75"/><circle cx="895.4" cy="1228.7" r="2.75"/><circle cx="900.4" cy="1230.9" r="2.75"/><circle cx="891.3" cy="1231.7" r="2.75"/><circle cx="899.7" cy="1234.9" r="2.75"/><circle cx="895.4" cy="1235.5" r="2.75"/><circle cx="898.2" cy="1237.7" r="2.75"/><circle cx="893.8" cy="1239.5" r="2.75"/><circle cx="893.4" cy="1244" r="2.75"/><circle cx="898" cy="1248.8" r="2.75"/><circle cx="895.3" cy="1249.4" r="2.75"/><circle cx="895.4" cy="1262.4" r="2.75"/><circle cx="895.4" cy="1278" r="2.75"/><circle cx="938.1" cy="1179.4" r="2.75"/><circle cx="933.5" cy="1180.6" r="2.75"/><circle cx="938.2" cy="1185.8" r="2.75"/><circle cx="933.9" cy="1186.4" r="2.75"/><circle cx="938.4" cy="1191" r="2.75"/><circle cx="933.8" cy="1191.3" r="2.75"/><circle cx="925" cy="1192" r="2.75"/><circle cx="947.2" cy="1192.3" r="2.75"/><circle cx="942.6" cy="1192.6" r="2.75"/><circle cx="929.1" cy="1193.3" r="2.75"/><circle cx="938.3" cy="1196.7" r="2.75"/><circle cx="933.4" cy="1197.2" r="2.75"/><circle cx="942.6" cy="1197.4" r="2.75"/><circle cx="934.1" cy="1202.7" r="2.75"/><circle cx="929.4" cy="1203.1" r="2.75"/><circle cx="938.5" cy="1203.2" r="2.75"/><circle cx="942.4" cy="1203.5" r="2.75"/><circle cx="934.1" cy="1207.8" r="2.75"/><circle cx="925.1" cy="1208.4" r="2.75"/><circle cx="938.2" cy="1208.6" r="2.75"/><circle cx="933.6" cy="1209.2" r="2.75"/><circle cx="938.5" cy="1209.6" r="2.75"/><circle cx="942.4" cy="1210.4" r="2.75"/><circle cx="946.9" cy="1210.5" r="2.75"/><circle cx="921" cy="1211.2" r="2.75"/><circle cx="929.1" cy="1211.6" r="2.75"/><circle cx="951.1" cy="1212.1" r="2.75"/><circle cx="942.6" cy="1213.8" r="2.75"/><circle cx="938.2" cy="1214.2" r="2.75"/><circle cx="933.5" cy="1214.3" r="2.75"/><circle cx="929.3" cy="1219.1" r="2.75"/><circle cx="938.2" cy="1219.6" r="2.75"/><circle cx="938.5" cy="1220.6" r="2.75"/><circle cx="934.1" cy="1220.7" r="2.75"/><circle cx="920.6" cy="1221.3" r="2.75"/><circle cx="942.7" cy="1222" r="2.75"/><circle cx="946.8" cy="1222.5" r="2.75"/><circle cx="933.8" cy="1223.2" r="2.75"/><circle cx="951.1" cy="1223.4" r="2.75"/><circle cx="924.7" cy="1224" r="2.75"/><circle cx="933.7" cy="1225.7" r="2.75"/><circle cx="942.7" cy="1226.1" r="2.75"/><circle cx="938.5" cy="1226.4" r="2.75"/><circle cx="938.6" cy="1232" r="2.75"/><circle cx="933.9" cy="1235" r="2.75"/><circle cx="933.9" cy="1241.6" r="2.75"/><circle cx="938.2" cy="1244" r="2.75"/><circle cx="938.4" cy="1251" r="2.75"/><circle cx="938.4" cy="1267.4" r="2.75"/><circle cx="934" cy="1268.6" r="2.75"/><circle cx="971.9" cy="1171.4" r="2.75"/><circle cx="981.1" cy="1171.8" r="2.75"/><circle cx="968.1" cy="1173.7" r="2.75"/><circle cx="976.1" cy="1174.2" r="2.75"/><circle cx="984.9" cy="1174.5" r="2.75"/><circle cx="974.1" cy="1180.9" r="2.75"/><circle cx="961.3" cy="1181.2" r="2.75"/><circle cx="987.5" cy="1181.4" r="2.75"/><circle cx="991.9" cy="1184.1" r="2.75"/><circle cx="965.2" cy="1184.3" r="2.75"/><circle cx="983.1" cy="1184.7" r="2.75"/><circle cx="970.2" cy="1185.6" r="2.75"/><circle cx="978.9" cy="1185.7" r="2.75"/><circle cx="965.6" cy="1186.2" r="2.75"/><circle cx="961.4" cy="1186.9" r="2.75"/><circle cx="965.6" cy="1187.4" r="2.75"/><circle cx="983.1" cy="1188.2" r="2.75"/><circle cx="978.2" cy="1188.7" r="2.75"/><circle cx="970.1" cy="1189" r="2.75"/><circle cx="991.7" cy="1189.6" r="2.75"/><circle cx="987.5" cy="1190.2" r="2.75"/><circle cx="961.4" cy="1190.7" r="2.75"/><circle cx="974" cy="1191.2" r="2.75"/><circle cx="965.6" cy="1191.6" r="2.75"/><circle cx="978.7" cy="1192" r="2.75"/><circle cx="974.2" cy="1194.1" r="2.75"/><circle cx="987.6" cy="1194.9" r="2.75"/><circle cx="982.6" cy="1195.4" r="2.75"/><circle cx="970.3" cy="1196.1" r="2.75"/><circle cx="965.2" cy="1196.7" r="2.75"/><circle cx="974" cy="1197.2" r="2.75"/><circle cx="965.6" cy="1197.4" r="2.75"/><circle cx="960.9" cy="1197.9" r="2.75"/><circle cx="969.7" cy="1198.8" r="2.75"/><circle cx="982.9" cy="1199.2" r="2.75"/><circle cx="991.8" cy="1199.6" r="2.75"/><circle cx="961.3" cy="1200.4" r="2.75"/><circle cx="987.1" cy="1200.7" r="2.75"/><circle cx="978.6" cy="1201.3" r="2.75"/><circle cx="965.4" cy="1201.9" r="2.75"/><circle cx="974.3" cy="1202.5" r="2.75"/><circle cx="986.9" cy="1203.1" r="2.75"/><circle cx="991.7" cy="1203.4" r="2.75"/><circle cx="978.8" cy="1204.2" r="2.75"/><circle cx="960.9" cy="1205.8" r="2.75"/><circle cx="970" cy="1206" r="2.75"/><circle cx="961.2" cy="1206.4" r="2.75"/><circle cx="982.7" cy="1206.7" r="2.75"/><circle cx="972" cy="1220" r="2.75"/><circle cx="980.4" cy="1223.8" r="2.75"/><circle cx="976.4" cy="1224.4" r="2.75"/><circle cx="976.6" cy="1228" r="2.75"/><circle cx="972.4" cy="1231.8" r="2.75"/><circle cx="980.4" cy="1232.4" r="2.75"/><circle cx="972.1" cy="1233.8" r="2.75"/><circle cx="980.4" cy="1234.4" r="2.75"/><circle cx="976.3" cy="1237" r="2.75"/><circle cx="974.1" cy="1242" r="2.75"/><circle cx="978.5" cy="1244" r="2.75"/></g>
<line x1="774.62" y1="1382.1" x2="774.62" y2="1392.9" stroke="#000" stroke-width="1.6"/>
<text transform="translate(780.52 1402.8) rotate(-90)" font-size="15.6" text-anchor="end"><tspan>9</tspan><tspan font-size="10.6" dy="-5" dx="0.7">Mths</tspan><tspan font-size="15.6" dy="5" dx="0.3">-1</tspan><tspan font-size="10.6" dy="-5" dx="0.7">Yr</tspan></text>
<line x1="814.98" y1="1382.1" x2="814.98" y2="1392.9" stroke="#000" stroke-width="1.6"/>
<text transform="translate(820.88 1402.8) rotate(-90)" font-size="15.6" text-anchor="end"><tspan>2</tspan><tspan font-size="10.6" dy="-5" dx="0.7">Yrs</tspan></text>
<line x1="855.33" y1="1382.1" x2="855.33" y2="1392.9" stroke="#000" stroke-width="1.6"/>
<text transform="translate(861.23 1402.8) rotate(-90)" font-size="15.6" text-anchor="end"><tspan>3-4</tspan><tspan font-size="10.6" dy="-5" dx="0.7">Yrs</tspan></text>
<line x1="895.67" y1="1382.1" x2="895.67" y2="1392.9" stroke="#000" stroke-width="1.6"/>
<text transform="translate(901.57 1402.8) rotate(-90)" font-size="15.6" text-anchor="end"><tspan>5-7</tspan><tspan font-size="10.6" dy="-5" dx="0.7">Yrs</tspan></text>
<line x1="936.02" y1="1382.1" x2="936.02" y2="1392.9" stroke="#000" stroke-width="1.6"/>
<text transform="translate(941.92 1402.8) rotate(-90)" font-size="15.6" text-anchor="end"><tspan>8-10</tspan><tspan font-size="10.6" dy="-5" dx="0.7">Yrs</tspan></text>
<line x1="976.38" y1="1382.1" x2="976.38" y2="1392.9" stroke="#000" stroke-width="1.6"/>
<text transform="translate(982.27 1402.8) rotate(-90)" font-size="15.6" text-anchor="end"><tspan>11-18</tspan><tspan font-size="10.6" dy="-5" dx="0.7">Yrs</tspan></text>
</g>
<g class="p">
<text x="1210.4" y="1117" font-size="19.2" text-anchor="middle">EMCD4</text>
<rect x="1109.11" y="1265.4" width="32.72" height="116.7" fill="#fd0000" stroke="#000" stroke-width="1.4"/>
<rect x="1149.57" y="1254.4" width="32.72" height="127.7" fill="#fd0000" stroke="#000" stroke-width="1.4"/>
<rect x="1190.03" y="1251" width="32.72" height="131.1" fill="#fd0000" stroke="#000" stroke-width="1.4"/>
<rect x="1230.5" y="1241" width="32.72" height="141.1" fill="#fd0000" stroke="#000" stroke-width="1.4"/>
<rect x="1270.96" y="1230" width="32.72" height="152.1" fill="#fd0000" stroke="#000" stroke-width="1.4"/>
<rect x="1311.42" y="1236.6" width="32.72" height="145.5" fill="#fd0000" stroke="#000" stroke-width="1.4"/>
<rect x="1091.75" y="1127.6" width="269.75" height="254.5" fill="none" stroke="#000" stroke-width="1.5"/>
<line x1="1080.45" y1="1155" x2="1091.75" y2="1155" stroke="#000" stroke-width="1.6"/>
<text x="1069.65" y="1161" font-size="18" text-anchor="end">10</text>
<text transform="translate(1078.35 1156.5) scale(1.14 1)" font-size="11.5" text-anchor="end">2</text>
<line x1="1080.45" y1="1268.6" x2="1091.75" y2="1268.6" stroke="#000" stroke-width="1.6"/>
<text x="1069.65" y="1274.6" font-size="18" text-anchor="end">10</text>
<text transform="translate(1078.35 1270.1) scale(1.14 1)" font-size="11.5" text-anchor="end">0</text>
<line x1="1080.45" y1="1382.1" x2="1091.75" y2="1382.1" stroke="#000" stroke-width="1.6"/>
<text x="1065.25" y="1388.1" font-size="18" text-anchor="end">10</text>
<text transform="translate(1078.35 1383.6) scale(1.14 1)" font-size="11.5" text-anchor="end">-2</text>
<line x1="1085.95" y1="1234.4" x2="1091.75" y2="1234.4" stroke="#000" stroke-width="1.6"/>
<line x1="1085.95" y1="1214.4" x2="1091.75" y2="1214.4" stroke="#000" stroke-width="1.6"/>
<line x1="1085.95" y1="1200.21" x2="1091.75" y2="1200.21" stroke="#000" stroke-width="1.6"/>
<line x1="1085.95" y1="1189.2" x2="1091.75" y2="1189.2" stroke="#000" stroke-width="1.6"/>
<line x1="1085.95" y1="1180.2" x2="1091.75" y2="1180.2" stroke="#000" stroke-width="1.6"/>
<line x1="1085.95" y1="1172.6" x2="1091.75" y2="1172.6" stroke="#000" stroke-width="1.6"/>
<line x1="1085.95" y1="1166.01" x2="1091.75" y2="1166.01" stroke="#000" stroke-width="1.6"/>
<line x1="1085.95" y1="1160.2" x2="1091.75" y2="1160.2" stroke="#000" stroke-width="1.6"/>
<line x1="1085.95" y1="1347.93" x2="1091.75" y2="1347.93" stroke="#000" stroke-width="1.6"/>
<line x1="1085.95" y1="1327.95" x2="1091.75" y2="1327.95" stroke="#000" stroke-width="1.6"/>
<line x1="1085.95" y1="1313.77" x2="1091.75" y2="1313.77" stroke="#000" stroke-width="1.6"/>
<line x1="1085.95" y1="1302.77" x2="1091.75" y2="1302.77" stroke="#000" stroke-width="1.6"/>
<line x1="1085.95" y1="1293.78" x2="1091.75" y2="1293.78" stroke="#000" stroke-width="1.6"/>
<line x1="1085.95" y1="1286.18" x2="1091.75" y2="1286.18" stroke="#000" stroke-width="1.6"/>
<line x1="1085.95" y1="1279.6" x2="1091.75" y2="1279.6" stroke="#000" stroke-width="1.6"/>
<line x1="1085.95" y1="1273.79" x2="1091.75" y2="1273.79" stroke="#000" stroke-width="1.6"/>
<polyline points="1125.6,1202.6 1125.6,1186.6 1168,1186.6 1168,1193.6" fill="none" stroke="#000" stroke-width="1.5"/>
<polyline points="1205.4,1186.6 1205.4,1170.6 1247.8,1170.6 1247.8,1177.6" fill="none" stroke="#000" stroke-width="1.5"/>
<polyline points="1247.8,1171 1247.8,1159.6 1290.4,1159.6 1290.4,1167" fill="none" stroke="#000" stroke-width="1.5"/>
<text x="1146.4" y="1191" font-size="19" text-anchor="middle">*</text>
<text x="1226.4" y="1175.8" font-size="19" text-anchor="middle">*</text>
<text x="1268.4" y="1164.8" font-size="19" text-anchor="middle">*</text>
<g class="d"><circle cx="1127.1" cy="1214.8" r="2.75"/><circle cx="1129.6" cy="1215.4" r="2.75"/><circle cx="1124.2" cy="1217.8" r="2.75"/><circle cx="1121.2" cy="1218.4" r="2.75"/><circle cx="1119.6" cy="1221.6" r="2.75"/><circle cx="1128.5" cy="1222.1" r="2.75"/><circle cx="1131.4" cy="1222.5" r="2.75"/><circle cx="1122.6" cy="1225.8" r="2.75"/><circle cx="1125.7" cy="1226.4" r="2.75"/><circle cx="1123.9" cy="1231.8" r="2.75"/><circle cx="1121.3" cy="1232.1" r="2.75"/><circle cx="1129.5" cy="1232.3" r="2.75"/><circle cx="1126.9" cy="1236.8" r="2.75"/><circle cx="1121.4" cy="1237.4" r="2.75"/><circle cx="1124" cy="1240.6" r="2.75"/><circle cx="1118.4" cy="1240.8" r="2.75"/><circle cx="1129.7" cy="1240.9" r="2.75"/><circle cx="1132.8" cy="1241.2" r="2.75"/><circle cx="1126.8" cy="1241.6" r="2.75"/><circle cx="1124.2" cy="1244" r="2.75"/><circle cx="1126.9" cy="1249" r="2.75"/><circle cx="1115.2" cy="1252.4" r="2.75"/><circle cx="1132.4" cy="1252.7" r="2.75"/><circle cx="1123.8" cy="1253" r="2.75"/><circle cx="1121.3" cy="1253.2" r="2.75"/><circle cx="1127.1" cy="1253.3" r="2.75"/><circle cx="1118.2" cy="1253.5" r="2.75"/><circle cx="1129.9" cy="1256.7" r="2.75"/><circle cx="1135.8" cy="1257.1" r="2.75"/><circle cx="1127.1" cy="1257.5" r="2.75"/><circle cx="1123.8" cy="1261.7" r="2.75"/><circle cx="1125.2" cy="1262.5" r="2.75"/><circle cx="1116.9" cy="1263.2" r="2.75"/><circle cx="1128.5" cy="1264" r="2.75"/><circle cx="1120" cy="1264.6" r="2.75"/><circle cx="1134" cy="1265.4" r="2.75"/><circle cx="1131.4" cy="1266.3" r="2.75"/><circle cx="1122.5" cy="1267" r="2.75"/><circle cx="1125.3" cy="1267.6" r="2.75"/><circle cx="1131.5" cy="1268.6" r="2.75"/><circle cx="1128.2" cy="1269.6" r="2.75"/><circle cx="1120" cy="1270.1" r="2.75"/><circle cx="1122.4" cy="1272.5" r="2.75"/><circle cx="1128.3" cy="1274.4" r="2.75"/><circle cx="1131.6" cy="1275.4" r="2.75"/><circle cx="1122.4" cy="1276.5" r="2.75"/><circle cx="1119.8" cy="1278.3" r="2.75"/><circle cx="1125.7" cy="1279.1" r="2.75"/><circle cx="1127.1" cy="1284.2" r="2.75"/><circle cx="1124.2" cy="1284.7" r="2.75"/><circle cx="1133" cy="1285.7" r="2.75"/><circle cx="1130.2" cy="1287" r="2.75"/><circle cx="1121.3" cy="1287.8" r="2.75"/><circle cx="1118.4" cy="1288.7" r="2.75"/><circle cx="1119.7" cy="1289.4" r="2.75"/><circle cx="1131.7" cy="1290.3" r="2.75"/><circle cx="1123" cy="1291.2" r="2.75"/><circle cx="1125.8" cy="1292.3" r="2.75"/><circle cx="1128.7" cy="1294" r="2.75"/><circle cx="1125.1" cy="1298.4" r="2.75"/><circle cx="1125.4" cy="1306" r="2.75"/><circle cx="1125.8" cy="1317" r="2.75"/><circle cx="1129" cy="1382.1" r="2.75"/><circle cx="1118.2" cy="1382.1" r="2.75"/><circle cx="1136.2" cy="1382.1" r="2.75"/><circle cx="1114.6" cy="1382.1" r="2.75"/><circle cx="1139.6" cy="1382.1" r="2.75"/><circle cx="1111.2" cy="1382.1" r="2.75"/><circle cx="1122.1" cy="1382.1" r="2.75"/><circle cx="1132.6" cy="1382.1" r="2.75"/><circle cx="1125.3" cy="1382.1" r="2.75"/><circle cx="1165.8" cy="1204" r="2.75"/><circle cx="1163.4" cy="1212.4" r="2.75"/><circle cx="1165.7" cy="1214.2" r="2.75"/><circle cx="1169.2" cy="1214.8" r="2.75"/><circle cx="1161.7" cy="1219.5" r="2.75"/><circle cx="1164.1" cy="1219.8" r="2.75"/><circle cx="1173.5" cy="1219.9" r="2.75"/><circle cx="1158.7" cy="1220.2" r="2.75"/><circle cx="1170.6" cy="1220.5" r="2.75"/><circle cx="1167.5" cy="1220.7" r="2.75"/><circle cx="1171.8" cy="1224.7" r="2.75"/><circle cx="1156.9" cy="1225.5" r="2.75"/><circle cx="1160.5" cy="1226.2" r="2.75"/><circle cx="1169.2" cy="1226.7" r="2.75"/><circle cx="1163.4" cy="1227.4" r="2.75"/><circle cx="1174.4" cy="1228.6" r="2.75"/><circle cx="1166.1" cy="1229.6" r="2.75"/><circle cx="1171.7" cy="1230.1" r="2.75"/><circle cx="1165.8" cy="1230.8" r="2.75"/><circle cx="1159.9" cy="1231.6" r="2.75"/><circle cx="1169" cy="1234.1" r="2.75"/><circle cx="1163" cy="1235.1" r="2.75"/><circle cx="1174.3" cy="1235.3" r="2.75"/><circle cx="1168.8" cy="1236.1" r="2.75"/><circle cx="1172" cy="1236.8" r="2.75"/><circle cx="1157.1" cy="1237.7" r="2.75"/><circle cx="1166.1" cy="1238.5" r="2.75"/><circle cx="1160.2" cy="1238.6" r="2.75"/><circle cx="1162.8" cy="1239.3" r="2.75"/><circle cx="1154.6" cy="1240.5" r="2.75"/><circle cx="1163.3" cy="1241.1" r="2.75"/><circle cx="1168.5" cy="1241.3" r="2.75"/><circle cx="1175" cy="1242.1" r="2.75"/><circle cx="1166.1" cy="1242.8" r="2.75"/><circle cx="1177.8" cy="1243.4" r="2.75"/><circle cx="1160" cy="1244.1" r="2.75"/><circle cx="1171.9" cy="1244.8" r="2.75"/><circle cx="1156.9" cy="1245.3" r="2.75"/><circle cx="1171.5" cy="1245.8" r="2.75"/><circle cx="1166.1" cy="1246.5" r="2.75"/><circle cx="1163.1" cy="1247.2" r="2.75"/><circle cx="1169" cy="1247.8" r="2.75"/><circle cx="1159.8" cy="1250.4" r="2.75"/><circle cx="1154.4" cy="1251" r="2.75"/><circle cx="1157.3" cy="1251.4" r="2.75"/><circle cx="1163.2" cy="1252.3" r="2.75"/><circle cx="1177.7" cy="1252.9" r="2.75"/><circle cx="1171.6" cy="1253.3" r="2.75"/><circle cx="1168.7" cy="1254" r="2.75"/><circle cx="1174.8" cy="1254.4" r="2.75"/><circle cx="1165.8" cy="1255.4" r="2.75"/><circle cx="1159.9" cy="1255.8" r="2.75"/><circle cx="1174.5" cy="1256.2" r="2.75"/><circle cx="1157.2" cy="1256.8" r="2.75"/><circle cx="1165.7" cy="1257.8" r="2.75"/><circle cx="1159.9" cy="1258.2" r="2.75"/><circle cx="1162.9" cy="1259" r="2.75"/><circle cx="1171.9" cy="1259.3" r="2.75"/><circle cx="1168.6" cy="1260.3" r="2.75"/><circle cx="1158.5" cy="1262.7" r="2.75"/><circle cx="1161.4" cy="1263" r="2.75"/><circle cx="1164.8" cy="1264.2" r="2.75"/><circle cx="1170.3" cy="1264.7" r="2.75"/><circle cx="1167.7" cy="1266" r="2.75"/><circle cx="1173" cy="1266.9" r="2.75"/><circle cx="1165.7" cy="1267.7" r="2.75"/><circle cx="1169.1" cy="1268.1" r="2.75"/><circle cx="1174.4" cy="1268.9" r="2.75"/><circle cx="1159.8" cy="1270.2" r="2.75"/><circle cx="1171.8" cy="1270.9" r="2.75"/><circle cx="1162.6" cy="1271.5" r="2.75"/><circle cx="1156.9" cy="1272.4" r="2.75"/><circle cx="1161.7" cy="1273.5" r="2.75"/><circle cx="1167.4" cy="1274" r="2.75"/><circle cx="1164.7" cy="1275.2" r="2.75"/><circle cx="1170" cy="1275.8" r="2.75"/><circle cx="1168.6" cy="1280.7" r="2.75"/><circle cx="1163.1" cy="1281.1" r="2.75"/><circle cx="1165.7" cy="1281.4" r="2.75"/><circle cx="1166" cy="1286" r="2.75"/><circle cx="1165.6" cy="1293" r="2.75"/><circle cx="1169.5" cy="1382.1" r="2.75"/><circle cx="1166.1" cy="1382.1" r="2.75"/><circle cx="1152" cy="1382.1" r="2.75"/><circle cx="1159.1" cy="1382.1" r="2.75"/><circle cx="1172.7" cy="1382.1" r="2.75"/><circle cx="1176.8" cy="1382.1" r="2.75"/><circle cx="1162.6" cy="1382.1" r="2.75"/><circle cx="1155.8" cy="1382.1" r="2.75"/><circle cx="1180.1" cy="1382.1" r="2.75"/><circle cx="1204.6" cy="1201.4" r="2.75"/><circle cx="1207.7" cy="1204" r="2.75"/><circle cx="1207.7" cy="1208.6" r="2.75"/><circle cx="1205.1" cy="1212" r="2.75"/><circle cx="1207.8" cy="1215" r="2.75"/><circle cx="1204.7" cy="1219.8" r="2.75"/><circle cx="1203.8" cy="1220.4" r="2.75"/><circle cx="1206.3" cy="1224.8" r="2.75"/><circle cx="1209" cy="1225" r="2.75"/><circle cx="1207.5" cy="1225.5" r="2.75"/><circle cx="1205.1" cy="1229" r="2.75"/><circle cx="1199" cy="1231.8" r="2.75"/><circle cx="1202.2" cy="1232.8" r="2.75"/><circle cx="1210.8" cy="1233.9" r="2.75"/><circle cx="1207.8" cy="1234.8" r="2.75"/><circle cx="1205.2" cy="1235.7" r="2.75"/><circle cx="1213.9" cy="1236.8" r="2.75"/><circle cx="1206.1" cy="1237.1" r="2.75"/><circle cx="1200.2" cy="1238.1" r="2.75"/><circle cx="1208.9" cy="1239.2" r="2.75"/><circle cx="1211.9" cy="1239.8" r="2.75"/><circle cx="1203.9" cy="1241.7" r="2.75"/><circle cx="1206.4" cy="1242.3" r="2.75"/><circle cx="1203.7" cy="1243.2" r="2.75"/><circle cx="1212.4" cy="1243.8" r="2.75"/><circle cx="1218.2" cy="1244.3" r="2.75"/><circle cx="1197.9" cy="1245" r="2.75"/><circle cx="1215.3" cy="1245.5" r="2.75"/><circle cx="1195" cy="1245.9" r="2.75"/><circle cx="1200.7" cy="1246.4" r="2.75"/><circle cx="1209.2" cy="1247.2" r="2.75"/><circle cx="1203.5" cy="1247.5" r="2.75"/><circle cx="1217.9" cy="1248.3" r="2.75"/><circle cx="1212.5" cy="1248.7" r="2.75"/><circle cx="1214.8" cy="1249.2" r="2.75"/><circle cx="1206.6" cy="1250" r="2.75"/><circle cx="1195" cy="1250.4" r="2.75"/><circle cx="1197.3" cy="1251.4" r="2.75"/><circle cx="1209.4" cy="1252" r="2.75"/><circle cx="1200.7" cy="1252.3" r="2.75"/><circle cx="1203.2" cy="1252.8" r="2.75"/><circle cx="1206" cy="1253.3" r="2.75"/><circle cx="1209.5" cy="1254.1" r="2.75"/><circle cx="1206.1" cy="1258" r="2.75"/><circle cx="1207.7" cy="1263.8" r="2.75"/><circle cx="1205.2" cy="1264.4" r="2.75"/><circle cx="1204.8" cy="1270.6" r="2.75"/><circle cx="1210.8" cy="1270.8" r="2.75"/><circle cx="1208" cy="1271.2" r="2.75"/><circle cx="1202.1" cy="1271.5" r="2.75"/><circle cx="1206.7" cy="1281.6" r="2.75"/><circle cx="1206.5" cy="1290.6" r="2.75"/><circle cx="1206.1" cy="1355.4" r="2.75"/><circle cx="1213.8" cy="1382.1" r="2.75"/><circle cx="1217" cy="1382.1" r="2.75"/><circle cx="1199.6" cy="1382.1" r="2.75"/><circle cx="1206.8" cy="1382.1" r="2.75"/><circle cx="1202.8" cy="1382.1" r="2.75"/><circle cx="1195.7" cy="1382.1" r="2.75"/><circle cx="1210.3" cy="1382.1" r="2.75"/><circle cx="1220.6" cy="1382.1" r="2.75"/><circle cx="1192.3" cy="1382.1" r="2.75"/><circle cx="1247.9" cy="1186.6" r="2.75"/><circle cx="1245.3" cy="1191" r="2.75"/><circle cx="1246.8" cy="1197.4" r="2.75"/><circle cx="1247" cy="1204" r="2.75"/><circle cx="1247.1" cy="1210" r="2.75"/><circle cx="1243.7" cy="1214.2" r="2.75"/><circle cx="1250.2" cy="1214.6" r="2.75"/><circle cx="1247.9" cy="1215.4" r="2.75"/><circle cx="1239.2" cy="1216.5" r="2.75"/><circle cx="1242.4" cy="1217.4" r="2.75"/><circle cx="1254.2" cy="1218.1" r="2.75"/><circle cx="1245.2" cy="1219.3" r="2.75"/><circle cx="1251.6" cy="1219.8" r="2.75"/><circle cx="1240.8" cy="1222" r="2.75"/><circle cx="1247" cy="1223.2" r="2.75"/><circle cx="1249.7" cy="1224.5" r="2.75"/><circle cx="1243.7" cy="1225.6" r="2.75"/><circle cx="1252.6" cy="1226.3" r="2.75"/><circle cx="1249.8" cy="1227.5" r="2.75"/><circle cx="1246.9" cy="1229" r="2.75"/><circle cx="1240.9" cy="1230.1" r="2.75"/><circle cx="1252.6" cy="1230.9" r="2.75"/><circle cx="1243.8" cy="1231.5" r="2.75"/><circle cx="1250" cy="1234.5" r="2.75"/><circle cx="1252.4" cy="1235.7" r="2.75"/><circle cx="1241.4" cy="1236.4" r="2.75"/><circle cx="1244.2" cy="1237.2" r="2.75"/><circle cx="1246.8" cy="1239.1" r="2.75"/><circle cx="1249.8" cy="1240.1" r="2.75"/><circle cx="1252.5" cy="1240.4" r="2.75"/><circle cx="1244.1" cy="1241.8" r="2.75"/><circle cx="1241" cy="1243" r="2.75"/><circle cx="1247" cy="1243.7" r="2.75"/><circle cx="1247.1" cy="1246.1" r="2.75"/><circle cx="1249.5" cy="1248.1" r="2.75"/><circle cx="1252.8" cy="1249.3" r="2.75"/><circle cx="1244.2" cy="1250.1" r="2.75"/><circle cx="1241" cy="1251" r="2.75"/><circle cx="1247.2" cy="1252.5" r="2.75"/><circle cx="1243.8" cy="1253.4" r="2.75"/><circle cx="1249.9" cy="1257.5" r="2.75"/><circle cx="1250.1" cy="1257.5" r="2.75"/><circle cx="1252.3" cy="1257.9" r="2.75"/><circle cx="1241.4" cy="1258.3" r="2.75"/><circle cx="1244.1" cy="1258.5" r="2.75"/><circle cx="1246.7" cy="1258.7" r="2.75"/><circle cx="1246.6" cy="1263.6" r="2.75"/><circle cx="1249.9" cy="1264" r="2.75"/><circle cx="1244" cy="1264.4" r="2.75"/><circle cx="1248" cy="1270" r="2.75"/><circle cx="1245.3" cy="1274.8" r="2.75"/><circle cx="1246.8" cy="1275.4" r="2.75"/><circle cx="1247" cy="1293.6" r="2.75"/><circle cx="1247.3" cy="1317" r="2.75"/><circle cx="1257.6" cy="1382.1" r="2.75"/><circle cx="1254" cy="1382.1" r="2.75"/><circle cx="1243.7" cy="1382.1" r="2.75"/><circle cx="1250.2" cy="1382.1" r="2.75"/><circle cx="1247.3" cy="1382.1" r="2.75"/><circle cx="1232.6" cy="1382.1" r="2.75"/><circle cx="1240.2" cy="1382.1" r="2.75"/><circle cx="1261.1" cy="1382.1" r="2.75"/><circle cx="1235.8" cy="1382.1" r="2.75"/><circle cx="1285" cy="1195" r="2.75"/><circle cx="1281.1" cy="1197.9" r="2.75"/><circle cx="1293.6" cy="1198" r="2.75"/><circle cx="1289.1" cy="1198.3" r="2.75"/><circle cx="1287.5" cy="1201" r="2.75"/><circle cx="1279.2" cy="1207.8" r="2.75"/><circle cx="1295.1" cy="1208.1" r="2.75"/><circle cx="1283.2" cy="1208.4" r="2.75"/><circle cx="1299.2" cy="1211.2" r="2.75"/><circle cx="1291" cy="1211.5" r="2.75"/><circle cx="1271.5" cy="1212" r="2.75"/><circle cx="1275" cy="1212" r="2.75"/><circle cx="1303" cy="1212.3" r="2.75"/><circle cx="1287" cy="1212.7" r="2.75"/><circle cx="1277" cy="1216.9" r="2.75"/><circle cx="1281.5" cy="1218" r="2.75"/><circle cx="1297.6" cy="1218.6" r="2.75"/><circle cx="1293.5" cy="1220.1" r="2.75"/><circle cx="1285" cy="1220.8" r="2.75"/><circle cx="1289.3" cy="1221.6" r="2.75"/><circle cx="1273.5" cy="1222.8" r="2.75"/><circle cx="1277.6" cy="1224.1" r="2.75"/><circle cx="1285.7" cy="1225.4" r="2.75"/><circle cx="1281.6" cy="1225.5" r="2.75"/><circle cx="1293.7" cy="1225.8" r="2.75"/><circle cx="1297.2" cy="1226.2" r="2.75"/><circle cx="1301.6" cy="1226.3" r="2.75"/><circle cx="1289.4" cy="1226.7" r="2.75"/><circle cx="1285.3" cy="1230.3" r="2.75"/><circle cx="1293.1" cy="1231.1" r="2.75"/><circle cx="1297.2" cy="1231.9" r="2.75"/><circle cx="1281.3" cy="1232.9" r="2.75"/><circle cx="1277.1" cy="1234.2" r="2.75"/><circle cx="1289" cy="1234.4" r="2.75"/><circle cx="1294.9" cy="1235.7" r="2.75"/><circle cx="1279.6" cy="1236.2" r="2.75"/><circle cx="1287" cy="1236.9" r="2.75"/><circle cx="1291.5" cy="1238.2" r="2.75"/><circle cx="1283.6" cy="1240.4" r="2.75"/><circle cx="1279.5" cy="1241.3" r="2.75"/><circle cx="1287.5" cy="1242.5" r="2.75"/><circle cx="1295.6" cy="1243.9" r="2.75"/><circle cx="1283.1" cy="1245" r="2.75"/><circle cx="1291.4" cy="1245.8" r="2.75"/><circle cx="1281.2" cy="1246.3" r="2.75"/><circle cx="1293.6" cy="1248" r="2.75"/><circle cx="1289.4" cy="1248.9" r="2.75"/><circle cx="1285" cy="1250.3" r="2.75"/><circle cx="1287.2" cy="1253" r="2.75"/><circle cx="1285" cy="1265" r="2.75"/><circle cx="1289.6" cy="1270" r="2.75"/><circle cx="1287.7" cy="1273" r="2.75"/><circle cx="1287.4" cy="1286.6" r="2.75"/><circle cx="1287.5" cy="1296" r="2.75"/><circle cx="1289" cy="1382.1" r="2.75"/><circle cx="1297.6" cy="1382.1" r="2.75"/><circle cx="1277" cy="1382.1" r="2.75"/><circle cx="1281.4" cy="1382.1" r="2.75"/><circle cx="1285.1" cy="1382.1" r="2.75"/><circle cx="1293.7" cy="1382.1" r="2.75"/><circle cx="1327.7" cy="1163" r="2.75"/><circle cx="1326.1" cy="1176" r="2.75"/><circle cx="1329.3" cy="1179.6" r="2.75"/><circle cx="1329.1" cy="1186.8" r="2.75"/><circle cx="1326.2" cy="1187.4" r="2.75"/><circle cx="1327.5" cy="1193.4" r="2.75"/><circle cx="1327.8" cy="1204" r="2.75"/><circle cx="1327.4" cy="1209.7" r="2.75"/><circle cx="1333.9" cy="1210.2" r="2.75"/><circle cx="1322" cy="1211.9" r="2.75"/><circle cx="1325.1" cy="1213" r="2.75"/><circle cx="1330.3" cy="1213.6" r="2.75"/><circle cx="1331.1" cy="1216.7" r="2.75"/><circle cx="1328.1" cy="1218.5" r="2.75"/><circle cx="1324.6" cy="1220.2" r="2.75"/><circle cx="1325.2" cy="1222" r="2.75"/><circle cx="1328.1" cy="1223.4" r="2.75"/><circle cx="1330.4" cy="1225.3" r="2.75"/><circle cx="1326.3" cy="1228.2" r="2.75"/><circle cx="1329.2" cy="1232.7" r="2.75"/><circle cx="1323.5" cy="1234.7" r="2.75"/><circle cx="1326.4" cy="1236.8" r="2.75"/><circle cx="1329.2" cy="1238.3" r="2.75"/><circle cx="1331.8" cy="1239.2" r="2.75"/><circle cx="1329" cy="1243.3" r="2.75"/><circle cx="1332" cy="1244.6" r="2.75"/><circle cx="1326.3" cy="1246.4" r="2.75"/><circle cx="1323.1" cy="1247.5" r="2.75"/><circle cx="1330.4" cy="1249" r="2.75"/><circle cx="1324.9" cy="1250.6" r="2.75"/><circle cx="1327.5" cy="1251.3" r="2.75"/><circle cx="1338.2" cy="1382.1" r="2.75"/><circle cx="1320.7" cy="1382.1" r="2.75"/><circle cx="1335.1" cy="1382.1" r="2.75"/><circle cx="1331.2" cy="1382.1" r="2.75"/><circle cx="1324.3" cy="1382.1" r="2.75"/><circle cx="1327.4" cy="1382.1" r="2.75"/><circle cx="1314.1" cy="1382.1" r="2.75"/><circle cx="1317" cy="1382.1" r="2.75"/><circle cx="1341.4" cy="1382.1" r="2.75"/></g>
<line x1="1125.47" y1="1382.1" x2="1125.47" y2="1392.9" stroke="#000" stroke-width="1.6"/>
<text transform="translate(1131.37 1402.8) rotate(-90)" font-size="15.6" text-anchor="end"><tspan>9</tspan><tspan font-size="10.6" dy="-5" dx="0.7">Mths</tspan><tspan font-size="15.6" dy="5" dx="0.3">-1</tspan><tspan font-size="10.6" dy="-5" dx="0.7">Yr</tspan></text>
<line x1="1165.93" y1="1382.1" x2="1165.93" y2="1392.9" stroke="#000" stroke-width="1.6"/>
<text transform="translate(1171.83 1402.8) rotate(-90)" font-size="15.6" text-anchor="end"><tspan>2</tspan><tspan font-size="10.6" dy="-5" dx="0.7">Yrs</tspan></text>
<line x1="1206.39" y1="1382.1" x2="1206.39" y2="1392.9" stroke="#000" stroke-width="1.6"/>
<text transform="translate(1212.29 1402.8) rotate(-90)" font-size="15.6" text-anchor="end"><tspan>3-4</tspan><tspan font-size="10.6" dy="-5" dx="0.7">Yrs</tspan></text>
<line x1="1246.86" y1="1382.1" x2="1246.86" y2="1392.9" stroke="#000" stroke-width="1.6"/>
<text transform="translate(1252.76 1402.8) rotate(-90)" font-size="15.6" text-anchor="end"><tspan>5-7</tspan><tspan font-size="10.6" dy="-5" dx="0.7">Yrs</tspan></text>
<line x1="1287.32" y1="1382.1" x2="1287.32" y2="1392.9" stroke="#000" stroke-width="1.6"/>
<text transform="translate(1293.22 1402.8) rotate(-90)" font-size="15.6" text-anchor="end"><tspan>8-10</tspan><tspan font-size="10.6" dy="-5" dx="0.7">Yrs</tspan></text>
<line x1="1327.78" y1="1382.1" x2="1327.78" y2="1392.9" stroke="#000" stroke-width="1.6"/>
<text transform="translate(1333.68 1402.8) rotate(-90)" font-size="15.6" text-anchor="end"><tspan>11-18</tspan><tspan font-size="10.6" dy="-5" dx="0.7">Yrs</tspan></text>
</g>
<g class="p">
<text x="1557.6" y="1117" font-size="19.2" text-anchor="middle">EMCD8</text>
<rect x="1437.61" y="1321" width="32.72" height="61.1" fill="#fd0000" stroke="#000" stroke-width="1.4"/>
<rect x="1478.07" y="1295" width="32.72" height="87.1" fill="#fd0000" stroke="#000" stroke-width="1.4"/>
<rect x="1518.53" y="1283" width="32.72" height="99.1" fill="#fd0000" stroke="#000" stroke-width="1.4"/>
<rect x="1559" y="1286" width="32.72" height="96.1" fill="#fd0000" stroke="#000" stroke-width="1.4"/>
<rect x="1599.46" y="1265.6" width="32.72" height="116.5" fill="#fd0000" stroke="#000" stroke-width="1.4"/>
<rect x="1639.92" y="1281" width="32.72" height="101.1" fill="#fd0000" stroke="#000" stroke-width="1.4"/>
<rect x="1420.25" y="1127.6" width="269.75" height="254.5" fill="none" stroke="#000" stroke-width="1.5"/>
<line x1="1408.95" y1="1155" x2="1420.25" y2="1155" stroke="#000" stroke-width="1.6"/>
<text x="1398.15" y="1161" font-size="18" text-anchor="end">10</text>
<text transform="translate(1406.85 1156.5) scale(1.14 1)" font-size="11.5" text-anchor="end">2</text>
<line x1="1408.95" y1="1268.6" x2="1420.25" y2="1268.6" stroke="#000" stroke-width="1.6"/>
<text x="1398.15" y="1274.6" font-size="18" text-anchor="end">10</text>
<text transform="translate(1406.85 1270.1) scale(1.14 1)" font-size="11.5" text-anchor="end">0</text>
<line x1="1408.95" y1="1382.1" x2="1420.25" y2="1382.1" stroke="#000" stroke-width="1.6"/>
<text x="1393.75" y="1388.1" font-size="18" text-anchor="end">10</text>
<text transform="translate(1406.85 1383.6) scale(1.14 1)" font-size="11.5" text-anchor="end">-2</text>
<line x1="1414.45" y1="1234.4" x2="1420.25" y2="1234.4" stroke="#000" stroke-width="1.6"/>
<line x1="1414.45" y1="1214.4" x2="1420.25" y2="1214.4" stroke="#000" stroke-width="1.6"/>
<line x1="1414.45" y1="1200.21" x2="1420.25" y2="1200.21" stroke="#000" stroke-width="1.6"/>
<line x1="1414.45" y1="1189.2" x2="1420.25" y2="1189.2" stroke="#000" stroke-width="1.6"/>
<line x1="1414.45" y1="1180.2" x2="1420.25" y2="1180.2" stroke="#000" stroke-width="1.6"/>
<line x1="1414.45" y1="1172.6" x2="1420.25" y2="1172.6" stroke="#000" stroke-width="1.6"/>
<line x1="1414.45" y1="1166.01" x2="1420.25" y2="1166.01" stroke="#000" stroke-width="1.6"/>
<line x1="1414.45" y1="1160.2" x2="1420.25" y2="1160.2" stroke="#000" stroke-width="1.6"/>
<line x1="1414.45" y1="1347.93" x2="1420.25" y2="1347.93" stroke="#000" stroke-width="1.6"/>
<line x1="1414.45" y1="1327.95" x2="1420.25" y2="1327.95" stroke="#000" stroke-width="1.6"/>
<line x1="1414.45" y1="1313.77" x2="1420.25" y2="1313.77" stroke="#000" stroke-width="1.6"/>
<line x1="1414.45" y1="1302.77" x2="1420.25" y2="1302.77" stroke="#000" stroke-width="1.6"/>
<line x1="1414.45" y1="1293.78" x2="1420.25" y2="1293.78" stroke="#000" stroke-width="1.6"/>
<line x1="1414.45" y1="1286.18" x2="1420.25" y2="1286.18" stroke="#000" stroke-width="1.6"/>
<line x1="1414.45" y1="1279.6" x2="1420.25" y2="1279.6" stroke="#000" stroke-width="1.6"/>
<line x1="1414.45" y1="1273.79" x2="1420.25" y2="1273.79" stroke="#000" stroke-width="1.6"/>
<polyline points="1451.8,1174 1451.8,1157.6 1494.6,1157.6 1494.6,1165" fill="none" stroke="#000" stroke-width="1.5"/>
<polyline points="1576,1168.6 1576,1152.6 1661.2,1152.6 1661.2,1168.6" fill="none" stroke="#000" stroke-width="1.5"/>
<polyline points="1619,1152.6 1619,1160" fill="none" stroke="#000" stroke-width="1.5"/>
<text x="1473.4" y="1162.4" font-size="19" text-anchor="middle">*</text>
<text x="1596.6" y="1157" font-size="19" text-anchor="middle">*</text>
<text x="1639.6" y="1157" font-size="19" text-anchor="middle">*</text>
<g class="d"><circle cx="1454.2" cy="1194.6" r="2.75"/><circle cx="1453.7" cy="1226" r="2.75"/><circle cx="1452.4" cy="1240.8" r="2.75"/><circle cx="1455.6" cy="1241.4" r="2.75"/><circle cx="1449.5" cy="1250.7" r="2.75"/><circle cx="1452.3" cy="1252.1" r="2.75"/><circle cx="1455.4" cy="1254.5" r="2.75"/><circle cx="1458.1" cy="1255.2" r="2.75"/><circle cx="1454" cy="1257.6" r="2.75"/><circle cx="1450.8" cy="1270.4" r="2.75"/><circle cx="1453.8" cy="1273.8" r="2.75"/><circle cx="1456.8" cy="1275.1" r="2.75"/><circle cx="1454.2" cy="1278.6" r="2.75"/><circle cx="1456.6" cy="1280.9" r="2.75"/><circle cx="1450.8" cy="1283.3" r="2.75"/><circle cx="1452.3" cy="1284.1" r="2.75"/><circle cx="1455.7" cy="1288.2" r="2.75"/><circle cx="1455.7" cy="1291.2" r="2.75"/><circle cx="1458.5" cy="1292.9" r="2.75"/><circle cx="1449.7" cy="1294.6" r="2.75"/><circle cx="1452.4" cy="1295.4" r="2.75"/><circle cx="1455" cy="1298.4" r="2.75"/><circle cx="1452.3" cy="1299.6" r="2.75"/><circle cx="1452.6" cy="1304" r="2.75"/><circle cx="1455" cy="1306.1" r="2.75"/><circle cx="1457.1" cy="1309.3" r="2.75"/><circle cx="1451.2" cy="1311.6" r="2.75"/><circle cx="1453.8" cy="1314" r="2.75"/><circle cx="1454.1" cy="1322" r="2.75"/><circle cx="1452.7" cy="1331" r="2.75"/><circle cx="1455.6" cy="1335" r="2.75"/><circle cx="1455.3" cy="1338" r="2.75"/><circle cx="1452.7" cy="1342.4" r="2.75"/><circle cx="1453.9" cy="1365.4" r="2.75"/><circle cx="1446.6" cy="1382.1" r="2.75"/><circle cx="1450.9" cy="1382.1" r="2.75"/><circle cx="1439.8" cy="1382.1" r="2.75"/><circle cx="1453.8" cy="1382.1" r="2.75"/><circle cx="1443.6" cy="1382.1" r="2.75"/><circle cx="1457.5" cy="1382.1" r="2.75"/><circle cx="1464.6" cy="1382.1" r="2.75"/><circle cx="1461.2" cy="1382.1" r="2.75"/><circle cx="1467.9" cy="1382.1" r="2.75"/><circle cx="1496.2" cy="1179.8" r="2.75"/><circle cx="1493.2" cy="1180.4" r="2.75"/><circle cx="1494.8" cy="1199" r="2.75"/><circle cx="1494.3" cy="1215" r="2.75"/><circle cx="1494.8" cy="1232" r="2.75"/><circle cx="1494.8" cy="1237.6" r="2.75"/><circle cx="1491.2" cy="1251.9" r="2.75"/><circle cx="1488.7" cy="1253.1" r="2.75"/><circle cx="1494.7" cy="1254.2" r="2.75"/><circle cx="1500.1" cy="1255.2" r="2.75"/><circle cx="1497.7" cy="1256.5" r="2.75"/><circle cx="1494.4" cy="1257.3" r="2.75"/><circle cx="1489.8" cy="1262.6" r="2.75"/><circle cx="1492.7" cy="1263.3" r="2.75"/><circle cx="1496.1" cy="1264.5" r="2.75"/><circle cx="1498.6" cy="1265.8" r="2.75"/><circle cx="1490.1" cy="1268" r="2.75"/><circle cx="1495.8" cy="1268.7" r="2.75"/><circle cx="1498.8" cy="1270.3" r="2.75"/><circle cx="1492.8" cy="1271.6" r="2.75"/><circle cx="1493.2" cy="1275.1" r="2.75"/><circle cx="1495.6" cy="1276.7" r="2.75"/><circle cx="1498.9" cy="1277.4" r="2.75"/><circle cx="1489.8" cy="1279.2" r="2.75"/><circle cx="1495.9" cy="1281" r="2.75"/><circle cx="1498.9" cy="1281.9" r="2.75"/><circle cx="1492.8" cy="1283.9" r="2.75"/><circle cx="1490.4" cy="1285.1" r="2.75"/><circle cx="1497.6" cy="1286" r="2.75"/><circle cx="1491.9" cy="1288.2" r="2.75"/><circle cx="1494.6" cy="1290.8" r="2.75"/><circle cx="1497.6" cy="1291.7" r="2.75"/><circle cx="1491.2" cy="1293.8" r="2.75"/><circle cx="1494.4" cy="1295.6" r="2.75"/><circle cx="1491.2" cy="1296.7" r="2.75"/><circle cx="1497.7" cy="1298.2" r="2.75"/><circle cx="1494.3" cy="1299.5" r="2.75"/><circle cx="1494.4" cy="1306" r="2.75"/><circle cx="1491.9" cy="1317" r="2.75"/><circle cx="1497.3" cy="1320.8" r="2.75"/><circle cx="1494.3" cy="1321.4" r="2.75"/><circle cx="1492.8" cy="1331" r="2.75"/><circle cx="1496" cy="1335" r="2.75"/><circle cx="1496.1" cy="1338" r="2.75"/><circle cx="1492.8" cy="1342.4" r="2.75"/><circle cx="1493" cy="1354.8" r="2.75"/><circle cx="1496.3" cy="1355.4" r="2.75"/><circle cx="1508.5" cy="1382.1" r="2.75"/><circle cx="1487.8" cy="1382.1" r="2.75"/><circle cx="1498.3" cy="1382.1" r="2.75"/><circle cx="1501.2" cy="1382.1" r="2.75"/><circle cx="1484.3" cy="1382.1" r="2.75"/><circle cx="1494.9" cy="1382.1" r="2.75"/><circle cx="1480" cy="1382.1" r="2.75"/><circle cx="1504.7" cy="1382.1" r="2.75"/><circle cx="1491.2" cy="1382.1" r="2.75"/><circle cx="1534.7" cy="1169" r="2.75"/><circle cx="1536" cy="1180.8" r="2.75"/><circle cx="1533.4" cy="1181.4" r="2.75"/><circle cx="1534.5" cy="1204.6" r="2.75"/><circle cx="1535.2" cy="1220.4" r="2.75"/><circle cx="1533.1" cy="1230.2" r="2.75"/><circle cx="1536.4" cy="1230.8" r="2.75"/><circle cx="1533.8" cy="1238" r="2.75"/><circle cx="1536.2" cy="1242" r="2.75"/><circle cx="1535" cy="1250" r="2.75"/><circle cx="1530.5" cy="1255.4" r="2.75"/><circle cx="1539.5" cy="1256.2" r="2.75"/><circle cx="1536.6" cy="1256.8" r="2.75"/><circle cx="1533.3" cy="1257.9" r="2.75"/><circle cx="1527.9" cy="1258.8" r="2.75"/><circle cx="1542.3" cy="1260.3" r="2.75"/><circle cx="1533.4" cy="1263.2" r="2.75"/><circle cx="1530.6" cy="1264.1" r="2.75"/><circle cx="1539.6" cy="1267.2" r="2.75"/><circle cx="1536.1" cy="1267.5" r="2.75"/><circle cx="1534.6" cy="1270.2" r="2.75"/><circle cx="1531.6" cy="1271.8" r="2.75"/><circle cx="1537.7" cy="1274.1" r="2.75"/><circle cx="1537.9" cy="1275.4" r="2.75"/><circle cx="1534.8" cy="1278.2" r="2.75"/><circle cx="1532.2" cy="1280.1" r="2.75"/><circle cx="1539.5" cy="1281.9" r="2.75"/><circle cx="1533.4" cy="1283.3" r="2.75"/><circle cx="1530.5" cy="1284.1" r="2.75"/><circle cx="1536.1" cy="1285.4" r="2.75"/><circle cx="1533.4" cy="1290" r="2.75"/><circle cx="1536.6" cy="1294" r="2.75"/><circle cx="1534.6" cy="1298" r="2.75"/><circle cx="1533.8" cy="1304" r="2.75"/><circle cx="1536" cy="1306" r="2.75"/><circle cx="1535" cy="1320.8" r="2.75"/><circle cx="1531.8" cy="1321.4" r="2.75"/><circle cx="1538" cy="1325.4" r="2.75"/><circle cx="1536.5" cy="1334" r="2.75"/><circle cx="1533.7" cy="1338" r="2.75"/><circle cx="1524.6" cy="1382.1" r="2.75"/><circle cx="1527.7" cy="1382.1" r="2.75"/><circle cx="1541.8" cy="1382.1" r="2.75"/><circle cx="1535.2" cy="1382.1" r="2.75"/><circle cx="1545.2" cy="1382.1" r="2.75"/><circle cx="1531" cy="1382.1" r="2.75"/><circle cx="1520.9" cy="1382.1" r="2.75"/><circle cx="1538" cy="1382.1" r="2.75"/><circle cx="1548.9" cy="1382.1" r="2.75"/><circle cx="1575.1" cy="1178" r="2.75"/><circle cx="1575.2" cy="1183.6" r="2.75"/><circle cx="1574.2" cy="1230.7" r="2.75"/><circle cx="1576.6" cy="1231.1" r="2.75"/><circle cx="1570.6" cy="1231.3" r="2.75"/><circle cx="1579.4" cy="1234" r="2.75"/><circle cx="1575.3" cy="1240.4" r="2.75"/><circle cx="1574" cy="1246.8" r="2.75"/><circle cx="1576.6" cy="1247.4" r="2.75"/><circle cx="1573.7" cy="1251.9" r="2.75"/><circle cx="1579.5" cy="1252.2" r="2.75"/><circle cx="1570.8" cy="1252.4" r="2.75"/><circle cx="1576.8" cy="1254" r="2.75"/><circle cx="1575.1" cy="1265.8" r="2.75"/><circle cx="1572.4" cy="1266.4" r="2.75"/><circle cx="1578.6" cy="1270.5" r="2.75"/><circle cx="1567.9" cy="1270.9" r="2.75"/><circle cx="1582.2" cy="1271.3" r="2.75"/><circle cx="1571.4" cy="1271.4" r="2.75"/><circle cx="1579.3" cy="1274.7" r="2.75"/><circle cx="1573.7" cy="1275" r="2.75"/><circle cx="1576.8" cy="1275.5" r="2.75"/><circle cx="1579.7" cy="1279.7" r="2.75"/><circle cx="1571.4" cy="1280" r="2.75"/><circle cx="1576.5" cy="1280.2" r="2.75"/><circle cx="1573.9" cy="1280.5" r="2.75"/><circle cx="1579.9" cy="1284.7" r="2.75"/><circle cx="1573.7" cy="1285.2" r="2.75"/><circle cx="1570.6" cy="1285.6" r="2.75"/><circle cx="1576.5" cy="1288.6" r="2.75"/><circle cx="1581.4" cy="1289.9" r="2.75"/><circle cx="1577.9" cy="1290.4" r="2.75"/><circle cx="1572.7" cy="1292.1" r="2.75"/><circle cx="1569.7" cy="1292.8" r="2.75"/><circle cx="1575.6" cy="1294.1" r="2.75"/><circle cx="1576.6" cy="1298" r="2.75"/><circle cx="1573.8" cy="1302.8" r="2.75"/><circle cx="1575.7" cy="1303.4" r="2.75"/><circle cx="1576.4" cy="1313.8" r="2.75"/><circle cx="1573.6" cy="1314.4" r="2.75"/><circle cx="1573.8" cy="1323" r="2.75"/><circle cx="1576.5" cy="1328" r="2.75"/><circle cx="1575.4" cy="1331" r="2.75"/><circle cx="1575.4" cy="1348" r="2.75"/><circle cx="1582.6" cy="1382.1" r="2.75"/><circle cx="1564.8" cy="1382.1" r="2.75"/><circle cx="1568.7" cy="1382.1" r="2.75"/><circle cx="1578.9" cy="1382.1" r="2.75"/><circle cx="1589.9" cy="1382.1" r="2.75"/><circle cx="1561.5" cy="1382.1" r="2.75"/><circle cx="1572.1" cy="1382.1" r="2.75"/><circle cx="1575.5" cy="1382.1" r="2.75"/><circle cx="1585.8" cy="1382.1" r="2.75"/><circle cx="1615.9" cy="1180.6" r="2.75"/><circle cx="1614.2" cy="1200.6" r="2.75"/><circle cx="1617.4" cy="1205" r="2.75"/><circle cx="1617.5" cy="1213.8" r="2.75"/><circle cx="1614.3" cy="1214.4" r="2.75"/><circle cx="1621.8" cy="1225.6" r="2.75"/><circle cx="1615.7" cy="1225.8" r="2.75"/><circle cx="1612.9" cy="1226.3" r="2.75"/><circle cx="1610" cy="1226.4" r="2.75"/><circle cx="1618.6" cy="1230" r="2.75"/><circle cx="1616.9" cy="1234" r="2.75"/><circle cx="1614" cy="1238" r="2.75"/><circle cx="1616" cy="1242.8" r="2.75"/><circle cx="1612.7" cy="1243.4" r="2.75"/><circle cx="1618.8" cy="1247" r="2.75"/><circle cx="1617.3" cy="1252" r="2.75"/><circle cx="1614.2" cy="1256" r="2.75"/><circle cx="1611.9" cy="1259.7" r="2.75"/><circle cx="1614" cy="1261.3" r="2.75"/><circle cx="1619.8" cy="1262.8" r="2.75"/><circle cx="1617.5" cy="1264" r="2.75"/><circle cx="1614" cy="1265.2" r="2.75"/><circle cx="1617.6" cy="1265.8" r="2.75"/><circle cx="1611.8" cy="1272" r="2.75"/><circle cx="1620.1" cy="1274.9" r="2.75"/><circle cx="1614.1" cy="1275.1" r="2.75"/><circle cx="1617" cy="1275.3" r="2.75"/><circle cx="1615.7" cy="1278" r="2.75"/><circle cx="1613" cy="1289.8" r="2.75"/><circle cx="1615.5" cy="1290.4" r="2.75"/><circle cx="1618.6" cy="1294" r="2.75"/><circle cx="1619" cy="1300.8" r="2.75"/><circle cx="1612.7" cy="1301.2" r="2.75"/><circle cx="1615.7" cy="1301.4" r="2.75"/><circle cx="1615.5" cy="1307" r="2.75"/><circle cx="1614.3" cy="1319" r="2.75"/><circle cx="1617.5" cy="1323" r="2.75"/><circle cx="1615.5" cy="1325.4" r="2.75"/><circle cx="1615.5" cy="1348" r="2.75"/><circle cx="1602.1" cy="1382.1" r="2.75"/><circle cx="1630.3" cy="1382.1" r="2.75"/><circle cx="1623.2" cy="1382.1" r="2.75"/><circle cx="1626.2" cy="1382.1" r="2.75"/><circle cx="1608.3" cy="1382.1" r="2.75"/><circle cx="1605.6" cy="1382.1" r="2.75"/><circle cx="1615.9" cy="1382.1" r="2.75"/><circle cx="1612.1" cy="1382.1" r="2.75"/><circle cx="1619.3" cy="1382.1" r="2.75"/><circle cx="1657.6" cy="1215.4" r="2.75"/><circle cx="1655.2" cy="1215.6" r="2.75"/><circle cx="1660.5" cy="1216" r="2.75"/><circle cx="1651.8" cy="1220" r="2.75"/><circle cx="1655.2" cy="1227.4" r="2.75"/><circle cx="1657.4" cy="1231" r="2.75"/><circle cx="1659.4" cy="1234.7" r="2.75"/><circle cx="1653.2" cy="1235.1" r="2.75"/><circle cx="1655.9" cy="1235.4" r="2.75"/><circle cx="1655.2" cy="1243.8" r="2.75"/><circle cx="1657.4" cy="1244.4" r="2.75"/><circle cx="1655.1" cy="1251.8" r="2.75"/><circle cx="1658" cy="1252.4" r="2.75"/><circle cx="1653.1" cy="1260.4" r="2.75"/><circle cx="1659.2" cy="1263.8" r="2.75"/><circle cx="1656.1" cy="1264.4" r="2.75"/><circle cx="1654.7" cy="1268" r="2.75"/><circle cx="1658" cy="1273" r="2.75"/><circle cx="1657.4" cy="1276" r="2.75"/><circle cx="1654.9" cy="1280" r="2.75"/><circle cx="1658" cy="1284" r="2.75"/><circle cx="1654.4" cy="1289" r="2.75"/><circle cx="1656.3" cy="1296" r="2.75"/><circle cx="1656.5" cy="1305" r="2.75"/><circle cx="1656.5" cy="1323" r="2.75"/><circle cx="1656.6" cy="1382.1" r="2.75"/><circle cx="1645.6" cy="1382.1" r="2.75"/><circle cx="1667.3" cy="1382.1" r="2.75"/><circle cx="1659.5" cy="1382.1" r="2.75"/><circle cx="1642.1" cy="1382.1" r="2.75"/><circle cx="1670.4" cy="1382.1" r="2.75"/><circle cx="1652.7" cy="1382.1" r="2.75"/><circle cx="1649.3" cy="1382.1" r="2.75"/><circle cx="1663.8" cy="1382.1" r="2.75"/></g>
<line x1="1453.97" y1="1382.1" x2="1453.97" y2="1392.9" stroke="#000" stroke-width="1.6"/>
<text transform="translate(1459.87 1402.8) rotate(-90)" font-size="15.6" text-anchor="end"><tspan>9</tspan><tspan font-size="10.6" dy="-5" dx="0.7">Mths</tspan><tspan font-size="15.6" dy="5" dx="0.3">-1</tspan><tspan font-size="10.6" dy="-5" dx="0.7">Yr</tspan></text>
<line x1="1494.43" y1="1382.1" x2="1494.43" y2="1392.9" stroke="#000" stroke-width="1.6"/>
<text transform="translate(1500.33 1402.8) rotate(-90)" font-size="15.6" text-anchor="end"><tspan>2</tspan><tspan font-size="10.6" dy="-5" dx="0.7">Yrs</tspan></text>
<line x1="1534.89" y1="1382.1" x2="1534.89" y2="1392.9" stroke="#000" stroke-width="1.6"/>
<text transform="translate(1540.79 1402.8) rotate(-90)" font-size="15.6" text-anchor="end"><tspan>3-4</tspan><tspan font-size="10.6" dy="-5" dx="0.7">Yrs</tspan></text>
<line x1="1575.36" y1="1382.1" x2="1575.36" y2="1392.9" stroke="#000" stroke-width="1.6"/>
<text transform="translate(1581.26 1402.8) rotate(-90)" font-size="15.6" text-anchor="end"><tspan>5-7</tspan><tspan font-size="10.6" dy="-5" dx="0.7">Yrs</tspan></text>
<line x1="1615.82" y1="1382.1" x2="1615.82" y2="1392.9" stroke="#000" stroke-width="1.6"/>
<text transform="translate(1621.72 1402.8) rotate(-90)" font-size="15.6" text-anchor="end"><tspan>8-10</tspan><tspan font-size="10.6" dy="-5" dx="0.7">Yrs</tspan></text>
<line x1="1656.28" y1="1382.1" x2="1656.28" y2="1392.9" stroke="#000" stroke-width="1.6"/>
<text transform="translate(1662.18 1402.8) rotate(-90)" font-size="15.6" text-anchor="end"><tspan>11-18</tspan><tspan font-size="10.6" dy="-5" dx="0.7">Yrs</tspan></text>
</g>
<g class="p">
<text x="1879" y="1117" font-size="19.2" text-anchor="middle">CMCD19</text>
<rect x="1766.54" y="1202.4" width="32.69" height="179.7" fill="#fd0000" stroke="#000" stroke-width="1.4"/>
<rect x="1806.97" y="1203.4" width="32.69" height="178.7" fill="#fd0000" stroke="#000" stroke-width="1.4"/>
<rect x="1847.39" y="1205.4" width="32.69" height="176.7" fill="#fd0000" stroke="#000" stroke-width="1.4"/>
<rect x="1887.82" y="1210" width="32.69" height="172.1" fill="#fd0000" stroke="#000" stroke-width="1.4"/>
<rect x="1928.24" y="1209.6" width="32.69" height="172.5" fill="#fd0000" stroke="#000" stroke-width="1.4"/>
<rect x="1968.67" y="1196" width="32.69" height="186.1" fill="#fd0000" stroke="#000" stroke-width="1.4"/>
<rect x="1749.2" y="1127.6" width="269.5" height="254.5" fill="none" stroke="#000" stroke-width="1.5"/>
<line x1="1737.9" y1="1162.6" x2="1749.2" y2="1162.6" stroke="#000" stroke-width="1.6"/>
<text x="1727.1" y="1168.6" font-size="18" text-anchor="end">10</text>
<text transform="translate(1735.8 1164.1) scale(1.14 1)" font-size="11.5" text-anchor="end">2</text>
<line x1="1737.9" y1="1309" x2="1749.2" y2="1309" stroke="#000" stroke-width="1.6"/>
<text x="1727.1" y="1315" font-size="18" text-anchor="end">10</text>
<text transform="translate(1735.8 1310.5) scale(1.14 1)" font-size="11.5" text-anchor="end">0</text>
<line x1="1743.4" y1="1264.93" x2="1749.2" y2="1264.93" stroke="#000" stroke-width="1.6"/>
<line x1="1743.4" y1="1239.15" x2="1749.2" y2="1239.15" stroke="#000" stroke-width="1.6"/>
<line x1="1743.4" y1="1220.86" x2="1749.2" y2="1220.86" stroke="#000" stroke-width="1.6"/>
<line x1="1743.4" y1="1206.67" x2="1749.2" y2="1206.67" stroke="#000" stroke-width="1.6"/>
<line x1="1743.4" y1="1195.08" x2="1749.2" y2="1195.08" stroke="#000" stroke-width="1.6"/>
<line x1="1743.4" y1="1185.28" x2="1749.2" y2="1185.28" stroke="#000" stroke-width="1.6"/>
<line x1="1743.4" y1="1176.79" x2="1749.2" y2="1176.79" stroke="#000" stroke-width="1.6"/>
<line x1="1743.4" y1="1169.3" x2="1749.2" y2="1169.3" stroke="#000" stroke-width="1.6"/>
<line x1="1743.4" y1="1367.26" x2="1749.2" y2="1367.26" stroke="#000" stroke-width="1.6"/>
<line x1="1743.4" y1="1353.07" x2="1749.2" y2="1353.07" stroke="#000" stroke-width="1.6"/>
<line x1="1743.4" y1="1341.48" x2="1749.2" y2="1341.48" stroke="#000" stroke-width="1.6"/>
<line x1="1743.4" y1="1331.68" x2="1749.2" y2="1331.68" stroke="#000" stroke-width="1.6"/>
<line x1="1743.4" y1="1323.19" x2="1749.2" y2="1323.19" stroke="#000" stroke-width="1.6"/>
<line x1="1743.4" y1="1315.7" x2="1749.2" y2="1315.7" stroke="#000" stroke-width="1.6"/>
<polyline points="1945.4,1164.6 1945.4,1148.6 1988.2,1148.6 1988.2,1155.6" fill="none" stroke="#000" stroke-width="1.5"/>
<text x="1968.7" y="1154" font-size="19" text-anchor="middle" letter-spacing="2.6">**</text>
<g class="d"><circle cx="1782.9" cy="1173" r="2.75"/><circle cx="1787.2" cy="1175.8" r="2.75"/><circle cx="1778.6" cy="1176.4" r="2.75"/><circle cx="1778.9" cy="1178.2" r="2.75"/><circle cx="1774.7" cy="1178.5" r="2.75"/><circle cx="1787.2" cy="1178.8" r="2.75"/><circle cx="1782.9" cy="1179.1" r="2.75"/><circle cx="1791" cy="1180" r="2.75"/><circle cx="1771.1" cy="1185.8" r="2.75"/><circle cx="1790.6" cy="1186.4" r="2.75"/><circle cx="1783.1" cy="1188.4" r="2.75"/><circle cx="1786.7" cy="1188.6" r="2.75"/><circle cx="1779" cy="1189" r="2.75"/><circle cx="1775.1" cy="1190.2" r="2.75"/><circle cx="1794.8" cy="1190.8" r="2.75"/><circle cx="1779.3" cy="1192.8" r="2.75"/><circle cx="1783.2" cy="1193" r="2.75"/><circle cx="1790.9" cy="1193.5" r="2.75"/><circle cx="1786.6" cy="1196" r="2.75"/><circle cx="1786.7" cy="1201.6" r="2.75"/><circle cx="1779" cy="1203.8" r="2.75"/><circle cx="1783" cy="1204.4" r="2.75"/><circle cx="1790.9" cy="1205.8" r="2.75"/><circle cx="1775.1" cy="1206.4" r="2.75"/><circle cx="1787.1" cy="1208" r="2.75"/><circle cx="1782.9" cy="1209.6" r="2.75"/><circle cx="1779" cy="1212.8" r="2.75"/><circle cx="1778.8" cy="1213.4" r="2.75"/><circle cx="1787" cy="1214.8" r="2.75"/><circle cx="1782.6" cy="1215.4" r="2.75"/><circle cx="1790.7" cy="1222.8" r="2.75"/><circle cx="1783.3" cy="1223.4" r="2.75"/><circle cx="1779.2" cy="1225.8" r="2.75"/><circle cx="1786.6" cy="1226.4" r="2.75"/><circle cx="1782.8" cy="1228.8" r="2.75"/><circle cx="1786.5" cy="1229.4" r="2.75"/><circle cx="1782.8" cy="1237.6" r="2.75"/><circle cx="1778.9" cy="1239.8" r="2.75"/><circle cx="1787.2" cy="1240.4" r="2.75"/><circle cx="1782.7" cy="1244" r="2.75"/><circle cx="1782.7" cy="1271.4" r="2.75"/><circle cx="1816.3" cy="1182.4" r="2.75"/><circle cx="1830.2" cy="1183.4" r="2.75"/><circle cx="1823.3" cy="1187" r="2.75"/><circle cx="1809.3" cy="1188.8" r="2.75"/><circle cx="1823.3" cy="1189.4" r="2.75"/><circle cx="1823.3" cy="1191.9" r="2.75"/><circle cx="1816.3" cy="1192" r="2.75"/><circle cx="1837.2" cy="1192.5" r="2.75"/><circle cx="1830.3" cy="1193" r="2.75"/><circle cx="1816.4" cy="1196" r="2.75"/><circle cx="1837.3" cy="1198.8" r="2.75"/><circle cx="1830.4" cy="1199.2" r="2.75"/><circle cx="1823.3" cy="1199.5" r="2.75"/><circle cx="1823.2" cy="1202" r="2.75"/><circle cx="1830.3" cy="1203.4" r="2.75"/><circle cx="1830.4" cy="1210" r="2.75"/><circle cx="1823.3" cy="1214.8" r="2.75"/><circle cx="1830.3" cy="1215.4" r="2.75"/><circle cx="1823.2" cy="1217" r="2.75"/><circle cx="1816.3" cy="1219" r="2.75"/><circle cx="1816.4" cy="1228.8" r="2.75"/><circle cx="1823.3" cy="1229.4" r="2.75"/><circle cx="1837.4" cy="1232.8" r="2.75"/><circle cx="1830.4" cy="1233.4" r="2.75"/><circle cx="1823.4" cy="1234" r="2.75"/><circle cx="1830.3" cy="1235.6" r="2.75"/><circle cx="1823.3" cy="1241" r="2.75"/><circle cx="1823.4" cy="1250.4" r="2.75"/><circle cx="1868.4" cy="1180.8" r="2.75"/><circle cx="1858.6" cy="1181.4" r="2.75"/><circle cx="1863.4" cy="1185.8" r="2.75"/><circle cx="1868.3" cy="1186.4" r="2.75"/><circle cx="1864.1" cy="1189" r="2.75"/><circle cx="1849.3" cy="1191.8" r="2.75"/><circle cx="1858.6" cy="1192" r="2.75"/><circle cx="1854.2" cy="1192.5" r="2.75"/><circle cx="1873.3" cy="1195.8" r="2.75"/><circle cx="1868.1" cy="1195.9" r="2.75"/><circle cx="1863.5" cy="1196.3" r="2.75"/><circle cx="1878" cy="1196.5" r="2.75"/><circle cx="1864.1" cy="1197.6" r="2.75"/><circle cx="1859.2" cy="1198" r="2.75"/><circle cx="1868.3" cy="1198.5" r="2.75"/><circle cx="1863.7" cy="1202.8" r="2.75"/><circle cx="1868.2" cy="1203" r="2.75"/><circle cx="1858.6" cy="1203.4" r="2.75"/><circle cx="1873" cy="1207.6" r="2.75"/><circle cx="1868.4" cy="1208.8" r="2.75"/><circle cx="1878" cy="1209.2" r="2.75"/><circle cx="1849.2" cy="1209.4" r="2.75"/><circle cx="1864.1" cy="1210.8" r="2.75"/><circle cx="1873.6" cy="1211" r="2.75"/><circle cx="1854.2" cy="1211.3" r="2.75"/><circle cx="1859.2" cy="1212" r="2.75"/><circle cx="1858.6" cy="1214.8" r="2.75"/><circle cx="1868.2" cy="1215.4" r="2.75"/><circle cx="1863.8" cy="1217" r="2.75"/><circle cx="1858.7" cy="1220.7" r="2.75"/><circle cx="1878.3" cy="1221.1" r="2.75"/><circle cx="1854.1" cy="1221.5" r="2.75"/><circle cx="1868.4" cy="1222.8" r="2.75"/><circle cx="1873.4" cy="1223.4" r="2.75"/><circle cx="1863.5" cy="1225" r="2.75"/><circle cx="1868.7" cy="1230.2" r="2.75"/><circle cx="1863.7" cy="1230.8" r="2.75"/><circle cx="1863.7" cy="1242" r="2.75"/><circle cx="1906.5" cy="1170.6" r="2.75"/><circle cx="1901.7" cy="1175.4" r="2.75"/><circle cx="1906.5" cy="1181" r="2.75"/><circle cx="1910.5" cy="1185.7" r="2.75"/><circle cx="1902.1" cy="1186" r="2.75"/><circle cx="1910.9" cy="1186.3" r="2.75"/><circle cx="1901.8" cy="1187.6" r="2.75"/><circle cx="1897.8" cy="1190.6" r="2.75"/><circle cx="1906.7" cy="1191" r="2.75"/><circle cx="1906.5" cy="1191.4" r="2.75"/><circle cx="1897.6" cy="1192" r="2.75"/><circle cx="1902.3" cy="1195.8" r="2.75"/><circle cx="1910.8" cy="1196" r="2.75"/><circle cx="1906.6" cy="1196.4" r="2.75"/><circle cx="1901.8" cy="1199.7" r="2.75"/><circle cx="1910.8" cy="1200.2" r="2.75"/><circle cx="1897.5" cy="1200.4" r="2.75"/><circle cx="1906.4" cy="1204" r="2.75"/><circle cx="1902.1" cy="1207.7" r="2.75"/><circle cx="1893.2" cy="1207.8" r="2.75"/><circle cx="1910.5" cy="1208" r="2.75"/><circle cx="1897.6" cy="1208.4" r="2.75"/><circle cx="1915.2" cy="1208.6" r="2.75"/><circle cx="1906.6" cy="1210" r="2.75"/><circle cx="1902.2" cy="1212.7" r="2.75"/><circle cx="1893" cy="1213" r="2.75"/><circle cx="1914.8" cy="1213.5" r="2.75"/><circle cx="1910.7" cy="1214.5" r="2.75"/><circle cx="1897.9" cy="1214.7" r="2.75"/><circle cx="1919.6" cy="1215" r="2.75"/><circle cx="1906.2" cy="1218.7" r="2.75"/><circle cx="1919.5" cy="1219.1" r="2.75"/><circle cx="1915.5" cy="1219.5" r="2.75"/><circle cx="1897.8" cy="1220.7" r="2.75"/><circle cx="1893.4" cy="1221" r="2.75"/><circle cx="1902.3" cy="1221.5" r="2.75"/><circle cx="1910.7" cy="1223" r="2.75"/><circle cx="1906.6" cy="1226.4" r="2.75"/><circle cx="1915.3" cy="1232" r="2.75"/><circle cx="1919.9" cy="1234.8" r="2.75"/><circle cx="1906.3" cy="1235" r="2.75"/><circle cx="1888.5" cy="1235.5" r="2.75"/><circle cx="1897.2" cy="1236.2" r="2.75"/><circle cx="1902.2" cy="1236.3" r="2.75"/><circle cx="1911.1" cy="1236.7" r="2.75"/><circle cx="1892.9" cy="1237" r="2.75"/><circle cx="1906.2" cy="1238" r="2.75"/><circle cx="1906.4" cy="1253" r="2.75"/><circle cx="1906.4" cy="1274.4" r="2.75"/><circle cx="1906.6" cy="1299.4" r="2.75"/><circle cx="1944.4" cy="1175.4" r="2.75"/><circle cx="1948.3" cy="1179.8" r="2.75"/><circle cx="1940.8" cy="1180.4" r="2.75"/><circle cx="1948.4" cy="1181.1" r="2.75"/><circle cx="1944.9" cy="1181.5" r="2.75"/><circle cx="1952.5" cy="1181.8" r="2.75"/><circle cx="1940.5" cy="1183.8" r="2.75"/><circle cx="1936.5" cy="1184.4" r="2.75"/><circle cx="1948.9" cy="1186.8" r="2.75"/><circle cx="1944.3" cy="1187.1" r="2.75"/><circle cx="1940.6" cy="1187.5" r="2.75"/><circle cx="1944.8" cy="1191.8" r="2.75"/><circle cx="1952.8" cy="1191.9" r="2.75"/><circle cx="1940.4" cy="1192.2" r="2.75"/><circle cx="1948.5" cy="1192.6" r="2.75"/><circle cx="1940.9" cy="1196.9" r="2.75"/><circle cx="1944.6" cy="1197.1" r="2.75"/><circle cx="1948.8" cy="1197.5" r="2.75"/><circle cx="1936.6" cy="1203.3" r="2.75"/><circle cx="1952.7" cy="1203.7" r="2.75"/><circle cx="1940.7" cy="1203.8" r="2.75"/><circle cx="1948.8" cy="1204.1" r="2.75"/><circle cx="1944.9" cy="1206" r="2.75"/><circle cx="1957" cy="1208.4" r="2.75"/><circle cx="1933" cy="1208.6" r="2.75"/><circle cx="1952.3" cy="1209" r="2.75"/><circle cx="1960.7" cy="1209.2" r="2.75"/><circle cx="1940.7" cy="1209.2" r="2.75"/><circle cx="1928.6" cy="1209.5" r="2.75"/><circle cx="1936.5" cy="1210.8" r="2.75"/><circle cx="1948.6" cy="1211.1" r="2.75"/><circle cx="1944.5" cy="1211.4" r="2.75"/><circle cx="1948.4" cy="1215.8" r="2.75"/><circle cx="1944.7" cy="1216.4" r="2.75"/><circle cx="1940.5" cy="1219.8" r="2.75"/><circle cx="1956.8" cy="1219.9" r="2.75"/><circle cx="1952.3" cy="1220.2" r="2.75"/><circle cx="1936.6" cy="1220.6" r="2.75"/><circle cx="1940.3" cy="1222.8" r="2.75"/><circle cx="1952.4" cy="1223.1" r="2.75"/><circle cx="1944.5" cy="1223.4" r="2.75"/><circle cx="1948.9" cy="1227.7" r="2.75"/><circle cx="1952.9" cy="1228.1" r="2.75"/><circle cx="1948.3" cy="1228.5" r="2.75"/><circle cx="1940.5" cy="1231.8" r="2.75"/><circle cx="1944.6" cy="1232.4" r="2.75"/><circle cx="1940.7" cy="1235.7" r="2.75"/><circle cx="1944.4" cy="1236.1" r="2.75"/><circle cx="1948.4" cy="1236.4" r="2.75"/><circle cx="1952.8" cy="1244" r="2.75"/><circle cx="1944.7" cy="1247.1" r="2.75"/><circle cx="1937" cy="1247.6" r="2.75"/><circle cx="1940.7" cy="1247.8" r="2.75"/><circle cx="1948.5" cy="1248.6" r="2.75"/><circle cx="1982.7" cy="1169.5" r="2.75"/><circle cx="1987.1" cy="1169.8" r="2.75"/><circle cx="1979.1" cy="1170.2" r="2.75"/><circle cx="1974.3" cy="1170.4" r="2.75"/><circle cx="1995.2" cy="1171.8" r="2.75"/><circle cx="1970.4" cy="1172.4" r="2.75"/><circle cx="1999.6" cy="1173.8" r="2.75"/><circle cx="1991.4" cy="1174" r="2.75"/><circle cx="2004" cy="1174.3" r="2.75"/><circle cx="1982.6" cy="1176" r="2.75"/><circle cx="1986.7" cy="1181" r="2.75"/><circle cx="1991.1" cy="1183.6" r="2.75"/><circle cx="1982.6" cy="1184.2" r="2.75"/><circle cx="1979.1" cy="1184.3" r="2.75"/><circle cx="1974.5" cy="1186.3" r="2.75"/><circle cx="2000.1" cy="1186.5" r="2.75"/><circle cx="1995.2" cy="1186.8" r="2.75"/><circle cx="1987" cy="1187.1" r="2.75"/><circle cx="1974.5" cy="1190.8" r="2.75"/><circle cx="1991.4" cy="1191.1" r="2.75"/><circle cx="1978.4" cy="1191.3" r="2.75"/><circle cx="1987.1" cy="1191.5" r="2.75"/><circle cx="1995.5" cy="1192.9" r="2.75"/><circle cx="1999.4" cy="1193" r="2.75"/><circle cx="1983.1" cy="1193.6" r="2.75"/><circle cx="1987.2" cy="1196.7" r="2.75"/><circle cx="1978.5" cy="1196.9" r="2.75"/><circle cx="1982.6" cy="1197.3" r="2.75"/><circle cx="1991.6" cy="1197.6" r="2.75"/><circle cx="1983.1" cy="1201.7" r="2.75"/><circle cx="1987.5" cy="1202" r="2.75"/><circle cx="1991.2" cy="1202.5" r="2.75"/><circle cx="1986.7" cy="1207.8" r="2.75"/><circle cx="1982.9" cy="1208.1" r="2.75"/><circle cx="1991.6" cy="1208.6" r="2.75"/><circle cx="1983.2" cy="1213.6" r="2.75"/><circle cx="1991.3" cy="1214" r="2.75"/><circle cx="1987.2" cy="1214.3" r="2.75"/><circle cx="1979" cy="1216" r="2.75"/><circle cx="1983.1" cy="1221" r="2.75"/><circle cx="1986.8" cy="1222.8" r="2.75"/><circle cx="1991.2" cy="1223.4" r="2.75"/><circle cx="1987" cy="1231" r="2.75"/><circle cx="1987.1" cy="1239.8" r="2.75"/><circle cx="1983.1" cy="1240.4" r="2.75"/><circle cx="1987" cy="1253.4" r="2.75"/><circle cx="1986.9" cy="1258.6" r="2.75"/></g>
<line x1="1782.89" y1="1382.1" x2="1782.89" y2="1392.9" stroke="#000" stroke-width="1.6"/>
<text transform="translate(1788.79 1402.8) rotate(-90)" font-size="15.6" text-anchor="end"><tspan>9</tspan><tspan font-size="10.6" dy="-5" dx="0.7">Mths</tspan><tspan font-size="15.6" dy="5" dx="0.3">-1</tspan><tspan font-size="10.6" dy="-5" dx="0.7">Yr</tspan></text>
<line x1="1823.31" y1="1382.1" x2="1823.31" y2="1392.9" stroke="#000" stroke-width="1.6"/>
<text transform="translate(1829.21 1402.8) rotate(-90)" font-size="15.6" text-anchor="end"><tspan>2</tspan><tspan font-size="10.6" dy="-5" dx="0.7">Yrs</tspan></text>
<line x1="1863.74" y1="1382.1" x2="1863.74" y2="1392.9" stroke="#000" stroke-width="1.6"/>
<text transform="translate(1869.64 1402.8) rotate(-90)" font-size="15.6" text-anchor="end"><tspan>3-4</tspan><tspan font-size="10.6" dy="-5" dx="0.7">Yrs</tspan></text>
<line x1="1904.16" y1="1382.1" x2="1904.16" y2="1392.9" stroke="#000" stroke-width="1.6"/>
<text transform="translate(1910.06 1402.8) rotate(-90)" font-size="15.6" text-anchor="end"><tspan>5-7</tspan><tspan font-size="10.6" dy="-5" dx="0.7">Yrs</tspan></text>
<line x1="1944.59" y1="1382.1" x2="1944.59" y2="1392.9" stroke="#000" stroke-width="1.6"/>
<text transform="translate(1950.49 1402.8) rotate(-90)" font-size="15.6" text-anchor="end"><tspan>8-10</tspan><tspan font-size="10.6" dy="-5" dx="0.7">Yrs</tspan></text>
<line x1="1985.01" y1="1382.1" x2="1985.01" y2="1392.9" stroke="#000" stroke-width="1.6"/>
<text transform="translate(1990.91 1402.8) rotate(-90)" font-size="15.6" text-anchor="end"><tspan>11-18</tspan><tspan font-size="10.6" dy="-5" dx="0.7">Yrs</tspan></text>
</g>
<line x1="84" y1="1495" x2="397" y2="1495" stroke="#000" stroke-width="1.6"/>
<line x1="650" y1="1495" x2="1011" y2="1495" stroke="#000" stroke-width="1.6"/>
<text x="523.5" y="1501.6" font-size="19.5" text-anchor="middle">Age Ranges</text>
<line x1="1088" y1="1495" x2="1402" y2="1495" stroke="#000" stroke-width="1.6"/>
<line x1="1655" y1="1495" x2="2015" y2="1495" stroke="#000" stroke-width="1.6"/>
<text x="1528" y="1501.6" font-size="19.5" text-anchor="middle">Age Ranges</text>
</svg>
</body></html>
